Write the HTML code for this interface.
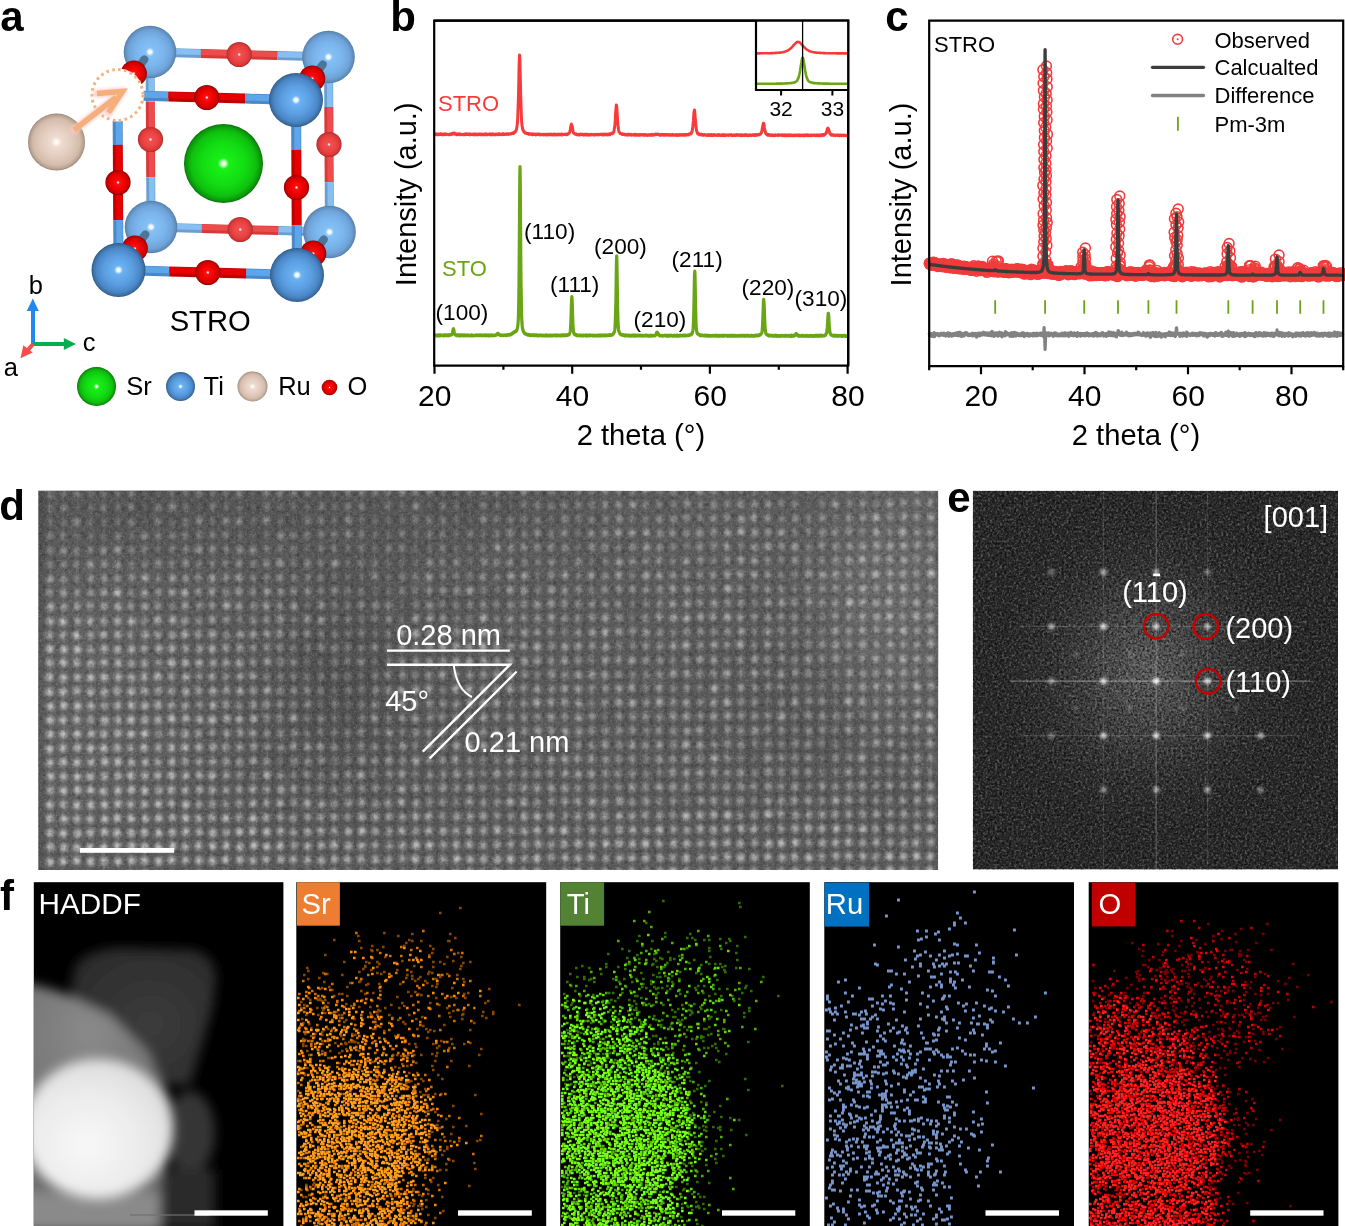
<!DOCTYPE html><html><head><meta charset="utf-8"><title>STRO figure</title><style>html,body{margin:0;padding:0;background:#fff;overflow:hidden}svg{display:block}text{font-family:"Liberation Sans",Arial,sans-serif}</style></head><body><svg width="1345" height="1226" viewBox="0 0 1345 1226" font-family="Liberation Sans, Arial, sans-serif"><defs><radialGradient id="tiF" cx=".5" cy=".5" r=".5"><stop offset="0" stop-color="#ffffff"/><stop offset="0.06" stop-color="#f0faff"/><stop offset="0.16" stop-color="#6ab2f2"/><stop offset="0.55" stop-color="#5a9de0"/><stop offset="0.82" stop-color="#4a86c6"/><stop offset="0.95" stop-color="#3b6c9f"/><stop offset="1" stop-color="#2b5680"/></radialGradient><radialGradient id="tiB" cx=".5" cy=".5" r=".5"><stop offset="0" stop-color="#ffffff"/><stop offset="0.06" stop-color="#f0faff"/><stop offset="0.16" stop-color="#84c0f6"/><stop offset="0.55" stop-color="#7ab4ec"/><stop offset="0.82" stop-color="#6ea3d8"/><stop offset="0.95" stop-color="#5f8cba"/><stop offset="1" stop-color="#4f78a2"/></radialGradient><radialGradient id="oF" cx=".5" cy=".5" r=".5"><stop offset="0" stop-color="#ffffff"/><stop offset="0.05" stop-color="#ffd0d0"/><stop offset="0.14" stop-color="#ff1010"/><stop offset="0.55" stop-color="#ee0000"/><stop offset="0.82" stop-color="#d00000"/><stop offset="0.95" stop-color="#a80000"/><stop offset="1" stop-color="#800000"/></radialGradient><radialGradient id="oB" cx=".5" cy=".5" r=".5"><stop offset="0" stop-color="#ffffff"/><stop offset="0.05" stop-color="#ffd8d8"/><stop offset="0.14" stop-color="#f25050"/><stop offset="0.55" stop-color="#ec4444"/><stop offset="0.82" stop-color="#dc3a3a"/><stop offset="0.95" stop-color="#c03030"/><stop offset="1" stop-color="#a02828"/></radialGradient><radialGradient id="srG" cx=".5" cy=".5" r=".5"><stop offset="0" stop-color="#ffffff"/><stop offset="0.05" stop-color="#d8ffd8"/><stop offset="0.14" stop-color="#18f018"/><stop offset="0.55" stop-color="#12dc12"/><stop offset="0.82" stop-color="#0fc00f"/><stop offset="0.95" stop-color="#0a960a"/><stop offset="1" stop-color="#087008"/></radialGradient><radialGradient id="ruG" cx=".5" cy=".5" r=".5"><stop offset="0" stop-color="#ffffff"/><stop offset="0.07" stop-color="#fff4ee"/><stop offset="0.18" stop-color="#eedcd0"/><stop offset="0.55" stop-color="#e2cbbd"/><stop offset="0.82" stop-color="#d4bcac"/><stop offset="0.95" stop-color="#b8a090"/><stop offset="1" stop-color="#98806e"/></radialGradient></defs><rect width="1345" height="1226" fill="#fff"/><line x1="150.0" y1="52.0" x2="200.9" y2="53.4" stroke="#6a9ed0" stroke-width="9"/><line x1="150.0" y1="50.9" x2="200.9" y2="52.3" stroke="#86bff0" stroke-width="5.6"/><line x1="200.9" y1="53.4" x2="277.6" y2="55.6" stroke="#d83838" stroke-width="9"/><line x1="200.9" y1="52.3" x2="277.7" y2="54.5" stroke="#ee4c4c" stroke-width="5.6"/><line x1="277.6" y1="55.6" x2="328.5" y2="57.0" stroke="#6a9ed0" stroke-width="9"/><line x1="277.7" y1="54.5" x2="328.5" y2="55.9" stroke="#86bff0" stroke-width="5.6"/><line x1="328.5" y1="57.0" x2="328.8" y2="106.9" stroke="#6a9ed0" stroke-width="9"/><line x1="329.6" y1="57.0" x2="329.9" y2="106.9" stroke="#86bff0" stroke-width="5.6"/><line x1="328.8" y1="106.9" x2="329.2" y2="182.1" stroke="#d83838" stroke-width="9"/><line x1="329.9" y1="106.9" x2="330.3" y2="182.1" stroke="#ee4c4c" stroke-width="5.6"/><line x1="329.2" y1="182.1" x2="329.5" y2="232.0" stroke="#6a9ed0" stroke-width="9"/><line x1="330.3" y1="182.1" x2="330.6" y2="232.0" stroke="#86bff0" stroke-width="5.6"/><line x1="151.0" y1="227.0" x2="201.9" y2="228.4" stroke="#6a9ed0" stroke-width="9"/><line x1="151.0" y1="225.9" x2="201.9" y2="227.3" stroke="#86bff0" stroke-width="5.6"/><line x1="201.9" y1="228.4" x2="278.6" y2="230.6" stroke="#d83838" stroke-width="9"/><line x1="201.9" y1="227.3" x2="278.7" y2="229.5" stroke="#ee4c4c" stroke-width="5.6"/><line x1="278.6" y1="230.6" x2="329.5" y2="232.0" stroke="#6a9ed0" stroke-width="9"/><line x1="278.7" y1="229.5" x2="329.5" y2="230.9" stroke="#86bff0" stroke-width="5.6"/><line x1="150.0" y1="52.0" x2="150.3" y2="101.9" stroke="#6a9ed0" stroke-width="9"/><line x1="151.1" y1="52.0" x2="151.4" y2="101.9" stroke="#86bff0" stroke-width="5.6"/><line x1="150.3" y1="101.9" x2="150.7" y2="177.1" stroke="#d83838" stroke-width="9"/><line x1="151.4" y1="101.9" x2="151.8" y2="177.1" stroke="#ee4c4c" stroke-width="5.6"/><line x1="150.7" y1="177.1" x2="151.0" y2="227.0" stroke="#6a9ed0" stroke-width="9"/><line x1="151.8" y1="177.1" x2="152.1" y2="227.0" stroke="#86bff0" stroke-width="5.6"/><circle cx="239.2" cy="54.5" r="12.6" fill="url(#oB)"/><circle cx="329.0" cy="144.5" r="12.6" fill="url(#oB)"/><circle cx="240.2" cy="229.5" r="12.6" fill="url(#oB)"/><circle cx="150.5" cy="139.5" r="12.6" fill="url(#oB)"/><circle cx="150.0" cy="52.0" r="26.3" fill="url(#tiB)"/><circle cx="328.5" cy="57.0" r="26.3" fill="url(#tiB)"/><circle cx="329.5" cy="232.0" r="26.3" fill="url(#tiB)"/><circle cx="151.0" cy="227.0" r="26.3" fill="url(#tiB)"/><line x1="144.3" y1="59.5" x2="133.8" y2="73.5" stroke="#4d7597" stroke-width="8" stroke-linecap="round"/><circle cx="133.8" cy="73.5" r="13.1" fill="url(#oF)"/><line x1="322.8" y1="64.5" x2="312.2" y2="78.5" stroke="#4d7597" stroke-width="8" stroke-linecap="round"/><circle cx="312.2" cy="78.5" r="13.1" fill="url(#oF)"/><line x1="145.3" y1="234.5" x2="134.8" y2="248.5" stroke="#4d7597" stroke-width="8" stroke-linecap="round"/><circle cx="134.8" cy="248.5" r="13.1" fill="url(#oF)"/><line x1="323.8" y1="239.5" x2="313.2" y2="253.5" stroke="#4d7597" stroke-width="8" stroke-linecap="round"/><circle cx="313.2" cy="253.5" r="13.1" fill="url(#oF)"/><circle cx="223.5" cy="163.5" r="39.5" fill="url(#srG)"/><line x1="117.5" y1="95.0" x2="168.4" y2="96.4" stroke="#4a88c8" stroke-width="10"/><line x1="117.5" y1="93.8" x2="168.4" y2="95.2" stroke="#5ea6ea" stroke-width="6.2"/><line x1="168.4" y1="96.4" x2="245.1" y2="98.6" stroke="#c00000" stroke-width="10"/><line x1="168.4" y1="95.2" x2="245.2" y2="97.4" stroke="#e60000" stroke-width="6.2"/><line x1="245.1" y1="98.6" x2="296.0" y2="100.0" stroke="#4a88c8" stroke-width="10"/><line x1="245.2" y1="97.4" x2="296.0" y2="98.8" stroke="#5ea6ea" stroke-width="6.2"/><line x1="296.0" y1="100.0" x2="296.3" y2="149.9" stroke="#4a88c8" stroke-width="10"/><line x1="297.2" y1="100.0" x2="297.5" y2="149.9" stroke="#5ea6ea" stroke-width="6.2"/><line x1="296.3" y1="149.9" x2="296.7" y2="225.1" stroke="#c00000" stroke-width="10"/><line x1="297.5" y1="149.9" x2="297.9" y2="225.1" stroke="#e60000" stroke-width="6.2"/><line x1="296.7" y1="225.1" x2="297.0" y2="275.0" stroke="#4a88c8" stroke-width="10"/><line x1="297.9" y1="225.1" x2="298.2" y2="275.0" stroke="#5ea6ea" stroke-width="6.2"/><line x1="118.5" y1="270.0" x2="169.4" y2="271.4" stroke="#4a88c8" stroke-width="10"/><line x1="118.5" y1="268.8" x2="169.4" y2="270.2" stroke="#5ea6ea" stroke-width="6.2"/><line x1="169.4" y1="271.4" x2="246.1" y2="273.6" stroke="#c00000" stroke-width="10"/><line x1="169.4" y1="270.2" x2="246.2" y2="272.4" stroke="#e60000" stroke-width="6.2"/><line x1="246.1" y1="273.6" x2="297.0" y2="275.0" stroke="#4a88c8" stroke-width="10"/><line x1="246.2" y1="272.4" x2="297.0" y2="273.8" stroke="#5ea6ea" stroke-width="6.2"/><line x1="117.5" y1="95.0" x2="117.8" y2="144.9" stroke="#4a88c8" stroke-width="10"/><line x1="118.7" y1="95.0" x2="119.0" y2="144.9" stroke="#5ea6ea" stroke-width="6.2"/><line x1="117.8" y1="144.9" x2="118.2" y2="220.1" stroke="#c00000" stroke-width="10"/><line x1="119.0" y1="144.9" x2="119.4" y2="220.1" stroke="#e60000" stroke-width="6.2"/><line x1="118.2" y1="220.1" x2="118.5" y2="270.0" stroke="#4a88c8" stroke-width="10"/><line x1="119.4" y1="220.1" x2="119.7" y2="270.0" stroke="#5ea6ea" stroke-width="6.2"/><circle cx="206.8" cy="97.5" r="12.6" fill="url(#oF)"/><circle cx="296.5" cy="187.5" r="12.6" fill="url(#oF)"/><circle cx="207.8" cy="272.5" r="12.6" fill="url(#oF)"/><circle cx="118.0" cy="182.5" r="12.6" fill="url(#oF)"/><circle cx="296.0" cy="100.0" r="27" fill="url(#tiF)"/><circle cx="297.0" cy="275.0" r="27" fill="url(#tiF)"/><circle cx="118.5" cy="270.0" r="27" fill="url(#tiF)"/><circle cx="117.5" cy="95.0" r="26.5" fill="#fff" stroke="none"/><circle cx="117.5" cy="95.0" r="25.5" fill="none" stroke="#f2b27e" stroke-width="3" stroke-dasharray="2.6 3.4"/><circle cx="56.5" cy="142.0" r="28.5" fill="url(#ruG)"/><defs><filter id="glow" x="-30%" y="-30%" width="160%" height="160%"><feGaussianBlur stdDeviation="1.6"/></filter></defs><g stroke="#ffc8c0" stroke-width="8" fill="none" stroke-linecap="round" stroke-linejoin="round" filter="url(#glow)" opacity=".8"><path d="M74,130 L118,96"/><path d="M97,93.5 L122.5,91.5 L108.5,112.5"/></g><g stroke="#f4af7c" stroke-width="5.5" fill="none" stroke-linecap="butt" stroke-linejoin="miter"><path d="M74,130 L116,97.5"/><path d="M97,93.5 L122.5,91.5 L108.5,112.5"/></g><text x="210.2" y="330.7" font-size="29.2" text-anchor="middle">STRO</text><g stroke-width="4" fill="none"><path d="M33,344 V309" stroke="#2287ee"/><path d="M33,344 H66" stroke="#05ae50"/><path d="M33,344 L25.5,353" stroke="#fa4c4c"/></g><path d="M32.8,298.5 L26.8,311 L38.8,311 Z" fill="#2287ee"/><path d="M76,344 L63.8,338 L63.8,350 Z" fill="#05ae50"/><path d="M20.5,358.2 L23.3,345.2 L32.7,352.6 Z" fill="#fa4c4c"/><text x="35.8" y="293.5" font-size="25.5" text-anchor="middle">b</text><text x="89.2" y="351.2" font-size="25.5" text-anchor="middle">c</text><text x="10.8" y="375.8" font-size="25.5" text-anchor="middle">a</text><circle cx="96.5" cy="386.5" r="19.5" fill="url(#srG)"/><text x="126.3" y="395" font-size="25.5">Sr</text><circle cx="180.5" cy="386.5" r="14.5" fill="url(#tiF)"/><text x="203.6" y="395" font-size="25.5">Ti</text><circle cx="252.5" cy="386.5" r="15" fill="url(#ruG)"/><text x="278.2" y="395" font-size="25.5">Ru</text><circle cx="329.5" cy="387.5" r="7.8" fill="url(#oF)"/><text x="347.5" y="395" font-size="25.5">O</text><text x="12" y="31" font-size="42" font-weight="bold" text-anchor="middle">a</text><polyline points="434.5,134.1 434.8,134.3 435.1,134.2 435.3,134.4 435.6,134.4 435.9,133.9 436.2,133.9 436.4,134.6 436.7,134.1 437.0,134.1 437.3,134.7 437.5,134.3 437.8,134.6 438.1,134.3 438.4,134.4 438.6,134.0 438.9,134.4 439.2,134.6 439.5,134.3 439.7,134.5 440.0,134.5 440.3,133.9 440.6,134.5 440.8,134.4 441.1,134.1 441.4,133.9 441.7,134.6 441.9,134.3 442.2,134.5 442.5,134.6 442.8,134.5 443.0,134.7 443.3,134.2 443.6,134.6 443.9,134.3 444.1,134.7 444.4,134.6 444.7,133.9 445.0,134.0 445.2,134.0 445.5,134.7 445.8,134.2 446.1,134.4 446.3,134.1 446.6,134.3 446.9,134.2 447.2,134.2 447.4,134.4 447.7,134.4 448.0,134.7 448.3,134.5 448.5,134.7 448.8,134.6 449.1,134.7 449.4,134.4 449.6,134.0 449.9,134.6 450.2,134.7 450.5,134.6 450.7,134.3 451.0,134.4 451.3,133.9 451.6,134.4 451.9,134.1 452.1,133.7 452.4,133.4 452.7,134.0 453.0,134.0 453.2,133.1 453.5,133.6 453.8,133.3 454.1,133.1 454.3,133.3 454.6,133.8 454.9,134.1 455.2,133.4 455.4,134.1 455.7,133.6 456.0,134.3 456.3,134.0 456.5,134.5 456.8,134.7 457.1,134.3 457.4,134.7 457.6,134.1 457.9,133.9 458.2,134.4 458.5,133.9 458.7,134.0 459.0,134.2 459.3,134.4 459.6,134.0 459.8,133.9 460.1,134.7 460.4,134.2 460.7,134.7 460.9,134.7 461.2,134.2 461.5,134.3 461.8,134.4 462.0,134.5 462.3,134.4 462.6,134.4 462.9,134.5 463.1,134.7 463.4,134.4 463.7,134.3 464.0,134.6 464.2,134.1 464.5,134.2 464.8,134.8 465.1,134.4 465.3,134.4 465.6,133.9 465.9,134.3 466.2,134.4 466.4,133.9 466.7,134.5 467.0,134.5 467.3,134.0 467.5,134.5 467.8,134.3 468.1,134.5 468.4,134.2 468.6,134.6 468.9,134.6 469.2,133.9 469.5,134.0 469.8,134.5 470.0,134.8 470.3,134.1 470.6,134.3 470.9,134.5 471.1,134.2 471.4,134.3 471.7,134.2 472.0,134.3 472.2,134.5 472.5,134.2 472.8,134.3 473.1,134.6 473.3,134.0 473.6,134.4 473.9,134.6 474.2,134.2 474.4,134.1 474.7,134.7 475.0,134.1 475.3,134.1 475.5,134.3 475.8,134.6 476.1,134.0 476.4,134.2 476.6,134.2 476.9,134.7 477.2,134.3 477.5,134.7 477.7,134.1 478.0,134.2 478.3,134.5 478.6,134.7 478.8,134.3 479.1,134.1 479.4,134.0 479.7,134.4 479.9,134.1 480.2,134.7 480.5,134.7 480.8,134.1 481.0,134.2 481.3,134.7 481.6,134.5 481.9,134.7 482.1,134.3 482.4,134.1 482.7,134.2 483.0,134.7 483.2,134.2 483.5,134.3 483.8,134.3 484.1,134.3 484.3,134.3 484.6,134.8 484.9,134.1 485.2,133.9 485.4,134.8 485.7,134.7 486.0,134.8 486.3,134.3 486.6,134.8 486.8,134.8 487.1,134.1 487.4,134.6 487.7,134.7 487.9,134.5 488.2,134.4 488.5,134.2 488.8,134.2 489.0,134.1 489.3,134.0 489.6,134.5 489.9,134.2 490.1,134.7 490.4,134.0 490.7,134.8 491.0,134.6 491.2,134.8 491.5,134.7 491.8,134.7 492.1,134.5 492.3,133.9 492.6,134.6 492.9,134.1 493.2,134.2 493.4,134.5 493.7,134.4 494.0,134.3 494.3,134.8 494.5,134.5 494.8,134.2 495.1,134.2 495.4,134.7 495.6,134.4 495.9,134.6 496.2,134.2 496.5,134.1 496.7,134.4 497.0,134.6 497.3,134.1 497.6,134.6 497.8,134.7 498.1,134.6 498.4,134.6 498.7,133.9 498.9,134.5 499.2,134.7 499.5,133.9 499.8,134.1 500.0,134.1 500.3,134.4 500.6,134.3 500.9,134.3 501.1,134.6 501.4,133.9 501.7,133.9 502.0,134.0 502.2,134.0 502.5,133.9 502.8,134.7 503.1,134.6 503.3,133.9 503.6,134.3 503.9,134.1 504.2,134.1 504.5,134.1 504.7,134.4 505.0,134.3 505.3,134.1 505.6,133.9 505.8,134.0 506.1,133.8 506.4,134.2 506.7,134.4 506.9,134.0 507.2,133.8 507.5,133.8 507.8,134.0 508.0,134.2 508.3,134.3 508.6,133.9 508.9,134.3 509.1,134.1 509.4,133.9 509.7,133.8 510.0,133.9 510.2,134.0 510.5,133.8 510.8,134.0 511.1,133.7 511.3,133.5 511.6,133.7 511.9,133.7 512.2,133.1 512.4,133.4 512.7,133.3 513.0,133.6 513.3,133.5 513.5,132.9 513.8,133.2 514.1,133.0 514.4,132.3 514.6,132.3 514.9,131.7 515.2,132.0 515.5,131.5 515.7,131.3 516.0,130.7 516.3,129.9 516.6,129.0 516.8,127.6 517.1,125.4 517.4,123.1 517.7,118.6 517.9,112.9 518.2,105.5 518.5,94.5 518.8,82.3 519.0,69.5 519.3,59.8 519.6,55.1 519.9,59.1 520.1,70.2 520.4,82.3 520.7,95.3 521.0,105.4 521.3,113.6 521.5,119.5 521.8,123.1 522.1,126.0 522.4,127.2 522.6,129.1 522.9,129.7 523.2,130.6 523.5,130.6 523.7,131.6 524.0,132.1 524.3,131.7 524.6,132.2 524.8,132.6 525.1,133.0 525.4,132.7 525.7,132.7 525.9,132.9 526.2,133.4 526.5,133.6 526.8,133.4 527.0,133.4 527.3,133.5 527.6,133.5 527.9,133.7 528.1,133.4 528.4,133.8 528.7,134.3 529.0,133.8 529.2,134.2 529.5,133.7 529.8,134.2 530.1,134.3 530.3,134.2 530.6,134.1 530.9,134.1 531.2,134.3 531.4,134.5 531.7,133.9 532.0,133.8 532.3,134.4 532.5,134.6 532.8,134.3 533.1,134.2 533.4,134.5 533.6,134.0 533.9,134.1 534.2,134.0 534.5,134.4 534.7,134.2 535.0,134.1 535.3,134.5 535.6,134.8 535.8,134.2 536.1,134.6 536.4,134.3 536.7,134.7 536.9,134.5 537.2,134.2 537.5,134.2 537.8,134.0 538.1,134.4 538.3,134.3 538.6,134.1 538.9,134.3 539.2,134.3 539.4,134.7 539.7,134.1 540.0,134.9 540.3,134.4 540.5,134.6 540.8,134.4 541.1,134.8 541.4,134.8 541.6,134.5 541.9,134.5 542.2,134.7 542.5,134.8 542.7,134.4 543.0,134.7 543.3,134.9 543.6,134.5 543.8,134.3 544.1,134.3 544.4,134.7 544.7,134.7 544.9,134.9 545.2,134.8 545.5,134.3 545.8,134.2 546.0,134.3 546.3,134.2 546.6,134.7 546.9,134.9 547.1,134.9 547.4,134.3 547.7,134.9 548.0,134.4 548.2,134.5 548.5,134.7 548.8,134.2 549.1,134.2 549.3,134.8 549.6,134.4 549.9,134.4 550.2,134.6 550.4,134.7 550.7,134.1 551.0,134.4 551.3,134.5 551.5,134.5 551.8,134.3 552.1,134.6 552.4,135.0 552.6,134.5 552.9,134.6 553.2,134.2 553.5,134.4 553.7,134.7 554.0,134.2 554.3,134.9 554.6,134.9 554.8,134.2 555.1,135.0 555.4,134.5 555.7,134.8 556.0,134.8 556.2,134.4 556.5,134.7 556.8,134.7 557.1,134.8 557.3,134.4 557.6,134.8 557.9,135.0 558.2,134.7 558.4,134.6 558.7,134.2 559.0,134.6 559.3,134.4 559.5,134.8 559.8,134.7 560.1,134.6 560.4,134.3 560.6,134.7 560.9,134.7 561.2,134.3 561.5,134.9 561.7,134.7 562.0,134.2 562.3,134.9 562.6,134.2 562.8,134.4 563.1,134.7 563.4,134.6 563.7,134.5 563.9,134.6 564.2,134.4 564.5,134.3 564.8,134.2 565.0,134.1 565.3,134.6 565.6,134.6 565.9,134.4 566.1,134.6 566.4,134.2 566.7,134.1 567.0,134.2 567.2,134.6 567.5,133.7 567.8,134.1 568.1,133.8 568.3,134.1 568.6,133.6 568.9,133.3 569.2,133.1 569.4,132.7 569.7,132.2 570.0,130.9 570.3,130.2 570.5,128.1 570.8,126.6 571.1,125.0 571.4,124.1 571.6,124.7 571.9,125.6 572.2,126.5 572.5,128.1 572.8,129.8 573.0,131.3 573.3,132.3 573.6,132.9 573.9,133.3 574.1,133.2 574.4,133.6 574.7,133.6 575.0,134.0 575.2,134.2 575.5,133.9 575.8,134.0 576.1,134.5 576.3,133.9 576.6,134.6 576.9,134.8 577.2,134.8 577.4,134.3 577.7,134.5 578.0,134.6 578.3,134.6 578.5,134.9 578.8,134.7 579.1,134.4 579.4,134.9 579.6,134.5 579.9,134.7 580.2,134.8 580.5,134.1 580.7,134.8 581.0,134.7 581.3,134.6 581.6,134.6 581.8,134.6 582.1,134.3 582.4,134.6 582.7,134.2 582.9,134.6 583.2,134.8 583.5,134.6 583.8,134.7 584.0,135.1 584.3,135.0 584.6,134.3 584.9,134.9 585.1,134.8 585.4,134.2 585.7,134.5 586.0,134.4 586.2,134.3 586.5,134.7 586.8,135.1 587.1,134.5 587.3,135.0 587.6,134.8 587.9,134.3 588.2,135.0 588.4,134.8 588.7,135.1 589.0,134.9 589.3,134.9 589.6,134.5 589.8,135.0 590.1,135.1 590.4,135.0 590.7,134.6 590.9,134.9 591.2,134.7 591.5,134.3 591.8,134.3 592.0,134.3 592.3,134.4 592.6,134.4 592.9,134.7 593.1,134.9 593.4,134.7 593.7,134.6 594.0,134.8 594.2,134.5 594.5,134.7 594.8,134.9 595.1,134.6 595.3,134.4 595.6,135.0 595.9,134.9 596.2,134.6 596.4,134.6 596.7,134.7 597.0,134.8 597.3,134.4 597.5,134.2 597.8,134.4 598.1,134.9 598.4,134.4 598.6,134.6 598.9,134.4 599.2,134.4 599.5,134.4 599.7,134.6 600.0,134.4 600.3,134.2 600.6,134.3 600.8,134.4 601.1,134.6 601.4,134.3 601.7,134.2 601.9,134.6 602.2,134.6 602.5,134.8 602.8,134.2 603.0,134.5 603.3,134.5 603.6,134.2 603.9,135.0 604.1,134.4 604.4,134.2 604.7,134.6 605.0,134.3 605.2,134.7 605.5,134.4 605.8,134.2 606.1,134.1 606.3,134.7 606.6,134.3 606.9,134.8 607.2,134.5 607.5,134.9 607.7,134.3 608.0,134.2 608.3,134.2 608.6,134.7 608.8,134.5 609.1,134.2 609.4,133.9 609.7,134.4 609.9,134.6 610.2,134.3 610.5,133.7 610.8,133.6 611.0,133.6 611.3,133.6 611.6,133.4 611.9,133.3 612.1,133.7 612.4,133.7 612.7,132.9 613.0,133.3 613.2,132.6 613.5,132.4 613.8,131.8 614.1,130.9 614.3,128.7 614.6,126.9 614.9,124.5 615.2,121.3 615.4,116.3 615.7,112.0 616.0,108.3 616.3,105.0 616.5,105.3 616.8,107.8 617.1,112.3 617.4,117.1 617.6,120.6 617.9,124.6 618.2,127.3 618.5,129.4 618.7,130.5 619.0,131.8 619.3,132.0 619.6,132.5 619.8,132.7 620.1,133.5 620.4,133.4 620.7,133.4 620.9,133.4 621.2,134.0 621.5,134.0 621.8,134.2 622.0,134.0 622.3,134.1 622.6,133.9 622.9,134.5 623.1,133.9 623.4,134.3 623.7,134.6 624.0,134.6 624.3,134.1 624.5,134.2 624.8,134.8 625.1,134.6 625.4,134.9 625.6,134.9 625.9,134.5 626.2,134.9 626.5,134.8 626.7,134.5 627.0,134.5 627.3,134.3 627.6,134.6 627.8,135.1 628.1,134.3 628.4,134.7 628.7,134.3 628.9,134.3 629.2,134.8 629.5,134.5 629.8,134.3 630.0,134.4 630.3,134.9 630.6,134.8 630.9,134.3 631.1,134.5 631.4,135.2 631.7,134.5 632.0,134.8 632.2,134.7 632.5,135.0 632.8,134.9 633.1,135.0 633.3,134.8 633.6,134.5 633.9,134.5 634.2,134.4 634.4,135.1 634.7,134.4 635.0,134.4 635.3,135.2 635.5,134.5 635.8,135.2 636.1,134.4 636.4,134.8 636.6,134.6 636.9,135.1 637.2,134.9 637.5,134.9 637.7,135.1 638.0,135.2 638.3,134.7 638.6,134.9 638.8,134.8 639.1,134.5 639.4,135.1 639.7,134.9 639.9,135.1 640.2,134.6 640.5,134.9 640.8,134.8 641.0,135.0 641.3,134.5 641.6,134.7 641.9,134.8 642.2,134.5 642.4,134.9 642.7,135.1 643.0,134.8 643.3,135.0 643.5,134.9 643.8,134.6 644.1,134.7 644.4,135.3 644.6,134.7 644.9,134.8 645.2,134.5 645.5,134.6 645.7,134.6 646.0,135.3 646.3,135.1 646.6,135.2 646.8,135.3 647.1,135.0 647.4,135.3 647.7,134.9 647.9,134.8 648.2,135.3 648.5,135.2 648.8,135.3 649.0,134.9 649.3,135.1 649.6,134.8 649.9,135.3 650.1,135.2 650.4,134.7 650.7,135.3 651.0,134.6 651.2,134.5 651.5,135.1 651.8,134.7 652.1,134.9 652.3,135.0 652.6,134.4 652.9,135.1 653.2,134.6 653.4,134.8 653.7,134.7 654.0,135.0 654.3,135.0 654.5,134.5 654.8,134.3 655.1,134.4 655.4,134.5 655.6,134.1 655.9,134.0 656.2,134.5 656.5,134.3 656.7,134.5 657.0,134.6 657.3,134.5 657.6,134.1 657.8,134.1 658.1,134.3 658.4,134.5 658.7,134.7 659.0,134.7 659.2,134.6 659.5,135.1 659.8,134.6 660.1,134.8 660.3,135.2 660.6,135.1 660.9,134.7 661.2,134.6 661.4,135.2 661.7,134.4 662.0,134.6 662.3,134.9 662.5,134.9 662.8,134.6 663.1,134.5 663.4,134.6 663.6,135.2 663.9,134.9 664.2,135.3 664.5,135.2 664.7,135.3 665.0,134.5 665.3,134.6 665.6,134.5 665.8,134.9 666.1,134.8 666.4,134.5 666.7,135.0 666.9,134.6 667.2,134.8 667.5,134.7 667.8,135.2 668.0,134.9 668.3,134.7 668.6,134.5 668.9,134.9 669.1,135.0 669.4,135.1 669.7,135.3 670.0,135.2 670.2,134.7 670.5,134.6 670.8,135.2 671.1,135.2 671.3,134.9 671.6,135.2 671.9,135.0 672.2,134.7 672.4,134.6 672.7,134.5 673.0,135.1 673.3,135.3 673.5,135.3 673.8,134.9 674.1,135.1 674.4,135.3 674.6,135.2 674.9,135.0 675.2,134.9 675.5,134.9 675.8,134.6 676.0,134.6 676.3,135.1 676.6,135.4 676.9,135.0 677.1,134.8 677.4,134.8 677.7,134.9 678.0,135.2 678.2,134.9 678.5,135.3 678.8,134.6 679.1,134.7 679.3,134.9 679.6,134.8 679.9,135.2 680.2,135.2 680.4,135.3 680.7,135.0 681.0,134.5 681.3,135.0 681.5,134.9 681.8,134.9 682.1,134.7 682.4,135.1 682.6,135.2 682.9,134.5 683.2,135.0 683.5,134.7 683.7,134.8 684.0,135.2 684.3,135.2 684.6,134.9 684.8,134.5 685.1,135.2 685.4,134.5 685.7,134.7 685.9,135.0 686.2,134.6 686.5,134.5 686.8,135.1 687.0,135.1 687.3,134.5 687.6,134.5 687.9,134.4 688.1,134.2 688.4,134.3 688.7,134.9 689.0,134.0 689.2,134.1 689.5,134.0 689.8,133.8 690.1,134.0 690.3,134.1 690.6,134.0 690.9,133.6 691.2,133.6 691.4,132.5 691.7,132.2 692.0,132.1 692.3,130.2 692.5,128.9 692.8,127.0 693.1,124.0 693.4,120.9 693.7,116.7 693.9,113.3 694.2,111.3 694.5,110.0 694.8,112.4 695.0,115.0 695.3,119.5 695.6,122.8 695.9,125.8 696.1,127.8 696.4,129.5 696.7,131.4 697.0,131.8 697.2,132.4 697.5,133.4 697.8,133.8 698.1,133.2 698.3,134.3 698.6,134.0 698.9,134.0 699.2,133.9 699.4,134.2 699.7,134.8 700.0,134.2 700.3,134.2 700.5,134.2 700.8,134.2 701.1,134.5 701.4,135.0 701.6,134.3 701.9,134.4 702.2,135.1 702.5,135.2 702.7,135.2 703.0,134.6 703.3,134.7 703.6,135.2 703.8,134.8 704.1,135.0 704.4,134.7 704.7,134.5 704.9,134.8 705.2,135.1 705.5,135.2 705.8,135.0 706.0,134.9 706.3,135.0 706.6,134.9 706.9,135.0 707.1,135.3 707.4,134.7 707.7,135.1 708.0,135.4 708.2,135.3 708.5,134.7 708.8,135.4 709.1,135.3 709.3,134.7 709.6,134.8 709.9,134.7 710.2,134.6 710.5,135.4 710.7,134.9 711.0,135.4 711.3,134.7 711.6,134.6 711.8,135.4 712.1,135.3 712.4,135.5 712.7,135.2 712.9,135.1 713.2,135.3 713.5,134.7 713.8,135.1 714.0,135.0 714.3,134.7 714.6,135.1 714.9,134.9 715.1,135.1 715.4,134.9 715.7,134.9 716.0,134.9 716.2,135.2 716.5,135.5 716.8,135.5 717.1,135.4 717.3,135.4 717.6,134.9 717.9,135.5 718.2,134.9 718.4,134.7 718.7,135.1 719.0,135.3 719.3,134.9 719.5,135.2 719.8,134.9 720.1,135.5 720.4,135.0 720.6,135.1 720.9,135.1 721.2,135.4 721.5,135.5 721.7,135.1 722.0,135.0 722.3,135.2 722.6,134.7 722.8,135.0 723.1,135.4 723.4,135.4 723.7,134.7 723.9,135.4 724.2,135.0 724.5,135.5 724.8,135.0 725.0,134.9 725.3,135.2 725.6,135.5 725.9,135.1 726.1,135.4 726.4,135.3 726.7,135.0 727.0,134.9 727.3,135.1 727.5,135.0 727.8,135.0 728.1,135.3 728.4,135.5 728.6,135.2 728.9,134.8 729.2,134.9 729.5,135.0 729.7,135.2 730.0,134.8 730.3,134.8 730.6,135.0 730.8,134.9 731.1,134.7 731.4,135.2 731.7,135.5 731.9,135.2 732.2,135.3 732.5,135.4 732.8,135.4 733.0,135.5 733.3,135.1 733.6,135.3 733.9,134.8 734.1,135.5 734.4,135.0 734.7,135.1 735.0,135.5 735.2,135.0 735.5,134.9 735.8,135.4 736.1,135.2 736.3,134.8 736.6,134.7 736.9,135.0 737.2,134.7 737.4,135.4 737.7,134.9 738.0,134.9 738.3,135.0 738.5,135.2 738.8,135.1 739.1,135.3 739.4,135.3 739.6,135.1 739.9,134.8 740.2,135.6 740.5,135.3 740.7,134.8 741.0,135.1 741.3,135.4 741.6,135.6 741.8,134.8 742.1,134.7 742.4,135.1 742.7,135.1 742.9,135.5 743.2,135.5 743.5,135.0 743.8,135.1 744.0,135.2 744.3,135.5 744.6,134.9 744.9,135.1 745.2,134.8 745.4,135.3 745.7,134.7 746.0,135.5 746.3,135.2 746.5,135.2 746.8,134.8 747.1,134.9 747.4,135.1 747.6,135.5 747.9,135.2 748.2,135.0 748.5,135.6 748.7,135.3 749.0,135.2 749.3,134.9 749.6,135.0 749.8,135.5 750.1,134.8 750.4,135.2 750.7,135.2 750.9,135.0 751.2,135.4 751.5,135.5 751.8,135.5 752.0,135.3 752.3,134.9 752.6,134.7 752.9,135.1 753.1,134.9 753.4,134.8 753.7,135.4 754.0,134.8 754.2,135.4 754.5,135.5 754.8,134.7 755.1,135.4 755.3,135.0 755.6,134.8 755.9,134.8 756.2,134.6 756.4,135.0 756.7,134.9 757.0,135.3 757.3,135.2 757.5,134.5 757.8,134.8 758.1,134.8 758.4,134.5 758.6,134.6 758.9,134.5 759.2,134.8 759.5,134.4 759.7,134.1 760.0,134.1 760.3,134.2 760.6,134.0 760.8,133.4 761.1,133.4 761.4,132.3 761.7,131.9 762.0,130.7 762.2,128.9 762.5,127.7 762.8,125.6 763.1,124.2 763.3,123.3 763.6,123.3 763.9,124.1 764.2,125.3 764.4,127.7 764.7,129.5 765.0,130.6 765.3,131.8 765.5,132.4 765.8,133.6 766.1,133.9 766.4,133.8 766.6,134.5 766.9,134.8 767.2,134.4 767.5,135.1 767.7,134.7 768.0,134.5 768.3,135.0 768.6,134.7 768.8,135.1 769.1,135.0 769.4,134.6 769.7,135.0 769.9,135.3 770.2,135.0 770.5,135.1 770.8,135.4 771.0,135.0 771.3,135.1 771.6,135.2 771.9,135.4 772.1,134.9 772.4,134.8 772.7,135.4 773.0,135.2 773.2,135.0 773.5,135.5 773.8,135.5 774.1,135.2 774.3,135.6 774.6,135.5 774.9,135.4 775.2,135.0 775.4,134.8 775.7,135.4 776.0,135.4 776.3,135.1 776.5,135.2 776.8,135.3 777.1,135.0 777.4,135.4 777.6,135.3 777.9,135.1 778.2,134.9 778.5,135.3 778.8,135.1 779.0,135.4 779.3,135.0 779.6,135.2 779.9,135.0 780.1,135.2 780.4,135.3 780.7,134.9 781.0,134.9 781.2,135.2 781.5,135.0 781.8,135.3 782.1,135.0 782.3,134.9 782.6,135.3 782.9,135.7 783.2,135.6 783.4,135.3 783.7,135.2 784.0,134.9 784.3,135.1 784.5,135.1 784.8,135.7 785.1,134.9 785.4,135.7 785.6,135.3 785.9,135.2 786.2,135.1 786.5,135.7 786.7,135.0 787.0,135.4 787.3,135.3 787.6,135.0 787.8,135.0 788.1,135.7 788.4,135.6 788.7,135.5 788.9,135.7 789.2,134.9 789.5,135.5 789.8,135.5 790.0,135.1 790.3,135.3 790.6,135.7 790.9,135.2 791.1,135.5 791.4,135.0 791.7,135.5 792.0,135.1 792.2,135.3 792.5,135.2 792.8,135.7 793.1,135.5 793.3,135.3 793.6,135.5 793.9,135.3 794.2,135.6 794.4,135.1 794.7,135.4 795.0,135.4 795.3,135.2 795.5,134.9 795.8,135.0 796.1,135.5 796.4,135.1 796.7,135.6 796.9,135.3 797.2,135.7 797.5,135.6 797.8,135.5 798.0,135.2 798.3,134.9 798.6,135.4 798.9,135.6 799.1,135.7 799.4,135.1 799.7,135.0 800.0,135.8 800.2,135.6 800.5,135.3 800.8,135.6 801.1,135.0 801.3,135.4 801.6,135.5 801.9,135.4 802.2,135.0 802.4,135.0 802.7,135.5 803.0,135.7 803.3,135.0 803.5,134.9 803.8,135.0 804.1,135.6 804.4,135.3 804.6,135.3 804.9,135.8 805.2,135.5 805.5,135.1 805.7,135.5 806.0,134.9 806.3,135.2 806.6,135.5 806.8,135.1 807.1,134.9 807.4,135.4 807.7,135.2 807.9,135.8 808.2,135.0 808.5,135.6 808.8,135.3 809.0,135.6 809.3,135.3 809.6,135.5 809.9,135.2 810.1,135.1 810.4,135.3 810.7,135.6 811.0,135.2 811.2,135.1 811.5,135.3 811.8,135.0 812.1,135.2 812.3,135.4 812.6,135.4 812.9,135.4 813.2,135.2 813.5,134.9 813.7,134.9 814.0,135.2 814.3,135.1 814.6,135.4 814.8,135.1 815.1,135.6 815.4,135.4 815.7,135.5 815.9,135.6 816.2,135.4 816.5,135.3 816.8,135.2 817.0,134.9 817.3,135.6 817.6,135.3 817.9,135.0 818.1,135.7 818.4,135.4 818.7,135.4 819.0,135.3 819.2,135.0 819.5,135.7 819.8,135.0 820.1,135.2 820.3,135.7 820.6,134.9 820.9,135.3 821.2,135.2 821.4,135.0 821.7,135.6 822.0,135.1 822.3,134.7 822.5,135.1 822.8,134.7 823.1,135.3 823.4,135.4 823.6,135.4 823.9,134.6 824.2,135.1 824.5,134.6 824.7,134.7 825.0,134.4 825.3,134.1 825.6,133.7 825.8,133.7 826.1,132.7 826.4,132.8 826.7,131.2 826.9,131.1 827.2,129.4 827.5,128.5 827.8,128.5 828.0,128.2 828.3,128.8 828.6,129.3 828.9,130.3 829.1,130.8 829.4,132.2 829.7,132.8 830.0,133.8 830.2,133.4 830.5,133.8 830.8,134.6 831.1,135.0 831.4,134.7 831.6,135.1 831.9,135.0 832.2,134.9 832.5,135.0 832.7,135.2 833.0,134.7 833.3,135.0 833.6,135.4 833.8,135.0 834.1,135.2 834.4,135.0 834.7,135.2 834.9,135.4 835.2,135.5 835.5,135.7 835.8,135.3 836.0,135.1 836.3,135.2 836.6,135.0 836.9,135.1 837.1,135.4 837.4,135.5 837.7,135.1 838.0,135.1 838.2,135.0 838.5,135.1 838.8,135.4 839.1,135.2 839.3,135.8 839.6,135.5 839.9,135.3 840.2,135.4 840.4,135.0 840.7,135.6 841.0,135.7 841.3,135.3 841.5,135.6 841.8,135.2 842.1,135.2 842.4,135.2 842.6,135.2 842.9,135.5 843.2,135.6 843.5,135.7 843.7,135.1 844.0,135.7 844.3,135.4 844.6,135.3 844.8,135.5 845.1,135.4 845.4,135.2 845.7,135.4 845.9,135.6 846.2,135.7 846.5,135.8 846.8,135.2 847.0,135.8 847.3,135.7 847.6,135.7" fill="none" stroke="#f83a3a" stroke-width="3" stroke-linejoin="round"/><polyline points="434.5,335.8 434.7,335.1 434.9,335.6 435.1,335.7 435.3,335.0 435.5,335.5 435.7,335.8 435.9,335.2 436.2,335.7 436.4,335.8 436.6,335.3 436.8,335.1 437.0,335.1 437.2,335.7 437.4,335.3 437.6,335.2 437.8,335.3 438.0,335.8 438.2,335.2 438.4,335.0 438.6,335.8 438.8,335.2 439.0,335.3 439.3,335.8 439.5,335.2 439.7,335.0 439.9,335.7 440.1,335.2 440.3,335.1 440.5,335.8 440.7,335.1 440.9,335.7 441.1,335.2 441.3,335.2 441.5,335.1 441.7,335.4 441.9,335.4 442.1,335.3 442.3,335.4 442.6,335.2 442.8,335.7 443.0,335.8 443.2,335.6 443.4,335.7 443.6,335.0 443.8,335.2 444.0,335.1 444.2,335.1 444.4,335.8 444.6,335.7 444.8,335.7 445.0,335.4 445.2,335.0 445.4,335.3 445.7,335.0 445.9,335.7 446.1,335.2 446.3,335.2 446.5,335.8 446.7,335.1 446.9,335.7 447.1,335.2 447.3,335.5 447.5,335.0 447.7,335.7 447.9,335.2 448.1,335.2 448.3,335.5 448.5,335.4 448.8,335.1 449.0,335.0 449.2,335.4 449.4,334.8 449.6,335.6 449.8,335.1 450.0,334.9 450.2,335.1 450.4,334.8 450.6,335.0 450.8,335.1 451.0,335.0 451.2,334.8 451.4,334.7 451.6,334.7 451.9,334.7 452.1,334.0 452.3,333.7 452.5,332.7 452.7,331.4 452.9,330.4 453.1,330.0 453.3,328.9 453.5,328.7 453.7,329.4 453.9,330.7 454.1,331.3 454.3,332.3 454.5,333.1 454.7,333.5 454.9,334.4 455.2,334.6 455.4,334.8 455.6,334.9 455.8,335.0 456.0,335.3 456.2,334.9 456.4,335.6 456.6,334.9 456.8,335.6 457.0,335.0 457.2,335.5 457.4,335.1 457.6,334.9 457.8,335.3 458.0,335.6 458.3,335.6 458.5,335.7 458.7,335.8 458.9,334.9 459.1,335.2 459.3,335.0 459.5,335.6 459.7,335.3 459.9,335.6 460.1,335.6 460.3,335.8 460.5,335.5 460.7,335.7 460.9,335.4 461.1,335.0 461.4,335.7 461.6,335.0 461.8,335.0 462.0,335.7 462.2,335.2 462.4,335.5 462.6,335.0 462.8,335.1 463.0,335.6 463.2,335.0 463.4,335.4 463.6,335.8 463.8,335.1 464.0,335.6 464.2,335.6 464.4,335.5 464.7,335.6 464.9,335.6 465.1,335.0 465.3,335.1 465.5,335.4 465.7,335.8 465.9,335.2 466.1,335.5 466.3,335.1 466.5,335.7 466.7,335.4 466.9,335.4 467.1,335.6 467.3,335.1 467.5,335.6 467.8,335.7 468.0,335.7 468.2,335.2 468.4,335.2 468.6,335.1 468.8,335.8 469.0,335.4 469.2,335.3 469.4,335.4 469.6,335.6 469.8,335.3 470.0,335.3 470.2,335.7 470.4,335.7 470.6,335.2 470.9,335.0 471.1,335.8 471.3,335.6 471.5,335.5 471.7,335.3 471.9,335.8 472.1,335.4 472.3,335.2 472.5,335.1 472.7,335.3 472.9,335.5 473.1,335.3 473.3,335.8 473.5,335.6 473.7,335.4 474.0,335.6 474.2,335.5 474.4,335.5 474.6,335.4 474.8,335.4 475.0,335.4 475.2,335.7 475.4,335.1 475.6,335.7 475.8,335.2 476.0,335.7 476.2,335.0 476.4,335.4 476.6,335.4 476.8,335.6 477.0,335.2 477.3,335.2 477.5,335.1 477.7,335.5 477.9,335.5 478.1,335.0 478.3,335.1 478.5,335.2 478.7,335.8 478.9,335.4 479.1,335.5 479.3,335.2 479.5,335.6 479.7,335.7 479.9,335.6 480.1,335.0 480.4,335.4 480.6,335.4 480.8,335.0 481.0,335.7 481.2,335.3 481.4,335.2 481.6,335.5 481.8,335.5 482.0,335.4 482.2,335.7 482.4,335.4 482.6,335.3 482.8,335.0 483.0,335.5 483.2,335.3 483.5,335.5 483.7,335.3 483.9,335.0 484.1,335.0 484.3,335.1 484.5,335.1 484.7,335.7 484.9,335.5 485.1,335.2 485.3,335.6 485.5,335.5 485.7,335.0 485.9,335.6 486.1,335.2 486.3,335.9 486.6,335.1 486.8,335.2 487.0,335.2 487.2,335.7 487.4,335.7 487.6,335.5 487.8,335.1 488.0,335.3 488.2,335.6 488.4,335.0 488.6,335.8 488.8,335.7 489.0,335.8 489.2,335.6 489.4,335.5 489.6,335.8 489.9,335.2 490.1,335.2 490.3,335.1 490.5,335.1 490.7,335.7 490.9,335.0 491.1,335.6 491.3,335.3 491.5,335.7 491.7,335.6 491.9,335.5 492.1,335.7 492.3,335.0 492.5,335.2 492.7,335.2 493.0,335.3 493.2,335.5 493.4,335.7 493.6,335.6 493.8,335.7 494.0,335.5 494.2,335.2 494.4,335.3 494.6,335.5 494.8,335.6 495.0,335.1 495.2,335.1 495.4,335.3 495.6,334.9 495.8,335.4 496.1,334.6 496.3,335.0 496.5,334.7 496.7,334.3 496.9,334.4 497.1,334.0 497.3,334.2 497.5,333.9 497.7,333.5 497.9,333.7 498.1,333.8 498.3,333.4 498.5,334.2 498.7,334.5 498.9,334.9 499.2,334.9 499.4,334.7 499.6,334.7 499.8,335.2 500.0,334.8 500.2,335.4 500.4,335.2 500.6,335.5 500.8,335.1 501.0,335.1 501.2,335.6 501.4,335.4 501.6,335.1 501.8,335.3 502.0,335.2 502.2,335.4 502.5,335.3 502.7,335.1 502.9,335.7 503.1,335.6 503.3,335.5 503.5,335.0 503.7,335.0 503.9,335.4 504.1,335.5 504.3,335.4 504.5,335.0 504.7,335.4 504.9,335.2 505.1,335.1 505.3,335.3 505.6,335.1 505.8,335.3 506.0,335.4 506.2,335.6 506.4,334.8 506.6,335.2 506.8,335.5 507.0,335.2 507.2,335.2 507.4,335.4 507.6,334.6 507.8,335.3 508.0,335.1 508.2,335.1 508.4,334.8 508.7,335.1 508.9,334.6 509.1,334.9 509.3,334.6 509.5,335.2 509.7,335.0 509.9,334.7 510.1,334.9 510.3,334.5 510.5,334.5 510.7,334.1 510.9,334.7 511.1,334.5 511.3,334.4 511.5,333.6 511.7,334.2 512.0,333.3 512.2,333.7 512.4,333.5 512.6,332.9 512.8,333.1 513.0,333.3 513.2,332.9 513.4,332.5 513.6,332.8 513.8,332.2 514.0,332.6 514.2,332.0 514.4,331.6 514.6,332.3 514.8,331.4 515.1,331.5 515.3,331.9 515.5,331.2 515.7,331.5 515.9,331.6 516.1,331.2 516.3,330.8 516.5,330.9 516.7,330.6 516.9,329.9 517.1,329.4 517.3,328.4 517.5,327.5 517.7,326.8 517.9,324.9 518.2,321.3 518.4,317.1 518.6,310.0 518.8,299.3 519.0,282.2 519.2,259.5 519.4,232.0 519.6,201.4 519.8,177.2 520.0,166.7 520.2,177.2 520.4,202.1 520.6,231.6 520.8,260.2 521.0,282.6 521.3,299.1 521.5,310.1 521.7,317.9 521.9,322.2 522.1,324.8 522.3,327.1 522.5,327.9 522.7,329.2 522.9,329.7 523.1,330.6 523.3,331.6 523.5,331.7 523.7,331.8 523.9,332.2 524.1,332.9 524.3,332.8 524.6,333.5 524.8,333.0 525.0,333.9 525.2,333.8 525.4,334.1 525.6,333.8 525.8,333.7 526.0,333.9 526.2,334.4 526.4,333.9 526.6,334.0 526.8,334.7 527.0,334.9 527.2,334.9 527.4,334.9 527.7,334.7 527.9,335.1 528.1,334.9 528.3,334.8 528.5,334.8 528.7,334.4 528.9,334.5 529.1,334.7 529.3,334.9 529.5,334.6 529.7,335.4 529.9,335.1 530.1,335.3 530.3,335.4 530.5,334.8 530.8,335.4 531.0,335.5 531.2,334.9 531.4,334.8 531.6,335.4 531.8,335.5 532.0,335.4 532.2,335.1 532.4,335.3 532.6,334.9 532.8,335.0 533.0,335.2 533.2,335.5 533.4,334.9 533.6,335.6 533.9,334.8 534.1,335.7 534.3,335.0 534.5,335.6 534.7,335.6 534.9,335.7 535.1,335.3 535.3,335.5 535.5,335.1 535.7,335.6 535.9,335.0 536.1,335.7 536.3,335.4 536.5,335.0 536.7,335.7 536.9,335.2 537.2,335.0 537.4,335.1 537.6,334.9 537.8,335.2 538.0,335.6 538.2,335.8 538.4,335.5 538.6,335.7 538.8,335.7 539.0,335.6 539.2,335.3 539.4,335.2 539.6,335.1 539.8,335.4 540.0,335.1 540.3,335.6 540.5,335.3 540.7,335.5 540.9,335.5 541.1,335.5 541.3,335.1 541.5,335.2 541.7,335.6 541.9,335.2 542.1,335.6 542.3,335.9 542.5,335.3 542.7,335.9 542.9,335.5 543.1,335.8 543.4,335.5 543.6,335.7 543.8,335.6 544.0,335.2 544.2,335.5 544.4,335.5 544.6,335.4 544.8,335.6 545.0,335.8 545.2,335.7 545.4,335.7 545.6,335.1 545.8,335.6 546.0,335.6 546.2,335.9 546.5,335.0 546.7,335.2 546.9,335.9 547.1,335.4 547.3,335.7 547.5,335.6 547.7,335.4 547.9,335.4 548.1,335.5 548.3,335.9 548.5,335.5 548.7,335.7 548.9,335.3 549.1,335.7 549.3,335.6 549.5,335.7 549.8,335.8 550.0,335.1 550.2,335.9 550.4,335.6 550.6,335.3 550.8,335.4 551.0,335.1 551.2,335.2 551.4,335.8 551.6,335.7 551.8,335.8 552.0,335.2 552.2,335.1 552.4,335.4 552.6,335.5 552.9,335.7 553.1,335.3 553.3,335.7 553.5,335.6 553.7,335.3 553.9,335.7 554.1,335.1 554.3,335.6 554.5,335.2 554.7,335.1 554.9,335.5 555.1,335.5 555.3,335.6 555.5,335.4 555.7,335.9 556.0,335.7 556.2,335.2 556.4,335.0 556.6,335.9 556.8,335.4 557.0,335.1 557.2,335.2 557.4,335.7 557.6,335.2 557.8,335.4 558.0,335.6 558.2,335.3 558.4,335.6 558.6,335.9 558.8,335.7 559.0,335.6 559.3,335.6 559.5,335.3 559.7,335.6 559.9,335.6 560.1,335.5 560.3,335.5 560.5,335.7 560.7,335.2 560.9,335.6 561.1,335.9 561.3,335.0 561.5,335.2 561.7,335.9 561.9,335.1 562.1,335.7 562.4,335.5 562.6,335.0 562.8,335.5 563.0,335.0 563.2,335.7 563.4,335.2 563.6,335.8 563.8,335.7 564.0,335.0 564.2,335.3 564.4,335.0 564.6,335.6 564.8,335.0 565.0,334.9 565.2,335.0 565.5,335.6 565.7,335.0 565.9,335.1 566.1,335.2 566.3,335.3 566.5,335.1 566.7,335.6 566.9,335.0 567.1,335.1 567.3,335.4 567.5,334.8 567.7,334.6 567.9,335.2 568.1,334.6 568.3,335.1 568.6,334.9 568.8,334.4 569.0,334.2 569.2,333.8 569.4,334.2 569.6,333.5 569.8,333.0 570.0,332.2 570.2,331.3 570.4,330.2 570.6,327.0 570.8,323.5 571.0,318.4 571.2,311.9 571.4,305.0 571.6,299.2 571.9,296.7 572.1,299.6 572.3,305.3 572.5,311.9 572.7,318.1 572.9,323.9 573.1,327.0 573.3,329.6 573.5,331.6 573.7,332.8 573.9,333.2 574.1,333.3 574.3,334.3 574.5,333.8 574.7,334.2 575.0,334.9 575.2,334.9 575.4,334.9 575.6,334.4 575.8,335.2 576.0,334.9 576.2,334.6 576.4,335.3 576.6,335.5 576.8,334.7 577.0,335.1 577.2,335.6 577.4,335.1 577.6,335.1 577.8,335.5 578.1,335.2 578.3,335.8 578.5,335.6 578.7,335.7 578.9,335.5 579.1,335.1 579.3,335.5 579.5,335.5 579.7,335.4 579.9,335.5 580.1,335.2 580.3,335.2 580.5,335.8 580.7,335.3 580.9,335.1 581.2,335.9 581.4,335.5 581.6,335.6 581.8,335.3 582.0,335.2 582.2,335.3 582.4,335.8 582.6,335.3 582.8,335.9 583.0,335.3 583.2,335.9 583.4,335.2 583.6,335.4 583.8,335.2 584.0,335.2 584.2,335.5 584.5,335.4 584.7,335.5 584.9,335.3 585.1,335.3 585.3,335.4 585.5,335.9 585.7,335.1 585.9,335.4 586.1,335.8 586.3,335.6 586.5,335.3 586.7,336.0 586.9,335.2 587.1,335.2 587.3,335.1 587.6,335.5 587.8,335.9 588.0,335.3 588.2,335.3 588.4,335.8 588.6,335.2 588.8,335.1 589.0,335.7 589.2,335.2 589.4,335.6 589.6,335.2 589.8,335.6 590.0,335.9 590.2,335.5 590.4,335.3 590.7,335.7 590.9,335.7 591.1,335.2 591.3,335.3 591.5,335.4 591.7,335.6 591.9,335.3 592.1,335.7 592.3,335.3 592.5,335.9 592.7,335.4 592.9,335.3 593.1,335.2 593.3,335.2 593.5,335.3 593.8,335.9 594.0,335.5 594.2,335.5 594.4,336.0 594.6,336.0 594.8,335.8 595.0,335.3 595.2,335.4 595.4,335.6 595.6,335.3 595.8,335.4 596.0,335.3 596.2,335.3 596.4,335.8 596.6,335.6 596.8,335.5 597.1,335.5 597.3,335.6 597.5,335.7 597.7,335.1 597.9,335.9 598.1,335.5 598.3,335.4 598.5,336.0 598.7,335.8 598.9,335.4 599.1,335.1 599.3,335.5 599.5,335.5 599.7,335.4 599.9,335.2 600.2,335.6 600.4,335.3 600.6,335.8 600.8,335.6 601.0,335.3 601.2,335.8 601.4,335.5 601.6,335.1 601.8,335.3 602.0,335.1 602.2,335.4 602.4,335.9 602.6,335.9 602.8,335.6 603.0,335.2 603.3,335.3 603.5,335.2 603.7,335.4 603.9,335.6 604.1,335.1 604.3,335.5 604.5,335.4 604.7,335.6 604.9,335.8 605.1,335.4 605.3,335.5 605.5,335.2 605.7,335.4 605.9,335.6 606.1,335.0 606.3,335.4 606.6,335.4 606.8,335.1 607.0,335.2 607.2,335.7 607.4,335.2 607.6,335.1 607.8,335.2 608.0,335.4 608.2,335.2 608.4,335.2 608.6,335.1 608.8,335.0 609.0,335.3 609.2,335.3 609.4,334.8 609.7,335.3 609.9,335.0 610.1,335.6 610.3,335.5 610.5,334.7 610.7,335.2 610.9,334.8 611.1,334.6 611.3,335.2 611.5,335.2 611.7,335.0 611.9,334.8 612.1,335.0 612.3,334.5 612.5,334.5 612.8,334.4 613.0,334.4 613.2,334.2 613.4,333.5 613.6,333.1 613.8,333.1 614.0,332.8 614.2,332.1 614.4,331.9 614.6,331.0 614.8,329.5 615.0,327.3 615.2,324.1 615.4,318.3 615.6,311.0 615.9,299.7 616.1,287.1 616.3,272.7 616.5,260.6 616.7,255.8 616.9,260.9 617.1,272.6 617.3,287.0 617.5,299.7 617.7,311.1 617.9,318.5 618.1,323.8 618.3,327.5 618.5,329.5 618.7,330.7 618.9,331.4 619.2,332.2 619.4,332.3 619.6,332.9 619.8,333.7 620.0,333.3 620.2,333.5 620.4,334.4 620.6,334.1 620.8,334.4 621.0,334.6 621.2,334.8 621.4,334.5 621.6,335.0 621.8,334.4 622.0,335.2 622.3,334.8 622.5,335.1 622.7,334.9 622.9,335.3 623.1,335.0 623.3,335.2 623.5,335.0 623.7,335.5 623.9,335.5 624.1,335.0 624.3,335.5 624.5,335.7 624.7,335.1 624.9,335.1 625.1,335.7 625.4,335.8 625.6,335.0 625.8,335.6 626.0,335.8 626.2,335.2 626.4,335.7 626.6,335.3 626.8,335.7 627.0,335.5 627.2,335.4 627.4,335.1 627.6,335.6 627.8,335.7 628.0,335.3 628.2,335.1 628.5,335.1 628.7,335.3 628.9,336.0 629.1,335.7 629.3,335.9 629.5,335.8 629.7,335.2 629.9,335.4 630.1,335.9 630.3,335.9 630.5,336.0 630.7,335.8 630.9,335.7 631.1,335.8 631.3,335.9 631.5,335.5 631.8,335.2 632.0,335.4 632.2,335.1 632.4,335.4 632.6,335.7 632.8,335.4 633.0,335.4 633.2,335.2 633.4,335.5 633.6,335.6 633.8,335.7 634.0,336.0 634.2,335.2 634.4,335.4 634.6,335.2 634.9,336.0 635.1,335.7 635.3,335.8 635.5,335.9 635.7,335.2 635.9,336.0 636.1,335.5 636.3,335.7 636.5,335.5 636.7,335.8 636.9,335.4 637.1,335.4 637.3,335.4 637.5,335.8 637.7,335.6 638.0,335.3 638.2,335.5 638.4,335.7 638.6,335.5 638.8,335.7 639.0,335.9 639.2,335.8 639.4,335.9 639.6,335.5 639.8,336.0 640.0,336.0 640.2,335.7 640.4,335.2 640.6,335.3 640.8,335.9 641.1,336.0 641.3,335.8 641.5,335.7 641.7,335.7 641.9,335.3 642.1,335.7 642.3,336.1 642.5,335.4 642.7,335.7 642.9,336.0 643.1,335.8 643.3,335.5 643.5,335.4 643.7,335.9 643.9,336.0 644.1,336.0 644.4,335.6 644.6,335.9 644.8,335.9 645.0,335.5 645.2,335.9 645.4,335.6 645.6,335.4 645.8,335.2 646.0,335.9 646.2,335.9 646.4,335.2 646.6,335.3 646.8,335.5 647.0,335.4 647.2,335.9 647.5,335.4 647.7,335.7 647.9,335.7 648.1,335.5 648.3,336.0 648.5,335.6 648.7,335.7 648.9,335.8 649.1,335.6 649.3,335.4 649.5,336.1 649.7,335.9 649.9,335.7 650.1,335.6 650.3,335.8 650.6,335.5 650.8,335.3 651.0,335.7 651.2,336.0 651.4,335.3 651.6,336.1 651.8,335.5 652.0,336.1 652.2,335.9 652.4,335.4 652.6,335.4 652.8,336.0 653.0,336.0 653.2,335.9 653.4,335.7 653.6,335.6 653.9,335.8 654.1,335.8 654.3,335.8 654.5,335.3 654.7,335.8 654.9,335.8 655.1,335.4 655.3,334.8 655.5,334.9 655.7,335.1 655.9,334.6 656.1,334.6 656.3,333.9 656.5,333.4 656.7,332.3 657.0,332.2 657.2,332.1 657.4,332.3 657.6,332.7 657.8,332.6 658.0,333.4 658.2,334.4 658.4,334.0 658.6,334.4 658.8,334.7 659.0,335.4 659.2,335.2 659.4,335.6 659.6,335.7 659.8,335.8 660.1,335.1 660.3,335.7 660.5,335.8 660.7,335.8 660.9,335.9 661.1,335.9 661.3,335.7 661.5,335.9 661.7,335.7 661.9,335.3 662.1,335.4 662.3,336.0 662.5,335.5 662.7,335.6 662.9,336.0 663.2,335.8 663.4,335.9 663.6,335.6 663.8,335.7 664.0,335.3 664.2,335.4 664.4,335.4 664.6,335.7 664.8,335.7 665.0,335.3 665.2,335.8 665.4,335.3 665.6,335.6 665.8,335.3 666.0,335.7 666.2,335.4 666.5,336.1 666.7,335.6 666.9,336.0 667.1,335.6 667.3,335.5 667.5,336.0 667.7,335.5 667.9,335.7 668.1,335.8 668.3,336.1 668.5,335.9 668.7,335.3 668.9,335.6 669.1,336.1 669.3,336.0 669.6,335.6 669.8,335.4 670.0,335.5 670.2,335.9 670.4,335.4 670.6,336.0 670.8,335.5 671.0,335.9 671.2,335.9 671.4,335.5 671.6,335.7 671.8,335.8 672.0,335.5 672.2,335.7 672.4,335.8 672.7,336.1 672.9,335.5 673.1,335.4 673.3,335.7 673.5,335.8 673.7,335.7 673.9,336.1 674.1,335.4 674.3,335.7 674.5,335.7 674.7,335.4 674.9,335.6 675.1,335.6 675.3,335.6 675.5,335.9 675.8,336.1 676.0,336.1 676.2,335.4 676.4,335.6 676.6,336.1 676.8,335.3 677.0,335.3 677.2,335.3 677.4,336.1 677.6,335.7 677.8,335.6 678.0,335.3 678.2,336.0 678.4,336.1 678.6,335.8 678.8,336.0 679.1,335.7 679.3,335.5 679.5,335.4 679.7,335.5 679.9,335.3 680.1,335.5 680.3,335.2 680.5,335.2 680.7,336.0 680.9,336.0 681.1,335.9 681.3,335.5 681.5,335.6 681.7,335.7 681.9,335.9 682.2,335.5 682.4,335.6 682.6,335.7 682.8,335.9 683.0,335.5 683.2,335.2 683.4,335.5 683.6,335.9 683.8,335.3 684.0,335.7 684.2,335.3 684.4,335.4 684.6,335.7 684.8,335.2 685.0,335.5 685.3,335.6 685.5,335.4 685.7,335.8 685.9,335.8 686.1,335.3 686.3,335.7 686.5,335.7 686.7,335.6 686.9,335.5 687.1,335.5 687.3,335.6 687.5,335.6 687.7,335.2 687.9,335.5 688.1,335.5 688.3,335.3 688.6,335.6 688.8,335.1 689.0,335.3 689.2,335.2 689.4,335.2 689.6,334.8 689.8,335.2 690.0,334.6 690.2,334.9 690.4,334.8 690.6,334.9 690.8,334.9 691.0,334.9 691.2,334.1 691.4,334.5 691.7,333.9 691.9,333.7 692.1,333.0 692.3,333.3 692.5,332.2 692.7,331.5 692.9,330.5 693.1,328.7 693.3,326.0 693.5,321.7 693.7,315.6 693.9,306.7 694.1,296.3 694.3,285.0 694.5,275.4 694.8,271.1 695.0,275.2 695.2,284.8 695.4,296.3 695.6,306.8 695.8,315.3 696.0,322.2 696.2,326.4 696.4,328.8 696.6,330.8 696.8,331.4 697.0,332.7 697.2,333.4 697.4,333.8 697.6,333.3 697.9,334.1 698.1,334.4 698.3,334.0 698.5,334.6 698.7,334.3 698.9,334.5 699.1,334.4 699.3,334.7 699.5,335.3 699.7,335.1 699.9,335.4 700.1,335.6 700.3,334.9 700.5,335.5 700.7,335.6 700.9,335.4 701.2,335.2 701.4,335.1 701.6,335.3 701.8,335.3 702.0,335.2 702.2,335.6 702.4,335.6 702.6,335.3 702.8,335.2 703.0,335.5 703.2,335.7 703.4,335.7 703.6,335.7 703.8,335.9 704.0,335.8 704.3,335.5 704.5,335.8 704.7,335.7 704.9,335.5 705.1,335.3 705.3,335.5 705.5,335.8 705.7,335.9 705.9,335.5 706.1,335.7 706.3,335.3 706.5,335.7 706.7,335.6 706.9,335.9 707.1,336.0 707.4,335.3 707.6,336.1 707.8,335.4 708.0,336.1 708.2,336.1 708.4,335.4 708.6,335.5 708.8,335.4 709.0,336.1 709.2,335.9 709.4,336.1 709.6,336.0 709.8,335.6 710.0,336.0 710.2,335.6 710.5,335.6 710.7,335.7 710.9,335.9 711.1,335.6 711.3,335.8 711.5,335.8 711.7,336.0 711.9,335.7 712.1,335.7 712.3,335.8 712.5,335.7 712.7,335.9 712.9,335.4 713.1,335.4 713.3,335.3 713.5,335.7 713.8,336.1 714.0,335.8 714.2,335.9 714.4,336.1 714.6,336.0 714.8,335.6 715.0,335.5 715.2,335.8 715.4,335.5 715.6,335.8 715.8,335.4 716.0,335.7 716.2,336.0 716.4,335.5 716.6,335.4 716.9,336.0 717.1,335.5 717.3,336.1 717.5,335.9 717.7,336.1 717.9,335.8 718.1,335.8 718.3,335.5 718.5,335.4 718.7,336.2 718.9,335.5 719.1,335.4 719.3,336.2 719.5,335.8 719.7,335.8 720.0,336.2 720.2,336.0 720.4,335.6 720.6,335.6 720.8,335.9 721.0,335.9 721.2,335.5 721.4,335.6 721.6,335.8 721.8,335.4 722.0,336.1 722.2,335.9 722.4,335.5 722.6,335.9 722.8,335.9 723.1,335.4 723.3,335.7 723.5,336.0 723.7,335.7 723.9,336.0 724.1,335.5 724.3,336.2 724.5,335.9 724.7,335.8 724.9,335.3 725.1,335.7 725.3,335.3 725.5,335.7 725.7,335.5 725.9,335.6 726.1,335.6 726.4,335.5 726.6,335.6 726.8,335.8 727.0,335.5 727.2,335.8 727.4,336.2 727.6,336.0 727.8,336.2 728.0,335.4 728.2,335.9 728.4,335.6 728.6,336.2 728.8,335.8 729.0,336.0 729.2,336.0 729.5,335.5 729.7,335.4 729.9,336.1 730.1,336.1 730.3,335.7 730.5,335.4 730.7,335.4 730.9,336.1 731.1,336.0 731.3,335.7 731.5,336.0 731.7,336.1 731.9,335.4 732.1,336.0 732.3,336.2 732.6,336.1 732.8,336.1 733.0,335.7 733.2,335.9 733.4,335.5 733.6,336.1 733.8,335.9 734.0,335.7 734.2,335.4 734.4,335.5 734.6,335.7 734.8,336.2 735.0,335.8 735.2,336.1 735.4,335.5 735.6,335.6 735.9,335.6 736.1,335.6 736.3,336.1 736.5,335.7 736.7,335.6 736.9,336.0 737.1,335.8 737.3,336.1 737.5,336.0 737.7,336.1 737.9,335.7 738.1,335.7 738.3,335.8 738.5,336.2 738.7,336.2 739.0,335.9 739.2,335.8 739.4,335.4 739.6,336.1 739.8,335.9 740.0,335.7 740.2,335.5 740.4,335.8 740.6,336.0 740.8,335.6 741.0,335.6 741.2,335.8 741.4,335.8 741.6,335.4 741.8,335.4 742.1,335.7 742.3,336.0 742.5,335.7 742.7,335.4 742.9,335.6 743.1,335.5 743.3,336.0 743.5,335.6 743.7,336.2 743.9,335.6 744.1,335.5 744.3,335.4 744.5,335.8 744.7,335.8 744.9,336.1 745.2,336.0 745.4,335.8 745.6,335.4 745.8,336.2 746.0,335.6 746.2,335.6 746.4,335.5 746.6,335.9 746.8,335.9 747.0,335.6 747.2,335.6 747.4,335.4 747.6,335.9 747.8,336.0 748.0,335.5 748.2,335.6 748.5,336.0 748.7,336.0 748.9,335.5 749.1,336.2 749.3,336.0 749.5,336.0 749.7,335.6 749.9,336.2 750.1,335.7 750.3,335.9 750.5,336.2 750.7,336.1 750.9,335.5 751.1,335.4 751.3,335.5 751.6,335.4 751.8,336.1 752.0,335.8 752.2,335.7 752.4,335.6 752.6,335.7 752.8,335.7 753.0,335.9 753.2,335.7 753.4,336.1 753.6,336.0 753.8,336.1 754.0,335.9 754.2,335.4 754.4,335.6 754.7,336.0 754.9,335.6 755.1,335.8 755.3,335.4 755.5,336.0 755.7,335.5 755.9,335.5 756.1,335.9 756.3,335.3 756.5,335.2 756.7,335.5 756.9,335.5 757.1,335.2 757.3,335.5 757.5,335.8 757.8,335.9 758.0,335.9 758.2,335.7 758.4,335.1 758.6,335.3 758.8,335.3 759.0,334.9 759.2,335.5 759.4,335.0 759.6,335.4 759.8,335.2 760.0,334.8 760.2,334.8 760.4,334.7 760.6,334.4 760.8,334.0 761.1,334.2 761.3,333.8 761.5,333.4 761.7,333.4 761.9,332.5 762.1,331.0 762.3,328.7 762.5,326.6 762.7,322.3 762.9,317.2 763.1,312.0 763.3,306.2 763.5,300.9 763.7,299.3 763.9,301.5 764.2,305.9 764.4,311.6 764.6,317.3 764.8,322.1 765.0,326.7 765.2,329.5 765.4,330.8 765.6,332.4 765.8,332.8 766.0,333.9 766.2,333.9 766.4,334.5 766.6,334.5 766.8,334.3 767.0,334.9 767.3,335.1 767.5,334.6 767.7,334.7 767.9,335.0 768.1,335.4 768.3,335.7 768.5,335.3 768.7,335.7 768.9,335.6 769.1,335.2 769.3,335.4 769.5,335.8 769.7,335.5 769.9,335.6 770.1,335.8 770.4,335.3 770.6,335.6 770.8,335.6 771.0,335.7 771.2,335.8 771.4,335.5 771.6,335.7 771.8,335.7 772.0,335.3 772.2,336.0 772.4,336.1 772.6,335.8 772.8,335.7 773.0,335.6 773.2,335.7 773.4,335.6 773.7,335.6 773.9,336.2 774.1,335.6 774.3,335.5 774.5,335.9 774.7,335.3 774.9,335.7 775.1,335.8 775.3,336.1 775.5,335.6 775.7,335.4 775.9,336.2 776.1,335.4 776.3,335.7 776.5,335.8 776.8,336.3 777.0,335.7 777.2,335.6 777.4,335.6 777.6,335.7 777.8,335.5 778.0,336.2 778.2,335.8 778.4,336.0 778.6,335.6 778.8,336.0 779.0,336.2 779.2,335.6 779.4,336.2 779.6,335.6 779.9,336.0 780.1,336.2 780.3,335.8 780.5,336.2 780.7,335.8 780.9,335.8 781.1,336.2 781.3,335.9 781.5,335.4 781.7,335.5 781.9,335.9 782.1,335.7 782.3,335.5 782.5,336.1 782.7,335.7 782.9,336.2 783.2,335.7 783.4,335.6 783.6,335.8 783.8,336.2 784.0,336.2 784.2,335.9 784.4,335.6 784.6,335.9 784.8,335.7 785.0,335.7 785.2,335.4 785.4,335.4 785.6,336.3 785.8,336.1 786.0,335.6 786.3,336.0 786.5,335.5 786.7,336.2 786.9,336.0 787.1,336.1 787.3,335.8 787.5,335.8 787.7,336.2 787.9,335.7 788.1,335.5 788.3,335.5 788.5,336.2 788.7,335.7 788.9,335.5 789.1,335.9 789.4,335.5 789.6,335.8 789.8,336.1 790.0,335.6 790.2,335.8 790.4,336.3 790.6,336.2 790.8,336.2 791.0,335.4 791.2,336.3 791.4,335.9 791.6,335.5 791.8,336.3 792.0,335.5 792.2,336.3 792.5,335.4 792.7,335.4 792.9,335.8 793.1,335.9 793.3,335.9 793.5,336.1 793.7,335.4 793.9,336.0 794.1,335.6 794.3,336.1 794.5,335.7 794.7,335.7 794.9,335.0 795.1,335.5 795.3,334.7 795.5,334.3 795.8,334.1 796.0,334.1 796.2,333.5 796.4,333.6 796.6,333.9 796.8,333.8 797.0,334.1 797.2,334.7 797.4,335.2 797.6,335.4 797.8,335.2 798.0,335.7 798.2,336.0 798.4,335.9 798.6,335.5 798.9,335.4 799.1,336.2 799.3,336.0 799.5,335.6 799.7,336.0 799.9,335.9 800.1,336.0 800.3,335.7 800.5,336.0 800.7,335.8 800.9,335.8 801.1,335.7 801.3,336.1 801.5,336.2 801.7,335.7 802.0,335.5 802.2,335.7 802.4,336.1 802.6,335.8 802.8,335.4 803.0,336.2 803.2,335.8 803.4,335.5 803.6,336.1 803.8,335.9 804.0,336.2 804.2,336.2 804.4,336.2 804.6,336.2 804.8,335.8 805.1,336.2 805.3,335.9 805.5,336.0 805.7,335.6 805.9,336.0 806.1,335.5 806.3,336.2 806.5,335.6 806.7,336.0 806.9,336.2 807.1,336.2 807.3,336.2 807.5,335.8 807.7,335.5 807.9,336.3 808.1,335.7 808.4,336.2 808.6,335.8 808.8,335.9 809.0,335.9 809.2,335.9 809.4,336.2 809.6,336.0 809.8,335.6 810.0,335.9 810.2,335.5 810.4,336.2 810.6,335.6 810.8,335.8 811.0,336.0 811.2,335.8 811.5,336.3 811.7,336.2 811.9,335.8 812.1,335.8 812.3,336.1 812.5,335.9 812.7,336.0 812.9,335.8 813.1,336.0 813.3,336.0 813.5,336.3 813.7,335.8 813.9,336.2 814.1,335.6 814.3,335.7 814.6,335.7 814.8,336.3 815.0,335.5 815.2,335.7 815.4,335.9 815.6,336.1 815.8,336.0 816.0,335.5 816.2,335.8 816.4,336.1 816.6,335.6 816.8,335.5 817.0,336.2 817.2,335.4 817.4,335.5 817.7,335.6 817.9,336.2 818.1,335.7 818.3,335.8 818.5,335.9 818.7,336.2 818.9,335.4 819.1,335.6 819.3,335.8 819.5,336.0 819.7,335.5 819.9,335.8 820.1,335.9 820.3,335.4 820.5,335.7 820.7,335.4 821.0,336.2 821.2,335.3 821.4,335.5 821.6,335.9 821.8,335.5 822.0,335.8 822.2,335.6 822.4,336.1 822.6,335.7 822.8,335.5 823.0,335.4 823.2,335.6 823.4,335.8 823.6,335.8 823.8,335.7 824.1,335.5 824.3,335.8 824.5,335.3 824.7,335.4 824.9,335.7 825.1,335.4 825.3,335.0 825.5,335.2 825.7,335.0 825.9,334.3 826.1,334.1 826.3,333.9 826.5,332.9 826.7,331.8 826.9,330.4 827.2,328.0 827.4,325.5 827.6,322.9 827.8,318.9 828.0,316.2 828.2,313.4 828.4,313.3 828.6,315.1 828.8,317.8 829.0,321.8 829.2,325.1 829.4,327.3 829.6,329.5 829.8,331.9 830.0,333.0 830.2,333.5 830.5,333.7 830.7,334.0 830.9,334.9 831.1,335.0 831.3,335.0 831.5,335.0 831.7,335.0 831.9,335.2 832.1,335.3 832.3,335.5 832.5,335.4 832.7,335.4 832.9,335.3 833.1,335.7 833.3,336.0 833.6,335.4 833.8,335.9 834.0,335.8 834.2,335.5 834.4,335.4 834.6,336.1 834.8,335.4 835.0,335.4 835.2,335.4 835.4,336.1 835.6,335.7 835.8,335.4 836.0,335.6 836.2,335.9 836.4,335.8 836.7,335.5 836.9,336.2 837.1,336.0 837.3,335.7 837.5,335.7 837.7,335.7 837.9,335.5 838.1,336.0 838.3,335.7 838.5,336.0 838.7,336.2 838.9,335.7 839.1,335.7 839.3,335.8 839.5,335.9 839.8,335.5 840.0,335.8 840.2,335.8 840.4,335.6 840.6,336.2 840.8,336.1 841.0,335.9 841.2,335.5 841.4,336.1 841.6,335.8 841.8,336.3 842.0,336.1 842.2,335.7 842.4,336.2 842.6,336.0 842.8,335.8 843.1,336.2 843.3,335.8 843.5,335.6 843.7,335.5 843.9,336.1 844.1,335.8 844.3,335.6 844.5,335.5 844.7,336.2 844.9,335.8 845.1,336.3 845.3,336.3 845.5,336.2 845.7,335.7 845.9,336.4 846.2,336.1 846.4,336.3 846.6,336.3 846.8,335.8 847.0,335.9 847.2,336.3 847.4,335.8 847.6,335.6" fill="none" stroke="#6aa515" stroke-width="3.2" stroke-linejoin="round"/><path d="M434.2,20.6 H848.2 V365.7 H434.2 Z" fill="none" stroke="#000" stroke-width="2.2"/><path d="M434.5,365.7 v8 M503.4,365.7 v4 M572.2,365.7 v8 M641.0,365.7 v4 M709.9,365.7 v8 M778.8,365.7 v4 M847.6,365.7 v8" stroke="#000" stroke-width="2.2"/><text x="434.8" y="405.9" font-size="30" text-anchor="middle">20</text><text x="572.5" y="405.9" font-size="30" text-anchor="middle">40</text><text x="710.2" y="405.9" font-size="30" text-anchor="middle">60</text><text x="847.9" y="405.9" font-size="30" text-anchor="middle">80</text><text x="640.9" y="444.5" font-size="29.2" text-anchor="middle">2 theta (°)</text><text transform="translate(415.7,194.3) rotate(-90)" font-size="29" text-anchor="middle">Intensity (a.u.)</text><text x="438" y="111" font-size="22" fill="#f83a3a">STRO</text><text x="442" y="276" font-size="22" fill="#6aa515">STO</text><text x="435.6" y="319.5" font-size="22.6">(100)</text><text x="524.1" y="239.1" font-size="22.6">(110)</text><text x="550.0" y="291.8" font-size="22.6">(111)</text><text x="594.1" y="254.3" font-size="22.6">(200)</text><text x="633.6" y="326.5" font-size="22.6">(210)</text><text x="671.6" y="266.5" font-size="22.6">(211)</text><text x="741.6" y="295" font-size="22.6">(220)</text><text x="794.6" y="305.5" font-size="22.6">(310)</text><rect x="756" y="20.6" width="92.2" height="69.6" fill="#fff"/><polyline points="755.5,53.4 756.0,53.4 756.5,53.4 757.0,53.4 757.5,53.4 758.0,53.4 758.5,53.4 759.0,53.4 759.6,53.4 760.1,53.4 760.6,53.3 761.1,53.3 761.6,53.3 762.1,53.3 762.6,53.3 763.1,53.3 763.7,53.3 764.2,53.3 764.7,53.3 765.2,53.3 765.7,53.3 766.2,53.3 766.7,53.2 767.2,53.2 767.8,53.2 768.3,53.2 768.8,53.2 769.3,53.2 769.8,53.2 770.3,53.2 770.8,53.1 771.4,53.1 771.9,53.1 772.4,53.1 772.9,53.1 773.4,53.0 773.9,53.0 774.4,53.0 774.9,53.0 775.5,52.9 776.0,52.9 776.5,52.9 777.0,52.8 777.5,52.8 778.0,52.8 778.5,52.7 779.0,52.7 779.6,52.6 780.1,52.6 780.6,52.5 781.1,52.5 781.6,52.4 782.1,52.3 782.6,52.2 783.2,52.1 783.7,52.0 784.2,51.9 784.7,51.7 785.2,51.6 785.7,51.4 786.2,51.2 786.7,51.0 787.3,50.8 787.8,50.5 788.3,50.2 788.8,49.9 789.3,49.5 789.8,49.1 790.3,48.7 790.8,48.2 791.4,47.7 791.9,47.2 792.4,46.7 792.9,46.1 793.4,45.5 793.9,45.0 794.4,44.4 795.0,43.8 795.5,43.3 796.0,42.8 796.5,42.4 797.0,42.1 797.5,42.0 798.0,41.9 798.5,42.0 799.1,42.1 799.6,42.4 800.1,42.8 800.6,43.3 801.1,43.8 801.6,44.4 802.1,45.0 802.6,45.5 803.2,46.1 803.7,46.7 804.2,47.2 804.7,47.7 805.2,48.2 805.7,48.7 806.2,49.1 806.7,49.5 807.3,49.9 807.8,50.2 808.3,50.5 808.8,50.8 809.3,51.0 809.8,51.2 810.3,51.4 810.9,51.6 811.4,51.7 811.9,51.9 812.4,52.0 812.9,52.1 813.4,52.2 813.9,52.3 814.4,52.4 815.0,52.5 815.5,52.5 816.0,52.6 816.5,52.6 817.0,52.7 817.5,52.7 818.0,52.8 818.5,52.8 819.1,52.8 819.6,52.9 820.1,52.9 820.6,52.9 821.1,53.0 821.6,53.0 822.1,53.0 822.7,53.0 823.2,53.1 823.7,53.1 824.2,53.1 824.7,53.1 825.2,53.1 825.7,53.2 826.2,53.2 826.8,53.2 827.3,53.2 827.8,53.2 828.3,53.2 828.8,53.2 829.3,53.2 829.8,53.3 830.3,53.3 830.9,53.3 831.4,53.3 831.9,53.3 832.4,53.3 832.9,53.3 833.4,53.3 833.9,53.3 834.5,53.3 835.0,53.3 835.5,53.3 836.0,53.4 836.5,53.4 837.0,53.4 837.5,53.4 838.0,53.4 838.6,53.4 839.1,53.4 839.6,53.4 840.1,53.4 840.6,53.4 841.1,53.4 841.6,53.4 842.1,53.4 842.7,53.4 843.2,53.4 843.7,53.4 844.2,53.4 844.7,53.4 845.2,53.4 845.7,53.4 846.3,53.4 846.8,53.4 847.3,53.5 847.8,53.5 848.3,53.5 848.8,53.5" fill="none" stroke="#f83a3a" stroke-width="2.6"/><polyline points="755.5,83.8 755.7,83.8 756.0,83.8 756.2,83.8 756.5,83.8 756.7,83.8 757.0,83.8 757.2,83.7 757.5,83.7 757.8,83.7 758.0,83.7 758.3,83.7 758.5,83.7 758.8,83.7 759.0,83.7 759.3,83.7 759.6,83.7 759.8,83.7 760.1,83.7 760.3,83.7 760.6,83.7 760.8,83.7 761.1,83.7 761.3,83.7 761.6,83.7 761.9,83.7 762.1,83.7 762.4,83.7 762.6,83.7 762.9,83.7 763.1,83.7 763.4,83.7 763.7,83.7 763.9,83.7 764.2,83.7 764.4,83.7 764.7,83.7 764.9,83.7 765.2,83.7 765.5,83.7 765.7,83.7 766.0,83.7 766.2,83.7 766.5,83.7 766.7,83.7 767.0,83.7 767.2,83.7 767.5,83.7 767.8,83.7 768.0,83.7 768.3,83.7 768.5,83.7 768.8,83.7 769.0,83.7 769.3,83.7 769.6,83.7 769.8,83.7 770.1,83.7 770.3,83.7 770.6,83.7 770.8,83.7 771.1,83.7 771.4,83.7 771.6,83.7 771.9,83.7 772.1,83.7 772.4,83.7 772.6,83.7 772.9,83.7 773.1,83.7 773.4,83.7 773.7,83.7 773.9,83.7 774.2,83.7 774.4,83.7 774.7,83.7 774.9,83.7 775.2,83.7 775.5,83.7 775.7,83.7 776.0,83.7 776.2,83.7 776.5,83.7 776.7,83.6 777.0,83.6 777.3,83.6 777.5,83.6 777.8,83.6 778.0,83.6 778.3,83.6 778.5,83.6 778.8,83.6 779.0,83.6 779.3,83.6 779.6,83.6 779.8,83.6 780.1,83.6 780.3,83.6 780.6,83.6 780.8,83.6 781.1,83.6 781.4,83.6 781.6,83.6 781.9,83.6 782.1,83.6 782.4,83.6 782.6,83.5 782.9,83.5 783.2,83.5 783.4,83.5 783.7,83.5 783.9,83.5 784.2,83.5 784.4,83.5 784.7,83.5 784.9,83.5 785.2,83.5 785.5,83.5 785.7,83.4 786.0,83.4 786.2,83.4 786.5,83.4 786.7,83.4 787.0,83.4 787.3,83.4 787.5,83.4 787.8,83.3 788.0,83.3 788.3,83.3 788.5,83.3 788.8,83.3 789.1,83.3 789.3,83.2 789.6,83.2 789.8,83.2 790.1,83.2 790.3,83.1 790.6,83.1 790.8,83.1 791.1,83.1 791.4,83.0 791.6,83.0 791.9,83.0 792.1,82.9 792.4,82.9 792.6,82.8 792.9,82.8 793.2,82.7 793.4,82.7 793.7,82.6 793.9,82.5 794.2,82.5 794.4,82.4 794.7,82.3 795.0,82.2 795.2,82.1 795.5,82.0 795.7,81.8 796.0,81.7 796.2,81.5 796.5,81.3 796.7,81.0 797.0,80.7 797.3,80.4 797.5,80.0 797.8,79.5 798.0,79.0 798.3,78.3 798.5,77.6 798.8,76.8 799.1,75.8 799.3,74.7 799.6,73.5 799.8,72.2 800.1,70.7 800.3,69.1 800.6,67.5 800.9,65.8 801.1,64.1 801.4,62.4 801.6,60.9 801.9,59.5 802.1,58.5 802.4,57.8 802.6,57.6 802.9,57.8 803.2,58.5 803.4,59.5 803.7,60.9 803.9,62.4 804.2,64.1 804.4,65.8 804.7,67.5 805.0,69.1 805.2,70.7 805.5,72.2 805.7,73.5 806.0,74.7 806.2,75.8 806.5,76.8 806.8,77.6 807.0,78.3 807.3,79.0 807.5,79.5 807.8,80.0 808.0,80.4 808.3,80.7 808.5,81.0 808.8,81.3 809.1,81.5 809.3,81.7 809.6,81.8 809.8,82.0 810.1,82.1 810.3,82.2 810.6,82.3 810.9,82.4 811.1,82.5 811.4,82.5 811.6,82.6 811.9,82.7 812.1,82.7 812.4,82.8 812.6,82.8 812.9,82.9 813.2,82.9 813.4,83.0 813.7,83.0 813.9,83.0 814.2,83.1 814.4,83.1 814.7,83.1 815.0,83.1 815.2,83.2 815.5,83.2 815.7,83.2 816.0,83.2 816.2,83.3 816.5,83.3 816.8,83.3 817.0,83.3 817.3,83.3 817.5,83.3 817.8,83.4 818.0,83.4 818.3,83.4 818.5,83.4 818.8,83.4 819.1,83.4 819.3,83.4 819.6,83.4 819.8,83.5 820.1,83.5 820.3,83.5 820.6,83.5 820.9,83.5 821.1,83.5 821.4,83.5 821.6,83.5 821.9,83.5 822.1,83.5 822.4,83.5 822.7,83.5 822.9,83.6 823.2,83.6 823.4,83.6 823.7,83.6 823.9,83.6 824.2,83.6 824.4,83.6 824.7,83.6 825.0,83.6 825.2,83.6 825.5,83.6 825.7,83.6 826.0,83.6 826.2,83.6 826.5,83.6 826.8,83.6 827.0,83.6 827.3,83.6 827.5,83.6 827.8,83.6 828.0,83.6 828.3,83.6 828.6,83.6 828.8,83.7 829.1,83.7 829.3,83.7 829.6,83.7 829.8,83.7 830.1,83.7 830.3,83.7 830.6,83.7 830.9,83.7 831.1,83.7 831.4,83.7 831.6,83.7 831.9,83.7 832.1,83.7 832.4,83.7 832.7,83.7 832.9,83.7 833.2,83.7 833.4,83.7 833.7,83.7 833.9,83.7 834.2,83.7 834.5,83.7 834.7,83.7 835.0,83.7 835.2,83.7 835.5,83.7 835.7,83.7 836.0,83.7 836.2,83.7 836.5,83.7 836.8,83.7 837.0,83.7 837.3,83.7 837.5,83.7 837.8,83.7 838.0,83.7 838.3,83.7 838.6,83.7 838.8,83.7 839.1,83.7 839.3,83.7 839.6,83.7 839.8,83.7 840.1,83.7 840.4,83.7 840.6,83.7 840.9,83.7 841.1,83.7 841.4,83.7 841.6,83.7 841.9,83.7 842.1,83.7 842.4,83.7 842.7,83.7 842.9,83.7 843.2,83.7 843.4,83.7 843.7,83.7 843.9,83.7 844.2,83.7 844.5,83.7 844.7,83.7 845.0,83.7 845.2,83.7 845.5,83.7 845.7,83.7 846.0,83.7 846.3,83.7 846.5,83.7 846.8,83.7 847.0,83.7 847.3,83.7 847.5,83.7 847.8,83.7 848.0,83.7 848.3,83.8 848.6,83.8" fill="none" stroke="#6aa515" stroke-width="2.6"/><path d="M802.6,20.6 V90" stroke="#000" stroke-width="1.3"/><path d="M756,20.6 V90 H848.2" fill="none" stroke="#000" stroke-width="2.2"/><path d="M781.1,90 v5.5 M832.4,90 v5.5" stroke="#000" stroke-width="2"/><text x="781.1" y="116" font-size="21" text-anchor="middle">32</text><text x="832.4" y="116" font-size="21" text-anchor="middle">33</text><path d="M434.2,20.6 H848.2 V365.7" fill="none" stroke="#000" stroke-width="2.2"/><text x="403" y="31" font-size="42" font-weight="bold" text-anchor="middle">b</text><defs><marker id="mo" markerWidth="14" markerHeight="14" refX="7" refY="7" markerUnits="userSpaceOnUse"><circle cx="7" cy="7" r="4.9" fill="none" stroke="#f23c3c" stroke-width="1.6"/></marker></defs><path d="M929.2,263.2 L929.5,264.1 L929.8,263.4 L930.1,263.3 L930.4,262.7 L930.8,263.5 L931.1,264.9 L931.4,264.3 L931.7,265.0 L932.0,264.2 L932.3,264.4 L932.6,264.2 L932.9,262.3 L933.2,265.0 L933.5,264.7 L933.9,264.7 L934.2,262.5 L934.5,262.4 L934.8,263.4 L935.1,263.9 L935.4,264.7 L935.7,264.4 L936.0,265.0 L936.3,263.9 L936.7,264.9 L937.0,265.0 L937.3,264.0 L937.6,266.5 L937.9,265.3 L938.2,266.0 L938.5,264.2 L938.8,264.1 L939.1,264.5 L939.4,264.8 L939.8,265.7 L940.1,265.3 L940.4,264.6 L940.7,264.1 L941.0,264.6 L941.3,266.5 L941.6,264.4 L941.9,265.5 L942.2,265.8 L942.6,263.8 L942.9,265.4 L943.2,266.8 L943.5,263.4 L943.8,265.2 L944.1,265.4 L944.4,264.7 L944.7,266.1 L945.0,265.6 L945.3,264.2 L945.7,266.6 L946.0,266.5 L946.3,266.8 L946.6,267.4 L946.9,266.3 L947.2,266.0 L947.5,264.6 L947.8,266.6 L948.1,265.4 L948.5,265.6 L948.8,264.8 L949.1,265.1 L949.4,265.6 L949.7,267.6 L950.0,264.1 L950.3,264.8 L950.6,266.6 L950.9,267.9 L951.2,267.0 L951.6,264.4 L951.9,263.8 L952.2,266.9 L952.5,265.8 L952.8,265.4 L953.1,267.6 L953.4,267.8 L953.7,266.8 L954.0,267.0 L954.4,267.2 L954.7,268.4 L955.0,267.4 L955.3,267.4 L955.6,267.4 L955.9,265.2 L956.2,268.3 L956.5,268.0 L956.8,267.5 L957.1,264.9 L957.5,266.4 L957.8,268.0 L958.1,265.2 L958.4,267.0 L958.7,268.2 L959.0,265.8 L959.3,268.9 L959.6,267.9 L959.9,267.1 L960.3,267.7 L960.6,268.0 L960.9,267.5 L961.2,268.6 L961.5,266.8 L961.8,267.1 L962.1,268.6 L962.4,267.6 L962.7,266.7 L963.0,268.6 L963.4,269.2 L963.7,267.2 L964.0,266.2 L964.3,267.6 L964.6,267.6 L964.9,267.5 L965.2,269.3 L965.5,266.8 L965.8,269.2 L966.1,266.6 L966.5,267.1 L966.8,268.6 L967.1,269.2 L967.4,268.9 L967.7,268.4 L968.0,268.2 L968.3,268.2 L968.6,268.7 L968.9,268.0 L969.3,268.5 L969.6,268.8 L969.9,268.2 L970.2,269.1 L970.5,268.9 L970.8,270.4 L971.1,268.7 L971.4,267.9 L971.7,268.0 L972.0,268.4 L972.4,269.4 L972.7,268.1 L973.0,268.9 L973.3,270.4 L973.6,265.8 L973.9,267.4 L974.2,268.8 L974.5,269.0 L974.8,268.9 L975.2,268.2 L975.5,269.4 L975.8,269.0 L976.1,268.2 L976.4,271.3 L976.7,269.2 L977.0,268.2 L977.3,268.7 L977.6,268.6 L977.9,268.8 L978.3,266.0 L978.6,268.4 L978.9,270.0 L979.2,267.8 L979.5,268.9 L979.8,270.0 L980.1,270.0 L980.4,270.6 L980.7,267.3 L981.1,268.8 L981.4,268.8 L981.7,269.8 L982.0,270.3 L982.3,266.4 L982.6,270.4 L982.9,267.7 L983.2,270.0 L983.5,267.7 L983.8,269.5 L984.2,270.6 L984.5,269.2 L984.8,269.6 L985.1,270.3 L985.4,269.6 L985.7,269.4 L986.0,271.1 L986.3,270.6 L986.6,269.2 L987.0,272.4 L987.3,268.4 L987.6,270.5 L987.9,269.3 L988.2,269.8 L988.5,270.4 L988.8,269.9 L989.1,270.4 L989.4,268.1 L989.7,268.1 L990.1,270.4 L990.4,268.8 L990.7,268.7 L991.0,268.3 L991.3,271.2 L991.6,270.6 L991.9,271.4 L992.2,268.9 L992.5,269.9 L992.9,268.7 L993.2,270.8 L993.5,271.6 L993.8,269.1 L994.1,271.6 L994.4,271.1 L994.7,269.9 L995.0,268.0 L995.3,271.6 L995.6,270.0 L996.0,269.5 L996.3,270.6 L996.6,270.6 L996.9,271.8 L997.2,269.1 L997.5,271.4 L997.8,271.8 L998.1,271.8 L998.4,270.1 L998.8,269.5 L999.1,271.4 L999.4,270.4 L999.7,270.5 L1000.0,271.9 L1000.3,270.1 L1000.6,268.0 L1000.9,270.0 L1001.2,268.5 L1001.5,271.3 L1001.9,270.8 L1002.2,269.8 L1002.5,270.5 L1002.8,271.4 L1003.1,270.6 L1003.4,271.9 L1003.7,270.5 L1004.0,271.7 L1004.3,272.2 L1004.7,272.3 L1005.0,269.9 L1005.3,271.6 L1005.6,268.7 L1005.9,269.5 L1006.2,268.6 L1006.5,271.8 L1006.8,269.4 L1007.1,270.7 L1007.4,270.6 L1007.8,270.8 L1008.1,270.2 L1008.4,271.1 L1008.7,272.7 L1009.0,270.9 L1009.3,271.4 L1009.6,271.9 L1009.9,270.7 L1010.2,269.6 L1010.6,270.3 L1010.9,272.1 L1011.2,269.2 L1011.5,270.3 L1011.8,272.0 L1012.1,271.8 L1012.4,271.0 L1012.7,271.9 L1013.0,271.2 L1013.3,269.8 L1013.7,269.4 L1014.0,270.4 L1014.3,272.1 L1014.6,270.5 L1014.9,270.2 L1015.2,270.3 L1015.5,269.5 L1015.8,271.0 L1016.1,269.9 L1016.5,271.6 L1016.8,268.7 L1017.1,271.6 L1017.4,270.6 L1017.7,269.2 L1018.0,272.0 L1018.3,271.0 L1018.6,269.0 L1018.9,270.4 L1019.2,271.6 L1019.6,270.9 L1019.9,272.2 L1020.2,272.2 L1020.5,272.1 L1020.8,271.7 L1021.1,272.8 L1021.4,272.1 L1021.7,271.9 L1022.0,269.3 L1022.3,272.4 L1022.7,272.8 L1023.0,271.2 L1023.3,271.0 L1023.6,273.5 L1023.9,269.7 L1024.2,272.0 L1024.5,274.1 L1024.8,270.6 L1025.1,272.3 L1025.5,273.6 L1025.8,271.5 L1026.1,272.2 L1026.4,272.6 L1026.7,270.7 L1027.0,271.6 L1027.3,272.0 L1027.6,272.5 L1027.9,271.6 L1028.2,271.5 L1028.6,270.6 L1028.9,271.3 L1029.2,272.7 L1029.5,271.9 L1029.8,270.9 L1030.1,270.9 L1030.4,274.6 L1030.7,273.0 L1031.0,272.5 L1031.4,269.1 L1031.7,272.5 L1032.0,272.3 L1032.3,273.6 L1032.6,272.3 L1032.9,271.8 L1033.2,272.4 L1033.5,269.9 L1033.8,273.0 L1034.1,272.3 L1034.5,271.2 L1034.8,273.3 L1035.1,273.8 L1035.4,270.5 L1035.7,271.3 L1036.0,272.3 L1036.3,272.2 L1036.6,271.6 L1036.9,271.0 L1037.3,274.3 L1037.6,273.1 L1037.9,270.8 L1038.2,270.6 L1038.5,273.9 L1038.8,273.1 L1039.1,274.0 L1039.4,272.9 L1039.7,271.2 L1040.0,272.4 L1040.4,269.9 L1040.7,271.4 L1041.0,272.1 L1041.3,272.7 L1041.6,271.4 L1041.9,272.0 L1042.2,272.7 L1042.5,272.6 L1042.8,272.9 L1043.2,272.4 L1043.5,271.9 L1043.8,273.1 L1044.1,272.3 L1044.4,271.4 L1044.7,271.6 L1045.0,272.3 L1045.3,272.2 L1045.6,272.5 L1045.9,272.3 L1046.3,272.5 L1046.6,272.2 L1046.9,271.0 L1047.2,272.8 L1047.5,273.5 L1047.8,272.8 L1048.1,272.2 L1048.4,272.8 L1048.7,271.4 L1049.1,270.4 L1049.4,272.5 L1049.7,271.4 L1050.0,273.2 L1050.3,271.3 L1050.6,269.7 L1050.9,271.4 L1051.2,274.1 L1051.5,272.1 L1051.8,271.0 L1052.2,271.7 L1052.5,273.0 L1052.8,273.0 L1053.1,272.7 L1053.4,274.1 L1053.7,273.3 L1054.0,272.5 L1054.3,273.2 L1054.6,274.3 L1055.0,273.6 L1055.3,273.6 L1055.6,271.4 L1055.9,272.4 L1056.2,273.4 L1056.5,272.3 L1056.8,273.7 L1057.1,273.2 L1057.4,273.6 L1057.7,272.4 L1058.1,275.3 L1058.4,274.0 L1058.7,272.4 L1059.0,272.8 L1059.3,275.4 L1059.6,272.3 L1059.9,273.6 L1060.2,273.7 L1060.5,272.7 L1060.9,271.5 L1061.2,272.9 L1061.5,273.1 L1061.8,273.9 L1062.1,273.6 L1062.4,272.8 L1062.7,273.7 L1063.0,273.3 L1063.3,273.0 L1063.6,272.8 L1064.0,272.5 L1064.3,273.5 L1064.6,271.7 L1064.9,272.1 L1065.2,272.8 L1065.5,271.3 L1065.8,272.4 L1066.1,270.7 L1066.4,272.1 L1066.8,273.4 L1067.1,273.5 L1067.4,272.8 L1067.7,272.6 L1068.0,271.4 L1068.3,274.8 L1068.6,273.4 L1068.9,274.0 L1069.2,272.0 L1069.5,272.7 L1069.9,271.0 L1070.2,273.7 L1070.5,273.9 L1070.8,270.9 L1071.1,272.9 L1071.4,273.6 L1071.7,271.1 L1072.0,271.1 L1072.3,271.9 L1072.7,272.3 L1073.0,271.5 L1073.3,273.0 L1073.6,273.3 L1073.9,273.7 L1074.2,273.8 L1074.5,274.6 L1074.8,274.2 L1075.1,271.7 L1075.4,272.5 L1075.8,271.9 L1076.1,271.9 L1076.4,273.0 L1076.7,273.1 L1077.0,273.6 L1077.3,271.4 L1077.6,271.8 L1077.9,273.1 L1078.2,272.9 L1078.6,272.8 L1078.9,273.0 L1079.2,272.3 L1079.5,273.9 L1079.8,273.5 L1080.1,273.0 L1080.4,272.4 L1080.7,273.0 L1081.0,270.3 L1081.3,272.1 L1081.7,273.2 L1082.0,271.6 L1082.3,273.4 L1082.6,273.3 L1082.9,271.7 L1083.2,272.9 L1083.5,272.9 L1083.8,273.7 L1084.1,273.8 L1084.5,273.2 L1084.8,272.3 L1085.1,273.1 L1085.4,273.2 L1085.7,274.0 L1086.0,273.5 L1086.3,272.5 L1086.6,271.8 L1086.9,272.9 L1087.2,272.5 L1087.6,272.1 L1087.9,273.1 L1088.2,272.8 L1088.5,273.4 L1088.8,273.8 L1089.1,272.9 L1089.4,275.7 L1089.7,273.0 L1090.0,274.5 L1090.3,273.4 L1090.7,274.5 L1091.0,270.8 L1091.3,272.5 L1091.6,273.6 L1091.9,274.0 L1092.2,275.8 L1092.5,273.7 L1092.8,274.7 L1093.1,274.2 L1093.5,274.4 L1093.8,273.9 L1094.1,273.2 L1094.4,273.9 L1094.7,272.2 L1095.0,274.6 L1095.3,272.3 L1095.6,273.7 L1095.9,275.6 L1096.2,273.2 L1096.6,273.4 L1096.9,274.6 L1097.2,273.4 L1097.5,272.6 L1097.8,273.7 L1098.1,274.0 L1098.4,274.2 L1098.7,272.6 L1099.0,275.3 L1099.4,275.2 L1099.7,273.5 L1100.0,273.7 L1100.3,273.0 L1100.6,275.0 L1100.9,272.7 L1101.2,274.2 L1101.5,273.0 L1101.8,272.8 L1102.1,274.2 L1102.5,274.9 L1102.8,273.5 L1103.1,272.8 L1103.4,274.4 L1103.7,273.5 L1104.0,273.8 L1104.3,275.1 L1104.6,274.7 L1104.9,273.0 L1105.3,275.9 L1105.6,273.5 L1105.9,274.4 L1106.2,272.9 L1106.5,273.5 L1106.8,271.7 L1107.1,275.4 L1107.4,275.0 L1107.7,272.3 L1108.0,272.0 L1108.4,271.9 L1108.7,274.8 L1109.0,273.1 L1109.3,273.5 L1109.6,273.3 L1109.9,273.5 L1110.2,272.5 L1110.5,273.6 L1110.8,272.1 L1111.2,273.5 L1111.5,273.9 L1111.8,274.1 L1112.1,273.4 L1112.4,272.7 L1112.7,273.8 L1113.0,273.1 L1113.3,275.3 L1113.6,274.4 L1113.9,273.5 L1114.3,273.2 L1114.6,272.9 L1114.9,272.7 L1115.2,273.3 L1115.5,274.0 L1115.8,274.2 L1116.1,274.3 L1116.4,275.9 L1116.7,272.9 L1117.1,273.7 L1117.4,276.6 L1117.7,271.7 L1118.0,273.1 L1118.3,273.9 L1118.6,273.9 L1118.9,274.1 L1119.2,273.5 L1119.5,274.1 L1119.8,273.8 L1120.2,274.5 L1120.5,271.7 L1120.8,272.8 L1121.1,273.7 L1121.4,272.6 L1121.7,272.6 L1122.0,274.4 L1122.3,273.1 L1122.6,274.4 L1123.0,274.5 L1123.3,274.1 L1123.6,274.3 L1123.9,273.6 L1124.2,272.3 L1124.5,273.7 L1124.8,274.2 L1125.1,273.2 L1125.4,273.7 L1125.7,274.6 L1126.1,272.9 L1126.4,274.4 L1126.7,275.7 L1127.0,273.2 L1127.3,273.9 L1127.6,273.6 L1127.9,275.4 L1128.2,274.1 L1128.5,274.7 L1128.9,273.1 L1129.2,273.8 L1129.5,273.8 L1129.8,271.9 L1130.1,275.3 L1130.4,274.8 L1130.7,272.0 L1131.0,274.6 L1131.3,273.7 L1131.6,274.3 L1132.0,274.2 L1132.3,272.3 L1132.6,273.6 L1132.9,275.4 L1133.2,273.2 L1133.5,272.8 L1133.8,272.4 L1134.1,272.6 L1134.4,274.2 L1134.8,275.6 L1135.1,274.3 L1135.4,274.1 L1135.7,276.2 L1136.0,273.3 L1136.3,273.2 L1136.6,274.4 L1136.9,274.5 L1137.2,272.8 L1137.5,272.7 L1137.9,274.2 L1138.2,274.1 L1138.5,272.5 L1138.8,273.7 L1139.1,273.3 L1139.4,274.4 L1139.7,273.8 L1140.0,273.8 L1140.3,273.5 L1140.7,275.0 L1141.0,275.4 L1141.3,273.5 L1141.6,274.8 L1141.9,273.1 L1142.2,274.0 L1142.5,274.7 L1142.8,275.5 L1143.1,273.5 L1143.4,273.9 L1143.8,274.1 L1144.1,272.4 L1144.4,274.0 L1144.7,273.2 L1145.0,274.3 L1145.3,272.8 L1145.6,271.9 L1145.9,274.0 L1146.2,274.2 L1146.6,273.4 L1146.9,274.9 L1147.2,273.7 L1147.5,273.3 L1147.8,274.5 L1148.1,272.3 L1148.4,273.3 L1148.7,273.9 L1149.0,274.9 L1149.3,273.8 L1149.7,274.3 L1150.0,273.3 L1150.3,274.3 L1150.6,275.7 L1150.9,273.3 L1151.2,276.5 L1151.5,273.3 L1151.8,274.0 L1152.1,274.2 L1152.4,275.1 L1152.8,272.7 L1153.1,271.8 L1153.4,274.6 L1153.7,274.8 L1154.0,274.7 L1154.3,276.8 L1154.6,274.2 L1154.9,274.3 L1155.2,275.0 L1155.6,274.4 L1155.9,275.8 L1156.2,272.7 L1156.5,273.6 L1156.8,270.4 L1157.1,274.9 L1157.4,273.6 L1157.7,275.0 L1158.0,276.3 L1158.3,274.0 L1158.7,273.8 L1159.0,273.5 L1159.3,273.2 L1159.6,273.4 L1159.9,274.7 L1160.2,274.1 L1160.5,274.1 L1160.8,273.9 L1161.1,275.0 L1161.5,274.6 L1161.8,273.9 L1162.1,274.8 L1162.4,273.9 L1162.7,272.9 L1163.0,275.6 L1163.3,274.6 L1163.6,273.1 L1163.9,275.2 L1164.2,274.4 L1164.6,272.4 L1164.9,275.8 L1165.2,274.4 L1165.5,275.0 L1165.8,274.3 L1166.1,273.9 L1166.4,272.5 L1166.7,275.1 L1167.0,274.1 L1167.4,273.8 L1167.7,274.5 L1168.0,274.2 L1168.3,274.8 L1168.6,273.7 L1168.9,274.1 L1169.2,271.9 L1169.5,273.7 L1169.8,274.8 L1170.1,275.5 L1170.5,273.7 L1170.8,274.0 L1171.1,275.8 L1171.4,273.8 L1171.7,274.9 L1172.0,275.9 L1172.3,274.2 L1172.6,275.4 L1172.9,273.4 L1173.3,274.3 L1173.6,274.0 L1173.9,274.2 L1174.2,275.3 L1174.5,276.6 L1174.8,273.4 L1175.1,273.5 L1175.4,274.7 L1175.7,273.0 L1176.0,274.7 L1176.4,274.7 L1176.7,273.8 L1177.0,274.7 L1177.3,272.5 L1177.6,274.9 L1177.9,272.5 L1178.2,273.4 L1178.5,273.6 L1178.8,273.7 L1179.2,275.1 L1179.5,274.2 L1179.8,273.7 L1180.1,274.7 L1180.4,275.8 L1180.7,274.2 L1181.0,274.5 L1181.3,275.5 L1181.6,274.4 L1181.9,272.8 L1182.3,276.8 L1182.6,276.5 L1182.9,272.1 L1183.2,274.1 L1183.5,274.6 L1183.8,275.2 L1184.1,274.9 L1184.4,273.9 L1184.7,273.1 L1185.1,274.3 L1185.4,275.3 L1185.7,273.0 L1186.0,273.1 L1186.3,274.2 L1186.6,272.2 L1186.9,273.9 L1187.2,273.7 L1187.5,274.7 L1187.8,273.5 L1188.2,273.3 L1188.5,273.8 L1188.8,274.1 L1189.1,273.5 L1189.4,274.2 L1189.7,275.0 L1190.0,275.4 L1190.3,276.0 L1190.6,273.4 L1191.0,273.8 L1191.3,271.6 L1191.6,276.2 L1191.9,273.4 L1192.2,274.2 L1192.5,274.8 L1192.8,272.8 L1193.1,274.7 L1193.4,274.2 L1193.7,272.3 L1194.1,274.5 L1194.4,275.5 L1194.7,272.3 L1195.0,275.1 L1195.3,274.4 L1195.6,274.7 L1195.9,274.7 L1196.2,275.6 L1196.5,274.0 L1196.9,275.1 L1197.2,273.8 L1197.5,275.0 L1197.8,273.4 L1198.1,274.1 L1198.4,276.0 L1198.7,274.7 L1199.0,274.1 L1199.3,273.0 L1199.6,273.4 L1200.0,274.4 L1200.3,275.2 L1200.6,274.7 L1200.9,274.8 L1201.2,274.2 L1201.5,275.7 L1201.8,273.8 L1202.1,273.7 L1202.4,275.2 L1202.8,274.3 L1203.1,274.0 L1203.4,273.6 L1203.7,274.0 L1204.0,274.9 L1204.3,274.6 L1204.6,273.0 L1204.9,274.7 L1205.2,274.4 L1205.5,273.2 L1205.9,275.1 L1206.2,274.0 L1206.5,273.9 L1206.8,275.1 L1207.1,275.6 L1207.4,273.5 L1207.7,274.7 L1208.0,273.3 L1208.3,276.7 L1208.7,273.7 L1209.0,275.5 L1209.3,273.6 L1209.6,275.1 L1209.9,276.6 L1210.2,271.6 L1210.5,273.8 L1210.8,274.8 L1211.1,274.2 L1211.4,273.6 L1211.8,276.5 L1212.1,274.4 L1212.4,272.6 L1212.7,275.2 L1213.0,272.5 L1213.3,275.5 L1213.6,273.7 L1213.9,274.4 L1214.2,275.6 L1214.5,274.4 L1214.9,272.8 L1215.2,272.5 L1215.5,275.5 L1215.8,275.1 L1216.1,273.4 L1216.4,275.2 L1216.7,274.8 L1217.0,275.0 L1217.3,271.9 L1217.7,274.0 L1218.0,275.2 L1218.3,275.1 L1218.6,275.2 L1218.9,271.7 L1219.2,274.5 L1219.5,274.8 L1219.8,277.0 L1220.1,273.3 L1220.4,274.0 L1220.8,274.3 L1221.1,275.2 L1221.4,273.8 L1221.7,275.5 L1222.0,273.5 L1222.3,274.6 L1222.6,273.8 L1222.9,274.5 L1223.2,273.6 L1223.6,272.6 L1223.9,275.5 L1224.2,274.6 L1224.5,273.7 L1224.8,274.5 L1225.1,275.4 L1225.4,273.3 L1225.7,274.2 L1226.0,274.9 L1226.3,274.9 L1226.7,274.0 L1227.0,272.1 L1227.3,275.6 L1227.6,274.7 L1227.9,274.3 L1228.2,274.0 L1228.5,274.6 L1228.8,273.9 L1229.1,273.2 L1229.5,273.5 L1229.8,273.7 L1230.1,273.7 L1230.4,273.1 L1230.7,275.0 L1231.0,273.0 L1231.3,275.0 L1231.6,273.3 L1231.9,274.7 L1232.2,275.8 L1232.6,274.5 L1232.9,273.6 L1233.2,274.4 L1233.5,274.5 L1233.8,272.5 L1234.1,273.7 L1234.4,274.5 L1234.7,273.8 L1235.0,274.4 L1235.4,275.1 L1235.7,275.1 L1236.0,275.3 L1236.3,275.0 L1236.6,274.0 L1236.9,274.3 L1237.2,274.1 L1237.5,274.0 L1237.8,274.2 L1238.1,272.5 L1238.5,274.0 L1238.8,274.3 L1239.1,273.3 L1239.4,274.3 L1239.7,274.9 L1240.0,274.2 L1240.3,276.5 L1240.6,271.6 L1240.9,274.1 L1241.3,272.4 L1241.6,275.4 L1241.9,277.1 L1242.2,271.7 L1242.5,274.5 L1242.8,274.9 L1243.1,274.0 L1243.4,274.9 L1243.7,272.0 L1244.0,275.3 L1244.4,274.7 L1244.7,274.4 L1245.0,273.7 L1245.3,275.0 L1245.6,273.9 L1245.9,274.6 L1246.2,273.8 L1246.5,272.0 L1246.8,274.3 L1247.2,274.6 L1247.5,275.2 L1247.8,273.4 L1248.1,274.3 L1248.4,275.0 L1248.7,274.5 L1249.0,275.7 L1249.3,276.5 L1249.6,273.4 L1249.9,272.4 L1250.3,275.3 L1250.6,276.0 L1250.9,275.3 L1251.2,275.2 L1251.5,273.7 L1251.8,273.6 L1252.1,275.3 L1252.4,273.4 L1252.7,272.5 L1253.1,273.3 L1253.4,277.0 L1253.7,276.4 L1254.0,273.7 L1254.3,273.6 L1254.6,274.6 L1254.9,273.6 L1255.2,275.8 L1255.5,274.3 L1255.8,273.2 L1256.2,275.8 L1256.5,273.8 L1256.8,274.6 L1257.1,274.4 L1257.4,274.1 L1257.7,274.7 L1258.0,273.7 L1258.3,272.4 L1258.6,272.1 L1259.0,273.1 L1259.3,273.6 L1259.6,274.4 L1259.9,274.4 L1260.2,275.0 L1260.5,274.5 L1260.8,273.6 L1261.1,273.6 L1261.4,272.2 L1261.7,274.2 L1262.1,274.9 L1262.4,274.9 L1262.7,274.3 L1263.0,274.2 L1263.3,275.4 L1263.6,274.4 L1263.9,275.2 L1264.2,275.0 L1264.5,274.6 L1264.9,275.8 L1265.2,273.8 L1265.5,274.0 L1265.8,273.5 L1266.1,273.6 L1266.4,276.0 L1266.7,276.2 L1267.0,274.4 L1267.3,275.0 L1267.6,275.6 L1268.0,275.2 L1268.3,275.7 L1268.6,273.1 L1268.9,273.7 L1269.2,274.9 L1269.5,275.9 L1269.8,274.5 L1270.1,273.5 L1270.4,274.0 L1270.8,273.7 L1271.1,273.5 L1271.4,276.0 L1271.7,273.7 L1272.0,274.4 L1272.3,276.7 L1272.6,275.6 L1272.9,274.8 L1273.2,273.8 L1273.5,274.8 L1273.9,276.1 L1274.2,275.1 L1274.5,275.7 L1274.8,274.5 L1275.1,274.9 L1275.4,274.2 L1275.7,274.9 L1276.0,275.8 L1276.3,272.9 L1276.6,274.3 L1277.0,274.7 L1277.3,273.8 L1277.6,274.1 L1277.9,275.2 L1278.2,276.5 L1278.5,275.1 L1278.8,274.8 L1279.1,272.8 L1279.4,276.4 L1279.8,274.5 L1280.1,274.4 L1280.4,273.2 L1280.7,274.4 L1281.0,273.3 L1281.3,274.5 L1281.6,274.9 L1281.9,274.4 L1282.2,274.7 L1282.5,273.5 L1282.9,275.9 L1283.2,273.7 L1283.5,272.5 L1283.8,274.2 L1284.1,273.6 L1284.4,273.4 L1284.7,274.0 L1285.0,274.7 L1285.3,273.2 L1285.7,274.3 L1286.0,275.9 L1286.3,275.1 L1286.6,274.3 L1286.9,274.6 L1287.2,274.3 L1287.5,274.4 L1287.8,275.2 L1288.1,274.3 L1288.4,271.9 L1288.8,274.4 L1289.1,273.5 L1289.4,275.1 L1289.7,273.8 L1290.0,274.6 L1290.3,276.7 L1290.6,273.3 L1290.9,273.2 L1291.2,272.9 L1291.6,271.9 L1291.9,272.5 L1292.2,274.8 L1292.5,273.8 L1292.8,272.5 L1293.1,272.9 L1293.4,275.1 L1293.7,273.6 L1294.0,274.0 L1294.3,274.8 L1294.7,275.9 L1295.0,276.5 L1295.3,275.5 L1295.6,274.6 L1295.9,274.6 L1296.2,276.3 L1296.5,275.9 L1296.8,274.1 L1297.1,274.9 L1297.5,274.7 L1297.8,274.5 L1298.1,273.9 L1298.4,273.0 L1298.7,273.9 L1299.0,272.8 L1299.3,275.7 L1299.6,275.0 L1299.9,273.2 L1300.2,275.9 L1300.6,275.4 L1300.9,272.4 L1301.2,276.4 L1301.5,275.3 L1301.8,276.6 L1302.1,273.1 L1302.4,275.0 L1302.7,274.9 L1303.0,274.6 L1303.4,274.6 L1303.7,275.5 L1304.0,272.9 L1304.3,273.1 L1304.6,273.0 L1304.9,273.9 L1305.2,273.8 L1305.5,274.8 L1305.8,274.7 L1306.1,274.5 L1306.5,273.7 L1306.8,274.0 L1307.1,275.4 L1307.4,275.2 L1307.7,274.5 L1308.0,274.1 L1308.3,276.1 L1308.6,273.8 L1308.9,275.1 L1309.3,275.7 L1309.6,274.2 L1309.9,275.3 L1310.2,273.3 L1310.5,275.5 L1310.8,274.7 L1311.1,272.8 L1311.4,275.1 L1311.7,273.5 L1312.0,275.8 L1312.4,273.7 L1312.7,274.3 L1313.0,274.7 L1313.3,274.1 L1313.6,274.7 L1313.9,273.9 L1314.2,275.2 L1314.5,274.5 L1314.8,274.7 L1315.2,271.6 L1315.5,275.7 L1315.8,274.5 L1316.1,272.6 L1316.4,274.5 L1316.7,274.9 L1317.0,275.6 L1317.3,273.3 L1317.6,276.1 L1317.9,274.3 L1318.3,277.0 L1318.6,274.3 L1318.9,275.2 L1319.2,274.1 L1319.5,273.3 L1319.8,275.6 L1320.1,275.4 L1320.4,276.1 L1320.7,275.4 L1321.1,273.8 L1321.4,272.7 L1321.7,273.8 L1322.0,273.7 L1322.3,273.6 L1322.6,275.1 L1322.9,274.8 L1323.2,274.2 L1323.5,274.6 L1323.8,274.3 L1324.2,274.7 L1324.5,275.2 L1324.8,275.5 L1325.1,273.7 L1325.4,272.9 L1325.7,276.0 L1326.0,274.6 L1326.3,275.6 L1326.6,272.7 L1327.0,274.1 L1327.3,274.5 L1327.6,272.9 L1327.9,273.9 L1328.2,275.2 L1328.5,275.6 L1328.8,276.1 L1329.1,273.5 L1329.4,273.0 L1329.7,275.0 L1330.1,275.4 L1330.4,274.7 L1330.7,273.1 L1331.0,275.3 L1331.3,275.3 L1331.6,275.0 L1331.9,273.9 L1332.2,274.8 L1332.5,275.3 L1332.9,273.9 L1333.2,272.5 L1333.5,274.8 L1333.8,275.0 L1334.1,274.5 L1334.4,275.4 L1334.7,273.8 L1335.0,274.4 L1335.3,274.1 L1335.6,275.1 L1336.0,276.1 L1336.3,274.2 L1336.6,276.6 L1336.9,276.1 L1337.2,275.3 L1337.5,275.1 L1337.8,276.3 L1338.1,274.3 L1338.4,274.3 L1338.7,273.3 L1339.1,275.0 L1339.4,275.9 L1339.7,275.0 L1340.0,274.9 L1340.3,274.3 L1340.6,274.6 L1340.9,273.0 L1341.2,275.6 L1341.5,274.0 L1341.9,273.3 L1342.2,273.7 L1342.5,273.6 L1342.8,275.4 L1343.1,275.6" fill="none" stroke="none" marker-start="url(#mo)" marker-mid="url(#mo)" marker-end="url(#mo)"/><g fill="none" stroke="#f23c3c" stroke-width="1.6"><circle cx="1046.4" cy="66.0" r="4.9"/><circle cx="1042.9" cy="69.8" r="4.9"/><circle cx="1046.7" cy="72.8" r="4.9"/><circle cx="1043.8" cy="76.6" r="4.9"/><circle cx="1047.0" cy="79.0" r="4.9"/><circle cx="1043.1" cy="83.2" r="4.9"/><circle cx="1047.2" cy="86.9" r="4.9"/><circle cx="1043.4" cy="90.5" r="4.9"/><circle cx="1046.2" cy="93.5" r="4.9"/><circle cx="1044.4" cy="97.0" r="4.9"/><circle cx="1047.1" cy="100.0" r="4.9"/><circle cx="1043.4" cy="103.7" r="4.9"/><circle cx="1046.4" cy="106.2" r="4.9"/><circle cx="1043.4" cy="109.2" r="4.9"/><circle cx="1046.9" cy="112.1" r="4.9"/><circle cx="1044.3" cy="116.4" r="4.9"/><circle cx="1047.1" cy="120.0" r="4.9"/><circle cx="1043.7" cy="122.8" r="4.9"/><circle cx="1045.7" cy="127.3" r="4.9"/><circle cx="1044.3" cy="130.5" r="4.9"/><circle cx="1047.4" cy="134.4" r="4.9"/><circle cx="1044.4" cy="137.6" r="4.9"/><circle cx="1046.6" cy="141.0" r="4.9"/><circle cx="1043.6" cy="144.7" r="4.9"/><circle cx="1047.2" cy="148.2" r="4.9"/><circle cx="1043.8" cy="151.5" r="4.9"/><circle cx="1046.0" cy="155.8" r="4.9"/><circle cx="1043.9" cy="159.5" r="4.9"/><circle cx="1045.9" cy="163.3" r="4.9"/><circle cx="1043.9" cy="167.8" r="4.9"/><circle cx="1046.1" cy="169.7" r="4.9"/><circle cx="1044.6" cy="172.6" r="4.9"/><circle cx="1046.4" cy="175.5" r="4.9"/><circle cx="1044.0" cy="179.2" r="4.9"/><circle cx="1046.0" cy="181.7" r="4.9"/><circle cx="1042.8" cy="185.5" r="4.9"/><circle cx="1046.0" cy="188.8" r="4.9"/><circle cx="1043.9" cy="192.7" r="4.9"/><circle cx="1045.9" cy="195.1" r="4.9"/><circle cx="1043.1" cy="199.0" r="4.9"/><circle cx="1046.5" cy="202.5" r="4.9"/><circle cx="1044.2" cy="205.8" r="4.9"/><circle cx="1046.3" cy="210.2" r="4.9"/><circle cx="1043.1" cy="213.8" r="4.9"/><circle cx="1046.5" cy="217.8" r="4.9"/><circle cx="1043.6" cy="220.4" r="4.9"/><circle cx="1047.2" cy="222.5" r="4.9"/><circle cx="1043.0" cy="225.3" r="4.9"/><circle cx="1046.3" cy="227.8" r="4.9"/><circle cx="1043.8" cy="230.3" r="4.9"/><circle cx="1045.6" cy="232.6" r="4.9"/><circle cx="1044.1" cy="236.3" r="4.9"/><circle cx="1046.2" cy="238.8" r="4.9"/><circle cx="1043.8" cy="241.9" r="4.9"/><circle cx="1046.9" cy="245.4" r="4.9"/><circle cx="1042.9" cy="248.2" r="4.9"/><circle cx="1045.7" cy="252.3" r="4.9"/><circle cx="1042.9" cy="256.3" r="4.9"/><circle cx="1045.9" cy="260.2" r="4.9"/><circle cx="1043.4" cy="264.3" r="4.9"/><circle cx="1045.6" cy="266.1" r="4.9"/><circle cx="1043.4" cy="270.5" r="4.9"/><circle cx="1042.3" cy="269.9" r="4.9"/><circle cx="1043.3" cy="264.9" r="4.9"/><circle cx="1044.0" cy="269.9" r="4.9"/><circle cx="1047.9" cy="264.7" r="4.9"/><circle cx="1042.8" cy="264.0" r="4.9"/><circle cx="1045.9" cy="264.8" r="4.9"/><circle cx="1046.3" cy="263.9" r="4.9"/><circle cx="1047.1" cy="264.4" r="4.9"/><circle cx="1043.0" cy="265.5" r="4.9"/><circle cx="1045.3" cy="265.1" r="4.9"/><circle cx="1085.4" cy="248.0" r="4.9"/><circle cx="1082.7" cy="252.2" r="4.9"/><circle cx="1085.1" cy="254.7" r="4.9"/><circle cx="1082.9" cy="256.9" r="4.9"/><circle cx="1085.5" cy="258.8" r="4.9"/><circle cx="1082.9" cy="261.0" r="4.9"/><circle cx="1085.6" cy="264.2" r="4.9"/><circle cx="1083.7" cy="268.3" r="4.9"/><circle cx="1084.0" cy="267.5" r="4.9"/><circle cx="1085.3" cy="265.3" r="4.9"/><circle cx="1083.3" cy="268.7" r="4.9"/><circle cx="1087.4" cy="271.4" r="4.9"/><circle cx="1085.2" cy="266.9" r="4.9"/><circle cx="1080.9" cy="267.1" r="4.9"/><circle cx="1085.5" cy="264.6" r="4.9"/><circle cx="1083.0" cy="264.2" r="4.9"/><circle cx="1084.3" cy="268.1" r="4.9"/><circle cx="1087.0" cy="271.7" r="4.9"/><circle cx="1119.8" cy="196.0" r="4.9"/><circle cx="1116.8" cy="199.5" r="4.9"/><circle cx="1119.2" cy="203.6" r="4.9"/><circle cx="1116.5" cy="206.7" r="4.9"/><circle cx="1118.9" cy="210.6" r="4.9"/><circle cx="1116.7" cy="213.6" r="4.9"/><circle cx="1120.1" cy="216.8" r="4.9"/><circle cx="1115.9" cy="219.4" r="4.9"/><circle cx="1119.4" cy="222.3" r="4.9"/><circle cx="1116.5" cy="224.9" r="4.9"/><circle cx="1119.7" cy="229.3" r="4.9"/><circle cx="1116.9" cy="233.2" r="4.9"/><circle cx="1119.1" cy="235.9" r="4.9"/><circle cx="1116.3" cy="239.3" r="4.9"/><circle cx="1118.6" cy="243.2" r="4.9"/><circle cx="1115.8" cy="246.9" r="4.9"/><circle cx="1118.6" cy="250.2" r="4.9"/><circle cx="1117.5" cy="252.8" r="4.9"/><circle cx="1120.2" cy="255.1" r="4.9"/><circle cx="1116.2" cy="258.6" r="4.9"/><circle cx="1120.2" cy="262.5" r="4.9"/><circle cx="1116.3" cy="266.0" r="4.9"/><circle cx="1119.8" cy="269.5" r="4.9"/><circle cx="1119.3" cy="270.8" r="4.9"/><circle cx="1119.2" cy="268.8" r="4.9"/><circle cx="1119.8" cy="271.7" r="4.9"/><circle cx="1115.8" cy="272.2" r="4.9"/><circle cx="1119.9" cy="265.2" r="4.9"/><circle cx="1119.1" cy="269.5" r="4.9"/><circle cx="1120.2" cy="266.2" r="4.9"/><circle cx="1118.4" cy="270.4" r="4.9"/><circle cx="1116.6" cy="269.1" r="4.9"/><circle cx="1116.7" cy="269.0" r="4.9"/><circle cx="1178.2" cy="209.0" r="4.9"/><circle cx="1175.9" cy="213.3" r="4.9"/><circle cx="1177.0" cy="216.7" r="4.9"/><circle cx="1174.4" cy="218.8" r="4.9"/><circle cx="1178.7" cy="222.1" r="4.9"/><circle cx="1175.9" cy="225.1" r="4.9"/><circle cx="1178.1" cy="228.0" r="4.9"/><circle cx="1174.1" cy="232.3" r="4.9"/><circle cx="1177.7" cy="235.4" r="4.9"/><circle cx="1174.7" cy="237.5" r="4.9"/><circle cx="1177.2" cy="239.8" r="4.9"/><circle cx="1176.0" cy="241.7" r="4.9"/><circle cx="1177.2" cy="245.3" r="4.9"/><circle cx="1175.8" cy="249.7" r="4.9"/><circle cx="1177.2" cy="253.9" r="4.9"/><circle cx="1174.6" cy="255.7" r="4.9"/><circle cx="1178.4" cy="258.2" r="4.9"/><circle cx="1175.9" cy="260.5" r="4.9"/><circle cx="1178.3" cy="264.4" r="4.9"/><circle cx="1174.6" cy="268.5" r="4.9"/><circle cx="1178.2" cy="270.5" r="4.9"/><circle cx="1176.2" cy="265.5" r="4.9"/><circle cx="1174.7" cy="265.2" r="4.9"/><circle cx="1178.0" cy="272.8" r="4.9"/><circle cx="1173.1" cy="267.7" r="4.9"/><circle cx="1178.7" cy="272.3" r="4.9"/><circle cx="1175.1" cy="267.1" r="4.9"/><circle cx="1174.1" cy="266.0" r="4.9"/><circle cx="1176.4" cy="272.5" r="4.9"/><circle cx="1175.5" cy="268.3" r="4.9"/><circle cx="1176.0" cy="267.5" r="4.9"/><circle cx="1229.1" cy="243.5" r="4.9"/><circle cx="1227.2" cy="247.5" r="4.9"/><circle cx="1229.9" cy="251.0" r="4.9"/><circle cx="1227.1" cy="253.9" r="4.9"/><circle cx="1230.5" cy="257.8" r="4.9"/><circle cx="1226.8" cy="261.8" r="4.9"/><circle cx="1228.9" cy="264.4" r="4.9"/><circle cx="1226.5" cy="268.8" r="4.9"/><circle cx="1229.4" cy="272.8" r="4.9"/><circle cx="1231.7" cy="266.5" r="4.9"/><circle cx="1229.0" cy="270.7" r="4.9"/><circle cx="1227.8" cy="266.0" r="4.9"/><circle cx="1227.5" cy="267.6" r="4.9"/><circle cx="1229.0" cy="266.0" r="4.9"/><circle cx="1230.5" cy="270.9" r="4.9"/><circle cx="1224.8" cy="271.0" r="4.9"/><circle cx="1227.8" cy="268.4" r="4.9"/><circle cx="1230.5" cy="266.0" r="4.9"/><circle cx="1225.1" cy="266.5" r="4.9"/><circle cx="1279.0" cy="255.0" r="4.9"/><circle cx="1275.4" cy="259.1" r="4.9"/><circle cx="1279.1" cy="261.7" r="4.9"/><circle cx="1275.2" cy="265.7" r="4.9"/><circle cx="1278.1" cy="269.9" r="4.9"/><circle cx="1275.4" cy="272.0" r="4.9"/><circle cx="1274.9" cy="267.2" r="4.9"/><circle cx="1280.0" cy="271.3" r="4.9"/><circle cx="1277.7" cy="267.8" r="4.9"/><circle cx="1276.7" cy="271.6" r="4.9"/><circle cx="1275.2" cy="267.2" r="4.9"/><circle cx="1279.0" cy="269.5" r="4.9"/><circle cx="1274.1" cy="266.8" r="4.9"/><circle cx="1278.9" cy="271.3" r="4.9"/><circle cx="1277.5" cy="266.0" r="4.9"/><circle cx="1279.7" cy="269.0" r="4.9"/><circle cx="1301.6" cy="271.0" r="4.9"/><circle cx="1298.1" cy="271.7" r="4.9"/><circle cx="1298.0" cy="267.6" r="4.9"/><circle cx="1299.3" cy="268.7" r="4.9"/><circle cx="1299.6" cy="269.1" r="4.9"/><circle cx="1297.8" cy="272.9" r="4.9"/><circle cx="1303.7" cy="270.2" r="4.9"/><circle cx="1297.5" cy="268.2" r="4.9"/><circle cx="1302.3" cy="272.0" r="4.9"/><circle cx="1300.9" cy="270.5" r="4.9"/><circle cx="1300.4" cy="273.1" r="4.9"/><circle cx="1324.1" cy="267.0" r="4.9"/><circle cx="1321.5" cy="271.5" r="4.9"/><circle cx="1324.0" cy="271.2" r="4.9"/><circle cx="1325.5" cy="269.8" r="4.9"/><circle cx="1326.7" cy="267.1" r="4.9"/><circle cx="1325.8" cy="265.5" r="4.9"/><circle cx="1321.8" cy="272.9" r="4.9"/><circle cx="1321.4" cy="271.8" r="4.9"/><circle cx="1320.6" cy="272.8" r="4.9"/><circle cx="1323.9" cy="266.3" r="4.9"/><circle cx="1323.2" cy="265.7" r="4.9"/><circle cx="1326.4" cy="272.7" r="4.9"/><circle cx="996.5" cy="268.0" r="4.9"/><circle cx="992.5" cy="261.2" r="4.9"/><circle cx="993.5" cy="264.4" r="4.9"/><circle cx="996.2" cy="261.2" r="4.9"/><circle cx="996.4" cy="265.7" r="4.9"/><circle cx="994.8" cy="267.6" r="4.9"/><circle cx="998.4" cy="260.9" r="4.9"/><circle cx="993.2" cy="268.6" r="4.9"/><circle cx="993.5" cy="266.1" r="4.9"/><circle cx="998.0" cy="261.6" r="4.9"/><circle cx="997.5" cy="268.5" r="4.9"/><circle cx="1149.9" cy="270.0" r="4.9"/><circle cx="1149.4" cy="264.9" r="4.9"/><circle cx="1145.3" cy="271.6" r="4.9"/><circle cx="1150.1" cy="265.3" r="4.9"/><circle cx="1149.6" cy="270.4" r="4.9"/><circle cx="1149.0" cy="266.7" r="4.9"/><circle cx="1145.6" cy="270.2" r="4.9"/><circle cx="1146.7" cy="271.8" r="4.9"/><circle cx="1148.2" cy="271.4" r="4.9"/><circle cx="1146.5" cy="271.6" r="4.9"/><circle cx="1149.6" cy="272.7" r="4.9"/><circle cx="1254.1" cy="271.0" r="4.9"/><circle cx="1249.4" cy="265.8" r="4.9"/><circle cx="1250.7" cy="265.7" r="4.9"/><circle cx="1255.2" cy="266.1" r="4.9"/><circle cx="1250.1" cy="269.6" r="4.9"/><circle cx="1249.8" cy="265.7" r="4.9"/><circle cx="1255.0" cy="268.1" r="4.9"/><circle cx="1252.3" cy="270.5" r="4.9"/><circle cx="1254.9" cy="269.4" r="4.9"/><circle cx="1253.5" cy="272.0" r="4.9"/><circle cx="1250.7" cy="272.7" r="4.9"/></g><polyline points="929.2,264.3 929.3,264.3 929.4,264.3 929.5,264.3 929.6,264.4 929.7,264.4 929.8,264.4 929.9,264.4 930.0,264.4 930.1,264.4 930.2,264.5 930.3,264.5 930.4,264.5 930.5,264.5 930.6,264.5 930.8,264.5 930.9,264.5 931.0,264.6 931.1,264.6 931.2,264.6 931.3,264.6 931.4,264.6 931.5,264.6 931.6,264.7 931.7,264.7 931.8,264.7 931.9,264.7 932.0,264.7 932.1,264.7 932.2,264.7 932.3,264.8 932.4,264.8 932.5,264.8 932.6,264.8 932.7,264.8 932.8,264.8 932.9,264.8 933.0,264.9 933.1,264.9 933.2,264.9 933.3,264.9 933.4,264.9 933.5,264.9 933.7,265.0 933.8,265.0 933.9,265.0 934.0,265.0 934.1,265.0 934.2,265.0 934.3,265.0 934.4,265.1 934.5,265.1 934.6,265.1 934.7,265.1 934.8,265.1 934.9,265.1 935.0,265.1 935.1,265.2 935.2,265.2 935.3,265.2 935.4,265.2 935.5,265.2 935.6,265.2 935.7,265.2 935.8,265.3 935.9,265.3 936.0,265.3 936.1,265.3 936.2,265.3 936.3,265.3 936.4,265.3 936.5,265.4 936.7,265.4 936.8,265.4 936.9,265.4 937.0,265.4 937.1,265.4 937.2,265.4 937.3,265.5 937.4,265.5 937.5,265.5 937.6,265.5 937.7,265.5 937.8,265.5 937.9,265.5 938.0,265.6 938.1,265.6 938.2,265.6 938.3,265.6 938.4,265.6 938.5,265.6 938.6,265.6 938.7,265.7 938.8,265.7 938.9,265.7 939.0,265.7 939.1,265.7 939.2,265.7 939.3,265.7 939.4,265.7 939.5,265.8 939.7,265.8 939.8,265.8 939.9,265.8 940.0,265.8 940.1,265.8 940.2,265.8 940.3,265.9 940.4,265.9 940.5,265.9 940.6,265.9 940.7,265.9 940.8,265.9 940.9,265.9 941.0,265.9 941.1,266.0 941.2,266.0 941.3,266.0 941.4,266.0 941.5,266.0 941.6,266.0 941.7,266.0 941.8,266.1 941.9,266.1 942.0,266.1 942.1,266.1 942.2,266.1 942.3,266.1 942.4,266.1 942.6,266.1 942.7,266.2 942.8,266.2 942.9,266.2 943.0,266.2 943.1,266.2 943.2,266.2 943.3,266.2 943.4,266.3 943.5,266.3 943.6,266.3 943.7,266.3 943.8,266.3 943.9,266.3 944.0,266.3 944.1,266.3 944.2,266.4 944.3,266.4 944.4,266.4 944.5,266.4 944.6,266.4 944.7,266.4 944.8,266.4 944.9,266.4 945.0,266.5 945.1,266.5 945.2,266.5 945.3,266.5 945.4,266.5 945.6,266.5 945.7,266.5 945.8,266.5 945.9,266.6 946.0,266.6 946.1,266.6 946.2,266.6 946.3,266.6 946.4,266.6 946.5,266.6 946.6,266.6 946.7,266.7 946.8,266.7 946.9,266.7 947.0,266.7 947.1,266.7 947.2,266.7 947.3,266.7 947.4,266.7 947.5,266.8 947.6,266.8 947.7,266.8 947.8,266.8 947.9,266.8 948.0,266.8 948.1,266.8 948.2,266.8 948.3,266.9 948.5,266.9 948.6,266.9 948.7,266.9 948.8,266.9 948.9,266.9 949.0,266.9 949.1,266.9 949.2,266.9 949.3,267.0 949.4,267.0 949.5,267.0 949.6,267.0 949.7,267.0 949.8,267.0 949.9,267.0 950.0,267.0 950.1,267.1 950.2,267.1 950.3,267.1 950.4,267.1 950.5,267.1 950.6,267.1 950.7,267.1 950.8,267.1 950.9,267.1 951.0,267.2 951.1,267.2 951.2,267.2 951.3,267.2 951.5,267.2 951.6,267.2 951.7,267.2 951.8,267.2 951.9,267.3 952.0,267.3 952.1,267.3 952.2,267.3 952.3,267.3 952.4,267.3 952.5,267.3 952.6,267.3 952.7,267.3 952.8,267.4 952.9,267.4 953.0,267.4 953.1,267.4 953.2,267.4 953.3,267.4 953.4,267.4 953.5,267.4 953.6,267.4 953.7,267.5 953.8,267.5 953.9,267.5 954.0,267.5 954.1,267.5 954.2,267.5 954.4,267.5 954.5,267.5 954.6,267.5 954.7,267.6 954.8,267.6 954.9,267.6 955.0,267.6 955.1,267.6 955.2,267.6 955.3,267.6 955.4,267.6 955.5,267.6 955.6,267.7 955.7,267.7 955.8,267.7 955.9,267.7 956.0,267.7 956.1,267.7 956.2,267.7 956.3,267.7 956.4,267.7 956.5,267.8 956.6,267.8 956.7,267.8 956.8,267.8 956.9,267.8 957.0,267.8 957.1,267.8 957.2,267.8 957.4,267.8 957.5,267.8 957.6,267.9 957.7,267.9 957.8,267.9 957.9,267.9 958.0,267.9 958.1,267.9 958.2,267.9 958.3,267.9 958.4,267.9 958.5,268.0 958.6,268.0 958.7,268.0 958.8,268.0 958.9,268.0 959.0,268.0 959.1,268.0 959.2,268.0 959.3,268.0 959.4,268.0 959.5,268.1 959.6,268.1 959.7,268.1 959.8,268.1 959.9,268.1 960.0,268.1 960.1,268.1 960.2,268.1 960.4,268.1 960.5,268.1 960.6,268.2 960.7,268.2 960.8,268.2 960.9,268.2 961.0,268.2 961.1,268.2 961.2,268.2 961.3,268.2 961.4,268.2 961.5,268.3 961.6,268.3 961.7,268.3 961.8,268.3 961.9,268.3 962.0,268.3 962.1,268.3 962.2,268.3 962.3,268.3 962.4,268.3 962.5,268.4 962.6,268.4 962.7,268.4 962.8,268.4 962.9,268.4 963.0,268.4 963.1,268.4 963.3,268.4 963.4,268.4 963.5,268.4 963.6,268.4 963.7,268.5 963.8,268.5 963.9,268.5 964.0,268.5 964.1,268.5 964.2,268.5 964.3,268.5 964.4,268.5 964.5,268.5 964.6,268.5 964.7,268.6 964.8,268.6 964.9,268.6 965.0,268.6 965.1,268.6 965.2,268.6 965.3,268.6 965.4,268.6 965.5,268.6 965.6,268.6 965.7,268.7 965.8,268.7 965.9,268.7 966.0,268.7 966.1,268.7 966.3,268.7 966.4,268.7 966.5,268.7 966.6,268.7 966.7,268.7 966.8,268.7 966.9,268.8 967.0,268.8 967.1,268.8 967.2,268.8 967.3,268.8 967.4,268.8 967.5,268.8 967.6,268.8 967.7,268.8 967.8,268.8 967.9,268.8 968.0,268.9 968.1,268.9 968.2,268.9 968.3,268.9 968.4,268.9 968.5,268.9 968.6,268.9 968.7,268.9 968.8,268.9 968.9,268.9 969.0,268.9 969.2,269.0 969.3,269.0 969.4,269.0 969.5,269.0 969.6,269.0 969.7,269.0 969.8,269.0 969.9,269.0 970.0,269.0 970.1,269.0 970.2,269.0 970.3,269.1 970.4,269.1 970.5,269.1 970.6,269.1 970.7,269.1 970.8,269.1 970.9,269.1 971.0,269.1 971.1,269.1 971.2,269.1 971.3,269.1 971.4,269.2 971.5,269.2 971.6,269.2 971.7,269.2 971.8,269.2 971.9,269.2 972.0,269.2 972.2,269.2 972.3,269.2 972.4,269.2 972.5,269.2 972.6,269.2 972.7,269.3 972.8,269.3 972.9,269.3 973.0,269.3 973.1,269.3 973.2,269.3 973.3,269.3 973.4,269.3 973.5,269.3 973.6,269.3 973.7,269.3 973.8,269.3 973.9,269.4 974.0,269.4 974.1,269.4 974.2,269.4 974.3,269.4 974.4,269.4 974.5,269.4 974.6,269.4 974.7,269.4 974.8,269.4 974.9,269.4 975.1,269.5 975.2,269.5 975.3,269.5 975.4,269.5 975.5,269.5 975.6,269.5 975.7,269.5 975.8,269.5 975.9,269.5 976.0,269.5 976.1,269.5 976.2,269.5 976.3,269.5 976.4,269.6 976.5,269.6 976.6,269.6 976.7,269.6 976.8,269.6 976.9,269.6 977.0,269.6 977.1,269.6 977.2,269.6 977.3,269.6 977.4,269.6 977.5,269.6 977.6,269.7 977.7,269.7 977.8,269.7 977.9,269.7 978.1,269.7 978.2,269.7 978.3,269.7 978.4,269.7 978.5,269.7 978.6,269.7 978.7,269.7 978.8,269.7 978.9,269.7 979.0,269.8 979.1,269.8 979.2,269.8 979.3,269.8 979.4,269.8 979.5,269.8 979.6,269.8 979.7,269.8 979.8,269.8 979.9,269.8 980.0,269.8 980.1,269.8 980.2,269.9 980.3,269.9 980.4,269.9 980.5,269.9 980.6,269.9 980.7,269.9 980.8,269.9 980.9,269.9 981.1,269.9 981.2,269.9 981.3,269.9 981.4,269.9 981.5,269.9 981.6,270.0 981.7,270.0 981.8,270.0 981.9,270.0 982.0,270.0 982.1,270.0 982.2,270.0 982.3,270.0 982.4,270.0 982.5,270.0 982.6,270.0 982.7,270.0 982.8,270.0 982.9,270.0 983.0,270.1 983.1,270.1 983.2,270.1 983.3,270.1 983.4,270.1 983.5,270.1 983.6,270.1 983.7,270.1 983.8,270.1 984.0,270.1 984.1,270.1 984.2,270.1 984.3,270.1 984.4,270.2 984.5,270.2 984.6,270.2 984.7,270.2 984.8,270.2 984.9,270.2 985.0,270.2 985.1,270.2 985.2,270.2 985.3,270.2 985.4,270.2 985.5,270.2 985.6,270.2 985.7,270.2 985.8,270.3 985.9,270.3 986.0,270.3 986.1,270.3 986.2,270.3 986.3,270.3 986.4,270.3 986.5,270.3 986.6,270.3 986.7,270.3 986.8,270.3 987.0,270.3 987.1,270.3 987.2,270.3 987.3,270.3 987.4,270.4 987.5,270.4 987.6,270.4 987.7,270.4 987.8,270.4 987.9,270.4 988.0,270.4 988.1,270.4 988.2,270.4 988.3,270.4 988.4,270.4 988.5,270.4 988.6,270.4 988.7,270.4 988.8,270.4 988.9,270.5 989.0,270.5 989.1,270.5 989.2,270.5 989.3,270.5 989.4,270.5 989.5,270.5 989.6,270.5 989.7,270.5 989.9,270.5 990.0,270.5 990.1,270.5 990.2,270.5 990.3,270.5 990.4,270.5 990.5,270.5 990.6,270.6 990.7,270.6 990.8,270.6 990.9,270.6 991.0,270.6 991.1,270.6 991.2,270.6 991.3,270.6 991.4,270.6 991.5,270.6 991.6,270.6 991.7,270.6 991.8,270.6 991.9,270.6 992.0,270.6 992.1,270.6 992.2,270.6 992.3,270.6 992.4,270.6 992.5,270.6 992.6,270.6 992.7,270.6 992.9,270.6 993.0,270.6 993.1,270.6 993.2,270.6 993.3,270.6 993.4,270.6 993.5,270.6 993.6,270.6 993.7,270.6 993.8,270.6 993.9,270.5 994.0,270.5 994.1,270.4 994.2,270.4 994.3,270.3 994.4,270.2 994.5,270.1 994.6,270.0 994.7,269.9 994.8,269.8 994.9,269.8 995.0,269.7 995.1,269.7 995.2,269.7 995.3,269.7 995.4,269.8 995.5,269.9 995.6,270.0 995.8,270.1 995.9,270.2 996.0,270.3 996.1,270.4 996.2,270.5 996.3,270.6 996.4,270.6 996.5,270.7 996.6,270.7 996.7,270.8 996.8,270.8 996.9,270.8 997.0,270.8 997.1,270.9 997.2,270.9 997.3,270.9 997.4,270.9 997.5,270.9 997.6,270.9 997.7,271.0 997.8,271.0 997.9,271.0 998.0,271.0 998.1,271.0 998.2,271.0 998.3,271.0 998.4,271.0 998.5,271.0 998.6,271.0 998.8,271.0 998.9,271.0 999.0,271.1 999.1,271.1 999.2,271.1 999.3,271.1 999.4,271.1 999.5,271.1 999.6,271.1 999.7,271.1 999.8,271.1 999.9,271.1 1000.0,271.1 1000.1,271.1 1000.2,271.1 1000.3,271.1 1000.4,271.2 1000.5,271.2 1000.6,271.2 1000.7,271.2 1000.8,271.2 1000.9,271.2 1001.0,271.2 1001.1,271.2 1001.2,271.2 1001.3,271.2 1001.4,271.2 1001.5,271.2 1001.6,271.2 1001.8,271.2 1001.9,271.2 1002.0,271.2 1002.1,271.3 1002.2,271.3 1002.3,271.3 1002.4,271.3 1002.5,271.3 1002.6,271.3 1002.7,271.3 1002.8,271.3 1002.9,271.3 1003.0,271.3 1003.1,271.3 1003.2,271.3 1003.3,271.3 1003.4,271.3 1003.5,271.3 1003.6,271.3 1003.7,271.3 1003.8,271.3 1003.9,271.4 1004.0,271.4 1004.1,271.4 1004.2,271.4 1004.3,271.4 1004.4,271.4 1004.5,271.4 1004.7,271.4 1004.8,271.4 1004.9,271.4 1005.0,271.4 1005.1,271.4 1005.2,271.4 1005.3,271.4 1005.4,271.4 1005.5,271.4 1005.6,271.4 1005.7,271.4 1005.8,271.5 1005.9,271.5 1006.0,271.5 1006.1,271.5 1006.2,271.5 1006.3,271.5 1006.4,271.5 1006.5,271.5 1006.6,271.5 1006.7,271.5 1006.8,271.5 1006.9,271.5 1007.0,271.5 1007.1,271.5 1007.2,271.5 1007.3,271.5 1007.4,271.5 1007.5,271.5 1007.7,271.6 1007.8,271.6 1007.9,271.6 1008.0,271.6 1008.1,271.6 1008.2,271.6 1008.3,271.6 1008.4,271.6 1008.5,271.6 1008.6,271.6 1008.7,271.6 1008.8,271.6 1008.9,271.6 1009.0,271.6 1009.1,271.6 1009.2,271.6 1009.3,271.6 1009.4,271.6 1009.5,271.6 1009.6,271.6 1009.7,271.7 1009.8,271.7 1009.9,271.7 1010.0,271.7 1010.1,271.7 1010.2,271.7 1010.3,271.7 1010.4,271.7 1010.6,271.7 1010.7,271.7 1010.8,271.7 1010.9,271.7 1011.0,271.7 1011.1,271.7 1011.2,271.7 1011.3,271.7 1011.4,271.7 1011.5,271.7 1011.6,271.7 1011.7,271.7 1011.8,271.8 1011.9,271.8 1012.0,271.8 1012.1,271.8 1012.2,271.8 1012.3,271.8 1012.4,271.8 1012.5,271.8 1012.6,271.8 1012.7,271.8 1012.8,271.8 1012.9,271.8 1013.0,271.8 1013.1,271.8 1013.2,271.8 1013.3,271.8 1013.4,271.8 1013.6,271.8 1013.7,271.8 1013.8,271.8 1013.9,271.9 1014.0,271.9 1014.1,271.9 1014.2,271.9 1014.3,271.9 1014.4,271.9 1014.5,271.9 1014.6,271.9 1014.7,271.9 1014.8,271.9 1014.9,271.9 1015.0,271.9 1015.1,271.9 1015.2,271.9 1015.3,271.9 1015.4,271.9 1015.5,271.9 1015.6,271.9 1015.7,271.9 1015.8,271.9 1015.9,271.9 1016.0,271.9 1016.1,272.0 1016.2,272.0 1016.3,272.0 1016.5,272.0 1016.6,272.0 1016.7,272.0 1016.8,272.0 1016.9,272.0 1017.0,272.0 1017.1,272.0 1017.2,272.0 1017.3,272.0 1017.4,272.0 1017.5,272.0 1017.6,272.0 1017.7,272.0 1017.8,272.0 1017.9,272.0 1018.0,272.0 1018.1,272.0 1018.2,272.0 1018.3,272.0 1018.4,272.0 1018.5,272.1 1018.6,272.1 1018.7,272.1 1018.8,272.1 1018.9,272.1 1019.0,272.1 1019.1,272.1 1019.2,272.1 1019.3,272.1 1019.5,272.1 1019.6,272.1 1019.7,272.1 1019.8,272.1 1019.9,272.1 1020.0,272.1 1020.1,272.1 1020.2,272.1 1020.3,272.1 1020.4,272.1 1020.5,272.1 1020.6,272.1 1020.7,272.1 1020.8,272.1 1020.9,272.1 1021.0,272.2 1021.1,272.2 1021.2,272.2 1021.3,272.2 1021.4,272.2 1021.5,272.2 1021.6,272.2 1021.7,272.2 1021.8,272.2 1021.9,272.2 1022.0,272.2 1022.1,272.2 1022.2,272.2 1022.3,272.2 1022.5,272.2 1022.6,272.2 1022.7,272.2 1022.8,272.2 1022.9,272.2 1023.0,272.2 1023.1,272.2 1023.2,272.2 1023.3,272.2 1023.4,272.2 1023.5,272.2 1023.6,272.3 1023.7,272.3 1023.8,272.3 1023.9,272.3 1024.0,272.3 1024.1,272.3 1024.2,272.3 1024.3,272.3 1024.4,272.3 1024.5,272.3 1024.6,272.3 1024.7,272.3 1024.8,272.3 1024.9,272.3 1025.0,272.3 1025.1,272.3 1025.2,272.3 1025.4,272.3 1025.5,272.3 1025.6,272.3 1025.7,272.3 1025.8,272.3 1025.9,272.3 1026.0,272.3 1026.1,272.3 1026.2,272.3 1026.3,272.3 1026.4,272.3 1026.5,272.3 1026.6,272.4 1026.7,272.4 1026.8,272.4 1026.9,272.4 1027.0,272.4 1027.1,272.4 1027.2,272.4 1027.3,272.4 1027.4,272.4 1027.5,272.4 1027.6,272.4 1027.7,272.4 1027.8,272.4 1027.9,272.4 1028.0,272.4 1028.1,272.4 1028.2,272.4 1028.4,272.4 1028.5,272.4 1028.6,272.4 1028.7,272.4 1028.8,272.4 1028.9,272.4 1029.0,272.4 1029.1,272.4 1029.2,272.4 1029.3,272.4 1029.4,272.4 1029.5,272.4 1029.6,272.4 1029.7,272.4 1029.8,272.4 1029.9,272.4 1030.0,272.4 1030.1,272.4 1030.2,272.5 1030.3,272.5 1030.4,272.5 1030.5,272.5 1030.6,272.5 1030.7,272.5 1030.8,272.5 1030.9,272.5 1031.0,272.5 1031.1,272.5 1031.3,272.5 1031.4,272.5 1031.5,272.5 1031.6,272.5 1031.7,272.5 1031.8,272.5 1031.9,272.5 1032.0,272.5 1032.1,272.5 1032.2,272.5 1032.3,272.5 1032.4,272.5 1032.5,272.5 1032.6,272.5 1032.7,272.5 1032.8,272.5 1032.9,272.5 1033.0,272.5 1033.1,272.5 1033.2,272.5 1033.3,272.5 1033.4,272.5 1033.5,272.5 1033.6,272.5 1033.7,272.5 1033.8,272.5 1033.9,272.5 1034.0,272.5 1034.1,272.5 1034.3,272.5 1034.4,272.5 1034.5,272.5 1034.6,272.5 1034.7,272.5 1034.8,272.5 1034.9,272.5 1035.0,272.5 1035.1,272.5 1035.2,272.5 1035.3,272.5 1035.4,272.5 1035.5,272.5 1035.6,272.5 1035.7,272.5 1035.8,272.5 1035.9,272.5 1036.0,272.5 1036.1,272.5 1036.2,272.5 1036.3,272.5 1036.4,272.4 1036.5,272.4 1036.6,272.4 1036.7,272.4 1036.8,272.4 1036.9,272.4 1037.0,272.4 1037.2,272.4 1037.3,272.4 1037.4,272.4 1037.5,272.4 1037.6,272.4 1037.7,272.4 1037.8,272.4 1037.9,272.3 1038.0,272.3 1038.1,272.3 1038.2,272.3 1038.3,272.3 1038.4,272.3 1038.5,272.3 1038.6,272.3 1038.7,272.2 1038.8,272.2 1038.9,272.2 1039.0,272.2 1039.1,272.2 1039.2,272.1 1039.3,272.1 1039.4,272.1 1039.5,272.1 1039.6,272.0 1039.7,272.0 1039.8,272.0 1039.9,271.9 1040.0,271.9 1040.2,271.9 1040.3,271.8 1040.4,271.8 1040.5,271.7 1040.6,271.7 1040.7,271.6 1040.8,271.6 1040.9,271.5 1041.0,271.4 1041.1,271.4 1041.2,271.3 1041.3,271.2 1041.4,271.1 1041.5,271.0 1041.6,270.9 1041.7,270.8 1041.8,270.6 1041.9,270.5 1042.0,270.3 1042.1,270.2 1042.2,270.0 1042.3,269.7 1042.4,269.5 1042.5,269.2 1042.6,268.9 1042.7,268.6 1042.8,268.2 1042.9,267.7 1043.0,267.2 1043.2,266.6 1043.3,265.9 1043.4,265.1 1043.5,264.2 1043.6,263.0 1043.7,261.7 1043.8,259.9 1043.9,257.7 1044.0,254.8 1044.1,250.6 1044.2,244.6 1044.3,235.9 1044.4,223.3 1044.5,205.8 1044.6,182.6 1044.7,153.6 1044.8,120.3 1044.9,86.6 1045.0,60.0 1045.1,49.6 1045.2,60.0 1045.3,86.6 1045.4,120.3 1045.5,153.6 1045.6,182.6 1045.7,205.8 1045.8,223.3 1045.9,235.9 1046.1,244.7 1046.2,250.7 1046.3,254.8 1046.4,257.8 1046.5,260.0 1046.6,261.8 1046.7,263.1 1046.8,264.3 1046.9,265.2 1047.0,266.0 1047.1,266.7 1047.2,267.3 1047.3,267.9 1047.4,268.3 1047.5,268.7 1047.6,269.1 1047.7,269.4 1047.8,269.7 1047.9,269.9 1048.0,270.1 1048.1,270.3 1048.2,270.5 1048.3,270.7 1048.4,270.8 1048.5,271.0 1048.6,271.1 1048.7,271.2 1048.8,271.3 1048.9,271.4 1049.1,271.5 1049.2,271.6 1049.3,271.7 1049.4,271.8 1049.5,271.8 1049.6,271.9 1049.7,272.0 1049.8,272.0 1049.9,272.1 1050.0,272.1 1050.1,272.2 1050.2,272.2 1050.3,272.3 1050.4,272.3 1050.5,272.3 1050.6,272.4 1050.7,272.4 1050.8,272.4 1050.9,272.5 1051.0,272.5 1051.1,272.5 1051.2,272.6 1051.3,272.6 1051.4,272.6 1051.5,272.6 1051.6,272.7 1051.7,272.7 1051.8,272.7 1052.0,272.7 1052.1,272.7 1052.2,272.8 1052.3,272.8 1052.4,272.8 1052.5,272.8 1052.6,272.8 1052.7,272.8 1052.8,272.9 1052.9,272.9 1053.0,272.9 1053.1,272.9 1053.2,272.9 1053.3,272.9 1053.4,272.9 1053.5,272.9 1053.6,273.0 1053.7,273.0 1053.8,273.0 1053.9,273.0 1054.0,273.0 1054.1,273.0 1054.2,273.0 1054.3,273.0 1054.4,273.0 1054.5,273.0 1054.6,273.1 1054.7,273.1 1054.8,273.1 1055.0,273.1 1055.1,273.1 1055.2,273.1 1055.3,273.1 1055.4,273.1 1055.5,273.1 1055.6,273.1 1055.7,273.1 1055.8,273.1 1055.9,273.2 1056.0,273.2 1056.1,273.2 1056.2,273.2 1056.3,273.2 1056.4,273.2 1056.5,273.2 1056.6,273.2 1056.7,273.2 1056.8,273.2 1056.9,273.2 1057.0,273.2 1057.1,273.2 1057.2,273.2 1057.3,273.2 1057.4,273.2 1057.5,273.3 1057.6,273.3 1057.7,273.3 1057.9,273.3 1058.0,273.3 1058.1,273.3 1058.2,273.3 1058.3,273.3 1058.4,273.3 1058.5,273.3 1058.6,273.3 1058.7,273.3 1058.8,273.3 1058.9,273.3 1059.0,273.3 1059.1,273.3 1059.2,273.3 1059.3,273.3 1059.4,273.3 1059.5,273.3 1059.6,273.3 1059.7,273.4 1059.8,273.4 1059.9,273.4 1060.0,273.4 1060.1,273.4 1060.2,273.4 1060.3,273.4 1060.4,273.4 1060.5,273.4 1060.6,273.4 1060.7,273.4 1060.9,273.4 1061.0,273.4 1061.1,273.4 1061.2,273.4 1061.3,273.4 1061.4,273.4 1061.5,273.4 1061.6,273.4 1061.7,273.4 1061.8,273.4 1061.9,273.4 1062.0,273.4 1062.1,273.4 1062.2,273.4 1062.3,273.4 1062.4,273.5 1062.5,273.5 1062.6,273.5 1062.7,273.5 1062.8,273.5 1062.9,273.5 1063.0,273.5 1063.1,273.5 1063.2,273.5 1063.3,273.5 1063.4,273.5 1063.5,273.5 1063.6,273.5 1063.8,273.5 1063.9,273.5 1064.0,273.5 1064.1,273.5 1064.2,273.5 1064.3,273.5 1064.4,273.5 1064.5,273.5 1064.6,273.5 1064.7,273.5 1064.8,273.5 1064.9,273.5 1065.0,273.5 1065.1,273.5 1065.2,273.5 1065.3,273.5 1065.4,273.5 1065.5,273.5 1065.6,273.5 1065.7,273.6 1065.8,273.6 1065.9,273.6 1066.0,273.6 1066.1,273.6 1066.2,273.6 1066.3,273.6 1066.4,273.6 1066.5,273.6 1066.6,273.6 1066.8,273.6 1066.9,273.6 1067.0,273.6 1067.1,273.6 1067.2,273.6 1067.3,273.6 1067.4,273.6 1067.5,273.6 1067.6,273.6 1067.7,273.6 1067.8,273.6 1067.9,273.6 1068.0,273.6 1068.1,273.6 1068.2,273.6 1068.3,273.6 1068.4,273.6 1068.5,273.6 1068.6,273.6 1068.7,273.6 1068.8,273.6 1068.9,273.6 1069.0,273.6 1069.1,273.6 1069.2,273.6 1069.3,273.6 1069.4,273.6 1069.5,273.6 1069.6,273.6 1069.8,273.7 1069.9,273.7 1070.0,273.7 1070.1,273.7 1070.2,273.7 1070.3,273.7 1070.4,273.7 1070.5,273.7 1070.6,273.7 1070.7,273.7 1070.8,273.7 1070.9,273.7 1071.0,273.7 1071.1,273.7 1071.2,273.7 1071.3,273.7 1071.4,273.7 1071.5,273.7 1071.6,273.7 1071.7,273.7 1071.8,273.7 1071.9,273.7 1072.0,273.7 1072.1,273.7 1072.2,273.7 1072.3,273.7 1072.4,273.7 1072.5,273.7 1072.7,273.7 1072.8,273.7 1072.9,273.7 1073.0,273.7 1073.1,273.7 1073.2,273.7 1073.3,273.7 1073.4,273.7 1073.5,273.7 1073.6,273.7 1073.7,273.7 1073.8,273.7 1073.9,273.7 1074.0,273.7 1074.1,273.7 1074.2,273.7 1074.3,273.7 1074.4,273.7 1074.5,273.7 1074.6,273.7 1074.7,273.7 1074.8,273.7 1074.9,273.7 1075.0,273.7 1075.1,273.7 1075.2,273.7 1075.3,273.7 1075.4,273.8 1075.5,273.8 1075.7,273.8 1075.8,273.8 1075.9,273.8 1076.0,273.8 1076.1,273.8 1076.2,273.8 1076.3,273.8 1076.4,273.8 1076.5,273.8 1076.6,273.8 1076.7,273.8 1076.8,273.8 1076.9,273.8 1077.0,273.8 1077.1,273.8 1077.2,273.8 1077.3,273.8 1077.4,273.8 1077.5,273.8 1077.6,273.8 1077.7,273.8 1077.8,273.8 1077.9,273.8 1078.0,273.8 1078.1,273.8 1078.2,273.8 1078.3,273.7 1078.4,273.7 1078.6,273.7 1078.7,273.7 1078.8,273.7 1078.9,273.7 1079.0,273.7 1079.1,273.7 1079.2,273.7 1079.3,273.7 1079.4,273.7 1079.5,273.7 1079.6,273.7 1079.7,273.7 1079.8,273.7 1079.9,273.7 1080.0,273.7 1080.1,273.7 1080.2,273.7 1080.3,273.6 1080.4,273.6 1080.5,273.6 1080.6,273.6 1080.7,273.6 1080.8,273.6 1080.9,273.6 1081.0,273.5 1081.1,273.5 1081.2,273.5 1081.3,273.5 1081.4,273.4 1081.6,273.4 1081.7,273.3 1081.8,273.3 1081.9,273.2 1082.0,273.2 1082.1,273.1 1082.2,273.0 1082.3,272.9 1082.4,272.8 1082.5,272.7 1082.6,272.5 1082.7,272.4 1082.8,272.1 1082.9,271.8 1083.0,271.4 1083.1,270.8 1083.2,270.0 1083.3,268.9 1083.4,267.4 1083.5,265.5 1083.6,263.1 1083.7,260.3 1083.8,257.1 1083.9,254.0 1084.0,251.3 1084.1,249.7 1084.2,249.7 1084.3,251.3 1084.5,254.0 1084.6,257.1 1084.7,260.3 1084.8,263.1 1084.9,265.5 1085.0,267.4 1085.1,268.9 1085.2,270.0 1085.3,270.8 1085.4,271.4 1085.5,271.8 1085.6,272.2 1085.7,272.4 1085.8,272.6 1085.9,272.8 1086.0,272.9 1086.1,273.0 1086.2,273.1 1086.3,273.2 1086.4,273.3 1086.5,273.3 1086.6,273.4 1086.7,273.4 1086.8,273.5 1086.9,273.5 1087.0,273.6 1087.1,273.6 1087.2,273.6 1087.3,273.6 1087.5,273.7 1087.6,273.7 1087.7,273.7 1087.8,273.7 1087.9,273.8 1088.0,273.8 1088.1,273.8 1088.2,273.8 1088.3,273.8 1088.4,273.8 1088.5,273.8 1088.6,273.9 1088.7,273.9 1088.8,273.9 1088.9,273.9 1089.0,273.9 1089.1,273.9 1089.2,273.9 1089.3,273.9 1089.4,273.9 1089.5,273.9 1089.6,273.9 1089.7,273.9 1089.8,273.9 1089.9,274.0 1090.0,274.0 1090.1,274.0 1090.2,274.0 1090.3,274.0 1090.5,274.0 1090.6,274.0 1090.7,274.0 1090.8,274.0 1090.9,274.0 1091.0,274.0 1091.1,274.0 1091.2,274.0 1091.3,274.0 1091.4,274.0 1091.5,274.0 1091.6,274.0 1091.7,274.0 1091.8,274.0 1091.9,274.0 1092.0,274.0 1092.1,274.0 1092.2,274.0 1092.3,274.1 1092.4,274.1 1092.5,274.1 1092.6,274.1 1092.7,274.1 1092.8,274.1 1092.9,274.1 1093.0,274.1 1093.1,274.1 1093.2,274.1 1093.4,274.1 1093.5,274.1 1093.6,274.1 1093.7,274.1 1093.8,274.1 1093.9,274.1 1094.0,274.1 1094.1,274.1 1094.2,274.1 1094.3,274.1 1094.4,274.1 1094.5,274.1 1094.6,274.1 1094.7,274.1 1094.8,274.1 1094.9,274.1 1095.0,274.1 1095.1,274.1 1095.2,274.1 1095.3,274.1 1095.4,274.1 1095.5,274.1 1095.6,274.1 1095.7,274.1 1095.8,274.1 1095.9,274.1 1096.0,274.1 1096.1,274.1 1096.2,274.1 1096.4,274.1 1096.5,274.1 1096.6,274.1 1096.7,274.1 1096.8,274.1 1096.9,274.1 1097.0,274.2 1097.1,274.2 1097.2,274.2 1097.3,274.2 1097.4,274.2 1097.5,274.2 1097.6,274.2 1097.7,274.2 1097.8,274.2 1097.9,274.2 1098.0,274.2 1098.1,274.2 1098.2,274.2 1098.3,274.2 1098.4,274.2 1098.5,274.2 1098.6,274.2 1098.7,274.2 1098.8,274.2 1098.9,274.2 1099.0,274.2 1099.1,274.2 1099.3,274.2 1099.4,274.2 1099.5,274.2 1099.6,274.2 1099.7,274.2 1099.8,274.2 1099.9,274.2 1100.0,274.2 1100.1,274.2 1100.2,274.2 1100.3,274.2 1100.4,274.2 1100.5,274.2 1100.6,274.2 1100.7,274.2 1100.8,274.2 1100.9,274.2 1101.0,274.2 1101.1,274.2 1101.2,274.2 1101.3,274.2 1101.4,274.2 1101.5,274.2 1101.6,274.2 1101.7,274.2 1101.8,274.2 1101.9,274.2 1102.0,274.2 1102.1,274.2 1102.3,274.2 1102.4,274.2 1102.5,274.2 1102.6,274.2 1102.7,274.2 1102.8,274.2 1102.9,274.2 1103.0,274.2 1103.1,274.2 1103.2,274.2 1103.3,274.2 1103.4,274.2 1103.5,274.2 1103.6,274.2 1103.7,274.2 1103.8,274.2 1103.9,274.2 1104.0,274.2 1104.1,274.2 1104.2,274.2 1104.3,274.2 1104.4,274.2 1104.5,274.2 1104.6,274.2 1104.7,274.2 1104.8,274.2 1104.9,274.2 1105.0,274.2 1105.2,274.2 1105.3,274.2 1105.4,274.2 1105.5,274.2 1105.6,274.2 1105.7,274.2 1105.8,274.2 1105.9,274.2 1106.0,274.2 1106.1,274.2 1106.2,274.2 1106.3,274.2 1106.4,274.2 1106.5,274.2 1106.6,274.2 1106.7,274.2 1106.8,274.2 1106.9,274.2 1107.0,274.2 1107.1,274.2 1107.2,274.2 1107.3,274.2 1107.4,274.2 1107.5,274.2 1107.6,274.2 1107.7,274.2 1107.8,274.2 1107.9,274.2 1108.0,274.2 1108.2,274.2 1108.3,274.2 1108.4,274.2 1108.5,274.2 1108.6,274.2 1108.7,274.2 1108.8,274.2 1108.9,274.2 1109.0,274.2 1109.1,274.2 1109.2,274.2 1109.3,274.2 1109.4,274.2 1109.5,274.2 1109.6,274.2 1109.7,274.2 1109.8,274.2 1109.9,274.2 1110.0,274.2 1110.1,274.2 1110.2,274.2 1110.3,274.2 1110.4,274.2 1110.5,274.2 1110.6,274.2 1110.7,274.2 1110.8,274.2 1110.9,274.1 1111.0,274.1 1111.2,274.1 1111.3,274.1 1111.4,274.1 1111.5,274.1 1111.6,274.1 1111.7,274.1 1111.8,274.1 1111.9,274.1 1112.0,274.1 1112.1,274.1 1112.2,274.1 1112.3,274.0 1112.4,274.0 1112.5,274.0 1112.6,274.0 1112.7,274.0 1112.8,274.0 1112.9,274.0 1113.0,273.9 1113.1,273.9 1113.2,273.9 1113.3,273.9 1113.4,273.9 1113.5,273.8 1113.6,273.8 1113.7,273.8 1113.8,273.7 1113.9,273.7 1114.1,273.7 1114.2,273.6 1114.3,273.6 1114.4,273.5 1114.5,273.5 1114.6,273.4 1114.7,273.4 1114.8,273.3 1114.9,273.2 1115.0,273.1 1115.1,273.1 1115.2,273.0 1115.3,272.8 1115.4,272.7 1115.5,272.6 1115.6,272.4 1115.7,272.3 1115.8,272.1 1115.9,271.8 1116.0,271.6 1116.1,271.2 1116.2,270.9 1116.3,270.5 1116.4,269.9 1116.5,269.3 1116.6,268.4 1116.7,267.3 1116.8,265.8 1116.9,263.7 1117.1,260.8 1117.2,256.9 1117.3,251.7 1117.4,245.2 1117.5,237.2 1117.6,228.1 1117.7,218.4 1117.8,209.3 1117.9,202.5 1118.0,200.0 1118.1,202.5 1118.2,209.3 1118.3,218.4 1118.4,228.1 1118.5,237.2 1118.6,245.2 1118.7,251.7 1118.8,256.9 1118.9,260.8 1119.0,263.7 1119.1,265.8 1119.2,267.3 1119.3,268.5 1119.4,269.3 1119.5,270.0 1119.6,270.5 1119.7,270.9 1119.8,271.3 1120.0,271.6 1120.1,271.9 1120.2,272.1 1120.3,272.3 1120.4,272.5 1120.5,272.6 1120.6,272.8 1120.7,272.9 1120.8,273.0 1120.9,273.1 1121.0,273.2 1121.1,273.3 1121.2,273.4 1121.3,273.4 1121.4,273.5 1121.5,273.6 1121.6,273.6 1121.7,273.7 1121.8,273.7 1121.9,273.8 1122.0,273.8 1122.1,273.8 1122.2,273.9 1122.3,273.9 1122.4,273.9 1122.5,274.0 1122.6,274.0 1122.7,274.0 1122.8,274.0 1123.0,274.0 1123.1,274.1 1123.2,274.1 1123.3,274.1 1123.4,274.1 1123.5,274.1 1123.6,274.2 1123.7,274.2 1123.8,274.2 1123.9,274.2 1124.0,274.2 1124.1,274.2 1124.2,274.2 1124.3,274.2 1124.4,274.3 1124.5,274.3 1124.6,274.3 1124.7,274.3 1124.8,274.3 1124.9,274.3 1125.0,274.3 1125.1,274.3 1125.2,274.3 1125.3,274.3 1125.4,274.3 1125.5,274.3 1125.6,274.4 1125.7,274.4 1125.9,274.4 1126.0,274.4 1126.1,274.4 1126.2,274.4 1126.3,274.4 1126.4,274.4 1126.5,274.4 1126.6,274.4 1126.7,274.4 1126.8,274.4 1126.9,274.4 1127.0,274.4 1127.1,274.4 1127.2,274.4 1127.3,274.4 1127.4,274.4 1127.5,274.4 1127.6,274.4 1127.7,274.5 1127.8,274.5 1127.9,274.5 1128.0,274.5 1128.1,274.5 1128.2,274.5 1128.3,274.5 1128.4,274.5 1128.5,274.5 1128.6,274.5 1128.7,274.5 1128.9,274.5 1129.0,274.5 1129.1,274.5 1129.2,274.5 1129.3,274.5 1129.4,274.5 1129.5,274.5 1129.6,274.5 1129.7,274.5 1129.8,274.5 1129.9,274.5 1130.0,274.5 1130.1,274.5 1130.2,274.5 1130.3,274.5 1130.4,274.5 1130.5,274.5 1130.6,274.5 1130.7,274.5 1130.8,274.5 1130.9,274.5 1131.0,274.5 1131.1,274.5 1131.2,274.5 1131.3,274.5 1131.4,274.5 1131.5,274.5 1131.6,274.5 1131.7,274.6 1131.9,274.6 1132.0,274.6 1132.1,274.6 1132.2,274.6 1132.3,274.6 1132.4,274.6 1132.5,274.6 1132.6,274.6 1132.7,274.6 1132.8,274.6 1132.9,274.6 1133.0,274.6 1133.1,274.6 1133.2,274.6 1133.3,274.6 1133.4,274.6 1133.5,274.6 1133.6,274.6 1133.7,274.6 1133.8,274.6 1133.9,274.6 1134.0,274.6 1134.1,274.6 1134.2,274.6 1134.3,274.6 1134.4,274.6 1134.5,274.6 1134.6,274.6 1134.8,274.6 1134.9,274.6 1135.0,274.6 1135.1,274.6 1135.2,274.6 1135.3,274.6 1135.4,274.6 1135.5,274.6 1135.6,274.6 1135.7,274.6 1135.8,274.6 1135.9,274.6 1136.0,274.6 1136.1,274.6 1136.2,274.6 1136.3,274.6 1136.4,274.6 1136.5,274.6 1136.6,274.6 1136.7,274.6 1136.8,274.6 1136.9,274.6 1137.0,274.6 1137.1,274.6 1137.2,274.6 1137.3,274.6 1137.4,274.6 1137.5,274.6 1137.6,274.6 1137.8,274.6 1137.9,274.6 1138.0,274.6 1138.1,274.6 1138.2,274.6 1138.3,274.6 1138.4,274.6 1138.5,274.6 1138.6,274.6 1138.7,274.6 1138.8,274.6 1138.9,274.6 1139.0,274.6 1139.1,274.6 1139.2,274.6 1139.3,274.7 1139.4,274.7 1139.5,274.7 1139.6,274.7 1139.7,274.7 1139.8,274.7 1139.9,274.7 1140.0,274.7 1140.1,274.7 1140.2,274.7 1140.3,274.7 1140.4,274.7 1140.5,274.7 1140.7,274.7 1140.8,274.7 1140.9,274.7 1141.0,274.7 1141.1,274.7 1141.2,274.7 1141.3,274.7 1141.4,274.7 1141.5,274.7 1141.6,274.7 1141.7,274.7 1141.8,274.7 1141.9,274.7 1142.0,274.7 1142.1,274.7 1142.2,274.7 1142.3,274.7 1142.4,274.7 1142.5,274.7 1142.6,274.7 1142.7,274.7 1142.8,274.7 1142.9,274.7 1143.0,274.7 1143.1,274.7 1143.2,274.7 1143.3,274.7 1143.4,274.7 1143.5,274.7 1143.7,274.7 1143.8,274.7 1143.9,274.7 1144.0,274.7 1144.1,274.7 1144.2,274.7 1144.3,274.7 1144.4,274.7 1144.5,274.7 1144.6,274.7 1144.7,274.7 1144.8,274.7 1144.9,274.7 1145.0,274.7 1145.1,274.7 1145.2,274.7 1145.3,274.7 1145.4,274.7 1145.5,274.7 1145.6,274.7 1145.7,274.7 1145.8,274.7 1145.9,274.7 1146.0,274.7 1146.1,274.7 1146.2,274.7 1146.3,274.7 1146.4,274.6 1146.6,274.6 1146.7,274.6 1146.8,274.6 1146.9,274.6 1147.0,274.6 1147.1,274.6 1147.2,274.5 1147.3,274.5 1147.4,274.4 1147.5,274.3 1147.6,274.2 1147.7,274.1 1147.8,274.0 1147.9,273.9 1148.0,273.7 1148.1,273.6 1148.2,273.5 1148.3,273.4 1148.4,273.4 1148.5,273.5 1148.6,273.6 1148.7,273.7 1148.8,273.9 1148.9,274.0 1149.0,274.1 1149.1,274.3 1149.2,274.4 1149.3,274.4 1149.4,274.5 1149.6,274.5 1149.7,274.6 1149.8,274.6 1149.9,274.6 1150.0,274.6 1150.1,274.7 1150.2,274.7 1150.3,274.7 1150.4,274.7 1150.5,274.7 1150.6,274.7 1150.7,274.7 1150.8,274.7 1150.9,274.7 1151.0,274.7 1151.1,274.7 1151.2,274.7 1151.3,274.7 1151.4,274.7 1151.5,274.7 1151.6,274.7 1151.7,274.7 1151.8,274.7 1151.9,274.7 1152.0,274.7 1152.1,274.7 1152.2,274.7 1152.3,274.7 1152.4,274.7 1152.6,274.7 1152.7,274.7 1152.8,274.7 1152.9,274.7 1153.0,274.7 1153.1,274.8 1153.2,274.8 1153.3,274.8 1153.4,274.8 1153.5,274.8 1153.6,274.8 1153.7,274.8 1153.8,274.8 1153.9,274.8 1154.0,274.8 1154.1,274.8 1154.2,274.8 1154.3,274.8 1154.4,274.8 1154.5,274.8 1154.6,274.8 1154.7,274.8 1154.8,274.8 1154.9,274.8 1155.0,274.8 1155.1,274.8 1155.2,274.8 1155.3,274.8 1155.5,274.8 1155.6,274.8 1155.7,274.8 1155.8,274.8 1155.9,274.8 1156.0,274.8 1156.1,274.8 1156.2,274.8 1156.3,274.8 1156.4,274.8 1156.5,274.8 1156.6,274.8 1156.7,274.8 1156.8,274.8 1156.9,274.8 1157.0,274.8 1157.1,274.8 1157.2,274.8 1157.3,274.8 1157.4,274.8 1157.5,274.8 1157.6,274.8 1157.7,274.8 1157.8,274.8 1157.9,274.8 1158.0,274.8 1158.1,274.8 1158.2,274.8 1158.3,274.8 1158.5,274.8 1158.6,274.8 1158.7,274.8 1158.8,274.8 1158.9,274.8 1159.0,274.8 1159.1,274.8 1159.2,274.8 1159.3,274.8 1159.4,274.8 1159.5,274.8 1159.6,274.8 1159.7,274.8 1159.8,274.8 1159.9,274.8 1160.0,274.8 1160.1,274.8 1160.2,274.8 1160.3,274.8 1160.4,274.8 1160.5,274.8 1160.6,274.8 1160.7,274.8 1160.8,274.8 1160.9,274.8 1161.0,274.8 1161.1,274.8 1161.2,274.8 1161.4,274.8 1161.5,274.8 1161.6,274.8 1161.7,274.8 1161.8,274.8 1161.9,274.8 1162.0,274.8 1162.1,274.8 1162.2,274.8 1162.3,274.8 1162.4,274.8 1162.5,274.8 1162.6,274.8 1162.7,274.8 1162.8,274.8 1162.9,274.8 1163.0,274.8 1163.1,274.8 1163.2,274.8 1163.3,274.8 1163.4,274.8 1163.5,274.8 1163.6,274.8 1163.7,274.8 1163.8,274.8 1163.9,274.8 1164.0,274.8 1164.1,274.8 1164.2,274.8 1164.4,274.8 1164.5,274.8 1164.6,274.8 1164.7,274.8 1164.8,274.8 1164.9,274.8 1165.0,274.8 1165.1,274.8 1165.2,274.8 1165.3,274.8 1165.4,274.8 1165.5,274.8 1165.6,274.8 1165.7,274.8 1165.8,274.8 1165.9,274.8 1166.0,274.8 1166.1,274.8 1166.2,274.8 1166.3,274.8 1166.4,274.8 1166.5,274.8 1166.6,274.8 1166.7,274.7 1166.8,274.7 1166.9,274.7 1167.0,274.7 1167.1,274.7 1167.3,274.7 1167.4,274.7 1167.5,274.7 1167.6,274.7 1167.7,274.7 1167.8,274.7 1167.9,274.7 1168.0,274.7 1168.1,274.7 1168.2,274.7 1168.3,274.7 1168.4,274.7 1168.5,274.7 1168.6,274.7 1168.7,274.7 1168.8,274.7 1168.9,274.7 1169.0,274.7 1169.1,274.7 1169.2,274.7 1169.3,274.7 1169.4,274.7 1169.5,274.6 1169.6,274.6 1169.7,274.6 1169.8,274.6 1169.9,274.6 1170.0,274.6 1170.1,274.6 1170.3,274.6 1170.4,274.6 1170.5,274.6 1170.6,274.6 1170.7,274.5 1170.8,274.5 1170.9,274.5 1171.0,274.5 1171.1,274.5 1171.2,274.5 1171.3,274.5 1171.4,274.4 1171.5,274.4 1171.6,274.4 1171.7,274.4 1171.8,274.4 1171.9,274.3 1172.0,274.3 1172.1,274.3 1172.2,274.3 1172.3,274.2 1172.4,274.2 1172.5,274.2 1172.6,274.1 1172.7,274.1 1172.8,274.0 1172.9,274.0 1173.0,273.9 1173.1,273.9 1173.3,273.8 1173.4,273.7 1173.5,273.6 1173.6,273.6 1173.7,273.5 1173.8,273.3 1173.9,273.2 1174.0,273.1 1174.1,272.9 1174.2,272.8 1174.3,272.6 1174.4,272.3 1174.5,272.1 1174.6,271.8 1174.7,271.4 1174.8,271.0 1174.9,270.4 1175.0,269.8 1175.1,268.9 1175.2,267.7 1175.3,266.1 1175.4,264.0 1175.5,261.2 1175.6,257.5 1175.7,253.0 1175.8,247.5 1175.9,241.1 1176.0,234.1 1176.2,226.9 1176.3,220.3 1176.4,215.7 1176.5,213.9 1176.6,215.7 1176.7,220.3 1176.8,226.9 1176.9,234.1 1177.0,241.1 1177.1,247.5 1177.2,253.0 1177.3,257.6 1177.4,261.2 1177.5,264.0 1177.6,266.1 1177.7,267.7 1177.8,268.9 1177.9,269.8 1178.0,270.5 1178.1,271.0 1178.2,271.4 1178.3,271.8 1178.4,272.1 1178.5,272.4 1178.6,272.6 1178.7,272.8 1178.8,273.0 1178.9,273.1 1179.0,273.3 1179.2,273.4 1179.3,273.5 1179.4,273.6 1179.5,273.7 1179.6,273.8 1179.7,273.8 1179.8,273.9 1179.9,274.0 1180.0,274.0 1180.1,274.1 1180.2,274.1 1180.3,274.2 1180.4,274.2 1180.5,274.2 1180.6,274.3 1180.7,274.3 1180.8,274.3 1180.9,274.4 1181.0,274.4 1181.1,274.4 1181.2,274.4 1181.3,274.5 1181.4,274.5 1181.5,274.5 1181.6,274.5 1181.7,274.5 1181.8,274.5 1181.9,274.6 1182.1,274.6 1182.2,274.6 1182.3,274.6 1182.4,274.6 1182.5,274.6 1182.6,274.6 1182.7,274.7 1182.8,274.7 1182.9,274.7 1183.0,274.7 1183.1,274.7 1183.2,274.7 1183.3,274.7 1183.4,274.7 1183.5,274.7 1183.6,274.7 1183.7,274.7 1183.8,274.7 1183.9,274.8 1184.0,274.8 1184.1,274.8 1184.2,274.8 1184.3,274.8 1184.4,274.8 1184.5,274.8 1184.6,274.8 1184.7,274.8 1184.8,274.8 1184.9,274.8 1185.1,274.8 1185.2,274.8 1185.3,274.8 1185.4,274.8 1185.5,274.8 1185.6,274.8 1185.7,274.8 1185.8,274.8 1185.9,274.8 1186.0,274.8 1186.1,274.8 1186.2,274.8 1186.3,274.9 1186.4,274.9 1186.5,274.9 1186.6,274.9 1186.7,274.9 1186.8,274.9 1186.9,274.9 1187.0,274.9 1187.1,274.9 1187.2,274.9 1187.3,274.9 1187.4,274.9 1187.5,274.9 1187.6,274.9 1187.7,274.9 1187.8,274.9 1188.0,274.9 1188.1,274.9 1188.2,274.9 1188.3,274.9 1188.4,274.9 1188.5,274.9 1188.6,274.9 1188.7,274.9 1188.8,274.9 1188.9,274.9 1189.0,274.9 1189.1,274.9 1189.2,274.9 1189.3,274.9 1189.4,274.9 1189.5,274.9 1189.6,274.9 1189.7,274.9 1189.8,274.9 1189.9,274.9 1190.0,274.9 1190.1,274.9 1190.2,274.9 1190.3,274.9 1190.4,274.9 1190.5,274.9 1190.6,274.9 1190.7,274.9 1190.8,274.9 1191.0,274.9 1191.1,274.9 1191.2,274.9 1191.3,274.9 1191.4,274.9 1191.5,274.9 1191.6,274.9 1191.7,274.9 1191.8,274.9 1191.9,274.9 1192.0,274.9 1192.1,274.9 1192.2,275.0 1192.3,275.0 1192.4,275.0 1192.5,275.0 1192.6,275.0 1192.7,275.0 1192.8,275.0 1192.9,275.0 1193.0,275.0 1193.1,275.0 1193.2,275.0 1193.3,275.0 1193.4,275.0 1193.5,275.0 1193.6,275.0 1193.7,275.0 1193.8,275.0 1194.0,275.0 1194.1,275.0 1194.2,275.0 1194.3,275.0 1194.4,275.0 1194.5,275.0 1194.6,275.0 1194.7,275.0 1194.8,275.0 1194.9,275.0 1195.0,275.0 1195.1,275.0 1195.2,275.0 1195.3,275.0 1195.4,275.0 1195.5,275.0 1195.6,275.0 1195.7,275.0 1195.8,275.0 1195.9,275.0 1196.0,275.0 1196.1,275.0 1196.2,275.0 1196.3,275.0 1196.4,275.0 1196.5,275.0 1196.6,275.0 1196.7,275.0 1196.9,275.0 1197.0,275.0 1197.1,275.0 1197.2,275.0 1197.3,275.0 1197.4,275.0 1197.5,275.0 1197.6,275.0 1197.7,275.0 1197.8,275.0 1197.9,275.0 1198.0,275.0 1198.1,275.0 1198.2,275.0 1198.3,275.0 1198.4,275.0 1198.5,275.0 1198.6,275.0 1198.7,275.0 1198.8,275.0 1198.9,275.0 1199.0,275.0 1199.1,275.0 1199.2,275.0 1199.3,275.0 1199.4,275.0 1199.5,275.0 1199.6,275.0 1199.7,275.0 1199.9,275.0 1200.0,275.0 1200.1,275.0 1200.2,275.0 1200.3,275.0 1200.4,275.0 1200.5,275.0 1200.6,275.0 1200.7,275.0 1200.8,275.0 1200.9,275.0 1201.0,275.0 1201.1,275.0 1201.2,275.0 1201.3,275.0 1201.4,275.0 1201.5,275.0 1201.6,275.0 1201.7,275.0 1201.8,275.0 1201.9,275.0 1202.0,275.0 1202.1,275.0 1202.2,275.0 1202.3,275.0 1202.4,275.0 1202.5,275.0 1202.6,275.0 1202.8,275.0 1202.9,275.0 1203.0,275.0 1203.1,275.0 1203.2,275.0 1203.3,275.0 1203.4,275.0 1203.5,275.0 1203.6,275.0 1203.7,275.0 1203.8,275.0 1203.9,275.0 1204.0,275.0 1204.1,275.0 1204.2,275.0 1204.3,275.0 1204.4,275.0 1204.5,275.0 1204.6,275.0 1204.7,275.0 1204.8,275.0 1204.9,275.0 1205.0,275.0 1205.1,275.0 1205.2,275.0 1205.3,275.0 1205.4,275.0 1205.5,275.0 1205.6,275.0 1205.8,275.0 1205.9,275.0 1206.0,275.0 1206.1,275.0 1206.2,275.0 1206.3,275.0 1206.4,275.0 1206.5,275.0 1206.6,275.0 1206.7,275.0 1206.8,275.0 1206.9,275.0 1207.0,275.0 1207.1,275.0 1207.2,275.0 1207.3,275.0 1207.4,275.0 1207.5,275.0 1207.6,275.0 1207.7,275.0 1207.8,275.0 1207.9,275.0 1208.0,275.0 1208.1,275.0 1208.2,275.0 1208.3,275.0 1208.4,275.0 1208.5,275.0 1208.7,275.0 1208.8,275.0 1208.9,275.0 1209.0,275.0 1209.1,275.0 1209.2,275.0 1209.3,275.0 1209.4,275.0 1209.5,275.0 1209.6,275.0 1209.7,275.0 1209.8,275.0 1209.9,275.0 1210.0,275.0 1210.1,275.0 1210.2,275.0 1210.3,275.0 1210.4,275.0 1210.5,275.0 1210.6,275.0 1210.7,275.0 1210.8,275.0 1210.9,275.0 1211.0,275.0 1211.1,275.0 1211.2,275.0 1211.3,275.0 1211.4,275.0 1211.5,275.0 1211.7,275.0 1211.8,275.0 1211.9,275.0 1212.0,275.0 1212.1,275.0 1212.2,275.0 1212.3,275.0 1212.4,275.0 1212.5,275.0 1212.6,275.0 1212.7,275.0 1212.8,275.0 1212.9,275.0 1213.0,275.0 1213.1,275.0 1213.2,275.0 1213.3,275.0 1213.4,275.0 1213.5,275.0 1213.6,275.0 1213.7,275.0 1213.8,275.0 1213.9,275.0 1214.0,275.0 1214.1,275.0 1214.2,275.0 1214.3,275.0 1214.4,275.0 1214.5,275.0 1214.7,275.0 1214.8,275.0 1214.9,275.0 1215.0,275.0 1215.1,275.0 1215.2,275.0 1215.3,275.0 1215.4,275.0 1215.5,275.0 1215.6,275.0 1215.7,275.0 1215.8,275.0 1215.9,275.0 1216.0,275.0 1216.1,275.0 1216.2,275.0 1216.3,275.0 1216.4,275.0 1216.5,275.0 1216.6,275.0 1216.7,275.0 1216.8,275.0 1216.9,275.0 1217.0,275.0 1217.1,275.0 1217.2,275.0 1217.3,275.0 1217.4,275.0 1217.6,275.0 1217.7,275.0 1217.8,275.0 1217.9,275.0 1218.0,275.0 1218.1,275.0 1218.2,275.0 1218.3,275.0 1218.4,275.0 1218.5,275.0 1218.6,275.0 1218.7,275.0 1218.8,275.0 1218.9,275.0 1219.0,275.0 1219.1,275.0 1219.2,275.0 1219.3,275.0 1219.4,275.0 1219.5,275.0 1219.6,275.0 1219.7,275.0 1219.8,275.0 1219.9,275.0 1220.0,275.0 1220.1,275.0 1220.2,275.0 1220.3,275.0 1220.4,275.0 1220.6,275.0 1220.7,275.0 1220.8,275.0 1220.9,275.0 1221.0,275.0 1221.1,275.0 1221.2,275.0 1221.3,275.0 1221.4,275.0 1221.5,275.0 1221.6,274.9 1221.7,274.9 1221.8,274.9 1221.9,274.9 1222.0,274.9 1222.1,274.9 1222.2,274.9 1222.3,274.9 1222.4,274.9 1222.5,274.9 1222.6,274.9 1222.7,274.9 1222.8,274.9 1222.9,274.9 1223.0,274.9 1223.1,274.8 1223.2,274.8 1223.3,274.8 1223.5,274.8 1223.6,274.8 1223.7,274.8 1223.8,274.8 1223.9,274.8 1224.0,274.7 1224.1,274.7 1224.2,274.7 1224.3,274.7 1224.4,274.7 1224.5,274.7 1224.6,274.6 1224.7,274.6 1224.8,274.6 1224.9,274.5 1225.0,274.5 1225.1,274.5 1225.2,274.4 1225.3,274.4 1225.4,274.3 1225.5,274.3 1225.6,274.2 1225.7,274.1 1225.8,274.1 1225.9,274.0 1226.0,273.9 1226.1,273.8 1226.2,273.6 1226.3,273.5 1226.5,273.3 1226.6,273.1 1226.7,272.8 1226.8,272.5 1226.9,272.1 1227.0,271.6 1227.1,270.8 1227.2,269.9 1227.3,268.7 1227.4,267.2 1227.5,265.3 1227.6,263.1 1227.7,260.4 1227.8,257.4 1227.9,254.3 1228.0,251.1 1228.1,248.3 1228.2,246.4 1228.3,245.7 1228.4,246.4 1228.5,248.3 1228.6,251.1 1228.7,254.3 1228.8,257.4 1228.9,260.4 1229.0,263.1 1229.1,265.3 1229.2,267.2 1229.4,268.7 1229.5,269.9 1229.6,270.9 1229.7,271.6 1229.8,272.1 1229.9,272.5 1230.0,272.9 1230.1,273.1 1230.2,273.3 1230.3,273.5 1230.4,273.7 1230.5,273.8 1230.6,273.9 1230.7,274.0 1230.8,274.1 1230.9,274.2 1231.0,274.2 1231.1,274.3 1231.2,274.3 1231.3,274.4 1231.4,274.4 1231.5,274.5 1231.6,274.5 1231.7,274.6 1231.8,274.6 1231.9,274.6 1232.0,274.6 1232.1,274.7 1232.2,274.7 1232.4,274.7 1232.5,274.7 1232.6,274.8 1232.7,274.8 1232.8,274.8 1232.9,274.8 1233.0,274.8 1233.1,274.8 1233.2,274.8 1233.3,274.9 1233.4,274.9 1233.5,274.9 1233.6,274.9 1233.7,274.9 1233.8,274.9 1233.9,274.9 1234.0,274.9 1234.1,274.9 1234.2,274.9 1234.3,274.9 1234.4,274.9 1234.5,275.0 1234.6,275.0 1234.7,275.0 1234.8,275.0 1234.9,275.0 1235.0,275.0 1235.1,275.0 1235.2,275.0 1235.4,275.0 1235.5,275.0 1235.6,275.0 1235.7,275.0 1235.8,275.0 1235.9,275.0 1236.0,275.0 1236.1,275.0 1236.2,275.0 1236.3,275.0 1236.4,275.0 1236.5,275.0 1236.6,275.0 1236.7,275.0 1236.8,275.0 1236.9,275.0 1237.0,275.0 1237.1,275.0 1237.2,275.0 1237.3,275.1 1237.4,275.1 1237.5,275.1 1237.6,275.1 1237.7,275.1 1237.8,275.1 1237.9,275.1 1238.0,275.1 1238.1,275.1 1238.3,275.1 1238.4,275.1 1238.5,275.1 1238.6,275.1 1238.7,275.1 1238.8,275.1 1238.9,275.1 1239.0,275.1 1239.1,275.1 1239.2,275.1 1239.3,275.1 1239.4,275.1 1239.5,275.1 1239.6,275.1 1239.7,275.1 1239.8,275.1 1239.9,275.1 1240.0,275.1 1240.1,275.1 1240.2,275.1 1240.3,275.1 1240.4,275.1 1240.5,275.1 1240.6,275.1 1240.7,275.1 1240.8,275.1 1240.9,275.1 1241.0,275.1 1241.1,275.1 1241.3,275.1 1241.4,275.1 1241.5,275.1 1241.6,275.1 1241.7,275.1 1241.8,275.1 1241.9,275.1 1242.0,275.1 1242.1,275.1 1242.2,275.1 1242.3,275.1 1242.4,275.1 1242.5,275.1 1242.6,275.1 1242.7,275.1 1242.8,275.1 1242.9,275.1 1243.0,275.1 1243.1,275.1 1243.2,275.1 1243.3,275.1 1243.4,275.1 1243.5,275.1 1243.6,275.1 1243.7,275.1 1243.8,275.1 1243.9,275.1 1244.0,275.1 1244.2,275.1 1244.3,275.1 1244.4,275.1 1244.5,275.1 1244.6,275.1 1244.7,275.1 1244.8,275.1 1244.9,275.1 1245.0,275.1 1245.1,275.1 1245.2,275.1 1245.3,275.1 1245.4,275.1 1245.5,275.1 1245.6,275.1 1245.7,275.1 1245.8,275.1 1245.9,275.1 1246.0,275.1 1246.1,275.1 1246.2,275.1 1246.3,275.1 1246.4,275.1 1246.5,275.1 1246.6,275.1 1246.7,275.1 1246.8,275.1 1246.9,275.1 1247.0,275.1 1247.2,275.1 1247.3,275.1 1247.4,275.1 1247.5,275.1 1247.6,275.1 1247.7,275.1 1247.8,275.1 1247.9,275.1 1248.0,275.1 1248.1,275.1 1248.2,275.1 1248.3,275.1 1248.4,275.1 1248.5,275.1 1248.6,275.1 1248.7,275.1 1248.8,275.1 1248.9,275.1 1249.0,275.1 1249.1,275.1 1249.2,275.1 1249.3,275.1 1249.4,275.1 1249.5,275.1 1249.6,275.1 1249.7,275.1 1249.8,275.1 1249.9,275.1 1250.1,275.1 1250.2,275.1 1250.3,275.1 1250.4,275.1 1250.5,275.1 1250.6,275.1 1250.7,275.1 1250.8,275.1 1250.9,275.1 1251.0,275.1 1251.1,275.0 1251.2,275.0 1251.3,275.0 1251.4,275.0 1251.5,274.9 1251.6,274.9 1251.7,274.8 1251.8,274.8 1251.9,274.7 1252.0,274.6 1252.1,274.5 1252.2,274.4 1252.3,274.3 1252.4,274.2 1252.5,274.2 1252.6,274.1 1252.7,274.2 1252.8,274.2 1252.9,274.3 1253.1,274.4 1253.2,274.5 1253.3,274.6 1253.4,274.7 1253.5,274.8 1253.6,274.8 1253.7,274.9 1253.8,274.9 1253.9,275.0 1254.0,275.0 1254.1,275.0 1254.2,275.0 1254.3,275.1 1254.4,275.1 1254.5,275.1 1254.6,275.1 1254.7,275.1 1254.8,275.1 1254.9,275.1 1255.0,275.1 1255.1,275.1 1255.2,275.1 1255.3,275.1 1255.4,275.1 1255.5,275.1 1255.6,275.1 1255.7,275.1 1255.8,275.1 1255.9,275.1 1256.1,275.1 1256.2,275.1 1256.3,275.1 1256.4,275.1 1256.5,275.1 1256.6,275.1 1256.7,275.1 1256.8,275.1 1256.9,275.1 1257.0,275.1 1257.1,275.1 1257.2,275.1 1257.3,275.1 1257.4,275.1 1257.5,275.1 1257.6,275.1 1257.7,275.1 1257.8,275.1 1257.9,275.1 1258.0,275.1 1258.1,275.1 1258.2,275.1 1258.3,275.1 1258.4,275.1 1258.5,275.1 1258.6,275.1 1258.7,275.1 1258.8,275.2 1259.0,275.2 1259.1,275.2 1259.2,275.2 1259.3,275.2 1259.4,275.2 1259.5,275.2 1259.6,275.2 1259.7,275.2 1259.8,275.2 1259.9,275.2 1260.0,275.2 1260.1,275.2 1260.2,275.2 1260.3,275.2 1260.4,275.2 1260.5,275.2 1260.6,275.2 1260.7,275.2 1260.8,275.2 1260.9,275.2 1261.0,275.2 1261.1,275.2 1261.2,275.2 1261.3,275.2 1261.4,275.2 1261.5,275.2 1261.6,275.2 1261.7,275.2 1261.8,275.2 1262.0,275.2 1262.1,275.2 1262.2,275.2 1262.3,275.2 1262.4,275.2 1262.5,275.2 1262.6,275.2 1262.7,275.2 1262.8,275.2 1262.9,275.2 1263.0,275.2 1263.1,275.2 1263.2,275.2 1263.3,275.2 1263.4,275.2 1263.5,275.2 1263.6,275.2 1263.7,275.2 1263.8,275.2 1263.9,275.2 1264.0,275.2 1264.1,275.2 1264.2,275.1 1264.3,275.1 1264.4,275.1 1264.5,275.1 1264.6,275.1 1264.7,275.1 1264.9,275.1 1265.0,275.1 1265.1,275.1 1265.2,275.1 1265.3,275.1 1265.4,275.1 1265.5,275.1 1265.6,275.1 1265.7,275.1 1265.8,275.1 1265.9,275.1 1266.0,275.1 1266.1,275.1 1266.2,275.1 1266.3,275.1 1266.4,275.1 1266.5,275.1 1266.6,275.1 1266.7,275.1 1266.8,275.1 1266.9,275.1 1267.0,275.1 1267.1,275.1 1267.2,275.1 1267.3,275.1 1267.4,275.1 1267.5,275.1 1267.6,275.1 1267.7,275.1 1267.9,275.1 1268.0,275.1 1268.1,275.1 1268.2,275.1 1268.3,275.1 1268.4,275.1 1268.5,275.1 1268.6,275.1 1268.7,275.1 1268.8,275.1 1268.9,275.1 1269.0,275.1 1269.1,275.1 1269.2,275.1 1269.3,275.1 1269.4,275.1 1269.5,275.1 1269.6,275.1 1269.7,275.1 1269.8,275.1 1269.9,275.1 1270.0,275.1 1270.1,275.1 1270.2,275.1 1270.3,275.1 1270.4,275.1 1270.5,275.1 1270.6,275.1 1270.8,275.1 1270.9,275.1 1271.0,275.1 1271.1,275.1 1271.2,275.0 1271.3,275.0 1271.4,275.0 1271.5,275.0 1271.6,275.0 1271.7,275.0 1271.8,275.0 1271.9,275.0 1272.0,275.0 1272.1,275.0 1272.2,275.0 1272.3,275.0 1272.4,275.0 1272.5,274.9 1272.6,274.9 1272.7,274.9 1272.8,274.9 1272.9,274.9 1273.0,274.9 1273.1,274.9 1273.2,274.8 1273.3,274.8 1273.4,274.8 1273.5,274.8 1273.6,274.8 1273.8,274.7 1273.9,274.7 1274.0,274.7 1274.1,274.6 1274.2,274.6 1274.3,274.5 1274.4,274.5 1274.5,274.4 1274.6,274.4 1274.7,274.3 1274.8,274.2 1274.9,274.1 1275.0,274.0 1275.1,273.9 1275.2,273.7 1275.3,273.5 1275.4,273.3 1275.5,272.9 1275.6,272.5 1275.7,272.0 1275.8,271.3 1275.9,270.5 1276.0,269.5 1276.1,268.2 1276.2,266.8 1276.3,265.2 1276.4,263.4 1276.5,261.5 1276.6,259.7 1276.8,258.2 1276.9,257.2 1277.0,256.8 1277.1,257.2 1277.2,258.2 1277.3,259.8 1277.4,261.5 1277.5,263.4 1277.6,265.2 1277.7,266.8 1277.8,268.2 1277.9,269.5 1278.0,270.5 1278.1,271.3 1278.2,272.0 1278.3,272.5 1278.4,272.9 1278.5,273.3 1278.6,273.5 1278.7,273.7 1278.8,273.9 1278.9,274.0 1279.0,274.1 1279.1,274.2 1279.2,274.3 1279.3,274.4 1279.4,274.4 1279.5,274.5 1279.7,274.6 1279.8,274.6 1279.9,274.6 1280.0,274.7 1280.1,274.7 1280.2,274.7 1280.3,274.8 1280.4,274.8 1280.5,274.8 1280.6,274.8 1280.7,274.9 1280.8,274.9 1280.9,274.9 1281.0,274.9 1281.1,274.9 1281.2,274.9 1281.3,274.9 1281.4,275.0 1281.5,275.0 1281.6,275.0 1281.7,275.0 1281.8,275.0 1281.9,275.0 1282.0,275.0 1282.1,275.0 1282.2,275.0 1282.3,275.0 1282.4,275.0 1282.5,275.0 1282.7,275.1 1282.8,275.1 1282.9,275.1 1283.0,275.1 1283.1,275.1 1283.2,275.1 1283.3,275.1 1283.4,275.1 1283.5,275.1 1283.6,275.1 1283.7,275.1 1283.8,275.1 1283.9,275.1 1284.0,275.1 1284.1,275.1 1284.2,275.1 1284.3,275.1 1284.4,275.1 1284.5,275.1 1284.6,275.1 1284.7,275.1 1284.8,275.1 1284.9,275.1 1285.0,275.1 1285.1,275.1 1285.2,275.1 1285.3,275.1 1285.4,275.1 1285.6,275.1 1285.7,275.1 1285.8,275.1 1285.9,275.1 1286.0,275.1 1286.1,275.1 1286.2,275.2 1286.3,275.2 1286.4,275.2 1286.5,275.2 1286.6,275.2 1286.7,275.2 1286.8,275.2 1286.9,275.2 1287.0,275.2 1287.1,275.2 1287.2,275.2 1287.3,275.2 1287.4,275.2 1287.5,275.2 1287.6,275.2 1287.7,275.2 1287.8,275.2 1287.9,275.2 1288.0,275.2 1288.1,275.2 1288.2,275.2 1288.3,275.2 1288.4,275.2 1288.6,275.2 1288.7,275.2 1288.8,275.2 1288.9,275.2 1289.0,275.2 1289.1,275.2 1289.2,275.2 1289.3,275.2 1289.4,275.2 1289.5,275.2 1289.6,275.2 1289.7,275.2 1289.8,275.2 1289.9,275.2 1290.0,275.2 1290.1,275.2 1290.2,275.2 1290.3,275.2 1290.4,275.2 1290.5,275.2 1290.6,275.2 1290.7,275.2 1290.8,275.2 1290.9,275.2 1291.0,275.2 1291.1,275.2 1291.2,275.2 1291.3,275.2 1291.5,275.2 1291.6,275.2 1291.7,275.2 1291.8,275.2 1291.9,275.2 1292.0,275.2 1292.1,275.2 1292.2,275.2 1292.3,275.2 1292.4,275.2 1292.5,275.2 1292.6,275.2 1292.7,275.2 1292.8,275.2 1292.9,275.2 1293.0,275.2 1293.1,275.2 1293.2,275.2 1293.3,275.2 1293.4,275.2 1293.5,275.2 1293.6,275.2 1293.7,275.2 1293.8,275.2 1293.9,275.2 1294.0,275.2 1294.1,275.2 1294.2,275.2 1294.3,275.2 1294.5,275.2 1294.6,275.2 1294.7,275.2 1294.8,275.2 1294.9,275.2 1295.0,275.2 1295.1,275.2 1295.2,275.2 1295.3,275.2 1295.4,275.2 1295.5,275.2 1295.6,275.2 1295.7,275.2 1295.8,275.2 1295.9,275.2 1296.0,275.2 1296.1,275.2 1296.2,275.2 1296.3,275.2 1296.4,275.2 1296.5,275.2 1296.6,275.1 1296.7,275.1 1296.8,275.1 1296.9,275.1 1297.0,275.1 1297.1,275.1 1297.2,275.1 1297.3,275.1 1297.5,275.1 1297.6,275.1 1297.7,275.1 1297.8,275.1 1297.9,275.1 1298.0,275.1 1298.1,275.0 1298.2,275.0 1298.3,275.0 1298.4,275.0 1298.5,275.0 1298.6,274.9 1298.7,274.9 1298.8,274.8 1298.9,274.7 1299.0,274.6 1299.1,274.5 1299.2,274.4 1299.3,274.2 1299.4,274.0 1299.5,273.8 1299.6,273.6 1299.7,273.3 1299.8,273.1 1299.9,272.8 1300.0,272.6 1300.1,272.5 1300.2,272.4 1300.4,272.5 1300.5,272.6 1300.6,272.8 1300.7,273.1 1300.8,273.3 1300.9,273.6 1301.0,273.8 1301.1,274.0 1301.2,274.2 1301.3,274.4 1301.4,274.5 1301.5,274.6 1301.6,274.7 1301.7,274.8 1301.8,274.9 1301.9,274.9 1302.0,275.0 1302.1,275.0 1302.2,275.0 1302.3,275.0 1302.4,275.1 1302.5,275.1 1302.6,275.1 1302.7,275.1 1302.8,275.1 1302.9,275.1 1303.0,275.1 1303.1,275.1 1303.2,275.1 1303.4,275.1 1303.5,275.1 1303.6,275.1 1303.7,275.1 1303.8,275.2 1303.9,275.2 1304.0,275.2 1304.1,275.2 1304.2,275.2 1304.3,275.2 1304.4,275.2 1304.5,275.2 1304.6,275.2 1304.7,275.2 1304.8,275.2 1304.9,275.2 1305.0,275.2 1305.1,275.2 1305.2,275.2 1305.3,275.2 1305.4,275.2 1305.5,275.2 1305.6,275.2 1305.7,275.2 1305.8,275.2 1305.9,275.2 1306.0,275.2 1306.1,275.2 1306.3,275.2 1306.4,275.2 1306.5,275.2 1306.6,275.2 1306.7,275.2 1306.8,275.2 1306.9,275.2 1307.0,275.2 1307.1,275.2 1307.2,275.2 1307.3,275.2 1307.4,275.2 1307.5,275.2 1307.6,275.2 1307.7,275.2 1307.8,275.2 1307.9,275.2 1308.0,275.2 1308.1,275.2 1308.2,275.2 1308.3,275.2 1308.4,275.2 1308.5,275.2 1308.6,275.2 1308.7,275.2 1308.8,275.2 1308.9,275.2 1309.0,275.2 1309.1,275.2 1309.3,275.2 1309.4,275.2 1309.5,275.2 1309.6,275.2 1309.7,275.2 1309.8,275.2 1309.9,275.2 1310.0,275.2 1310.1,275.2 1310.2,275.2 1310.3,275.2 1310.4,275.2 1310.5,275.2 1310.6,275.2 1310.7,275.2 1310.8,275.2 1310.9,275.2 1311.0,275.2 1311.1,275.2 1311.2,275.2 1311.3,275.2 1311.4,275.2 1311.5,275.2 1311.6,275.2 1311.7,275.2 1311.8,275.2 1311.9,275.2 1312.0,275.2 1312.2,275.2 1312.3,275.2 1312.4,275.2 1312.5,275.2 1312.6,275.2 1312.7,275.2 1312.8,275.2 1312.9,275.2 1313.0,275.2 1313.1,275.2 1313.2,275.2 1313.3,275.2 1313.4,275.2 1313.5,275.2 1313.6,275.2 1313.7,275.2 1313.8,275.2 1313.9,275.2 1314.0,275.2 1314.1,275.2 1314.2,275.2 1314.3,275.2 1314.4,275.2 1314.5,275.2 1314.6,275.2 1314.7,275.2 1314.8,275.2 1314.9,275.2 1315.0,275.2 1315.2,275.2 1315.3,275.2 1315.4,275.2 1315.5,275.2 1315.6,275.2 1315.7,275.2 1315.8,275.2 1315.9,275.2 1316.0,275.2 1316.1,275.2 1316.2,275.2 1316.3,275.2 1316.4,275.2 1316.5,275.2 1316.6,275.2 1316.7,275.2 1316.8,275.2 1316.9,275.2 1317.0,275.2 1317.1,275.2 1317.2,275.2 1317.3,275.2 1317.4,275.2 1317.5,275.2 1317.6,275.2 1317.7,275.2 1317.8,275.2 1317.9,275.2 1318.0,275.2 1318.2,275.2 1318.3,275.2 1318.4,275.2 1318.5,275.1 1318.6,275.1 1318.7,275.1 1318.8,275.1 1318.9,275.1 1319.0,275.1 1319.1,275.1 1319.2,275.1 1319.3,275.1 1319.4,275.1 1319.5,275.1 1319.6,275.1 1319.7,275.1 1319.8,275.1 1319.9,275.1 1320.0,275.1 1320.1,275.0 1320.2,275.0 1320.3,275.0 1320.4,275.0 1320.5,275.0 1320.6,275.0 1320.7,275.0 1320.8,274.9 1320.9,274.9 1321.1,274.9 1321.2,274.9 1321.3,274.8 1321.4,274.8 1321.5,274.7 1321.6,274.7 1321.7,274.6 1321.8,274.5 1321.9,274.4 1322.0,274.3 1322.1,274.1 1322.2,273.9 1322.3,273.7 1322.4,273.4 1322.5,273.0 1322.6,272.6 1322.7,272.1 1322.8,271.6 1322.9,271.1 1323.0,270.5 1323.1,269.9 1323.2,269.4 1323.3,268.9 1323.4,268.6 1323.5,268.5 1323.6,268.6 1323.7,268.9 1323.8,269.4 1323.9,269.9 1324.1,270.5 1324.2,271.1 1324.3,271.6 1324.4,272.1 1324.5,272.6 1324.6,273.0 1324.7,273.4 1324.8,273.7 1324.9,273.9 1325.0,274.1 1325.1,274.3 1325.2,274.4 1325.3,274.5 1325.4,274.6 1325.5,274.7 1325.6,274.7 1325.7,274.8 1325.8,274.8 1325.9,274.9 1326.0,274.9 1326.1,274.9 1326.2,274.9 1326.3,275.0 1326.4,275.0 1326.5,275.0 1326.6,275.0 1326.7,275.0 1326.8,275.0 1327.0,275.1 1327.1,275.1 1327.2,275.1 1327.3,275.1 1327.4,275.1 1327.5,275.1 1327.6,275.1 1327.7,275.1 1327.8,275.1 1327.9,275.1 1328.0,275.1 1328.1,275.1 1328.2,275.1 1328.3,275.1 1328.4,275.2 1328.5,275.2 1328.6,275.2 1328.7,275.2 1328.8,275.2 1328.9,275.2 1329.0,275.2 1329.1,275.2 1329.2,275.2 1329.3,275.2 1329.4,275.2 1329.5,275.2 1329.6,275.2 1329.7,275.2 1329.8,275.2 1330.0,275.2 1330.1,275.2 1330.2,275.2 1330.3,275.2 1330.4,275.2 1330.5,275.2 1330.6,275.2 1330.7,275.2 1330.8,275.2 1330.9,275.2 1331.0,275.2 1331.1,275.2 1331.2,275.2 1331.3,275.2 1331.4,275.2 1331.5,275.2 1331.6,275.2 1331.7,275.2 1331.8,275.2 1331.9,275.2 1332.0,275.2 1332.1,275.2 1332.2,275.2 1332.3,275.2 1332.4,275.2 1332.5,275.2 1332.6,275.2 1332.7,275.2 1332.8,275.2 1333.0,275.2 1333.1,275.2 1333.2,275.2 1333.3,275.2 1333.4,275.2 1333.5,275.2 1333.6,275.2 1333.7,275.2 1333.8,275.2 1333.9,275.2 1334.0,275.2 1334.1,275.2 1334.2,275.2 1334.3,275.2 1334.4,275.2 1334.5,275.2 1334.6,275.2 1334.7,275.2 1334.8,275.2 1334.9,275.2 1335.0,275.2 1335.1,275.2 1335.2,275.2 1335.3,275.2 1335.4,275.2 1335.5,275.2 1335.6,275.2 1335.7,275.2 1335.9,275.2 1336.0,275.2 1336.1,275.2 1336.2,275.2 1336.3,275.2 1336.4,275.2 1336.5,275.2 1336.6,275.2 1336.7,275.2 1336.8,275.2 1336.9,275.2 1337.0,275.2 1337.1,275.2 1337.2,275.2 1337.3,275.2 1337.4,275.2 1337.5,275.2 1337.6,275.2 1337.7,275.2 1337.8,275.2 1337.9,275.2 1338.0,275.2 1338.1,275.2 1338.2,275.2 1338.3,275.2 1338.4,275.2 1338.5,275.2 1338.6,275.2 1338.7,275.2 1338.9,275.2 1339.0,275.2 1339.1,275.2 1339.2,275.2 1339.3,275.2 1339.4,275.2 1339.5,275.2 1339.6,275.2 1339.7,275.2 1339.8,275.2 1339.9,275.2 1340.0,275.2 1340.1,275.2 1340.2,275.3 1340.3,275.3 1340.4,275.3 1340.5,275.3 1340.6,275.3 1340.7,275.3 1340.8,275.3 1340.9,275.3 1341.0,275.3 1341.1,275.3 1341.2,275.3 1341.3,275.3 1341.4,275.3 1341.5,275.3 1341.6,275.3 1341.8,275.3 1341.9,275.3 1342.0,275.3 1342.1,275.3 1342.2,275.3 1342.3,275.3 1342.4,275.3 1342.5,275.3 1342.6,275.3 1342.7,275.3 1342.8,275.3 1342.9,275.3 1343.0,275.3 1343.1,275.3 1343.2,275.3" fill="none" stroke="#3c3c3c" stroke-width="3.3" stroke-linejoin="round"/><polyline points="929.2,334.2 929.4,333.4 929.6,335.6 929.8,335.9 930.0,334.4 930.2,335.4 930.4,334.9 930.6,335.1 930.9,334.9 931.1,333.8 931.3,335.0 931.5,335.4 931.7,333.7 931.9,336.3 932.1,336.4 932.3,336.1 932.5,336.3 932.7,335.2 932.9,334.2 933.1,334.0 933.3,333.8 933.5,334.6 933.8,334.5 934.0,335.1 934.2,332.7 934.4,336.6 934.6,336.5 934.8,334.5 935.0,335.1 935.2,334.9 935.4,334.7 935.6,334.3 935.8,334.4 936.0,333.8 936.2,334.7 936.4,334.5 936.7,334.8 936.9,333.7 937.1,334.5 937.3,334.5 937.5,335.0 937.7,333.5 937.9,334.9 938.1,335.4 938.3,335.0 938.5,334.2 938.7,334.1 938.9,334.3 939.1,335.2 939.3,335.9 939.5,334.4 939.8,333.9 940.0,334.8 940.2,334.7 940.4,333.7 940.6,333.8 940.8,334.4 941.0,335.1 941.2,333.4 941.4,333.6 941.6,334.9 941.8,333.4 942.0,334.6 942.2,334.8 942.4,334.4 942.7,333.6 942.9,334.4 943.1,334.2 943.3,334.8 943.5,333.7 943.7,335.5 943.9,333.0 944.1,334.3 944.3,334.5 944.5,335.4 944.7,334.0 944.9,335.0 945.1,334.0 945.3,335.2 945.6,336.1 945.8,334.1 946.0,334.9 946.2,333.7 946.4,335.4 946.6,335.6 946.8,334.5 947.0,333.5 947.2,334.9 947.4,335.5 947.6,335.5 947.8,335.2 948.0,332.9 948.2,333.9 948.5,335.8 948.7,333.4 948.9,335.5 949.1,336.2 949.3,335.2 949.5,335.5 949.7,334.2 949.9,333.4 950.1,334.4 950.3,334.3 950.5,334.5 950.7,335.1 950.9,334.4 951.1,334.7 951.3,334.9 951.6,334.5 951.8,336.2 952.0,334.9 952.2,334.6 952.4,334.3 952.6,333.9 952.8,335.7 953.0,334.6 953.2,333.5 953.4,334.0 953.6,334.4 953.8,334.1 954.0,335.5 954.2,333.5 954.5,334.9 954.7,334.6 954.9,333.4 955.1,334.5 955.3,334.4 955.5,335.0 955.7,334.1 955.9,334.8 956.1,333.0 956.3,333.5 956.5,335.2 956.7,335.4 956.9,334.5 957.1,334.0 957.4,335.5 957.6,332.6 957.8,333.8 958.0,335.1 958.2,335.1 958.4,333.6 958.6,332.8 958.8,335.8 959.0,334.6 959.2,333.7 959.4,334.5 959.6,335.3 959.8,332.2 960.0,335.5 960.2,335.2 960.5,332.6 960.7,335.2 960.9,332.9 961.1,335.5 961.3,334.9 961.5,336.5 961.7,334.0 961.9,334.5 962.1,335.4 962.3,333.9 962.5,333.9 962.7,334.2 962.9,334.4 963.1,333.5 963.4,334.9 963.6,335.0 963.8,334.6 964.0,336.0 964.2,334.2 964.4,335.7 964.6,334.0 964.8,335.2 965.0,332.8 965.2,334.7 965.4,334.3 965.6,334.1 965.8,334.0 966.0,334.2 966.3,333.9 966.5,332.5 966.7,334.0 966.9,334.0 967.1,334.0 967.3,333.5 967.5,334.4 967.7,335.2 967.9,334.3 968.1,334.1 968.3,335.7 968.5,335.4 968.7,335.3 968.9,335.5 969.2,334.2 969.4,334.4 969.6,335.5 969.8,334.0 970.0,334.4 970.2,334.8 970.4,334.8 970.6,334.3 970.8,335.4 971.0,334.3 971.2,335.2 971.4,335.5 971.6,335.1 971.8,335.2 972.0,333.5 972.3,333.3 972.5,333.9 972.7,334.9 972.9,335.9 973.1,333.4 973.3,334.8 973.5,333.7 973.7,333.8 973.9,334.3 974.1,335.1 974.3,334.7 974.5,335.6 974.7,333.6 974.9,335.3 975.2,335.3 975.4,334.6 975.6,334.9 975.8,334.0 976.0,333.5 976.2,334.1 976.4,333.9 976.6,337.1 976.8,334.1 977.0,336.0 977.2,334.7 977.4,334.8 977.6,335.2 977.8,333.8 978.1,335.3 978.3,334.8 978.5,333.1 978.7,335.0 978.9,335.0 979.1,334.9 979.3,335.9 979.5,334.1 979.7,335.0 979.9,335.2 980.1,333.7 980.3,335.6 980.5,333.2 980.7,333.3 980.9,335.0 981.2,333.5 981.4,334.4 981.6,333.0 981.8,334.6 982.0,333.5 982.2,334.8 982.4,333.1 982.6,334.9 982.8,334.3 983.0,334.6 983.2,334.4 983.4,334.6 983.6,333.3 983.8,332.2 984.1,334.5 984.3,333.7 984.5,334.1 984.7,334.9 984.9,332.7 985.1,333.8 985.3,334.0 985.5,333.5 985.7,334.8 985.9,334.4 986.1,333.8 986.3,333.6 986.5,335.2 986.7,333.9 987.0,335.0 987.2,334.9 987.4,332.8 987.6,333.5 987.8,334.5 988.0,334.8 988.2,335.2 988.4,335.2 988.6,335.4 988.8,334.2 989.0,334.3 989.2,335.2 989.4,334.1 989.6,335.5 989.9,333.1 990.1,335.1 990.3,334.3 990.5,332.7 990.7,335.4 990.9,334.8 991.1,334.5 991.3,333.5 991.5,334.1 991.7,335.9 991.9,333.8 992.1,331.4 992.3,333.7 992.5,333.4 992.7,334.4 993.0,334.1 993.2,333.7 993.4,333.7 993.6,335.4 993.8,333.2 994.0,336.3 994.2,334.0 994.4,333.5 994.6,335.2 994.8,335.0 995.0,333.6 995.2,335.2 995.4,332.8 995.6,333.7 995.9,335.5 996.1,334.3 996.3,333.3 996.5,335.0 996.7,335.3 996.9,334.5 997.1,332.9 997.3,334.2 997.5,334.9 997.7,335.2 997.9,336.2 998.1,334.3 998.3,334.1 998.5,334.5 998.8,335.6 999.0,333.7 999.2,335.7 999.4,332.0 999.6,335.2 999.8,333.9 1000.0,334.9 1000.2,335.1 1000.4,333.4 1000.6,334.4 1000.8,334.7 1001.0,335.0 1001.2,333.7 1001.4,333.6 1001.6,332.8 1001.9,336.8 1002.1,334.3 1002.3,334.3 1002.5,333.2 1002.7,335.3 1002.9,334.0 1003.1,335.8 1003.3,335.3 1003.5,334.5 1003.7,335.2 1003.9,333.5 1004.1,334.2 1004.3,334.0 1004.5,333.4 1004.8,334.5 1005.0,334.4 1005.2,335.8 1005.4,331.5 1005.6,333.9 1005.8,333.7 1006.0,334.1 1006.2,334.9 1006.4,334.9 1006.6,334.5 1006.8,334.1 1007.0,334.9 1007.2,334.8 1007.4,332.8 1007.7,334.3 1007.9,333.3 1008.1,333.4 1008.3,334.6 1008.5,334.6 1008.7,334.6 1008.9,333.7 1009.1,334.3 1009.3,333.7 1009.5,334.8 1009.7,335.1 1009.9,336.1 1010.1,335.6 1010.3,333.8 1010.6,334.1 1010.8,333.7 1011.0,334.8 1011.2,336.3 1011.4,335.1 1011.6,332.5 1011.8,333.4 1012.0,333.3 1012.2,335.0 1012.4,334.5 1012.6,334.8 1012.8,336.1 1013.0,333.8 1013.2,333.7 1013.4,336.3 1013.7,334.8 1013.9,333.8 1014.1,332.7 1014.3,333.1 1014.5,332.3 1014.7,334.6 1014.9,334.5 1015.1,335.4 1015.3,334.4 1015.5,333.9 1015.7,333.8 1015.9,336.2 1016.1,332.9 1016.3,334.7 1016.6,334.5 1016.8,335.1 1017.0,334.1 1017.2,334.9 1017.4,335.2 1017.6,334.4 1017.8,334.1 1018.0,334.3 1018.2,333.6 1018.4,334.3 1018.6,334.2 1018.8,334.7 1019.0,335.7 1019.2,335.7 1019.5,334.1 1019.7,335.0 1019.9,334.8 1020.1,335.2 1020.3,334.5 1020.5,334.7 1020.7,334.1 1020.9,333.8 1021.1,335.3 1021.3,335.7 1021.5,335.1 1021.7,334.9 1021.9,334.7 1022.1,334.1 1022.3,332.9 1022.6,335.1 1022.8,334.7 1023.0,334.0 1023.2,333.6 1023.4,335.7 1023.6,332.9 1023.8,336.1 1024.0,335.1 1024.2,336.6 1024.4,333.9 1024.6,334.5 1024.8,334.0 1025.0,334.6 1025.2,334.3 1025.5,333.8 1025.7,335.5 1025.9,333.8 1026.1,334.0 1026.3,335.0 1026.5,334.0 1026.7,334.1 1026.9,334.8 1027.1,334.2 1027.3,333.4 1027.5,334.4 1027.7,334.3 1027.9,336.0 1028.1,333.5 1028.4,335.4 1028.6,333.8 1028.8,334.2 1029.0,334.2 1029.2,334.7 1029.4,335.3 1029.6,336.1 1029.8,333.9 1030.0,335.7 1030.2,335.4 1030.4,335.2 1030.6,333.8 1030.8,335.3 1031.0,334.4 1031.3,334.8 1031.5,334.3 1031.7,335.1 1031.9,335.5 1032.1,335.5 1032.3,334.3 1032.5,335.4 1032.7,335.8 1032.9,333.7 1033.1,335.8 1033.3,333.3 1033.5,335.0 1033.7,335.0 1033.9,335.8 1034.1,334.8 1034.4,334.1 1034.6,333.8 1034.8,333.4 1035.0,335.2 1035.2,334.3 1035.4,333.9 1035.6,335.0 1035.8,333.8 1036.0,334.1 1036.2,334.1 1036.4,336.0 1036.6,335.8 1036.8,334.4 1037.0,333.1 1037.3,334.7 1037.5,334.6 1037.7,334.8 1037.9,335.0 1038.1,334.2 1038.3,335.3 1038.5,335.3 1038.7,334.7 1038.9,334.1 1039.1,334.1 1039.3,335.1 1039.5,333.5 1039.7,334.4 1039.9,333.8 1040.2,333.2 1040.4,335.0 1040.6,334.5 1040.8,334.5 1041.0,335.3 1041.2,333.2 1041.4,334.4 1041.6,334.8 1041.8,335.2 1042.0,333.5 1042.2,335.1 1042.4,334.7 1042.6,335.7 1042.8,335.5 1043.0,335.0 1043.3,336.4 1043.5,334.4 1043.7,333.1 1043.9,330.3 1044.1,327.7 1044.3,330.7 1044.5,332.5 1044.7,338.1 1044.9,345.0 1045.1,349.4 1045.3,344.3 1045.5,339.5 1045.7,334.7 1045.9,334.5 1046.2,332.8 1046.4,333.8 1046.6,333.8 1046.8,335.8 1047.0,335.0 1047.2,333.5 1047.4,335.0 1047.6,334.9 1047.8,334.3 1048.0,334.5 1048.2,334.2 1048.4,334.0 1048.6,332.9 1048.8,334.4 1049.1,335.6 1049.3,335.8 1049.5,334.3 1049.7,333.8 1049.9,334.3 1050.1,335.3 1050.3,334.8 1050.5,334.0 1050.7,334.8 1050.9,334.3 1051.1,335.0 1051.3,334.1 1051.5,333.2 1051.7,334.6 1052.0,335.2 1052.2,333.5 1052.4,334.4 1052.6,335.3 1052.8,334.2 1053.0,333.9 1053.2,336.3 1053.4,335.2 1053.6,335.4 1053.8,333.7 1054.0,335.9 1054.2,333.0 1054.4,334.0 1054.6,335.1 1054.8,335.7 1055.1,333.7 1055.3,333.9 1055.5,334.7 1055.7,332.8 1055.9,335.1 1056.1,335.0 1056.3,334.1 1056.5,335.0 1056.7,335.2 1056.9,334.8 1057.1,335.0 1057.3,335.8 1057.5,334.1 1057.7,334.6 1058.0,334.0 1058.2,335.4 1058.4,334.1 1058.6,334.9 1058.8,334.6 1059.0,334.6 1059.2,336.0 1059.4,334.4 1059.6,335.7 1059.8,335.2 1060.0,335.7 1060.2,334.4 1060.4,335.3 1060.6,335.2 1060.9,334.0 1061.1,334.7 1061.3,334.4 1061.5,334.5 1061.7,335.6 1061.9,333.9 1062.1,333.0 1062.3,333.0 1062.5,334.1 1062.7,333.9 1062.9,334.5 1063.1,335.0 1063.3,336.0 1063.5,334.8 1063.7,334.9 1064.0,333.9 1064.2,335.0 1064.4,335.7 1064.6,335.7 1064.8,332.8 1065.0,335.3 1065.2,335.9 1065.4,335.2 1065.6,333.2 1065.8,334.2 1066.0,335.0 1066.2,334.9 1066.4,333.8 1066.6,333.7 1066.9,335.3 1067.1,333.3 1067.3,335.7 1067.5,334.5 1067.7,334.8 1067.9,333.3 1068.1,334.0 1068.3,335.1 1068.5,333.2 1068.7,336.3 1068.9,333.3 1069.1,333.4 1069.3,334.5 1069.5,334.9 1069.8,335.1 1070.0,334.2 1070.2,334.3 1070.4,334.3 1070.6,334.0 1070.8,332.3 1071.0,335.3 1071.2,334.7 1071.4,334.6 1071.6,334.0 1071.8,334.7 1072.0,334.5 1072.2,334.4 1072.4,335.5 1072.7,333.0 1072.9,334.7 1073.1,333.6 1073.3,334.2 1073.5,335.8 1073.7,333.6 1073.9,334.4 1074.1,334.0 1074.3,335.3 1074.5,333.7 1074.7,333.0 1074.9,334.9 1075.1,334.2 1075.3,334.2 1075.5,335.4 1075.8,333.7 1076.0,334.2 1076.2,334.6 1076.4,334.9 1076.6,334.1 1076.8,335.4 1077.0,336.4 1077.2,334.1 1077.4,336.1 1077.6,332.7 1077.8,335.7 1078.0,334.2 1078.2,334.6 1078.4,334.2 1078.7,333.9 1078.9,333.4 1079.1,334.2 1079.3,335.6 1079.5,335.5 1079.7,334.2 1079.9,334.0 1080.1,333.9 1080.3,333.5 1080.5,336.1 1080.7,335.1 1080.9,334.6 1081.1,334.1 1081.3,333.6 1081.6,335.6 1081.8,335.2 1082.0,333.7 1082.2,335.4 1082.4,333.5 1082.6,335.1 1082.8,333.7 1083.0,334.1 1083.2,334.9 1083.4,334.9 1083.6,335.4 1083.8,333.8 1084.0,335.9 1084.2,335.7 1084.4,334.5 1084.7,334.9 1084.9,333.8 1085.1,334.4 1085.3,333.4 1085.5,334.6 1085.7,334.7 1085.9,335.7 1086.1,335.3 1086.3,335.2 1086.5,334.2 1086.7,334.3 1086.9,334.2 1087.1,334.7 1087.3,332.8 1087.6,335.2 1087.8,333.1 1088.0,334.1 1088.2,334.5 1088.4,334.1 1088.6,335.9 1088.8,334.4 1089.0,335.9 1089.2,335.5 1089.4,334.1 1089.6,334.8 1089.8,335.6 1090.0,334.2 1090.2,334.6 1090.5,334.0 1090.7,334.6 1090.9,334.2 1091.1,334.6 1091.3,335.4 1091.5,335.7 1091.7,334.6 1091.9,334.7 1092.1,335.2 1092.3,334.2 1092.5,333.6 1092.7,335.5 1092.9,333.7 1093.1,335.3 1093.4,333.7 1093.6,336.1 1093.8,333.6 1094.0,335.2 1094.2,335.8 1094.4,333.7 1094.6,335.8 1094.8,333.8 1095.0,333.0 1095.2,335.1 1095.4,335.1 1095.6,334.3 1095.8,332.3 1096.0,334.5 1096.2,334.2 1096.5,334.2 1096.7,334.2 1096.9,333.0 1097.1,334.0 1097.3,336.1 1097.5,335.8 1097.7,334.2 1097.9,333.9 1098.1,334.8 1098.3,335.4 1098.5,335.1 1098.7,333.5 1098.9,334.6 1099.1,334.6 1099.4,335.7 1099.6,335.5 1099.8,335.0 1100.0,335.6 1100.2,334.2 1100.4,335.8 1100.6,334.1 1100.8,334.8 1101.0,335.3 1101.2,333.7 1101.4,333.9 1101.6,333.0 1101.8,334.6 1102.0,334.5 1102.3,334.2 1102.5,334.9 1102.7,332.7 1102.9,334.5 1103.1,334.6 1103.3,334.3 1103.5,335.2 1103.7,336.0 1103.9,334.1 1104.1,333.7 1104.3,334.0 1104.5,334.6 1104.7,335.0 1104.9,333.8 1105.1,335.4 1105.4,333.6 1105.6,335.2 1105.8,334.9 1106.0,334.9 1106.2,336.4 1106.4,334.3 1106.6,334.4 1106.8,334.9 1107.0,335.2 1107.2,333.3 1107.4,334.7 1107.6,333.9 1107.8,335.0 1108.0,335.7 1108.3,334.5 1108.5,334.4 1108.7,334.7 1108.9,331.9 1109.1,335.2 1109.3,335.0 1109.5,334.6 1109.7,334.2 1109.9,333.9 1110.1,334.3 1110.3,335.5 1110.5,334.4 1110.7,335.7 1110.9,332.3 1111.2,334.1 1111.4,334.7 1111.6,334.5 1111.8,333.1 1112.0,333.9 1112.2,335.6 1112.4,333.4 1112.6,333.6 1112.8,333.6 1113.0,334.0 1113.2,335.1 1113.4,335.0 1113.6,332.7 1113.8,335.8 1114.1,334.0 1114.3,334.0 1114.5,335.9 1114.7,334.4 1114.9,333.4 1115.1,333.9 1115.3,333.9 1115.5,333.6 1115.7,334.2 1115.9,335.3 1116.1,334.8 1116.3,333.3 1116.5,336.9 1116.7,333.6 1116.9,334.6 1117.2,334.4 1117.4,334.6 1117.6,332.7 1117.8,332.1 1118.0,332.5 1118.2,330.7 1118.4,330.8 1118.6,333.3 1118.8,333.2 1119.0,334.0 1119.2,334.6 1119.4,334.8 1119.6,334.3 1119.8,335.2 1120.1,334.3 1120.3,333.4 1120.5,335.3 1120.7,334.2 1120.9,335.5 1121.1,333.9 1121.3,335.0 1121.5,334.8 1121.7,332.2 1121.9,333.2 1122.1,333.5 1122.3,335.7 1122.5,332.9 1122.7,335.3 1123.0,335.4 1123.2,334.9 1123.4,335.1 1123.6,334.1 1123.8,334.5 1124.0,334.7 1124.2,334.9 1124.4,335.1 1124.6,334.3 1124.8,333.9 1125.0,334.0 1125.2,334.9 1125.4,333.1 1125.6,333.4 1125.8,334.1 1126.1,334.0 1126.3,334.3 1126.5,332.2 1126.7,334.2 1126.9,334.3 1127.1,335.2 1127.3,332.8 1127.5,334.2 1127.7,334.9 1127.9,334.9 1128.1,335.5 1128.3,335.4 1128.5,333.6 1128.7,335.1 1129.0,334.2 1129.2,333.8 1129.4,335.8 1129.6,334.0 1129.8,333.8 1130.0,334.1 1130.2,333.8 1130.4,335.4 1130.6,334.8 1130.8,335.7 1131.0,334.9 1131.2,334.0 1131.4,335.4 1131.6,333.9 1131.9,334.1 1132.1,334.4 1132.3,334.5 1132.5,335.5 1132.7,334.0 1132.9,334.8 1133.1,334.5 1133.3,333.4 1133.5,333.6 1133.7,334.3 1133.9,334.9 1134.1,334.8 1134.3,334.9 1134.5,334.5 1134.8,334.1 1135.0,334.9 1135.2,333.6 1135.4,333.3 1135.6,334.2 1135.8,333.3 1136.0,334.1 1136.2,333.9 1136.4,334.0 1136.6,334.5 1136.8,333.8 1137.0,334.1 1137.2,333.0 1137.4,334.6 1137.6,333.7 1137.9,334.9 1138.1,332.0 1138.3,333.8 1138.5,334.7 1138.7,332.4 1138.9,334.2 1139.1,334.6 1139.3,334.6 1139.5,333.2 1139.7,334.7 1139.9,334.6 1140.1,333.7 1140.3,335.1 1140.5,334.5 1140.8,334.5 1141.0,334.1 1141.2,335.0 1141.4,334.6 1141.6,335.5 1141.8,334.9 1142.0,334.0 1142.2,334.3 1142.4,335.3 1142.6,334.2 1142.8,334.8 1143.0,335.0 1143.2,334.3 1143.4,332.5 1143.7,334.6 1143.9,334.7 1144.1,334.6 1144.3,333.8 1144.5,335.6 1144.7,334.4 1144.9,334.0 1145.1,333.9 1145.3,334.8 1145.5,333.6 1145.7,333.6 1145.9,336.2 1146.1,335.6 1146.3,335.4 1146.5,335.7 1146.8,335.0 1147.0,333.0 1147.2,335.5 1147.4,335.6 1147.6,334.9 1147.8,332.8 1148.0,335.6 1148.2,335.7 1148.4,334.1 1148.6,334.6 1148.8,335.2 1149.0,334.4 1149.2,335.5 1149.4,334.6 1149.7,335.1 1149.9,334.6 1150.1,333.2 1150.3,333.6 1150.5,337.3 1150.7,334.7 1150.9,335.6 1151.1,335.5 1151.3,336.0 1151.5,335.0 1151.7,334.0 1151.9,334.5 1152.1,332.8 1152.3,334.3 1152.6,335.3 1152.8,332.6 1153.0,334.7 1153.2,335.2 1153.4,335.7 1153.6,333.7 1153.8,333.9 1154.0,332.9 1154.2,333.6 1154.4,335.0 1154.6,336.3 1154.8,333.5 1155.0,335.7 1155.2,334.9 1155.5,334.1 1155.7,336.4 1155.9,332.3 1156.1,334.4 1156.3,334.7 1156.5,336.4 1156.7,336.1 1156.9,336.5 1157.1,334.6 1157.3,335.4 1157.5,335.7 1157.7,334.9 1157.9,334.8 1158.1,334.3 1158.3,334.1 1158.6,333.4 1158.8,336.2 1159.0,334.1 1159.2,332.7 1159.4,334.7 1159.6,334.5 1159.8,334.7 1160.0,336.1 1160.2,334.4 1160.4,334.3 1160.6,333.8 1160.8,334.5 1161.0,334.1 1161.2,334.7 1161.5,337.2 1161.7,334.8 1161.9,333.8 1162.1,336.2 1162.3,335.3 1162.5,335.2 1162.7,335.1 1162.9,335.2 1163.1,335.1 1163.3,335.7 1163.5,335.4 1163.7,335.7 1163.9,334.1 1164.1,334.5 1164.4,333.9 1164.6,335.3 1164.8,335.2 1165.0,334.1 1165.2,335.0 1165.4,336.8 1165.6,335.6 1165.8,333.5 1166.0,334.4 1166.2,335.1 1166.4,334.5 1166.6,334.8 1166.8,335.5 1167.0,334.8 1167.2,333.5 1167.5,335.1 1167.7,334.4 1167.9,334.6 1168.1,334.0 1168.3,333.3 1168.5,333.4 1168.7,334.2 1168.9,333.6 1169.1,332.1 1169.3,335.5 1169.5,333.5 1169.7,333.9 1169.9,335.0 1170.1,332.4 1170.4,335.7 1170.6,333.8 1170.8,335.1 1171.0,334.1 1171.2,334.8 1171.4,334.6 1171.6,334.5 1171.8,332.9 1172.0,333.2 1172.2,334.5 1172.4,335.7 1172.6,334.0 1172.8,335.0 1173.0,334.6 1173.3,334.9 1173.5,335.4 1173.7,333.2 1173.9,334.7 1174.1,334.3 1174.3,334.2 1174.5,333.8 1174.7,333.8 1174.9,333.6 1175.1,333.5 1175.3,336.7 1175.5,335.9 1175.7,334.1 1175.9,334.0 1176.2,331.0 1176.4,327.8 1176.6,327.9 1176.8,330.4 1177.0,333.1 1177.2,333.3 1177.4,333.2 1177.6,334.2 1177.8,333.6 1178.0,333.3 1178.2,334.3 1178.4,334.1 1178.6,333.8 1178.8,333.7 1179.0,333.7 1179.3,334.7 1179.5,335.7 1179.7,334.3 1179.9,336.5 1180.1,333.1 1180.3,334.7 1180.5,333.5 1180.7,334.4 1180.9,334.6 1181.1,335.0 1181.3,335.5 1181.5,334.0 1181.7,333.4 1181.9,334.3 1182.2,334.8 1182.4,333.9 1182.6,335.3 1182.8,336.0 1183.0,333.3 1183.2,334.8 1183.4,335.4 1183.6,332.8 1183.8,334.7 1184.0,334.3 1184.2,333.3 1184.4,335.7 1184.6,334.7 1184.8,334.1 1185.1,334.9 1185.3,335.1 1185.5,335.2 1185.7,335.0 1185.9,334.9 1186.1,333.5 1186.3,334.1 1186.5,334.6 1186.7,332.1 1186.9,336.4 1187.1,334.2 1187.3,333.6 1187.5,332.9 1187.7,334.7 1187.9,334.5 1188.2,334.0 1188.4,334.1 1188.6,333.7 1188.8,333.8 1189.0,334.4 1189.2,333.9 1189.4,335.1 1189.6,334.4 1189.8,334.6 1190.0,334.9 1190.2,335.6 1190.4,335.0 1190.6,334.7 1190.8,334.4 1191.1,333.8 1191.3,334.2 1191.5,335.1 1191.7,334.7 1191.9,334.2 1192.1,333.3 1192.3,333.2 1192.5,334.8 1192.7,335.4 1192.9,334.8 1193.1,333.3 1193.3,334.3 1193.5,334.7 1193.7,333.7 1194.0,334.8 1194.2,334.3 1194.4,333.8 1194.6,333.4 1194.8,335.2 1195.0,334.8 1195.2,333.7 1195.4,333.6 1195.6,335.3 1195.8,335.0 1196.0,334.2 1196.2,335.9 1196.4,334.2 1196.6,333.6 1196.9,335.5 1197.1,334.3 1197.3,334.8 1197.5,334.5 1197.7,333.6 1197.9,333.5 1198.1,334.3 1198.3,335.7 1198.5,333.6 1198.7,335.7 1198.9,334.7 1199.1,333.5 1199.3,334.7 1199.5,335.0 1199.7,333.7 1200.0,332.6 1200.2,334.8 1200.4,333.5 1200.6,334.9 1200.8,332.8 1201.0,334.4 1201.2,333.8 1201.4,333.2 1201.6,334.3 1201.8,334.7 1202.0,334.0 1202.2,333.5 1202.4,334.7 1202.6,333.0 1202.9,335.0 1203.1,334.9 1203.3,336.0 1203.5,335.3 1203.7,334.8 1203.9,334.7 1204.1,334.5 1204.3,333.3 1204.5,335.8 1204.7,335.0 1204.9,334.2 1205.1,333.5 1205.3,335.8 1205.5,335.0 1205.8,333.5 1206.0,335.1 1206.2,336.2 1206.4,334.5 1206.6,334.8 1206.8,334.1 1207.0,334.0 1207.2,335.4 1207.4,337.2 1207.6,334.6 1207.8,334.4 1208.0,335.2 1208.2,334.2 1208.4,335.1 1208.6,335.2 1208.9,333.6 1209.1,333.6 1209.3,334.4 1209.5,335.2 1209.7,334.7 1209.9,335.6 1210.1,333.3 1210.3,334.9 1210.5,334.0 1210.7,334.6 1210.9,334.8 1211.1,333.7 1211.3,334.3 1211.5,333.5 1211.8,334.7 1212.0,333.8 1212.2,334.1 1212.4,334.7 1212.6,333.9 1212.8,335.5 1213.0,333.9 1213.2,335.2 1213.4,334.7 1213.6,333.6 1213.8,334.3 1214.0,333.8 1214.2,334.2 1214.4,334.3 1214.7,336.1 1214.9,334.1 1215.1,335.9 1215.3,334.9 1215.5,333.4 1215.7,332.5 1215.9,335.1 1216.1,332.8 1216.3,335.1 1216.5,335.4 1216.7,334.8 1216.9,334.3 1217.1,334.3 1217.3,334.7 1217.6,334.2 1217.8,334.0 1218.0,334.2 1218.2,335.5 1218.4,334.0 1218.6,334.8 1218.8,333.5 1219.0,333.9 1219.2,333.3 1219.4,334.3 1219.6,335.1 1219.8,334.8 1220.0,334.1 1220.2,335.0 1220.4,334.2 1220.7,334.8 1220.9,334.7 1221.1,335.0 1221.3,332.3 1221.5,333.4 1221.7,335.2 1221.9,334.4 1222.1,336.5 1222.3,334.3 1222.5,334.0 1222.7,335.8 1222.9,335.0 1223.1,336.2 1223.3,334.9 1223.6,334.3 1223.8,335.1 1224.0,333.8 1224.2,334.1 1224.4,334.0 1224.6,334.3 1224.8,335.2 1225.0,334.1 1225.2,334.8 1225.4,334.1 1225.6,335.3 1225.8,332.1 1226.0,334.3 1226.2,334.6 1226.5,333.6 1226.7,335.4 1226.9,334.7 1227.1,335.6 1227.3,335.3 1227.5,334.8 1227.7,333.7 1227.9,332.0 1228.1,331.8 1228.3,331.1 1228.5,332.2 1228.7,332.5 1228.9,336.4 1229.1,332.9 1229.3,335.5 1229.6,334.1 1229.8,334.3 1230.0,335.3 1230.2,334.5 1230.4,333.4 1230.6,334.9 1230.8,334.3 1231.0,332.7 1231.2,334.7 1231.4,333.6 1231.6,333.9 1231.8,334.9 1232.0,334.8 1232.2,334.2 1232.5,336.4 1232.7,334.9 1232.9,334.0 1233.1,334.7 1233.3,334.4 1233.5,332.6 1233.7,333.1 1233.9,333.3 1234.1,336.3 1234.3,334.3 1234.5,334.3 1234.7,334.0 1234.9,335.4 1235.1,334.5 1235.4,336.0 1235.6,335.2 1235.8,335.9 1236.0,334.4 1236.2,334.8 1236.4,334.1 1236.6,334.4 1236.8,333.0 1237.0,334.0 1237.2,333.7 1237.4,333.9 1237.6,335.6 1237.8,334.7 1238.0,335.6 1238.3,335.2 1238.5,335.3 1238.7,335.4 1238.9,334.0 1239.1,335.2 1239.3,334.2 1239.5,334.0 1239.7,335.5 1239.9,336.4 1240.1,333.7 1240.3,336.0 1240.5,335.2 1240.7,333.8 1240.9,334.7 1241.1,334.8 1241.4,334.8 1241.6,334.2 1241.8,333.4 1242.0,334.5 1242.2,335.2 1242.4,335.2 1242.6,335.1 1242.8,335.5 1243.0,333.6 1243.2,334.5 1243.4,334.8 1243.6,335.4 1243.8,334.6 1244.0,334.9 1244.3,334.6 1244.5,336.3 1244.7,332.6 1244.9,334.5 1245.1,336.6 1245.3,334.7 1245.5,332.9 1245.7,334.6 1245.9,333.3 1246.1,333.9 1246.3,334.7 1246.5,336.0 1246.7,334.9 1246.9,335.1 1247.2,335.4 1247.4,334.7 1247.6,333.8 1247.8,334.4 1248.0,334.8 1248.2,334.3 1248.4,333.9 1248.6,334.2 1248.8,333.2 1249.0,333.6 1249.2,334.4 1249.4,334.2 1249.6,334.5 1249.8,335.7 1250.1,334.8 1250.3,334.5 1250.5,333.5 1250.7,333.6 1250.9,334.8 1251.1,333.7 1251.3,334.9 1251.5,333.6 1251.7,334.6 1251.9,334.4 1252.1,335.4 1252.3,334.2 1252.5,334.2 1252.7,334.7 1252.9,334.5 1253.2,336.0 1253.4,334.3 1253.6,334.0 1253.8,334.2 1254.0,334.9 1254.2,334.7 1254.4,335.1 1254.6,333.3 1254.8,336.6 1255.0,336.1 1255.2,334.5 1255.4,333.5 1255.6,334.6 1255.8,334.9 1256.1,332.6 1256.3,334.5 1256.5,333.2 1256.7,334.9 1256.9,335.7 1257.1,335.4 1257.3,333.2 1257.5,335.7 1257.7,335.3 1257.9,334.2 1258.1,334.9 1258.3,335.8 1258.5,334.2 1258.7,334.5 1259.0,334.0 1259.2,335.5 1259.4,332.6 1259.6,335.7 1259.8,333.7 1260.0,335.3 1260.2,333.1 1260.4,333.7 1260.6,334.0 1260.8,335.2 1261.0,333.1 1261.2,335.0 1261.4,333.9 1261.6,335.6 1261.8,334.2 1262.1,334.9 1262.3,334.4 1262.5,336.1 1262.7,334.2 1262.9,334.5 1263.1,336.2 1263.3,334.6 1263.5,335.1 1263.7,333.9 1263.9,334.7 1264.1,332.5 1264.3,334.6 1264.5,333.9 1264.7,333.2 1265.0,333.3 1265.2,335.5 1265.4,334.9 1265.6,333.2 1265.8,336.1 1266.0,333.9 1266.2,334.2 1266.4,334.7 1266.6,333.5 1266.8,333.1 1267.0,333.9 1267.2,335.5 1267.4,335.3 1267.6,333.1 1267.9,335.5 1268.1,334.5 1268.3,334.9 1268.5,334.5 1268.7,334.9 1268.9,333.6 1269.1,333.7 1269.3,333.9 1269.5,334.2 1269.7,335.0 1269.9,333.4 1270.1,335.9 1270.3,334.0 1270.5,334.0 1270.8,335.1 1271.0,334.9 1271.2,334.2 1271.4,333.6 1271.6,333.6 1271.8,333.1 1272.0,335.5 1272.2,335.4 1272.4,336.1 1272.6,334.9 1272.8,334.8 1273.0,335.2 1273.2,335.3 1273.4,334.3 1273.6,334.8 1273.9,336.4 1274.1,333.0 1274.3,333.3 1274.5,333.7 1274.7,335.2 1274.9,335.5 1275.1,334.2 1275.3,335.1 1275.5,334.5 1275.7,334.8 1275.9,334.0 1276.1,334.2 1276.3,333.8 1276.5,333.9 1276.8,333.9 1277.0,329.9 1277.2,332.4 1277.4,332.9 1277.6,334.6 1277.8,335.2 1278.0,335.1 1278.2,335.2 1278.4,333.7 1278.6,333.0 1278.8,335.9 1279.0,335.5 1279.2,333.7 1279.4,335.6 1279.7,335.1 1279.9,332.4 1280.1,335.3 1280.3,333.6 1280.5,335.5 1280.7,333.9 1280.9,333.9 1281.1,333.2 1281.3,334.3 1281.5,335.4 1281.7,333.9 1281.9,332.9 1282.1,336.4 1282.3,336.1 1282.5,335.1 1282.8,334.0 1283.0,333.4 1283.2,333.1 1283.4,335.0 1283.6,335.6 1283.8,333.6 1284.0,334.5 1284.2,334.3 1284.4,334.3 1284.6,334.9 1284.8,336.3 1285.0,333.9 1285.2,335.2 1285.4,335.4 1285.7,334.3 1285.9,334.4 1286.1,333.3 1286.3,335.4 1286.5,334.0 1286.7,333.9 1286.9,334.6 1287.1,333.8 1287.3,333.6 1287.5,334.2 1287.7,335.8 1287.9,334.3 1288.1,335.0 1288.3,333.2 1288.6,332.8 1288.8,336.1 1289.0,334.2 1289.2,333.2 1289.4,334.4 1289.6,335.0 1289.8,333.0 1290.0,333.7 1290.2,334.7 1290.4,333.7 1290.6,335.2 1290.8,335.3 1291.0,334.9 1291.2,334.1 1291.5,334.5 1291.7,334.0 1291.9,334.4 1292.1,334.8 1292.3,334.2 1292.5,335.3 1292.7,336.8 1292.9,334.0 1293.1,334.8 1293.3,335.2 1293.5,335.1 1293.7,334.3 1293.9,334.1 1294.1,335.4 1294.3,335.0 1294.6,334.9 1294.8,333.8 1295.0,335.0 1295.2,335.2 1295.4,334.3 1295.6,335.1 1295.8,336.4 1296.0,332.9 1296.2,335.0 1296.4,333.5 1296.6,333.3 1296.8,334.3 1297.0,335.0 1297.2,334.5 1297.5,333.5 1297.7,333.2 1297.9,334.0 1298.1,334.5 1298.3,333.8 1298.5,333.2 1298.7,336.0 1298.9,333.8 1299.1,334.4 1299.3,334.0 1299.5,334.0 1299.7,334.5 1299.9,334.2 1300.1,335.0 1300.4,333.5 1300.6,333.2 1300.8,336.2 1301.0,334.4 1301.2,335.2 1301.4,335.5 1301.6,335.0 1301.8,334.5 1302.0,333.1 1302.2,333.1 1302.4,335.4 1302.6,335.1 1302.8,335.0 1303.0,333.1 1303.2,332.6 1303.5,333.6 1303.7,333.5 1303.9,334.6 1304.1,333.6 1304.3,335.9 1304.5,334.0 1304.7,334.0 1304.9,335.3 1305.1,334.8 1305.3,333.7 1305.5,335.2 1305.7,336.2 1305.9,333.4 1306.1,334.3 1306.4,333.6 1306.6,332.8 1306.8,335.0 1307.0,335.1 1307.2,335.4 1307.4,334.9 1307.6,332.7 1307.8,334.5 1308.0,333.9 1308.2,333.5 1308.4,333.5 1308.6,335.2 1308.8,334.2 1309.0,336.2 1309.3,334.9 1309.5,332.8 1309.7,335.3 1309.9,335.6 1310.1,334.5 1310.3,333.4 1310.5,336.0 1310.7,333.4 1310.9,334.4 1311.1,332.8 1311.3,333.4 1311.5,333.0 1311.7,335.5 1311.9,335.5 1312.2,334.1 1312.4,333.3 1312.6,334.4 1312.8,334.8 1313.0,333.2 1313.2,333.5 1313.4,334.4 1313.6,335.1 1313.8,334.6 1314.0,334.9 1314.2,333.4 1314.4,332.3 1314.6,334.8 1314.8,333.7 1315.0,334.4 1315.3,334.2 1315.5,334.9 1315.7,333.8 1315.9,335.8 1316.1,334.5 1316.3,335.0 1316.5,335.1 1316.7,335.4 1316.9,334.9 1317.1,333.0 1317.3,333.9 1317.5,336.1 1317.7,334.9 1317.9,335.0 1318.2,334.9 1318.4,333.9 1318.6,333.9 1318.8,333.9 1319.0,335.5 1319.2,334.8 1319.4,336.1 1319.6,334.9 1319.8,336.2 1320.0,334.9 1320.2,333.5 1320.4,336.0 1320.6,334.8 1320.8,335.5 1321.1,334.7 1321.3,334.2 1321.5,334.6 1321.7,333.5 1321.9,333.4 1322.1,333.7 1322.3,334.0 1322.5,333.3 1322.7,334.4 1322.9,334.8 1323.1,336.3 1323.3,336.1 1323.5,334.5 1323.7,335.3 1323.9,334.3 1324.2,334.8 1324.4,334.5 1324.6,334.0 1324.8,334.6 1325.0,333.2 1325.2,334.9 1325.4,334.2 1325.6,333.5 1325.8,334.2 1326.0,335.0 1326.2,333.9 1326.4,334.9 1326.6,335.0 1326.8,335.9 1327.1,333.5 1327.3,334.4 1327.5,335.0 1327.7,335.8 1327.9,334.7 1328.1,335.2 1328.3,333.2 1328.5,334.0 1328.7,336.0 1328.9,334.2 1329.1,336.4 1329.3,333.9 1329.5,334.3 1329.7,333.1 1330.0,335.1 1330.2,334.7 1330.4,336.3 1330.6,334.6 1330.8,334.3 1331.0,333.3 1331.2,334.4 1331.4,335.3 1331.6,335.2 1331.8,335.6 1332.0,335.3 1332.2,334.5 1332.4,335.0 1332.6,334.7 1332.9,333.3 1333.1,336.0 1333.3,334.8 1333.5,333.6 1333.7,334.8 1333.9,334.8 1334.1,335.4 1334.3,335.8 1334.5,331.8 1334.7,335.0 1334.9,335.9 1335.1,333.7 1335.3,332.8 1335.5,334.7 1335.7,334.8 1336.0,334.8 1336.2,333.5 1336.4,334.1 1336.6,334.7 1336.8,335.2 1337.0,336.5 1337.2,334.8 1337.4,334.0 1337.6,332.4 1337.8,335.5 1338.0,334.4 1338.2,334.4 1338.4,333.6 1338.6,335.2 1338.9,332.9 1339.1,334.6 1339.3,334.6 1339.5,334.8 1339.7,335.7 1339.9,334.4 1340.1,334.6 1340.3,335.3 1340.5,333.1 1340.7,334.2 1340.9,334.6 1341.1,335.4 1341.3,333.8 1341.5,335.2 1341.8,334.8 1342.0,333.2 1342.2,333.2 1342.4,333.2 1342.6,334.6 1342.8,334.7 1343.0,335.1" fill="none" stroke="#828282" stroke-width="3.2" stroke-linejoin="round"/><path d="M995.2,300.3 V313.7 M1045.1,300.3 V313.7 M1084.2,300.3 V313.7 M1118.0,300.3 V313.7 M1148.4,300.3 V313.7 M1176.5,300.3 V313.7 M1228.3,300.3 V313.7 M1252.6,300.3 V313.7 M1277.0,300.3 V313.7 M1300.2,300.3 V313.7 M1323.5,300.3 V313.7" stroke="#6aa515" stroke-width="1.8"/><path d="M929.2,20.7 H1343.2 V366.2 H929.2 Z" fill="none" stroke="#000" stroke-width="2.2"/><path d="M929.2,366.2 v4 M981.0,366.2 v8 M1032.7,366.2 v4 M1084.5,366.2 v8 M1136.2,366.2 v4 M1188.0,366.2 v8 M1239.7,366.2 v4 M1291.5,366.2 v8 M1343.2,366.2 v4" stroke="#000" stroke-width="2.2"/><text x="981.2" y="406.2" font-size="30" text-anchor="middle">20</text><text x="1084.8" y="406.2" font-size="30" text-anchor="middle">40</text><text x="1188.2" y="406.2" font-size="30" text-anchor="middle">60</text><text x="1291.8" y="406.2" font-size="30" text-anchor="middle">80</text><text x="1136" y="444.5" font-size="29.2" text-anchor="middle">2 theta (°)</text><text transform="translate(910.8,194.5) rotate(-90)" font-size="29" text-anchor="middle">Intensity (a.u.)</text><text x="934" y="51.5" font-size="22">STRO</text><circle cx="1177.6" cy="39.3" r="4.9" fill="none" stroke="#f23c3c" stroke-width="1.6"/><circle cx="1177.6" cy="39.3" r="1" fill="#f23c3c"/><path d="M1152.5,67.3 H1203.5" stroke="#3c3c3c" stroke-width="3.3" stroke-linecap="round"/><path d="M1152.5,95.5 H1203.5" stroke="#828282" stroke-width="3.3" stroke-linecap="round"/><path d="M1177.9,116.7 V130.8" stroke="#6aa515" stroke-width="1.8"/><text x="1214.5" y="47.5" font-size="22">Observed</text><text x="1214.5" y="75.3" font-size="22">Calcualted</text><text x="1214.5" y="102.5" font-size="22">Difference</text><text x="1214.5" y="131.5" font-size="22">Pm-3m</text><text x="897" y="31.4" font-size="42" font-weight="bold" text-anchor="middle">c</text><defs><clipPath id="cpd"><rect x="38.2" y="490.7" width="900.0" height="379.3"/></clipPath><filter id="fdot" x="-5%" y="-5%" width="110%" height="110%"><feGaussianBlur stdDeviation="2.1"/></filter><filter id="fgrid" x="-5%" y="-5%" width="110%" height="110%"><feGaussianBlur stdDeviation="1.2"/></filter><filter id="fbig" x="-20%" y="-20%" width="140%" height="140%"><feGaussianBlur stdDeviation="40"/></filter><filter id="fnoiseW" x="0" y="0" width="100%" height="100%"><feTurbulence type="fractalNoise" baseFrequency="0.55" numOctaves="2" seed="4"/><feColorMatrix type="matrix" values="0 0 0 0 1  0 0 0 0 1  0 0 0 0 1  3 0 0 0 -1.5"/><feGaussianBlur stdDeviation=".5"/></filter><filter id="fnoiseB" x="0" y="0" width="100%" height="100%"><feTurbulence type="fractalNoise" baseFrequency="0.28" numOctaves="2" seed="8"/><feColorMatrix type="matrix" values="0 0 0 0 0  0 0 0 0 0  0 0 0 0 0  3 0 0 0 -1.5"/><feGaussianBlur stdDeviation=".5"/></filter></defs><g clip-path="url(#cpd)"><rect x="38.2" y="490.7" width="900.0" height="379.3" fill="#525252"/><g filter="url(#fbig)"><ellipse cx="300" cy="500" rx="300" ry="45" fill="#444" opacity=".55"/><ellipse cx="890" cy="600" rx="55" ry="110" fill="#707070" opacity=".5"/><ellipse cx="340" cy="680" rx="45" ry="100" fill="#3a3a3a" opacity=".6"/><ellipse cx="805" cy="680" rx="40" ry="110" fill="#444" opacity=".4"/><ellipse cx="90" cy="720" rx="90" ry="150" fill="#606060" opacity=".5"/></g><path d="M50.0 490.7V870.0M63.5 490.7V870.0M77.1 490.7V870.0M90.6 490.7V870.0M104.2 490.7V870.0M117.7 490.7V870.0M131.3 490.7V870.0M144.8 490.7V870.0M158.4 490.7V870.0M171.9 490.7V870.0M185.4 490.7V870.0M199.0 490.7V870.0M212.5 490.7V870.0M226.1 490.7V870.0M239.6 490.7V870.0M253.2 490.7V870.0M266.7 490.7V870.0M280.3 490.7V870.0M293.8 490.7V870.0M307.4 490.7V870.0M320.9 490.7V870.0M334.4 490.7V870.0M348.0 490.7V870.0M361.5 490.7V870.0M375.1 490.7V870.0M388.6 490.7V870.0M402.2 490.7V870.0M415.7 490.7V870.0M429.3 490.7V870.0M442.8 490.7V870.0M456.4 490.7V870.0M469.9 490.7V870.0M483.4 490.7V870.0M497.0 490.7V870.0M510.5 490.7V870.0M524.1 490.7V870.0M537.6 490.7V870.0M551.2 490.7V870.0M564.7 490.7V870.0M578.3 490.7V870.0M591.8 490.7V870.0M605.3 490.7V870.0M618.9 490.7V870.0M632.4 490.7V870.0M646.0 490.7V870.0M659.5 490.7V870.0M673.1 490.7V870.0M686.6 490.7V870.0M700.2 490.7V870.0M713.7 490.7V870.0M727.2 490.7V870.0M740.8 490.7V870.0M754.3 490.7V870.0M767.9 490.7V870.0M781.4 490.7V870.0M795.0 490.7V870.0M808.5 490.7V870.0M822.1 490.7V870.0M835.6 490.7V870.0M849.2 490.7V870.0M862.7 490.7V870.0M876.2 490.7V870.0M889.8 490.7V870.0M903.3 490.7V870.0M916.9 490.7V870.0M930.4 490.7V870.0M944.0 490.7V870.0" stroke="#fff" stroke-opacity=".07" stroke-width="3" filter="url(#fgrid)"/><g filter="url(#fdot)" stroke="#fff" stroke-linecap="round" fill="none"><path d="M829 878h0M842 878h0M856 878h0M869 878h0M883 878h0M897 878h0M910 878h0M924 877h0M937 877h0M951 877h0M57 868h0M70 868h0M84 868h0M97 868h0M124 868h0M152 868h0M165 868h0M179 868h0M192 868h0M206 867h0M219 867h0M233 867h0M246 867h0M260 867h0M287 867h0M301 867h0M314 867h0M328 867h0M341 867h0M355 867h0M368 867h0M382 866h0M395 866h0M409 866h0M422 866h0M436 866h0M450 866h0M463 866h0M477 866h0M504 866h0M517 866h0M531 866h0M558 865h0M571 865h0M585 865h0M599 865h0M612 865h0M626 865h0M639 865h0M653 865h0M666 865h0M680 865h0M693 865h0M707 865h0M720 864h0M734 864h0M748 864h0M761 864h0M815 864h0M829 864h0M842 864h0M869 864h0M883 864h0M897 863h0M910 863h0M924 863h0M937 863h0M951 863h0M57 854h0M84 854h0M97 854h0M111 854h0M138 854h0M152 854h0M179 853h0M192 853h0M206 853h0M219 853h0M233 853h0M246 853h0M260 853h0M287 853h0M301 853h0M314 853h0M328 853h0M341 853h0M355 852h0M368 852h0M382 852h0M395 852h0M409 852h0M422 852h0M436 852h0M450 852h0M463 852h0M477 852h0M490 852h0M517 852h0M531 851h0M544 851h0M558 851h0M571 851h0M585 851h0M599 851h0M612 851h0M639 851h0M653 851h0M666 851h0M680 851h0M693 851h0M707 850h0M720 850h0M734 850h0M748 850h0M761 850h0M775 850h0M788 850h0M802 850h0M815 850h0M829 850h0M842 850h0M856 850h0M897 849h0M924 849h0M937 849h0M951 849h0M57 840h0M70 840h0M84 840h0M97 840h0M111 840h0M124 840h0M138 840h0M152 840h0M165 839h0M179 839h0M192 839h0M206 839h0M219 839h0M233 839h0M246 839h0M260 839h0M273 839h0M287 839h0M301 839h0M314 839h0M328 838h0M355 838h0M368 838h0M382 838h0M395 838h0M409 838h0M422 838h0M436 838h0M450 838h0M463 838h0M477 838h0M490 838h0M504 837h0M517 837h0M531 837h0M544 837h0M558 837h0M571 837h0M585 837h0M599 837h0M612 837h0M626 837h0M639 837h0M653 837h0M666 837h0M693 836h0M707 836h0M720 836h0M734 836h0M748 836h0M761 836h0M775 836h0M788 836h0M802 836h0M829 836h0M842 836h0M856 835h0M869 835h0M883 835h0M897 835h0M937 835h0M951 835h0M70 826h0M84 826h0M97 826h0M111 826h0M124 826h0M138 825h0M152 825h0M165 825h0M179 825h0M206 825h0M219 825h0M233 825h0M260 825h0M273 825h0M287 825h0M301 825h0M328 824h0M355 824h0M368 824h0M382 824h0M395 824h0M409 824h0M422 824h0M436 824h0M463 824h0M477 824h0M504 823h0M531 823h0M544 823h0M558 823h0M571 823h0M585 823h0M599 823h0M612 823h0M626 823h0M639 823h0M653 822h0M666 822h0M680 822h0M693 822h0M707 822h0M720 822h0M734 822h0M748 822h0M761 822h0M775 822h0M788 822h0M802 822h0M815 822h0M829 821h0M842 821h0M856 821h0M883 821h0M897 821h0M910 821h0M924 821h0M937 821h0M57 812h0M70 812h0M84 812h0M97 812h0M111 811h0M124 811h0M138 811h0M152 811h0M165 811h0M179 811h0M192 811h0M206 811h0M219 811h0M233 811h0M246 811h0M273 811h0M287 810h0M341 810h0M355 810h0M368 810h0M382 810h0M395 810h0M409 810h0M422 810h0M436 810h0M450 810h0M463 809h0M477 809h0M490 809h0M504 809h0M517 809h0M531 809h0M544 809h0M558 809h0M571 809h0M612 809h0M639 808h0M653 808h0M666 808h0M680 808h0M693 808h0M707 808h0M720 808h0M734 808h0M748 808h0M775 808h0M788 808h0M802 807h0M815 807h0M829 807h0M842 807h0M869 807h0M883 807h0M897 807h0M910 807h0M924 807h0M937 807h0M951 807h0M57 798h0M70 798h0M84 798h0M97 797h0M111 797h0M124 797h0M138 797h0M152 797h0M165 797h0M179 797h0M192 797h0M206 797h0M219 797h0M233 797h0M260 796h0M273 796h0M287 796h0M301 796h0M328 796h0M355 796h0M368 796h0M382 796h0M395 796h0M409 796h0M422 796h0M436 795h0M463 795h0M477 795h0M490 795h0M504 795h0M517 795h0M531 795h0M544 795h0M558 795h0M571 795h0M585 795h0M599 795h0M612 794h0M626 794h0M639 794h0M653 794h0M666 794h0M693 794h0M707 794h0M720 794h0M734 794h0M748 794h0M761 794h0M775 794h0M788 793h0M802 793h0M815 793h0M829 793h0M842 793h0M856 793h0M869 793h0M883 793h0M897 793h0M910 793h0M924 793h0M937 793h0M951 792h0M57 784h0M84 783h0M97 783h0M111 783h0M124 783h0M138 783h0M165 783h0M179 783h0M206 783h0M219 783h0M233 783h0M246 782h0M260 782h0M273 782h0M301 782h0M314 782h0M328 782h0M341 782h0M368 782h0M382 782h0M422 781h0M436 781h0M450 781h0M463 781h0M477 781h0M490 781h0M504 781h0M517 781h0M544 781h0M558 781h0M571 781h0M585 780h0M599 780h0M612 780h0M626 780h0M639 780h0M666 780h0M680 780h0M707 780h0M734 780h0M748 780h0M761 779h0M775 779h0M788 779h0M802 779h0M815 779h0M829 779h0M842 779h0M856 779h0M869 779h0M883 779h0M897 779h0M924 779h0M937 778h0M57 769h0M70 769h0M84 769h0M97 769h0M124 769h0M138 769h0M152 769h0M165 769h0M179 769h0M192 769h0M206 769h0M219 768h0M233 768h0M246 768h0M260 768h0M273 768h0M287 768h0M301 768h0M314 768h0M328 768h0M341 768h0M355 768h0M368 768h0M382 768h0M395 767h0M409 767h0M422 767h0M436 767h0M463 767h0M477 767h0M490 767h0M504 767h0M517 767h0M531 767h0M544 767h0M558 767h0M571 766h0M585 766h0M599 766h0M626 766h0M639 766h0M653 766h0M680 766h0M693 766h0M707 766h0M720 766h0M734 765h0M748 765h0M775 765h0M788 765h0M802 765h0M829 765h0M842 765h0M856 765h0M869 765h0M883 765h0M897 765h0M910 764h0M951 764h0M57 755h0M70 755h0M84 755h0M97 755h0M111 755h0M138 755h0M152 755h0M179 755h0M192 755h0M206 754h0M233 754h0M246 754h0M260 754h0M273 754h0M287 754h0M301 754h0M314 754h0M328 754h0M341 754h0M382 753h0M395 753h0M409 753h0M422 753h0M436 753h0M450 753h0M463 753h0M477 753h0M490 753h0M504 753h0M517 753h0M531 753h0M544 752h0M558 752h0M571 752h0M585 752h0M599 752h0M626 752h0M639 752h0M666 752h0M680 752h0M707 752h0M720 751h0M734 751h0M748 751h0M761 751h0M775 751h0M788 751h0M802 751h0M815 751h0M829 751h0M856 751h0M883 750h0M897 750h0M910 750h0M951 750h0M57 741h0M84 741h0M97 741h0M111 741h0M124 741h0M138 741h0M152 741h0M165 741h0M179 740h0M206 740h0M233 740h0M246 740h0M260 740h0M273 740h0M287 740h0M301 740h0M314 740h0M341 740h0M355 739h0M368 739h0M382 739h0M409 739h0M422 739h0M450 739h0M477 739h0M490 739h0M504 739h0M517 738h0M531 738h0M558 738h0M571 738h0M585 738h0M599 738h0M626 738h0M639 738h0M666 738h0M680 738h0M693 737h0M707 737h0M720 737h0M734 737h0M748 737h0M761 737h0M775 737h0M788 737h0M802 737h0M815 737h0M829 737h0M842 737h0M856 737h0M883 736h0M897 736h0M910 736h0M57 727h0M97 727h0M138 727h0M152 726h0M165 726h0M179 726h0M192 726h0M219 726h0M233 726h0M260 726h0M273 726h0M287 726h0M301 726h0M314 726h0M355 725h0M368 725h0M382 725h0M395 725h0M409 725h0M422 725h0M436 725h0M450 725h0M463 725h0M477 725h0M504 724h0M517 724h0M531 724h0M585 724h0M599 724h0M612 724h0M626 724h0M639 724h0M653 724h0M666 723h0M680 723h0M693 723h0M707 723h0M720 723h0M734 723h0M748 723h0M761 723h0M775 723h0M788 723h0M802 723h0M815 723h0M829 723h0M842 722h0M856 722h0M869 722h0M883 722h0M57 713h0M84 713h0M97 713h0M111 713h0M124 713h0M138 712h0M152 712h0M165 712h0M179 712h0M192 712h0M206 712h0M219 712h0M233 712h0M246 712h0M273 712h0M287 712h0M301 711h0M314 711h0M341 711h0M355 711h0M382 711h0M395 711h0M409 711h0M422 711h0M450 711h0M463 711h0M477 710h0M490 710h0M504 710h0M517 710h0M531 710h0M544 710h0M558 710h0M571 710h0M599 710h0M612 710h0M626 710h0M639 710h0M666 709h0M680 709h0M693 709h0M707 709h0M734 709h0M748 709h0M761 709h0M775 709h0M788 709h0M815 708h0M829 708h0M842 708h0M951 708h0M57 699h0M70 699h0M97 699h0M111 698h0M124 698h0M138 698h0M152 698h0M179 698h0M192 698h0M233 698h0M246 698h0M260 698h0M273 698h0M287 697h0M301 697h0M341 697h0M355 697h0M368 697h0M382 697h0M395 697h0M409 697h0M436 697h0M450 696h0M463 696h0M490 696h0M504 696h0M517 696h0M544 696h0M558 696h0M571 696h0M585 696h0M599 696h0M626 695h0M639 695h0M653 695h0M666 695h0M693 695h0M734 695h0M748 695h0M761 695h0M775 695h0M788 695h0M829 694h0M842 694h0M57 685h0M70 685h0M97 684h0M111 684h0M124 684h0M152 684h0M165 684h0M192 684h0M219 684h0M233 684h0M246 684h0M260 683h0M287 683h0M328 683h0M341 683h0M355 683h0M368 683h0M395 683h0M409 683h0M422 683h0M436 682h0M450 682h0M504 682h0M517 682h0M531 682h0M544 682h0M558 682h0M585 682h0M612 681h0M626 681h0M680 681h0M707 681h0M734 681h0M761 681h0M775 680h0M788 680h0M802 680h0M815 680h0M951 679h0M70 670h0M84 670h0M97 670h0M111 670h0M124 670h0M138 670h0M152 670h0M179 670h0M192 670h0M219 670h0M233 669h0M260 669h0M273 669h0M287 669h0M328 669h0M341 669h0M355 669h0M382 669h0M409 668h0M436 668h0M463 668h0M477 668h0M517 668h0M531 668h0M544 668h0M585 667h0M612 667h0M626 667h0M639 667h0M666 667h0M693 667h0M707 667h0M720 667h0M734 667h0M748 666h0M761 666h0M775 666h0M57 656h0M84 656h0M165 656h0M179 656h0M192 656h0M206 656h0M219 655h0M233 655h0M301 655h0M504 654h0M571 653h0M585 653h0M612 653h0M639 653h0M693 653h0M720 653h0M734 652h0M748 652h0M761 652h0M775 652h0M788 652h0M802 652h0M70 642h0M97 642h0M111 642h0M152 642h0M179 642h0M192 641h0M314 641h0M355 641h0M368 640h0M382 640h0M395 640h0M450 640h0M531 639h0M612 639h0M639 639h0M707 638h0M748 638h0M761 638h0M70 628h0M111 628h0M260 627h0M585 625h0M693 624h0M761 624h0" stroke-width="4.5" stroke-opacity="0.06"/><path d="M111 868h0M138 868h0M273 867h0M490 866h0M544 865h0M775 864h0M788 864h0M802 864h0M856 864h0M70 854h0M124 854h0M165 854h0M273 853h0M504 852h0M626 851h0M869 849h0M883 849h0M910 849h0M341 838h0M680 836h0M815 836h0M910 835h0M924 835h0M57 826h0M192 825h0M246 825h0M314 824h0M341 824h0M450 824h0M490 823h0M517 823h0M869 821h0M951 821h0M260 811h0M301 810h0M314 810h0M328 810h0M585 809h0M599 809h0M626 809h0M761 808h0M856 807h0M246 797h0M314 796h0M341 796h0M450 795h0M680 794h0M70 783h0M152 783h0M192 783h0M287 782h0M355 782h0M395 782h0M409 782h0M531 781h0M653 780h0M693 780h0M720 780h0M910 779h0M951 778h0M111 769h0M450 767h0M612 766h0M666 766h0M761 765h0M815 765h0M924 764h0M937 764h0M124 755h0M165 755h0M219 754h0M355 754h0M368 753h0M612 752h0M653 752h0M693 752h0M842 751h0M869 751h0M924 750h0M937 750h0M70 741h0M192 740h0M219 740h0M328 740h0M395 739h0M436 739h0M463 739h0M544 738h0M612 738h0M653 738h0M869 736h0M924 736h0M937 736h0M951 736h0M70 727h0M84 727h0M111 727h0M124 727h0M206 726h0M246 726h0M328 725h0M341 725h0M490 725h0M544 724h0M558 724h0M571 724h0M897 722h0M910 722h0M924 722h0M937 722h0M951 722h0M70 713h0M260 712h0M328 711h0M368 711h0M436 711h0M585 710h0M653 709h0M720 709h0M802 709h0M856 708h0M869 708h0M883 708h0M897 708h0M910 708h0M924 708h0M937 708h0M84 699h0M165 698h0M206 698h0M219 698h0M314 697h0M328 697h0M422 697h0M477 696h0M531 696h0M612 696h0M680 695h0M707 695h0M720 695h0M802 694h0M815 694h0M856 694h0M869 694h0M883 694h0M910 694h0M924 694h0M937 694h0M951 694h0M84 684h0M138 684h0M179 684h0M206 684h0M273 683h0M301 683h0M314 683h0M382 683h0M463 682h0M477 682h0M490 682h0M571 682h0M599 681h0M639 681h0M653 681h0M666 681h0M693 681h0M720 681h0M748 681h0M829 680h0M842 680h0M856 680h0M869 680h0M924 680h0M937 680h0M57 671h0M165 670h0M206 670h0M246 669h0M301 669h0M314 669h0M368 669h0M395 669h0M422 668h0M450 668h0M490 668h0M504 668h0M558 668h0M571 668h0M599 667h0M653 667h0M680 667h0M788 666h0M802 666h0M815 666h0M829 666h0M842 666h0M856 666h0M869 666h0M937 665h0M951 665h0M70 656h0M97 656h0M111 656h0M124 656h0M138 656h0M152 656h0M246 655h0M260 655h0M273 655h0M287 655h0M314 655h0M328 655h0M341 655h0M355 655h0M368 655h0M382 654h0M395 654h0M409 654h0M422 654h0M436 654h0M450 654h0M463 654h0M477 654h0M490 654h0M517 654h0M531 654h0M544 654h0M558 653h0M599 653h0M626 653h0M653 653h0M666 653h0M680 653h0M707 653h0M815 652h0M829 652h0M842 652h0M910 651h0M937 651h0M951 651h0M57 642h0M84 642h0M124 642h0M138 642h0M165 642h0M206 641h0M219 641h0M233 641h0M246 641h0M260 641h0M273 641h0M287 641h0M301 641h0M328 641h0M341 641h0M409 640h0M422 640h0M436 640h0M463 640h0M477 640h0M504 640h0M517 640h0M544 639h0M558 639h0M571 639h0M585 639h0M599 639h0M626 639h0M653 639h0M666 639h0M680 639h0M693 639h0M720 638h0M734 638h0M775 638h0M788 638h0M802 638h0M815 638h0M829 638h0M951 637h0M57 628h0M84 628h0M124 628h0M138 628h0M152 628h0M165 627h0M192 627h0M206 627h0M219 627h0M233 627h0M246 627h0M273 627h0M287 627h0M301 627h0M314 627h0M328 627h0M341 626h0M355 626h0M368 626h0M382 626h0M409 626h0M422 626h0M436 626h0M450 626h0M463 626h0M477 626h0M490 626h0M504 626h0M517 625h0M531 625h0M544 625h0M558 625h0M571 625h0M599 625h0M612 625h0M626 625h0M639 625h0M653 625h0M666 625h0M680 625h0M707 624h0M720 624h0M734 624h0M748 624h0M788 624h0M802 624h0M815 624h0M829 624h0M57 614h0M70 614h0M84 614h0M97 614h0M111 614h0M124 614h0M138 614h0M152 613h0M165 613h0M179 613h0M206 613h0M233 613h0M246 613h0M260 613h0M273 613h0M287 613h0M301 613h0M314 612h0M328 612h0M341 612h0M355 612h0M368 612h0M382 612h0M409 612h0M422 612h0M436 612h0M450 612h0M463 612h0M477 612h0M490 611h0M504 611h0M531 611h0M544 611h0M558 611h0M571 611h0M585 611h0M599 611h0M612 611h0M626 611h0M639 611h0M653 611h0M666 610h0M693 610h0M707 610h0M734 610h0M748 610h0M761 610h0M775 610h0M788 610h0M57 600h0M70 600h0M97 600h0M111 600h0M124 599h0M138 599h0M165 599h0M179 599h0M192 599h0M206 599h0M219 599h0M246 599h0M273 599h0M287 599h0M301 598h0M341 598h0M355 598h0M368 598h0M382 598h0M395 598h0M409 598h0M422 598h0M436 598h0M450 598h0M463 597h0M477 597h0M490 597h0M504 597h0M517 597h0M531 597h0M544 597h0M558 597h0M585 597h0M612 597h0M626 597h0M639 596h0M653 596h0M680 596h0M693 596h0M707 596h0M720 596h0M734 596h0M748 596h0M761 596h0M775 596h0M802 596h0M57 586h0M70 586h0M84 586h0M97 585h0M152 585h0M179 585h0M233 585h0M246 585h0M273 584h0M287 584h0M314 584h0M328 584h0M355 584h0M409 584h0M436 584h0M450 583h0M463 583h0M477 583h0M504 583h0M531 583h0M558 583h0M639 582h0M653 582h0M680 582h0M693 582h0M748 582h0M775 582h0M124 571h0M165 571h0M341 570h0M626 568h0M680 568h0M693 568h0M748 568h0M761 568h0M84 557h0M192 557h0M775 553h0M788 497h0" stroke-width="4.5" stroke-opacity="0.13"/><path d="M897 694h0M883 680h0M897 680h0M910 680h0M883 666h0M897 666h0M910 666h0M924 665h0M856 652h0M869 652h0M883 652h0M897 652h0M924 651h0M490 640h0M842 638h0M856 638h0M869 638h0M883 637h0M897 637h0M910 637h0M924 637h0M937 637h0M97 628h0M179 627h0M395 626h0M775 624h0M842 624h0M856 623h0M869 623h0M883 623h0M897 623h0M910 623h0M924 623h0M937 623h0M951 623h0M192 613h0M219 613h0M395 612h0M517 611h0M680 610h0M720 610h0M802 610h0M815 610h0M829 610h0M842 609h0M856 609h0M869 609h0M883 609h0M897 609h0M910 609h0M924 609h0M937 609h0M951 609h0M84 600h0M152 599h0M233 599h0M260 599h0M314 598h0M328 598h0M571 597h0M599 597h0M666 596h0M788 596h0M815 595h0M829 595h0M842 595h0M856 595h0M869 595h0M883 595h0M897 595h0M910 595h0M924 595h0M937 595h0M951 595h0M111 585h0M124 585h0M138 585h0M165 585h0M192 585h0M206 585h0M219 585h0M260 585h0M301 584h0M341 584h0M368 584h0M382 584h0M395 584h0M422 584h0M490 583h0M517 583h0M544 583h0M571 583h0M585 583h0M599 583h0M612 583h0M626 582h0M666 582h0M707 582h0M720 582h0M734 582h0M761 582h0M788 581h0M802 581h0M815 581h0M829 581h0M842 581h0M856 581h0M869 581h0M883 581h0M897 581h0M910 581h0M924 581h0M937 581h0M951 581h0M57 572h0M70 572h0M84 571h0M97 571h0M111 571h0M138 571h0M152 571h0M179 571h0M192 571h0M206 571h0M219 571h0M233 571h0M246 570h0M260 570h0M273 570h0M287 570h0M301 570h0M314 570h0M328 570h0M355 570h0M368 570h0M382 570h0M395 570h0M409 570h0M422 569h0M436 569h0M450 569h0M463 569h0M477 569h0M490 569h0M504 569h0M517 569h0M531 569h0M544 569h0M558 569h0M571 569h0M585 569h0M599 568h0M612 568h0M639 568h0M653 568h0M666 568h0M707 568h0M720 568h0M734 568h0M775 567h0M788 567h0M802 567h0M815 567h0M829 567h0M842 567h0M856 567h0M869 567h0M883 567h0M897 567h0M910 567h0M924 567h0M937 566h0M951 566h0M57 557h0M70 557h0M97 557h0M111 557h0M124 557h0M138 557h0M152 557h0M165 557h0M179 557h0M206 557h0M219 557h0M233 556h0M246 556h0M260 556h0M273 556h0M287 556h0M301 556h0M314 556h0M328 556h0M341 556h0M355 556h0M368 556h0M382 556h0M395 556h0M409 555h0M422 555h0M436 555h0M450 555h0M463 555h0M477 555h0M490 555h0M504 555h0M517 555h0M531 555h0M544 555h0M558 555h0M571 554h0M585 554h0M599 554h0M612 554h0M626 554h0M639 554h0M653 554h0M666 554h0M680 554h0M693 554h0M707 554h0M720 554h0M734 554h0M748 553h0M761 553h0M788 553h0M802 553h0M815 553h0M829 553h0M842 553h0M856 553h0M869 553h0M883 553h0M897 553h0M910 553h0M924 552h0M937 552h0M951 552h0M57 543h0M70 543h0M84 543h0M97 543h0M111 543h0M124 543h0M138 543h0M152 543h0M165 543h0M179 543h0M192 543h0M206 542h0M219 542h0M233 542h0M246 542h0M260 542h0M273 542h0M287 542h0M301 542h0M314 542h0M328 542h0M341 542h0M355 542h0M368 542h0M382 541h0M395 541h0M409 541h0M422 541h0M436 541h0M450 541h0M463 541h0M477 541h0M490 541h0M504 541h0M517 541h0M531 541h0M544 541h0M558 540h0M571 540h0M585 540h0M599 540h0M612 540h0M626 540h0M639 540h0M653 540h0M666 540h0M680 540h0M693 540h0M707 540h0M720 539h0M734 539h0M748 539h0M761 539h0M775 539h0M788 539h0M802 539h0M815 539h0M829 539h0M842 539h0M856 539h0M869 539h0M883 539h0M897 538h0M910 538h0M924 538h0M937 538h0M951 538h0M57 529h0M70 529h0M84 529h0M97 529h0M111 529h0M124 529h0M138 529h0M152 529h0M165 529h0M179 528h0M192 528h0M206 528h0M219 528h0M233 528h0M246 528h0M260 528h0M273 528h0M287 528h0M301 528h0M314 528h0M328 528h0M341 528h0M355 527h0M368 527h0M382 527h0M395 527h0M409 527h0M422 527h0M436 527h0M450 527h0M463 527h0M477 527h0M490 527h0M504 527h0M517 527h0M531 526h0M544 526h0M558 526h0M571 526h0M585 526h0M599 526h0M612 526h0M626 526h0M639 526h0M653 526h0M666 526h0M680 526h0M693 526h0M707 525h0M720 525h0M734 525h0M748 525h0M761 525h0M775 525h0M788 525h0M802 525h0M815 525h0M829 525h0M842 525h0M856 525h0M869 524h0M883 524h0M897 524h0M910 524h0M924 524h0M937 524h0M951 524h0M57 515h0M70 515h0M84 515h0M97 515h0M111 515h0M124 515h0M138 515h0M152 515h0M165 514h0M179 514h0M192 514h0M206 514h0M219 514h0M233 514h0M246 514h0M260 514h0M273 514h0M287 514h0M301 514h0M314 514h0M328 514h0M341 513h0M355 513h0M368 513h0M382 513h0M395 513h0M409 513h0M422 513h0M436 513h0M450 513h0M463 513h0M477 513h0M490 513h0M504 512h0M517 512h0M531 512h0M544 512h0M558 512h0M571 512h0M585 512h0M599 512h0M612 512h0M626 512h0M639 512h0M653 512h0M666 512h0M680 511h0M693 511h0M707 511h0M720 511h0M734 511h0M748 511h0M761 511h0M775 511h0M788 511h0M802 511h0M815 511h0M829 511h0M842 511h0M856 510h0M869 510h0M883 510h0M897 510h0M910 510h0M924 510h0M937 510h0M951 510h0M57 501h0M70 501h0M84 501h0M97 501h0M111 501h0M124 501h0M138 500h0M152 500h0M165 500h0M179 500h0M192 500h0M206 500h0M219 500h0M233 500h0M246 500h0M260 500h0M273 500h0M287 500h0M301 500h0M314 499h0M328 499h0M341 499h0M355 499h0M368 499h0M382 499h0M395 499h0M409 499h0M422 499h0M436 499h0M450 499h0M463 499h0M477 499h0M490 498h0M504 498h0M517 498h0M531 498h0M544 498h0M558 498h0M571 498h0M585 498h0M599 498h0M612 498h0M626 498h0M639 498h0M653 497h0M666 497h0M680 497h0M693 497h0M707 497h0M720 497h0M734 497h0M748 497h0M761 497h0M775 497h0M802 497h0M815 497h0M829 496h0M842 496h0M856 496h0M869 496h0M883 496h0M897 496h0M910 496h0M924 496h0M937 496h0M951 496h0M57 487h0M70 487h0M84 487h0M97 487h0M111 487h0M124 486h0M138 486h0M152 486h0M165 486h0M179 486h0M192 486h0M206 486h0M219 486h0M233 486h0M246 486h0M260 486h0M273 486h0M287 485h0M301 485h0M314 485h0M328 485h0M341 485h0M355 485h0M368 485h0M382 485h0M395 485h0M409 485h0M422 485h0M436 485h0M450 485h0M463 484h0M477 484h0M490 484h0M504 484h0M517 484h0M531 484h0M544 484h0M558 484h0M571 484h0M585 484h0M599 484h0M612 484h0M626 484h0M639 483h0M653 483h0M666 483h0M680 483h0M693 483h0M707 483h0M720 483h0M734 483h0M748 483h0M761 483h0" stroke-width="4.5" stroke-opacity="0.20"/><path d="M402.3 605.0h0M252.7 535.3h0M145.0 522.2h0M293.7 521.3h0M470.5 519.9h0M77.5 507.9h0M145.0 507.7h0M198.9 506.8h0M253.1 506.3h0M375.5 506.4h0M429.3 506.5h0M469.8 505.9h0M510.9 505.9h0M808.9 503.7h0M145.1 493.7h0M158.8 493.2h0M252.8 493.4h0" stroke-width="7.2" stroke-opacity="0.10"/><path d="M279.7 761.7h0M754.1 758.6h0M821.5 758.5h0M848.8 743.5h0M347.6 717.7h0M605.0 716.3h0M320.5 704.3h0M348.4 704.2h0M767.8 701.9h0M835.2 701.9h0M334.3 690.5h0M361.0 675.3h0M307.3 661.7h0M320.7 662.5h0M374.7 661.5h0M375.1 633.6h0M401.9 619.5h0M632.0 617.7h0M307.5 605.1h0M632.6 603.7h0M375.8 590.7h0M389.3 590.8h0M497.4 589.7h0M334.5 576.7h0M347.9 576.9h0M361.0 576.5h0M388.5 577.3h0M537.8 575.3h0M348.3 562.6h0M388.2 563.0h0M401.6 562.3h0M416.0 561.9h0M470.2 561.4h0M564.7 561.5h0M591.5 562.0h0M157.9 549.2h0M307.5 548.7h0M348.2 548.1h0M375.0 549.2h0M415.1 548.6h0M429.8 548.7h0M456.5 548.3h0M469.5 547.4h0M578.0 547.7h0M76.6 536.2h0M91.3 535.9h0M103.5 536.5h0M131.9 535.2h0M239.8 535.8h0M266.9 535.2h0M374.8 534.4h0M388.7 534.6h0M416.0 534.0h0M456.0 533.8h0M483.1 533.6h0M578.0 533.1h0M50.1 522.0h0M63.9 522.7h0M90.0 522.5h0M104.6 522.2h0M118.2 521.2h0M172.3 522.2h0M212.4 521.2h0M253.4 520.9h0M280.3 520.9h0M333.9 520.6h0M361.7 519.8h0M374.8 520.4h0M388.0 520.3h0M402.7 519.8h0M456.8 519.5h0M550.7 519.1h0M835.7 518.2h0M50.4 508.4h0M90.9 508.3h0M118.2 507.2h0M186.0 507.2h0M226.6 506.4h0M239.4 507.1h0M279.8 506.3h0M293.1 506.5h0M307.2 507.0h0M334.8 506.6h0M402.0 506.5h0M455.9 505.8h0M497.6 505.4h0M63.8 493.4h0M91.2 493.3h0M103.7 493.8h0M117.9 493.6h0M171.3 493.1h0M185.7 492.8h0M213.2 492.5h0M225.9 492.7h0M320.3 492.0h0M334.3 492.0h0M442.9 492.0h0M456.8 492.2h0M511.0 491.2h0M537.6 490.5h0M565.1 490.3h0M686.4 489.6h0M835.8 489.9h0" stroke-width="7.2" stroke-opacity="0.21"/><path d="M944.4 814.2h0M456.0 802.2h0M686.9 801.1h0M753.9 800.8h0M388.4 788.5h0M496.7 788.4h0M605.5 786.9h0M809.1 786.6h0M293.3 774.9h0M321.0 775.6h0M374.5 774.0h0M415.5 774.1h0M483.0 773.5h0M646.5 773.8h0M659.8 772.5h0M754.8 772.8h0M821.9 772.2h0M835.4 771.7h0M889.2 771.1h0M930.0 771.9h0M335.0 761.0h0M347.9 760.7h0M469.7 760.4h0M482.8 760.6h0M496.6 760.0h0M524.0 759.0h0M645.9 758.9h0M740.7 758.1h0M876.2 757.4h0M348.2 747.0h0M388.8 746.8h0M415.6 745.9h0M538.3 744.7h0M551.0 745.5h0M564.5 745.0h0M754.9 743.6h0M781.4 743.9h0M821.5 743.2h0M835.3 744.3h0M916.7 743.6h0M307.1 733.1h0M320.5 731.9h0M334.5 732.1h0M347.5 732.4h0M375.6 731.8h0M402.5 732.1h0M646.6 730.8h0M713.8 730.5h0M795.3 730.2h0M834.9 730.0h0M306.8 718.5h0M335.1 717.8h0M362.1 718.2h0M389.0 718.7h0M794.7 716.2h0M863.1 714.8h0M335.1 703.7h0M361.7 704.7h0M388.7 703.5h0M510.4 703.4h0M591.5 703.4h0M876.5 701.4h0M320.4 690.8h0M348.6 690.3h0M361.8 689.5h0M442.9 690.0h0M645.7 687.6h0M673.6 688.6h0M700.0 688.0h0M726.7 687.5h0M808.4 687.7h0M821.6 687.2h0M836.2 687.4h0M943.3 687.0h0M266.3 676.4h0M280.3 676.6h0M293.4 676.5h0M306.8 676.6h0M320.9 676.5h0M334.6 676.3h0M347.4 676.3h0M375.6 675.6h0M415.2 675.2h0M537.4 675.1h0M633.1 674.8h0M646.7 674.6h0M741.1 673.2h0M822.6 673.7h0M835.5 672.8h0M929.8 672.4h0M335.0 661.8h0M347.5 661.2h0M389.2 661.3h0M591.2 659.9h0M672.9 660.1h0M727.1 659.8h0M848.9 658.4h0M293.1 648.6h0M307.8 647.7h0M347.5 647.2h0M361.2 648.1h0M388.3 647.6h0M415.7 647.0h0M429.6 646.9h0M619.5 645.6h0M633.1 645.6h0M754.2 645.4h0M794.7 644.4h0M321.3 634.2h0M335.1 634.2h0M348.3 633.5h0M361.5 633.1h0M388.1 633.9h0M510.7 631.9h0M564.6 631.9h0M673.5 632.3h0M754.9 631.0h0M808.0 631.0h0M821.8 631.4h0M239.9 619.5h0M293.6 620.1h0M334.6 618.8h0M348.1 619.5h0M362.2 619.0h0M374.6 618.5h0M456.7 618.4h0M469.4 619.3h0M496.8 619.1h0M808.5 617.3h0M822.5 617.1h0M172.5 606.4h0M334.6 604.9h0M347.4 605.6h0M415.8 604.5h0M442.1 604.5h0M456.3 605.1h0M470.0 604.6h0M496.5 604.3h0M646.4 603.2h0M754.6 603.0h0M130.9 592.9h0M321.3 590.9h0M348.0 591.4h0M361.2 591.3h0M401.6 591.0h0M415.2 590.1h0M483.8 590.0h0M538.2 589.9h0M591.6 590.1h0M795.1 588.5h0M77.0 578.5h0M157.7 578.6h0M253.1 578.1h0M267.0 577.5h0M293.9 577.9h0M308.0 577.2h0M320.5 577.5h0M402.3 576.9h0M415.5 577.1h0M443.1 575.9h0M456.2 576.2h0M469.4 576.1h0M496.9 576.8h0M578.7 575.8h0M632.2 575.0h0M780.8 574.9h0M794.4 574.3h0M49.9 564.7h0M63.4 564.7h0M76.7 564.4h0M131.6 564.8h0M144.7 563.9h0M172.0 564.2h0M199.2 564.3h0M212.6 563.5h0M225.6 563.1h0M253.6 563.6h0M293.3 562.5h0M320.8 562.9h0M360.9 563.1h0M374.5 563.0h0M442.4 561.7h0M524.7 562.4h0M538.0 562.0h0M605.9 561.1h0M673.1 560.7h0M713.4 560.7h0M781.0 559.8h0M808.2 560.3h0M821.7 560.4h0M50.4 550.4h0M76.4 550.9h0M90.0 549.6h0M131.7 550.0h0M144.9 549.4h0M172.5 549.1h0M185.8 549.1h0M226.4 549.2h0M266.9 548.8h0M280.3 548.5h0M293.3 549.0h0M321.2 548.2h0M334.0 548.5h0M361.4 548.0h0M388.7 548.7h0M401.7 548.0h0M442.5 548.3h0M482.8 548.0h0M618.3 547.4h0M673.2 547.1h0M687.2 546.5h0M740.8 545.9h0M808.8 546.5h0M50.1 536.1h0M63.1 535.7h0M118.1 536.2h0M157.9 535.6h0M172.3 535.7h0M185.0 535.6h0M199.3 534.9h0M212.4 535.1h0M225.6 534.7h0M293.2 535.0h0M307.0 535.1h0M321.4 534.2h0M334.1 534.7h0M361.7 534.0h0M402.0 533.9h0M429.1 534.6h0M442.7 534.5h0M470.2 533.3h0M496.6 533.8h0M524.5 533.8h0M551.2 533.9h0M794.5 531.8h0M808.4 531.2h0M862.2 531.4h0M889.4 531.8h0M131.6 522.0h0M157.9 521.4h0M186.0 521.9h0M307.8 520.4h0M320.7 520.5h0M415.3 519.5h0M428.7 520.2h0M442.9 520.4h0M496.6 519.8h0M510.7 519.7h0M523.7 518.9h0M537.4 519.9h0M578.5 518.5h0M591.6 519.7h0M606.0 519.1h0M632.1 518.5h0M645.6 519.0h0M700.2 517.8h0M782.1 518.5h0M809.1 518.4h0M64.2 508.5h0M103.5 508.0h0M130.8 507.1h0M158.0 507.9h0M213.1 506.5h0M267.1 506.1h0M321.2 506.3h0M347.9 506.3h0M361.6 506.5h0M388.2 505.6h0M442.8 506.0h0M483.3 505.2h0M524.1 504.8h0M537.5 505.2h0M551.1 505.8h0M564.3 505.3h0M578.3 504.9h0M592.0 505.0h0M645.4 504.9h0M659.1 504.3h0M673.6 504.5h0M700.3 504.5h0M727.6 504.2h0M781.1 503.3h0M794.9 504.2h0M822.2 503.5h0M849.4 503.2h0M876.4 503.8h0M50.2 494.3h0M77.4 494.4h0M131.3 493.5h0M199.0 493.0h0M239.1 493.4h0M266.2 492.9h0M280.0 493.2h0M293.7 493.0h0M308.0 492.2h0M348.0 492.1h0M361.6 492.2h0M375.4 492.0h0M388.1 491.7h0M415.4 491.9h0M470.1 491.3h0M484.1 491.4h0M496.8 491.6h0M578.3 490.7h0M591.9 490.7h0M618.5 490.4h0M632.8 491.2h0M726.8 489.6h0M741.2 489.6h0M754.9 490.0h0M767.5 489.8h0M782.1 489.0h0M794.6 490.0h0M821.5 488.8h0M849.0 489.4h0M889.8 488.8h0" stroke-width="7.2" stroke-opacity="0.32"/><path d="M767.9 871.6h0M808.8 842.7h0M578.1 829.7h0M767.2 828.3h0M347.6 816.8h0M442.3 816.1h0M496.9 815.6h0M511.2 816.6h0M565.2 816.1h0M672.9 815.2h0M740.3 815.4h0M917.1 814.1h0M225.5 804.2h0M293.9 802.7h0M334.2 803.7h0M375.6 803.6h0M429.6 802.1h0M442.7 801.9h0M483.7 802.7h0M497.5 802.3h0M537.0 802.6h0M551.2 801.2h0M632.3 802.0h0M659.3 801.5h0M673.5 801.2h0M727.2 801.2h0M821.5 800.9h0M862.1 799.8h0M875.9 800.1h0M889.2 800.4h0M307.6 789.0h0M320.5 788.7h0M334.3 789.6h0M347.8 788.4h0M362.1 788.6h0M375.6 788.1h0M428.6 788.0h0M456.4 787.8h0M482.9 787.7h0M511.0 787.6h0M577.9 787.9h0M592.3 787.1h0M618.3 787.2h0M645.8 787.2h0M700.4 786.2h0M713.6 786.6h0M753.7 786.4h0M781.0 786.4h0M835.3 786.6h0M876.0 785.7h0M903.6 785.3h0M944.1 785.9h0M239.9 775.2h0M253.7 775.8h0M280.7 775.6h0M306.9 774.3h0M334.7 774.8h0M348.2 774.6h0M389.3 774.0h0M429.7 774.8h0M443.0 774.6h0M470.3 773.6h0M510.3 773.2h0M524.3 773.5h0M537.2 773.7h0M550.5 773.0h0M605.8 773.2h0M618.3 773.3h0M632.1 773.8h0M727.3 773.0h0M781.7 771.9h0M795.1 771.8h0M808.4 771.9h0M863.0 771.4h0M876.5 771.3h0M902.6 771.6h0M943.7 771.7h0M266.6 761.6h0M294.3 761.2h0M308.0 761.4h0M321.6 760.2h0M374.5 760.6h0M402.7 760.7h0M429.1 759.6h0M442.2 759.9h0M537.8 759.3h0M606.0 759.4h0M618.6 759.0h0M631.9 759.2h0M672.7 758.9h0M700.4 758.6h0M727.2 757.9h0M782.0 757.8h0M794.9 757.8h0M808.6 758.1h0M835.4 758.1h0M849.4 757.5h0M890.0 757.7h0M930.7 758.0h0M267.4 747.0h0M280.8 747.6h0M334.2 747.3h0M360.9 746.1h0M374.5 747.0h0M429.6 745.7h0M442.8 745.8h0M496.8 745.4h0M523.4 745.4h0M578.0 745.2h0M591.8 745.5h0M619.3 744.9h0M645.4 745.5h0M673.5 744.8h0M714.3 744.8h0M727.4 743.6h0M741.0 744.9h0M768.2 743.9h0M795.3 743.3h0M808.0 744.3h0M862.8 744.0h0M903.3 743.6h0M158.9 733.4h0M212.3 732.7h0M267.1 733.0h0M280.8 733.4h0M294.4 733.0h0M361.2 732.0h0M415.9 732.6h0M428.6 732.5h0M442.6 732.3h0M456.2 732.1h0M483.1 732.2h0M496.4 732.2h0M511.1 730.9h0M524.2 730.8h0M551.4 730.6h0M591.8 730.5h0M605.4 730.7h0M619.2 730.7h0M632.4 730.2h0M659.0 730.3h0M673.7 731.2h0M727.9 729.6h0M740.8 730.8h0M767.2 729.3h0M781.5 730.0h0M808.9 730.4h0M822.5 729.5h0M862.9 729.4h0M875.9 729.9h0M266.5 718.2h0M279.7 718.2h0M321.0 718.5h0M402.1 718.1h0M429.9 717.1h0M442.2 717.2h0M455.9 718.0h0M469.5 718.0h0M496.3 717.1h0M509.9 717.0h0M524.0 717.4h0M537.4 717.0h0M564.7 716.8h0M592.3 716.4h0M619.2 716.3h0M633.1 716.3h0M645.4 716.8h0M659.5 717.1h0M700.3 716.2h0M741.2 715.6h0M754.8 716.3h0M767.9 715.7h0M808.5 715.4h0M822.5 715.9h0M836.3 716.0h0M849.5 715.8h0M889.1 715.1h0M903.5 715.6h0M199.6 704.7h0M239.0 705.3h0M279.9 704.3h0M293.6 704.5h0M308.0 704.6h0M375.1 704.7h0M401.7 703.9h0M415.4 704.1h0M429.6 703.9h0M443.1 703.5h0M456.3 704.1h0M524.3 703.3h0M604.8 702.4h0M646.3 702.3h0M673.2 702.1h0M700.7 702.0h0M741.1 701.6h0M754.6 702.0h0M781.5 702.3h0M808.9 701.1h0M822.2 701.0h0M903.4 701.0h0M930.7 701.4h0M944.0 700.7h0M280.2 690.8h0M293.9 690.5h0M307.0 690.4h0M375.6 690.4h0M388.2 690.1h0M496.7 689.2h0M523.7 688.3h0M551.6 688.8h0M592.1 688.6h0M605.4 688.5h0M687.0 688.0h0M754.8 687.7h0M768.6 686.9h0M780.9 687.3h0M795.1 688.0h0M849.2 686.9h0M903.4 686.2h0M199.2 676.6h0M225.9 676.6h0M388.0 675.0h0M402.8 674.9h0M428.8 675.6h0M455.9 675.3h0M469.9 675.0h0M483.6 674.7h0M496.8 674.3h0M524.7 674.3h0M565.1 675.0h0M618.7 674.5h0M659.7 674.7h0M699.9 674.0h0M713.3 673.7h0M767.2 672.7h0M795.2 672.7h0M808.5 673.5h0M863.1 673.5h0M875.8 673.0h0M916.3 672.0h0M158.5 662.8h0M253.1 662.1h0M280.5 661.7h0M293.3 662.0h0M360.9 661.9h0M401.7 661.8h0M415.9 661.3h0M429.8 661.7h0M442.9 661.2h0M497.5 661.3h0M551.5 660.9h0M578.2 659.9h0M618.7 659.7h0M646.1 660.2h0M660.1 660.6h0M686.4 660.0h0M740.2 659.9h0M767.4 659.5h0M782.0 658.7h0M794.6 659.7h0M822.0 658.7h0M862.2 658.2h0M889.9 658.4h0M943.4 658.4h0M253.2 647.8h0M267.0 647.5h0M279.8 647.6h0M321.6 647.3h0M334.8 648.1h0M374.6 647.3h0M402.1 647.2h0M469.3 646.8h0M496.8 646.5h0M551.6 645.9h0M592.2 645.9h0M645.7 645.8h0M660.0 646.1h0M700.8 645.7h0M727.0 645.0h0M781.4 644.9h0M808.0 644.3h0M822.0 644.2h0M848.5 644.2h0M876.6 644.6h0M903.6 644.3h0M916.9 644.8h0M130.7 635.0h0M226.7 634.8h0M293.4 634.1h0M307.0 633.4h0M429.7 633.5h0M443.1 633.4h0M456.8 632.2h0M497.3 632.4h0M537.2 632.3h0M550.6 631.6h0M578.1 632.4h0M632.7 631.2h0M660.0 632.3h0M686.8 631.7h0M700.7 631.6h0M714.2 631.5h0M727.9 631.4h0M781.3 630.7h0M794.7 630.8h0M848.9 631.1h0M876.3 629.8h0M917.4 630.5h0M144.5 621.0h0M198.4 620.8h0M226.4 619.4h0M253.5 620.2h0M266.8 619.7h0M388.6 619.0h0M443.1 618.4h0M523.9 617.8h0M537.5 618.4h0M564.6 618.5h0M577.9 618.5h0M592.2 617.3h0M619.2 617.4h0M645.4 617.9h0M754.5 617.2h0M768.3 617.4h0M780.9 616.8h0M794.3 617.3h0M835.4 615.9h0M849.5 616.4h0M902.7 616.4h0M130.8 606.2h0M157.7 605.9h0M199.6 605.7h0M212.1 605.3h0M253.8 606.1h0M279.9 606.1h0M361.2 605.0h0M375.7 605.5h0M388.8 605.6h0M429.5 605.3h0M483.7 604.5h0M511.1 604.9h0M524.1 604.1h0M564.3 603.4h0M578.5 604.0h0M592.0 603.8h0M605.3 604.0h0M618.5 604.0h0M659.9 603.7h0M700.0 602.6h0M727.6 602.9h0M741.0 603.0h0M794.8 602.2h0M822.1 603.2h0M835.0 602.9h0M903.7 602.1h0M930.5 602.4h0M943.3 602.0h0M49.5 592.5h0M77.3 592.6h0M91.0 593.0h0M158.5 592.2h0M198.3 591.3h0M226.1 592.3h0M252.9 591.6h0M280.8 591.7h0M293.8 590.9h0M307.9 591.3h0M334.6 590.6h0M428.8 590.3h0M443.2 590.5h0M457.0 590.6h0M564.9 590.4h0M578.5 589.5h0M604.7 589.6h0M619.2 589.2h0M632.3 589.1h0M646.2 589.3h0M659.9 589.4h0M700.3 588.5h0M713.3 588.5h0M740.1 589.2h0M754.7 588.1h0M767.5 589.1h0M781.4 589.0h0M808.1 588.5h0M822.2 588.3h0M835.8 588.1h0M849.6 588.2h0M876.5 588.1h0M916.5 587.5h0M930.7 588.3h0M943.9 587.5h0M63.9 579.3h0M91.1 578.3h0M104.3 578.4h0M117.4 578.3h0M131.9 577.7h0M185.9 578.4h0M198.4 577.7h0M225.6 577.3h0M280.0 577.4h0M374.5 576.2h0M482.9 576.6h0M551.3 575.1h0M605.2 576.1h0M673.1 575.4h0M686.0 574.6h0M699.9 574.5h0M713.0 574.9h0M767.9 574.4h0M848.7 574.3h0M862.6 574.2h0M916.2 573.1h0M104.5 563.8h0M117.7 564.9h0M158.3 563.6h0M185.7 563.2h0M239.0 563.6h0M266.3 563.3h0M307.6 563.3h0M429.8 562.6h0M456.6 561.8h0M484.1 561.4h0M496.5 562.3h0M509.9 562.4h0M551.6 562.0h0M578.4 561.9h0M632.5 561.5h0M646.2 561.0h0M659.1 560.7h0M700.6 560.2h0M726.8 560.0h0M767.3 560.5h0M795.0 560.1h0M835.9 560.4h0M916.6 558.9h0M63.5 550.6h0M103.6 550.5h0M212.7 549.4h0M239.8 549.8h0M253.0 549.9h0M511.2 547.9h0M523.9 547.4h0M537.0 547.3h0M551.1 547.2h0M565.3 548.0h0M592.2 547.1h0M604.9 547.1h0M632.9 547.2h0M659.8 547.5h0M699.7 546.7h0M713.9 545.9h0M781.4 546.2h0M821.7 545.6h0M836.1 546.5h0M849.7 546.1h0M931.1 545.6h0M943.7 544.7h0M144.2 536.0h0M280.8 535.6h0M348.3 534.0h0M510.2 533.2h0M537.2 533.2h0M564.0 532.7h0M591.3 533.7h0M604.9 532.8h0M660.2 533.4h0M672.4 532.8h0M686.6 533.1h0M713.9 531.8h0M767.9 532.2h0M822.7 532.3h0M835.3 532.1h0M848.9 531.1h0M917.3 531.8h0M929.9 531.7h0M76.5 522.1h0M199.3 520.7h0M225.9 520.8h0M239.0 521.1h0M266.2 520.3h0M348.3 520.2h0M483.6 519.4h0M565.1 518.9h0M619.2 518.9h0M659.5 519.3h0M673.5 518.8h0M686.6 517.8h0M713.5 518.3h0M726.9 517.7h0M767.4 518.2h0M795.3 518.5h0M822.3 517.6h0M849.1 518.1h0M863.0 517.4h0M890.3 516.6h0M916.6 516.9h0M172.5 506.8h0M416.4 506.2h0M604.7 504.8h0M618.8 505.1h0M687.3 503.7h0M713.8 504.8h0M740.5 504.6h0M754.4 504.5h0M768.4 504.3h0M863.0 503.3h0M903.6 502.5h0M917.1 502.6h0M930.1 502.6h0M944.5 503.1h0M402.1 491.8h0M429.4 491.2h0M524.0 491.5h0M551.7 490.6h0M605.0 490.3h0M645.6 490.2h0M659.7 489.7h0M673.2 490.4h0M713.5 490.6h0M808.7 489.0h0M863.3 489.3h0M876.8 489.5h0M903.5 488.4h0M931.0 488.8h0M944.4 488.4h0" stroke-width="7.2" stroke-opacity="0.43"/><path d="M551.5 873.1h0M646.1 871.7h0M740.1 872.0h0M780.8 871.3h0M821.9 871.2h0M849.7 870.9h0M916.3 870.8h0M388.5 859.7h0M402.7 858.7h0M443.3 859.4h0M524.6 858.3h0M551.1 857.7h0M605.8 858.3h0M672.8 857.5h0M700.8 857.6h0M821.6 857.0h0M875.7 856.8h0M294.0 845.1h0M375.2 845.3h0M389.3 845.6h0M443.2 844.8h0M483.1 845.3h0M497.2 844.4h0M510.6 844.3h0M524.8 844.6h0M551.3 844.6h0M700.4 843.5h0M754.7 842.5h0M862.6 842.7h0M890.2 842.3h0M904.0 842.9h0M930.8 842.2h0M944.2 842.1h0M293.4 831.9h0M334.3 830.9h0M375.5 830.9h0M389.2 831.6h0M415.6 830.8h0M455.9 831.0h0M483.5 830.6h0M510.6 830.8h0M592.5 830.1h0M605.7 830.1h0M646.4 830.1h0M673.5 829.3h0M687.0 830.0h0M781.0 828.4h0M849.7 828.2h0M875.6 828.9h0M903.0 828.8h0M917.1 827.6h0M239.1 817.7h0M280.6 817.2h0M293.1 818.2h0M307.8 817.0h0M320.7 817.4h0M334.2 817.0h0M389.1 816.4h0M402.4 817.2h0M456.9 816.5h0M469.9 816.7h0M483.3 816.2h0M550.6 815.8h0M577.8 816.2h0M604.8 816.0h0M632.0 816.2h0M645.4 815.1h0M659.6 815.7h0M754.0 814.9h0M780.8 814.2h0M795.7 815.2h0M808.8 814.8h0M821.9 814.6h0M835.2 814.3h0M848.7 814.1h0M862.7 813.9h0M876.3 813.9h0M890.0 813.5h0M904.0 814.1h0M930.8 814.2h0M198.9 804.3h0M212.2 804.2h0M239.1 803.7h0M266.5 802.9h0M321.5 803.9h0M348.5 802.6h0M361.5 802.5h0M388.2 803.3h0M416.3 803.2h0M469.4 802.0h0M564.8 801.5h0M577.7 801.4h0M604.9 802.1h0M646.0 800.9h0M700.8 800.6h0M713.9 800.6h0M740.4 800.8h0M768.0 800.9h0M781.5 801.1h0M794.3 800.5h0M808.4 800.3h0M848.7 799.9h0M902.9 800.1h0M917.3 800.2h0M944.6 799.0h0M225.9 790.0h0M239.2 789.6h0M266.5 789.3h0M293.6 788.6h0M415.7 787.9h0M442.9 787.7h0M470.2 787.9h0M523.8 787.7h0M537.0 788.0h0M551.3 788.2h0M564.9 788.3h0M632.2 787.3h0M659.1 787.3h0M672.8 786.9h0M686.1 787.1h0M726.6 786.7h0M740.9 786.6h0M768.4 786.6h0M795.1 787.0h0M822.2 786.3h0M849.7 785.8h0M862.2 785.9h0M889.4 785.4h0M930.4 785.8h0M226.4 775.2h0M401.9 773.8h0M457.0 774.0h0M497.0 773.4h0M565.3 773.3h0M578.2 774.2h0M591.4 773.9h0M672.4 772.4h0M686.4 773.2h0M699.9 772.8h0M714.3 772.0h0M740.7 772.9h0M768.5 772.2h0M848.6 771.7h0M916.7 771.2h0M157.8 762.2h0M185.3 761.2h0M199.1 761.6h0M212.7 761.4h0M226.2 761.5h0M239.6 762.0h0M253.5 760.9h0M362.0 760.2h0M389.0 760.4h0M455.8 759.6h0M510.1 760.0h0M551.3 759.8h0M565.0 759.4h0M577.7 758.8h0M591.6 758.8h0M659.5 759.5h0M686.3 759.2h0M768.1 757.9h0M904.0 758.1h0M917.3 757.6h0M943.8 757.4h0M130.6 748.3h0M158.4 747.7h0M225.7 747.2h0M239.7 747.1h0M253.7 746.6h0M293.7 746.2h0M307.7 747.1h0M320.4 746.7h0M402.8 746.3h0M456.3 745.8h0M483.5 745.6h0M510.5 745.2h0M605.0 744.7h0M632.1 745.1h0M659.3 745.2h0M700.2 745.1h0M876.2 742.8h0M889.7 743.2h0M930.0 743.3h0M943.6 742.9h0M171.9 733.0h0M198.3 733.5h0M226.7 733.5h0M240.0 732.6h0M252.8 733.0h0M389.1 732.7h0M470.5 731.7h0M538.1 730.7h0M565.4 731.4h0M578.8 731.5h0M687.2 731.0h0M699.5 730.3h0M754.9 730.7h0M848.8 729.6h0M889.4 729.2h0M903.7 728.9h0M916.5 729.1h0M943.7 728.7h0M90.5 719.6h0M374.6 717.9h0M415.3 718.5h0M483.4 717.7h0M551.0 717.1h0M578.9 717.4h0M673.1 716.2h0M686.3 716.4h0M713.7 716.3h0M727.9 715.8h0M875.9 715.8h0M944.5 714.5h0M104.4 705.5h0M171.5 705.4h0M185.2 705.7h0M225.9 704.5h0M253.2 704.7h0M266.3 704.7h0M470.4 702.8h0M483.7 703.3h0M496.5 703.2h0M551.1 702.3h0M564.7 702.3h0M578.9 703.3h0M618.9 702.4h0M686.3 702.6h0M713.5 702.6h0M794.8 701.8h0M862.5 701.3h0M889.4 701.3h0M917.3 700.6h0M158.4 690.4h0M171.4 690.8h0M198.5 690.3h0M226.4 690.1h0M253.5 690.3h0M401.5 690.0h0M415.8 689.7h0M428.7 688.9h0M483.7 689.5h0M510.3 688.9h0M537.4 689.0h0M564.7 688.5h0M578.4 688.9h0M618.9 688.5h0M632.0 687.7h0M659.2 687.8h0M740.8 687.5h0M862.8 687.2h0M876.5 686.5h0M889.2 687.2h0M930.8 686.0h0M171.5 676.6h0M211.9 676.7h0M240.3 676.3h0M252.9 675.9h0M442.3 674.9h0M510.4 675.0h0M551.7 674.1h0M578.5 675.1h0M592.3 674.8h0M604.8 675.1h0M673.2 673.5h0M687.0 673.3h0M754.4 673.3h0M781.1 674.1h0M849.5 672.9h0M889.7 672.3h0M903.7 672.8h0M944.0 672.9h0M131.4 663.5h0M144.5 663.3h0M213.2 662.9h0M226.1 662.9h0M267.4 661.6h0M456.1 661.7h0M469.3 661.6h0M484.1 661.1h0M509.9 660.8h0M524.7 661.2h0M537.3 660.7h0M564.5 660.4h0M605.5 660.1h0M631.9 660.4h0M700.0 659.5h0M714.0 660.1h0M754.9 659.1h0M808.3 659.0h0M835.9 658.3h0M875.6 658.6h0M916.7 659.0h0M929.9 658.8h0M90.6 649.5h0M144.2 648.3h0M185.8 648.3h0M199.5 648.9h0M225.5 648.0h0M239.9 648.1h0M442.9 646.6h0M456.2 646.3h0M511.0 646.5h0M523.6 646.0h0M565.1 646.7h0M578.0 646.2h0M605.8 646.7h0M673.6 645.8h0M714.2 644.9h0M767.6 644.5h0M835.5 644.8h0M862.7 644.4h0M890.3 644.8h0M930.9 643.6h0M944.1 644.7h0M49.4 635.2h0M63.1 635.2h0M90.4 635.5h0M157.7 634.6h0M172.4 635.1h0M198.4 634.1h0M240.2 634.6h0M253.1 634.2h0M266.9 633.8h0M279.6 633.3h0M401.8 632.8h0M469.9 633.3h0M484.1 632.6h0M524.5 632.4h0M592.4 632.3h0M619.0 631.7h0M646.2 632.3h0M741.5 631.2h0M767.7 631.7h0M835.2 630.7h0M862.4 630.5h0M889.6 630.0h0M930.8 630.6h0M944.7 630.4h0M77.8 620.8h0M103.9 620.9h0M184.8 620.7h0M212.5 619.5h0M280.3 619.4h0M307.2 619.2h0M321.3 620.2h0M415.8 618.4h0M429.8 618.3h0M509.9 619.0h0M551.4 617.6h0M605.4 617.9h0M659.4 616.9h0M700.8 616.9h0M713.0 616.7h0M740.3 617.3h0M862.6 616.9h0M876.9 616.7h0M929.8 615.9h0M944.4 616.2h0M63.9 607.0h0M77.0 606.3h0M90.1 606.1h0M104.1 606.1h0M145.0 606.6h0M185.1 605.5h0M239.0 606.0h0M266.4 605.9h0M294.1 606.1h0M321.1 605.1h0M537.2 604.5h0M550.9 603.6h0M672.6 604.0h0M687.3 603.4h0M714.0 603.3h0M768.2 602.7h0M782.1 602.7h0M809.1 602.1h0M862.9 602.2h0M876.2 602.7h0M916.6 602.6h0M63.5 592.6h0M104.2 592.3h0M144.5 592.8h0M172.0 592.2h0M211.9 591.4h0M238.9 591.1h0M267.2 591.7h0M469.8 590.4h0M510.1 590.2h0M523.8 590.7h0M551.5 589.9h0M672.7 588.9h0M687.2 589.1h0M890.0 587.6h0M50.2 579.1h0M172.5 578.2h0M212.5 578.2h0M239.0 577.7h0M428.9 577.1h0M511.1 576.3h0M524.7 575.8h0M565.1 575.1h0M591.3 575.8h0M618.8 575.1h0M659.3 575.5h0M727.6 574.3h0M740.2 574.2h0M754.3 574.3h0M808.6 573.8h0M822.7 574.9h0M835.7 574.5h0M889.8 573.5h0M903.0 573.6h0M944.6 573.6h0M90.5 564.4h0M280.2 562.8h0M335.0 563.1h0M619.1 561.9h0M686.0 561.3h0M740.7 559.9h0M754.5 560.5h0M849.2 560.5h0M876.4 559.3h0M890.0 559.5h0M903.9 560.0h0M929.9 560.0h0M944.6 559.2h0M117.8 549.5h0M198.6 549.7h0M497.6 547.4h0M646.6 547.3h0M726.8 546.7h0M754.6 547.0h0M768.0 546.4h0M794.9 546.6h0M862.8 546.3h0M876.9 545.4h0M890.0 545.9h0M903.9 545.9h0M917.5 544.8h0M618.3 532.9h0M632.0 532.6h0M646.3 532.7h0M699.8 533.2h0M727.7 532.7h0M754.7 532.3h0M781.3 532.6h0M876.3 531.9h0M944.4 531.4h0M741.5 518.8h0M753.8 517.7h0M903.8 516.5h0M930.8 517.3h0M944.5 516.5h0M633.1 505.0h0M835.2 504.1h0M889.6 503.5h0" stroke-width="7.2" stroke-opacity="0.54"/><path d="M185.4 874.9h0M280.8 874.1h0M307.7 873.6h0M348.4 873.3h0M361.6 873.5h0M402.8 873.8h0M429.8 873.4h0M456.7 872.8h0M523.6 872.2h0M618.4 872.4h0M631.8 871.7h0M660.1 871.5h0M686.2 871.6h0M700.0 872.2h0M714.4 871.8h0M726.7 870.9h0M753.7 871.5h0M808.9 871.6h0M862.8 870.9h0M875.7 870.8h0M903.7 870.6h0M944.2 870.2h0M185.4 860.2h0M252.9 860.5h0M266.0 859.5h0M280.7 859.6h0M293.3 859.3h0M307.5 860.0h0M321.3 860.4h0M334.4 859.2h0M347.3 859.5h0M361.2 859.3h0M375.4 859.4h0M429.4 859.7h0M470.2 859.3h0M483.6 859.1h0M497.7 859.4h0M565.1 857.7h0M578.0 858.6h0M591.3 857.7h0M619.5 858.0h0M632.0 858.0h0M645.7 858.2h0M660.0 857.8h0M713.8 857.5h0M727.4 856.7h0M754.4 857.2h0M767.9 857.0h0M782.1 857.7h0M794.5 856.9h0M836.2 856.2h0M848.7 856.3h0M863.0 856.3h0M903.4 856.3h0M930.0 856.4h0M944.2 856.2h0M185.5 846.6h0M307.6 846.2h0M321.2 845.5h0M348.5 845.9h0M361.8 845.9h0M402.5 845.5h0M456.1 844.8h0M469.2 844.5h0M538.3 843.7h0M564.1 843.8h0M591.9 844.0h0M632.6 844.2h0M659.1 843.6h0M673.7 843.4h0M686.7 843.6h0M713.4 843.6h0M726.9 842.6h0M740.3 843.5h0M822.7 843.1h0M835.8 842.6h0M848.7 841.9h0M876.2 842.0h0M916.3 842.7h0M199.4 832.0h0M226.4 832.6h0M280.7 831.1h0M307.7 831.8h0M320.6 831.0h0M348.3 831.4h0M401.8 830.8h0M428.8 830.9h0M443.3 830.8h0M469.2 830.6h0M524.4 830.8h0M537.0 830.4h0M551.4 829.8h0M619.5 829.6h0M632.9 830.1h0M700.0 828.8h0M713.4 829.8h0M726.6 828.8h0M741.2 828.6h0M753.7 828.9h0M795.1 828.3h0M821.8 828.6h0M890.2 828.0h0M930.2 828.3h0M944.3 828.0h0M76.8 818.8h0M90.1 819.1h0M172.5 817.6h0M198.5 818.5h0M211.9 817.7h0M266.0 817.5h0M361.9 816.9h0M375.4 816.8h0M415.3 816.7h0M428.7 816.3h0M524.3 816.3h0M537.4 816.3h0M591.6 815.8h0M619.2 816.1h0M700.2 815.2h0M713.8 814.7h0M63.6 804.7h0M130.7 804.2h0M144.2 804.5h0M171.5 803.5h0M252.8 803.3h0M280.1 803.2h0M307.1 803.3h0M401.5 802.2h0M510.2 801.8h0M523.8 802.2h0M592.2 801.3h0M619.6 800.8h0M835.7 800.3h0M930.2 799.3h0M50.7 790.2h0M159.0 790.2h0M185.2 790.1h0M199.5 789.9h0M212.4 790.2h0M252.7 789.1h0M281.0 789.6h0M401.9 789.0h0M916.7 785.3h0M63.3 776.7h0M104.2 776.3h0M118.1 776.2h0M144.8 775.4h0M157.7 775.3h0M185.8 775.7h0M199.5 775.0h0M266.8 775.2h0M360.9 775.0h0M91.3 761.9h0M131.4 762.5h0M145.3 762.0h0M172.2 761.6h0M415.8 760.8h0M714.3 758.4h0M862.0 757.9h0M117.2 747.8h0M199.0 747.1h0M212.9 747.0h0M469.3 745.9h0M686.0 744.7h0M91.3 733.7h0M103.8 734.1h0M117.8 733.4h0M185.2 733.8h0M930.1 729.6h0M76.7 719.4h0M118.1 720.0h0M144.9 719.8h0M158.3 719.8h0M186.0 718.7h0M199.6 719.7h0M226.7 718.5h0M239.1 719.1h0M253.8 718.8h0M293.6 718.0h0M781.5 716.4h0M917.5 715.2h0M929.9 715.6h0M91.0 706.2h0M117.6 705.3h0M145.0 705.7h0M158.1 704.9h0M213.2 705.3h0M537.1 702.4h0M632.3 703.0h0M659.3 702.2h0M727.1 702.2h0M848.5 701.4h0M77.0 691.1h0M90.7 692.2h0M104.3 692.1h0M117.1 691.1h0M144.5 691.0h0M186.0 691.6h0M213.0 691.1h0M240.1 691.1h0M267.2 690.1h0M455.7 688.8h0M469.4 689.0h0M714.3 688.4h0M917.1 686.4h0M77.5 677.0h0M118.2 676.9h0M131.3 677.8h0M144.5 676.8h0M186.1 677.1h0M726.9 673.5h0M49.8 662.9h0M76.6 662.7h0M90.8 663.7h0M104.0 662.6h0M118.3 663.2h0M185.5 662.7h0M199.1 662.9h0M239.5 663.0h0M903.1 659.2h0M104.2 648.9h0M117.7 649.3h0M131.7 649.3h0M159.0 648.5h0M171.8 648.6h0M212.0 648.9h0M482.8 646.6h0M537.2 646.8h0M686.0 645.4h0M740.2 644.7h0M103.5 634.5h0M118.1 634.5h0M145.4 634.7h0M184.9 634.4h0M212.4 634.2h0M416.3 633.6h0M605.5 632.3h0M903.6 630.4h0M50.2 621.2h0M90.0 621.1h0M117.5 620.9h0M157.8 619.9h0M172.5 619.9h0M483.5 617.9h0M673.6 618.0h0M686.5 618.1h0M727.4 617.1h0M889.5 616.4h0M916.4 616.2h0M50.5 606.9h0M118.2 606.6h0M226.6 605.5h0M889.2 602.1h0M184.9 592.7h0M727.9 588.7h0M863.2 588.5h0M903.5 587.9h0M145.2 577.8h0M646.0 575.5h0M875.7 574.3h0M862.5 559.5h0M741.0 531.6h0M902.7 531.9h0M875.9 517.7h0M699.6 489.8h0M916.9 488.8h0" stroke-width="7.2" stroke-opacity="0.65"/><path d="M50.6 875.4h0M63.6 875.5h0M77.3 875.7h0M90.1 874.9h0M104.5 874.5h0M118.4 875.7h0M130.8 874.3h0M144.9 874.3h0M157.7 874.8h0M171.8 875.2h0M198.9 874.3h0M213.0 874.8h0M225.8 874.0h0M240.0 874.2h0M253.7 874.1h0M266.0 873.8h0M293.2 874.2h0M321.5 874.2h0M333.9 873.4h0M374.6 873.7h0M388.1 873.4h0M415.4 873.8h0M442.2 873.8h0M469.6 872.4h0M483.1 873.1h0M496.8 872.8h0M510.6 873.3h0M537.3 872.2h0M565.2 872.6h0M578.1 871.8h0M591.4 872.6h0M605.0 872.7h0M673.0 871.2h0M795.3 871.7h0M835.5 871.3h0M890.1 870.4h0M929.8 870.5h0M50.2 861.9h0M63.3 861.5h0M76.7 860.7h0M90.6 861.6h0M103.9 861.2h0M118.2 861.5h0M131.8 860.7h0M144.3 860.7h0M158.8 861.2h0M171.6 860.1h0M199.2 860.4h0M212.3 860.8h0M225.5 859.6h0M240.2 859.6h0M415.2 859.1h0M457.0 858.9h0M510.6 859.0h0M537.0 858.4h0M686.2 858.1h0M740.7 857.7h0M809.0 857.5h0M889.3 856.4h0M916.7 856.2h0M50.5 846.8h0M63.9 847.5h0M76.8 847.6h0M90.2 847.6h0M103.8 847.2h0M117.4 846.2h0M131.7 846.2h0M144.7 846.9h0M158.6 847.1h0M172.6 845.9h0M198.6 845.7h0M212.6 846.2h0M226.2 845.7h0M240.1 846.8h0M253.8 845.4h0M266.7 846.3h0M280.0 845.8h0M334.0 845.1h0M416.2 844.9h0M429.5 845.3h0M578.1 843.5h0M606.0 844.0h0M619.3 843.3h0M645.5 843.7h0M768.6 843.6h0M781.3 842.9h0M795.6 842.5h0M50.1 833.2h0M63.2 833.6h0M77.7 833.4h0M90.3 832.7h0M104.4 832.2h0M117.1 832.9h0M131.3 832.8h0M144.4 832.3h0M158.7 832.9h0M172.3 832.5h0M185.8 831.9h0M212.8 832.8h0M239.5 831.8h0M252.6 831.3h0M266.8 831.8h0M362.1 831.1h0M497.4 829.8h0M564.3 830.4h0M659.6 829.8h0M808.1 828.3h0M836.1 828.5h0M862.8 829.0h0M49.8 818.6h0M64.1 818.9h0M104.7 819.0h0M117.1 818.2h0M131.2 818.4h0M145.5 818.5h0M158.8 818.2h0M185.5 818.2h0M226.0 818.2h0M253.1 818.4h0M686.1 815.9h0M727.7 815.1h0M768.3 814.3h0M49.9 804.7h0M77.0 805.2h0M91.0 805.1h0M104.5 804.6h0M117.9 803.8h0M158.4 803.8h0M186.0 804.6h0M63.5 790.9h0M77.6 790.0h0M90.5 790.1h0M103.5 791.0h0M118.1 790.6h0M131.3 789.8h0M144.8 790.7h0M171.3 789.8h0M50.7 776.3h0M77.4 776.6h0M90.2 776.5h0M130.9 775.7h0M171.4 775.7h0M212.2 775.6h0M49.9 763.0h0M63.2 762.2h0M76.8 762.5h0M104.9 761.6h0M117.9 761.8h0M49.6 748.9h0M63.0 748.0h0M77.4 747.5h0M90.8 748.4h0M103.8 748.4h0M144.1 747.5h0M171.6 747.6h0M184.9 747.6h0M50.1 734.2h0M63.4 734.2h0M77.2 733.9h0M131.1 734.0h0M144.7 733.7h0M50.3 720.2h0M63.0 720.3h0M104.8 720.4h0M131.0 719.9h0M171.7 718.7h0M212.3 719.7h0M50.4 706.5h0M63.7 705.3h0M77.6 706.1h0M131.7 705.0h0M49.5 691.9h0M63.2 692.1h0M131.5 691.5h0M49.3 677.1h0M63.5 678.2h0M90.8 677.5h0M104.3 677.1h0M157.8 676.5h0M63.2 662.7h0M171.6 662.9h0M49.9 648.9h0M64.2 649.4h0M77.5 649.4h0M76.6 635.4h0M63.0 621.7h0M131.8 621.2h0M849.7 602.3h0M117.4 592.7h0M931.0 573.7h0" stroke-width="7.2" stroke-opacity="0.76"/></g><rect x="38.2" y="490.7" width="900.0" height="379.3" filter="url(#fnoiseW)" opacity=".16"/><rect x="38.2" y="490.7" width="900.0" height="379.3" filter="url(#fnoiseB)" opacity=".22"/></g><g stroke="#fff" stroke-width="2.4" fill="none"><path d="M387,650.6 H509.8 M387,664.8 H509.8 L422.8,751.7 M516.6,671.5 L429.6,758.5"/><path d="M453.8,665.7 Q457,690 472,697" stroke-width="2"/></g><g fill="#fff" font-size="29"><text x="396.2" y="644.5">0.28 nm</text><text x="385.2" y="711.2">45°</text><text x="464.6" y="752.4">0.21 nm</text></g><rect x="79.8" y="848" width="94.4" height="4.8" fill="#fff"/><text x="12" y="519.5" font-size="42" font-weight="bold" text-anchor="middle">d</text><defs><clipPath id="cpe"><rect x="972.8" y="490.7" width="365.2" height="378.9"/></clipPath><radialGradient id="ehalo" cx=".5" cy=".5" r=".5"><stop offset="0" stop-color="#888" stop-opacity=".6"/><stop offset=".35" stop-color="#777" stop-opacity=".38"/><stop offset=".7" stop-color="#666" stop-opacity=".12"/><stop offset="1" stop-color="#555" stop-opacity="0"/></radialGradient><filter id="enoiseW" x="0" y="0" width="100%" height="100%"><feTurbulence type="fractalNoise" baseFrequency="0.42" numOctaves="2" seed="9"/><feColorMatrix type="matrix" values="0 0 0 0 1  0 0 0 0 1  0 0 0 0 1  3.2 0 0 0 -1.45"/></filter><filter id="enoiseB" x="0" y="0" width="100%" height="100%"><feTurbulence type="fractalNoise" baseFrequency="0.42" numOctaves="2" seed="3"/><feColorMatrix type="matrix" values="0 0 0 0 0  0 0 0 0 0  0 0 0 0 0  3.4 0 0 0 -1.5"/></filter><filter id="espot" x="-100%" y="-100%" width="300%" height="300%"><feGaussianBlur stdDeviation="1.8"/></filter><filter id="eline" x="-10%" y="-10%" width="120%" height="120%"><feGaussianBlur stdDeviation=".6"/></filter></defs><g clip-path="url(#cpe)"><rect x="972.8" y="490.7" width="365.20000000000005" height="378.90000000000003" fill="#282828"/><ellipse cx="1148.4" cy="669.2" rx="150" ry="165" fill="url(#ehalo)"/><rect x="972.8" y="490.7" width="365.20000000000005" height="378.90000000000003" filter="url(#enoiseW)" opacity=".22"/><rect x="972.8" y="490.7" width="365.20000000000005" height="378.90000000000003" filter="url(#enoiseB)" opacity=".55"/><g filter="url(#eline)"><path d="M1156.2,490.7 V869.6" stroke="#fff" stroke-opacity=".22" stroke-width="1.3"/><path d="M1103.5,490.7 V869.6" stroke="#fff" stroke-opacity=".1" stroke-width="1.2"/><path d="M1207.5,490.7 V869.6" stroke="#fff" stroke-opacity=".1" stroke-width="1.2"/><path d="M1010,681.1 H1310" stroke="#fff" stroke-opacity=".35" stroke-width="1.3"/><path d="M1020,626.4 H1300" stroke="#fff" stroke-opacity=".14" stroke-width="1.2"/><path d="M1020,735.6 H1300" stroke="#fff" stroke-opacity=".14" stroke-width="1.2"/></g><g filter="url(#espot)"><circle cx="1051.5" cy="572.3" r="3.2" fill="#fff" fill-opacity="0.35"/><circle cx="1103.5" cy="572.3" r="3.2" fill="#fff" fill-opacity="0.60"/><circle cx="1156.2" cy="572.3" r="3.2" fill="#fff" fill-opacity="0.50"/><circle cx="1207.5" cy="572.3" r="3.2" fill="#fff" fill-opacity="0.35"/><circle cx="1051.5" cy="626.4" r="3.2" fill="#fff" fill-opacity="0.60"/><circle cx="1103.5" cy="626.4" r="3.2" fill="#fff" fill-opacity="0.80"/><circle cx="1156.2" cy="626.4" r="3.2" fill="#fff" fill-opacity="0.70"/><circle cx="1207.5" cy="626.4" r="3.2" fill="#fff" fill-opacity="0.60"/><circle cx="1051.5" cy="681.1" r="3.2" fill="#fff" fill-opacity="0.50"/><circle cx="1103.5" cy="681.1" r="3.2" fill="#fff" fill-opacity="0.80"/><circle cx="1156.2" cy="681.1" r="3.2" fill="#fff" fill-opacity="0.95"/><circle cx="1207.5" cy="681.1" r="3.2" fill="#fff" fill-opacity="0.80"/><circle cx="1051.5" cy="735.6" r="3.2" fill="#fff" fill-opacity="0.35"/><circle cx="1103.5" cy="735.6" r="3.2" fill="#fff" fill-opacity="0.75"/><circle cx="1156.2" cy="735.6" r="3.2" fill="#fff" fill-opacity="0.80"/><circle cx="1207.5" cy="735.6" r="3.2" fill="#fff" fill-opacity="0.80"/><circle cx="1260.5" cy="735.6" r="3.2" fill="#fff" fill-opacity="0.60"/><circle cx="1103.5" cy="789.7" r="3.2" fill="#fff" fill-opacity="0.45"/><circle cx="1156.2" cy="789.7" r="3.2" fill="#fff" fill-opacity="0.55"/><circle cx="1207.5" cy="789.7" r="3.2" fill="#fff" fill-opacity="0.55"/><circle cx="1260.5" cy="789.7" r="3.2" fill="#fff" fill-opacity="0.40"/><circle cx="1075.6" cy="654" r="2.6" fill="#fff" fill-opacity=".22"/><circle cx="1129.7" cy="654" r="2.6" fill="#fff" fill-opacity=".22"/><circle cx="1182.7" cy="654" r="2.6" fill="#fff" fill-opacity=".22"/><circle cx="1129.7" cy="708" r="2.6" fill="#fff" fill-opacity=".22"/><circle cx="1182.7" cy="708" r="2.6" fill="#fff" fill-opacity=".22"/><circle cx="1075.6" cy="708" r="2.6" fill="#fff" fill-opacity=".22"/><circle cx="1236" cy="708" r="2.6" fill="#fff" fill-opacity=".22"/></g></g><g fill="none" stroke="#c80000" stroke-width="2.5"><circle cx="1156.3" cy="626.2" r="12.2"/><circle cx="1205.8" cy="626.5" r="12.2"/><circle cx="1208.2" cy="681.2" r="12.2"/></g><g fill="#fff" font-size="29"><text x="1122.2" y="601.9">(110)</text><text x="1225.4" y="637.9">(200)</text><text x="1225.4" y="692.2">(110)</text><text x="1263.6" y="526.6">[001]</text></g><rect x="1153.2" y="573.6" width="6.9" height="2.6" fill="#fff"/><text x="959" y="512" font-size="42" font-weight="bold" text-anchor="middle">e</text><defs><filter id="fblur45" x="-2%" y="-2%" width="104%" height="104%"><feGaussianBlur stdDeviation=".45"/></filter><filter id="fblur30" x="-2%" y="-2%" width="104%" height="104%"><feGaussianBlur stdDeviation=".3"/></filter></defs><rect x="33.8" y="882.2" width="249.6" height="343.8" fill="#000"/><rect x="296.3" y="882.2" width="249.9" height="343.8" fill="#000"/><rect x="560.2" y="882.2" width="249.6" height="343.8" fill="#000"/><rect x="824.3" y="882.2" width="249.7" height="343.8" fill="#000"/><rect x="1088.7" y="882.2" width="249.7" height="343.8" fill="#000"/><defs><clipPath id="cph"><rect x="33.8" y="882.2" width="249.6" height="343.8"/></clipPath><filter id="fh1" x="-30%" y="-30%" width="160%" height="160%"><feGaussianBlur stdDeviation="6"/></filter><filter id="fh2" x="-30%" y="-30%" width="160%" height="160%"><feGaussianBlur stdDeviation="6"/></filter><radialGradient id="hbr" cx=".42" cy=".62" r=".6"><stop offset="0" stop-color="#f8f8f8"/><stop offset=".6" stop-color="#ececec"/><stop offset="1" stop-color="#dedede"/></radialGradient><radialGradient id="hmd" cx=".5" cy=".25" r=".7"><stop offset="0" stop-color="#8a8a8a"/><stop offset="1" stop-color="#6a6a6a"/></radialGradient><radialGradient id="hup" cx=".55" cy=".55" r=".6"><stop offset="0" stop-color="#3c3c3c"/><stop offset="1" stop-color="#2c2c2c"/></radialGradient></defs><g clip-path="url(#cph)"><g filter="url(#fh1)"><path d="M74,968 Q84,949 120,948 L192,950 Q216,954 216,980 L212,1010 L190,1086 L150,1082 L70,1000 Z" fill="url(#hup)"/><ellipse cx="190" cy="1133" rx="25" ry="42" fill="#343434"/><path d="M160,1170 L215,1170 L215,1230 L160,1230 Z" fill="#2a2a2a"/><path d="M10,978 L60,992 L110,1015 L148,1052 L168,1100 L160,1200 L10,1200 Z" fill="url(#hmd)"/><rect x="10" y="1192" width="150" height="40" fill="#8a8a8a"/></g><g filter="url(#fh2)"><ellipse cx="98" cy="1129" rx="75" ry="70" fill="url(#hbr)"/></g><rect x="130" y="1214" width="80" height="2" fill="#707070" opacity=".6"/></g><text x="38.6" y="914.3" font-size="29.7" fill="#fff">HADDF</text><g filter="url(#fblur45)"><path d="M459 908h2.6M439 913h2.6M383 933h2.6M411 934h2.6M449 934h2.6M357 936h2.6M397 936h2.6M454 938h2.6M333 940h2.6M358 941h2.6M408 940h2.6M411 941h2.6M420 941h2.6M447 941h2.6M448 941h2.6M405 943h2.6M371 946h2.6M403 946h2.6M429 946h2.6M360 948h2.6M382 947h2.6M432 949h2.6M370 950h2.6M371 951h2.6M376 950h2.6M431 953h2.6M457 953h2.6M324 955h2.6M428 955h2.6M384 957h2.6M446 957h2.6M460 957h2.6M401 961h2.6M452 961h2.6M343 962h2.6M365 962h2.6M368 963h2.6M376 962h2.6M395 963h2.6M432 962h2.6M439 962h2.6M462 963h2.6M469 962h2.6M364 966h2.6M378 964h2.6M443 964h2.6M306 968h2.6M364 967h2.6M376 967h2.6M413 966h2.6M432 967h2.6M460 966h2.6M362 969h2.6M370 970h2.6M396 970h2.6M459 969h2.6M307 971h2.6M322 973h2.6M358 972h2.6M376 973h2.6M383 972h2.6M410 972h2.6M428 972h2.6M431 973h2.6M303 975h2.6M326 974h2.6M341 975h2.6M380 974h2.6M406 975h2.6M427 974h2.6M439 975h2.6M446 974h2.6M456 975h2.6M411 976h2.6M419 977h2.6M439 977h2.6M307 979h2.6M318 978h2.6M405 978h2.6M411 979h2.6M417 979h2.6M435 979h2.6M462 979h2.6M323 982h2.6M358 982h2.6M359 981h2.6M414 981h2.6M424 981h2.6M463 982h2.6M349 983h2.6M365 985h2.6M367 984h2.6M378 984h2.6M399 984h2.6M426 983h2.6M436 984h2.6M328 987h2.6M346 987h2.6M431 986h2.6M435 987h2.6M319 989h2.6M321 988h2.6M378 988h2.6M451 988h2.6M488 989h2.6M331 990h2.6M360 991h2.6M379 991h2.6M407 992h2.6M414 992h2.6M338 994h2.6M341 994h2.6M364 994h2.6M372 993h2.6M417 994h2.6M463 994h2.6M467 993h2.6M333 996h2.6M346 996h2.6M396 997h2.6M410 996h2.6M420 995h2.6M307 998h2.6M316 999h2.6M319 999h2.6M379 999h2.6M435 998h2.6M450 997h2.6M455 998h2.6M464 998h2.6M309 1000h2.6M317 1000h2.6M319 1000h2.6M321 1001h2.6M324 1000h2.6M361 1000h2.6M371 1001h2.6M487 1001h2.6M300 1002h2.6M327 1003h2.6M401 1003h2.6M429 1003h2.6M484 1003h2.6M303 1005h2.6M324 1006h2.6M345 1004h2.6M350 1006h2.6M390 1005h2.6M403 1006h2.6M438 1005h2.6M518 1005h2.6M300 1008h2.6M316 1008h2.6M321 1008h2.6M358 1007h2.6M369 1007h2.6M384 1008h2.6M398 1008h2.6M427 1008h2.6M446 1008h2.6M322 1010h2.6M377 1010h2.6M379 1011h2.6M452 1011h2.6M456 1010h2.6M462 1010h2.6M324 1013h2.6M335 1012h2.6M369 1013h2.6M376 1012h2.6M448 1013h2.6M482 1012h2.6M492 1012h2.6M305 1015h2.6M317 1015h2.6M338 1015h2.6M341 1015h2.6M370 1015h2.6M376 1015h2.6M388 1015h2.6M408 1015h2.6M461 1015h2.6M462 1014h2.6M492 1014h2.6M339 1018h2.6M371 1017h2.6M421 1017h2.6M449 1017h2.6M481 1016h2.6M485 1018h2.6M301 1019h2.6M345 1020h2.6M353 1019h2.6M374 1019h2.6M397 1020h2.6M415 1019h2.6M461 1019h2.6M302 1023h2.6M343 1022h2.6M402 1022h2.6M473 1023h2.6M308 1024h2.6M360 1024h2.6M375 1025h2.6M404 1024h2.6M443 1025h2.6M299 1026h2.6M310 1028h2.6M379 1027h2.6M422 1026h2.6M323 1030h2.6M327 1029h2.6M331 1029h2.6M356 1030h2.6M372 1029h2.6M374 1029h2.6M416 1029h2.6M425 1029h2.6M429 1030h2.6M469 1030h2.6M321 1032h2.6M334 1031h2.6M383 1031h2.6M427 1032h2.6M433 1031h2.6M304 1034h2.6M314 1034h2.6M321 1035h2.6M351 1034h2.6M354 1035h2.6M310 1036h2.6M313 1037h2.6M340 1036h2.6M394 1036h2.6M397 1037h2.6M302 1039h2.6M304 1040h2.6M404 1040h2.6M426 1038h2.6M450 1039h2.6M309 1041h2.6M321 1041h2.6M348 1042h2.6M351 1042h2.6M352 1041h2.6M354 1042h2.6M372 1042h2.6M385 1042h2.6M440 1041h2.6M302 1044h2.6M321 1044h2.6M334 1043h2.6M344 1043h2.6M345 1044h2.6M357 1043h2.6M408 1044h2.6M414 1044h2.6M432 1044h2.6M451 1044h2.6M463 1044h2.6M469 1043h2.6M302 1046h2.6M305 1046h2.6M415 1047h2.6M438 1046h2.6M316 1049h2.6M345 1049h2.6M369 1048h2.6M391 1049h2.6M403 1049h2.6M436 1048h2.6M448 1048h2.6M480 1049h2.6M306 1051h2.6M321 1051h2.6M329 1051h2.6M341 1051h2.6M358 1051h2.6M362 1050h2.6M405 1051h2.6M338 1053h2.6M431 1054h2.6M436 1053h2.6M308 1055h2.6M392 1055h2.6M396 1055h2.6M400 1056h2.6M405 1056h2.6M407 1055h2.6M413 1055h2.6M420 1055h2.6M435 1056h2.6M478 1055h2.6M327 1058h2.6M329 1058h2.6M297 1061h2.6M412 1061h2.6M434 1061h2.6M450 1061h2.6M304 1063h2.6M338 1063h2.6M372 1062h2.6M401 1064h2.6M415 1063h2.6M406 1066h2.6M431 1066h2.6M468 1066h2.6M306 1068h2.6M394 1067h2.6M398 1068h2.6M432 1070h2.6M297 1072h2.6M408 1073h2.6M416 1073h2.6M303 1074h2.6M304 1075h2.6M322 1075h2.6M414 1076h2.6M437 1075h2.6M420 1079h2.6M441 1079h2.6M408 1082h2.6M410 1081h2.6M422 1081h2.6M405 1083h2.6M414 1085h2.6M424 1089h2.6M297 1091h2.6M419 1092h2.6M422 1095h2.6M427 1095h2.6M434 1094h2.6M440 1094h2.6M474 1095h2.6M424 1095h2.6M429 1100h2.6M452 1106h2.6M427 1111h2.6M434 1112h2.6M480 1114h2.6M425 1116h2.6M445 1119h2.6M437 1121h2.6M436 1125h2.6M465 1126h2.6M439 1128h2.6M452 1127h2.6M431 1132h2.6M450 1134h2.6M443 1137h2.6M439 1140h2.6M479 1140h2.6M449 1141h2.6M458 1141h2.6M476 1141h2.6M446 1147h2.6M432 1149h2.6M446 1149h2.6M443 1151h2.6M428 1154h2.6M434 1156h2.6M441 1155h2.6M427 1159h2.6M424 1160h2.6M427 1160h2.6M448 1160h2.6M452 1161h2.6M445 1164h2.6M473 1163h2.6M425 1167h2.6M474 1169h2.6M419 1170h2.6M422 1171h2.6M439 1170h2.6M445 1170h2.6M424 1178h2.6M432 1178h2.6M313 1183h2.6M430 1182h2.6M305 1185h2.6M312 1185h2.6M437 1185h2.6M468 1186h2.6M314 1187h2.6M300 1190h2.6M310 1189h2.6M412 1189h2.6M427 1190h2.6M412 1191h2.6M308 1195h2.6M324 1195h2.6M398 1195h2.6M418 1195h2.6M427 1194h2.6M302 1197h2.6M305 1197h2.6M322 1197h2.6M394 1196h2.6M421 1196h2.6M441 1197h2.6M340 1199h2.6M343 1199h2.6M425 1200h2.6M410 1203h2.6M413 1204h2.6M419 1204h2.6M412 1206h2.6M417 1206h2.6M420 1206h2.6M425 1207h2.6M421 1209h2.6M442 1211h2.6M410 1216h2.6M427 1215h2.6M413 1218h2.6M434 1218h2.6M424 1225h2.6" stroke="#8a4600" stroke-opacity="1" stroke-width="2.6" fill="none"/><path d="M422 931h2.6M355 933h2.6M400 947h2.6M416 948h2.6M410 950h2.6M450 950h2.6M379 953h2.6M461 953h2.6M389 956h2.6M400 956h2.6M453 954h2.6M371 958h2.6M415 958h2.6M428 957h2.6M408 960h2.6M420 967h2.6M406 970h2.6M395 973h2.6M324 974h2.6M367 975h2.6M388 974h2.6M441 975h2.6M390 976h2.6M448 976h2.6M360 979h2.6M432 979h2.6M456 979h2.6M302 981h2.6M402 982h2.6M469 981h2.6M331 984h2.6M351 983h2.6M416 986h2.6M308 988h2.6M418 988h2.6M305 992h2.6M311 991h2.6M329 990h2.6M298 994h2.6M314 994h2.6M366 993h2.6M441 994h2.6M317 996h2.6M321 996h2.6M416 995h2.6M427 996h2.6M462 996h2.6M479 996h2.6M365 999h2.6M377 998h2.6M444 998h2.6M336 1001h2.6M336 1002h2.6M353 1004h2.6M417 1002h2.6M436 1004h2.6M306 1006h2.6M353 1005h2.6M376 1006h2.6M412 1005h2.6M448 1006h2.6M453 1005h2.6M467 1005h2.6M303 1008h2.6M323 1008h2.6M326 1007h2.6M343 1007h2.6M473 1008h2.6M298 1011h2.6M310 1010h2.6M417 1010h2.6M429 1009h2.6M457 1010h2.6M303 1012h2.6M330 1013h2.6M333 1012h2.6M343 1013h2.6M360 1015h2.6M438 1016h2.6M341 1018h2.6M367 1017h2.6M391 1018h2.6M399 1018h2.6M319 1019h2.6M331 1020h2.6M338 1021h2.6M391 1019h2.6M453 1021h2.6M470 1021h2.6M372 1022h2.6M374 1022h2.6M388 1023h2.6M419 1022h2.6M316 1025h2.6M338 1025h2.6M354 1025h2.6M362 1024h2.6M419 1025h2.6M304 1028h2.6M343 1027h2.6M377 1026h2.6M344 1030h2.6M345 1030h2.6M353 1029h2.6M388 1030h2.6M439 1030h2.6M303 1032h2.6M305 1032h2.6M316 1031h2.6M330 1031h2.6M339 1034h2.6M383 1033h2.6M397 1035h2.6M331 1037h2.6M351 1036h2.6M358 1036h2.6M370 1036h2.6M413 1036h2.6M327 1039h2.6M342 1039h2.6M350 1040h2.6M356 1038h2.6M364 1040h2.6M378 1038h2.6M383 1039h2.6M303 1041h2.6M307 1041h2.6M311 1041h2.6M327 1041h2.6M374 1041h2.6M404 1042h2.6M443 1042h2.6M446 1042h2.6M467 1042h2.6M310 1044h2.6M314 1044h2.6M340 1044h2.6M371 1043h2.6M435 1043h2.6M310 1046h2.6M337 1046h2.6M349 1047h2.6M355 1047h2.6M382 1047h2.6M368 1048h2.6M392 1049h2.6M453 1048h2.6M317 1050h2.6M346 1051h2.6M355 1050h2.6M443 1051h2.6M447 1050h2.6M447 1051h2.6M321 1054h2.6M324 1053h2.6M374 1053h2.6M382 1053h2.6M397 1053h2.6M410 1053h2.6M310 1055h2.6M324 1055h2.6M391 1056h2.6M403 1056h2.6M377 1058h2.6M389 1059h2.6M391 1059h2.6M406 1058h2.6M299 1061h2.6M306 1061h2.6M319 1061h2.6M322 1061h2.6M345 1061h2.6M350 1061h2.6M357 1061h2.6M364 1061h2.6M367 1061h2.6M374 1061h2.6M385 1061h2.6M381 1062h2.6M412 1062h2.6M350 1065h2.6M352 1065h2.6M359 1065h2.6M383 1064h2.6M402 1066h2.6M410 1065h2.6M318 1068h2.6M328 1067h2.6M336 1067h2.6M341 1068h2.6M358 1067h2.6M377 1067h2.6M446 1067h2.6M301 1069h2.6M358 1069h2.6M361 1071h2.6M376 1070h2.6M383 1070h2.6M310 1073h2.6M316 1073h2.6M345 1073h2.6M348 1073h2.6M370 1072h2.6M378 1073h2.6M342 1075h2.6M378 1075h2.6M392 1074h2.6M424 1075h2.6M329 1077h2.6M338 1078h2.6M340 1078h2.6M369 1078h2.6M375 1076h2.6M376 1077h2.6M380 1076h2.6M398 1078h2.6M317 1080h2.6M328 1079h2.6M372 1080h2.6M376 1080h2.6M384 1079h2.6M400 1080h2.6M297 1083h2.6M309 1081h2.6M324 1082h2.6M326 1081h2.6M374 1081h2.6M391 1082h2.6M405 1081h2.6M300 1085h2.6M340 1085h2.6M356 1085h2.6M372 1084h2.6M385 1084h2.6M389 1084h2.6M400 1084h2.6M417 1084h2.6M329 1087h2.6M371 1087h2.6M394 1087h2.6M400 1087h2.6M405 1086h2.6M407 1087h2.6M430 1087h2.6M319 1089h2.6M338 1089h2.6M360 1090h2.6M406 1089h2.6M413 1089h2.6M310 1091h2.6M317 1091h2.6M349 1091h2.6M383 1091h2.6M397 1092h2.6M412 1091h2.6M414 1091h2.6M425 1091h2.6M317 1093h2.6M340 1094h2.6M343 1094h2.6M367 1094h2.6M382 1093h2.6M386 1095h2.6M439 1095h2.6M444 1094h2.6M298 1096h2.6M322 1096h2.6M348 1097h2.6M395 1096h2.6M401 1096h2.6M415 1096h2.6M427 1097h2.6M297 1099h2.6M331 1098h2.6M336 1099h2.6M374 1099h2.6M399 1098h2.6M407 1099h2.6M409 1098h2.6M300 1100h2.6M327 1102h2.6M343 1101h2.6M374 1101h2.6M381 1102h2.6M394 1100h2.6M300 1103h2.6M306 1104h2.6M325 1103h2.6M370 1104h2.6M398 1103h2.6M425 1104h2.6M299 1106h2.6M302 1105h2.6M319 1105h2.6M343 1105h2.6M386 1106h2.6M396 1105h2.6M302 1107h2.6M307 1108h2.6M316 1109h2.6M410 1108h2.6M432 1109h2.6M298 1110h2.6M302 1111h2.6M318 1111h2.6M342 1111h2.6M363 1111h2.6M413 1111h2.6M430 1110h2.6M319 1114h2.6M331 1114h2.6M360 1113h2.6M375 1113h2.6M415 1112h2.6M424 1112h2.6M307 1115h2.6M345 1115h2.6M362 1116h2.6M395 1116h2.6M398 1115h2.6M437 1115h2.6M448 1116h2.6M391 1117h2.6M458 1118h2.6M300 1120h2.6M309 1119h2.6M336 1121h2.6M414 1120h2.6M319 1123h2.6M338 1123h2.6M372 1123h2.6M395 1122h2.6M411 1122h2.6M300 1125h2.6M302 1124h2.6M348 1126h2.6M352 1126h2.6M427 1124h2.6M299 1128h2.6M314 1127h2.6M334 1128h2.6M338 1128h2.6M340 1127h2.6M366 1127h2.6M376 1127h2.6M396 1127h2.6M397 1127h2.6M413 1128h2.6M416 1128h2.6M436 1128h2.6M441 1127h2.6M343 1130h2.6M374 1129h2.6M424 1129h2.6M298 1132h2.6M339 1132h2.6M390 1131h2.6M403 1131h2.6M309 1135h2.6M343 1134h2.6M369 1135h2.6M386 1135h2.6M389 1135h2.6M404 1134h2.6M428 1134h2.6M306 1136h2.6M317 1137h2.6M320 1136h2.6M322 1136h2.6M370 1137h2.6M408 1137h2.6M410 1137h2.6M412 1137h2.6M428 1137h2.6M458 1138h2.6M480 1136h2.6M305 1140h2.6M434 1140h2.6M311 1142h2.6M317 1142h2.6M355 1142h2.6M398 1143h2.6M407 1142h2.6M409 1141h2.6M419 1142h2.6M444 1141h2.6M453 1142h2.6M331 1144h2.6M392 1143h2.6M404 1144h2.6M410 1143h2.6M425 1145h2.6M300 1147h2.6M317 1147h2.6M349 1147h2.6M426 1147h2.6M431 1146h2.6M321 1149h2.6M327 1149h2.6M331 1148h2.6M334 1149h2.6M386 1149h2.6M407 1150h2.6M439 1150h2.6M326 1152h2.6M356 1151h2.6M359 1151h2.6M389 1151h2.6M396 1151h2.6M410 1152h2.6M414 1151h2.6M427 1152h2.6M435 1152h2.6M305 1153h2.6M306 1153h2.6M366 1153h2.6M418 1154h2.6M472 1154h2.6M317 1156h2.6M322 1157h2.6M343 1157h2.6M366 1157h2.6M414 1156h2.6M300 1158h2.6M303 1158h2.6M314 1159h2.6M340 1159h2.6M418 1159h2.6M434 1159h2.6M447 1159h2.6M375 1161h2.6M389 1160h2.6M412 1161h2.6M307 1163h2.6M310 1162h2.6M324 1163h2.6M333 1163h2.6M305 1166h2.6M307 1166h2.6M315 1166h2.6M320 1166h2.6M334 1166h2.6M341 1166h2.6M345 1166h2.6M407 1165h2.6M431 1166h2.6M338 1167h2.6M341 1168h2.6M347 1168h2.6M372 1167h2.6M384 1169h2.6M411 1168h2.6M418 1168h2.6M424 1168h2.6M434 1167h2.6M309 1170h2.6M360 1171h2.6M436 1171h2.6M354 1172h2.6M396 1172h2.6M408 1173h2.6M322 1175h2.6M344 1175h2.6M359 1175h2.6M365 1175h2.6M374 1175h2.6M412 1174h2.6M424 1175h2.6M303 1178h2.6M318 1177h2.6M328 1177h2.6M338 1177h2.6M376 1178h2.6M317 1180h2.6M329 1180h2.6M366 1181h2.6M395 1179h2.6M402 1180h2.6M429 1180h2.6M371 1182h2.6M384 1183h2.6M386 1182h2.6M388 1183h2.6M391 1183h2.6M407 1183h2.6M315 1185h2.6M340 1186h2.6M371 1185h2.6M383 1184h2.6M414 1185h2.6M422 1185h2.6M305 1187h2.6M309 1187h2.6M325 1187h2.6M334 1188h2.6M361 1188h2.6M370 1187h2.6M372 1186h2.6M306 1190h2.6M348 1189h2.6M353 1190h2.6M367 1189h2.6M397 1189h2.6M400 1189h2.6M425 1189h2.6M438 1190h2.6M363 1192h2.6M373 1193h2.6M385 1192h2.6M397 1193h2.6M404 1192h2.6M417 1192h2.6M310 1195h2.6M389 1194h2.6M394 1194h2.6M400 1194h2.6M405 1194h2.6M336 1196h2.6M345 1198h2.6M355 1197h2.6M363 1197h2.6M390 1196h2.6M314 1199h2.6M322 1198h2.6M345 1200h2.6M357 1199h2.6M383 1199h2.6M412 1200h2.6M334 1201h2.6M350 1201h2.6M357 1202h2.6M359 1202h2.6M391 1202h2.6M413 1201h2.6M307 1204h2.6M330 1204h2.6M341 1204h2.6M385 1204h2.6M388 1203h2.6M324 1207h2.6M332 1207h2.6M346 1206h2.6M367 1206h2.6M376 1207h2.6M379 1207h2.6M396 1206h2.6M398 1206h2.6M298 1209h2.6M345 1209h2.6M348 1209h2.6M351 1209h2.6M362 1209h2.6M383 1209h2.6M406 1208h2.6M298 1212h2.6M339 1212h2.6M359 1210h2.6M389 1211h2.6M392 1210h2.6M403 1210h2.6M410 1211h2.6M319 1214h2.6M331 1214h2.6M367 1213h2.6M399 1213h2.6M400 1213h2.6M415 1214h2.6M439 1213h2.6M305 1217h2.6M317 1216h2.6M325 1217h2.6M361 1216h2.6M374 1216h2.6M388 1216h2.6M403 1217h2.6M302 1219h2.6M317 1219h2.6M319 1218h2.6M327 1219h2.6M331 1219h2.6M338 1218h2.6M341 1219h2.6M343 1218h2.6M348 1218h2.6M384 1218h2.6M298 1221h2.6M309 1221h2.6M318 1221h2.6M324 1222h2.6M343 1220h2.6M345 1221h2.6M350 1220h2.6M352 1220h2.6M355 1220h2.6M360 1220h2.6M389 1221h2.6M391 1221h2.6M408 1221h2.6M410 1220h2.6M317 1223h2.6M319 1224h2.6M324 1222h2.6M350 1222h2.6M353 1224h2.6M355 1223h2.6M357 1223h2.6M366 1223h2.6M383 1224h2.6M388 1222h2.6M400 1223h2.6M420 1222h2.6M425 1223h2.6M300 1226h2.6M314 1226h2.6M316 1226h2.6M331 1226h2.6M343 1226h2.6M351 1225h2.6M352 1226h2.6M355 1225h2.6M395 1225h2.6M402 1225h2.6" stroke="#d07000" stroke-opacity="1" stroke-width="2.6" fill="none"/><path d="M403 948h2.6M419 951h2.6M350 952h2.6M354 952h2.6M385 955h2.6M409 955h2.6M353 958h2.6M362 958h2.6M370 957h2.6M412 960h2.6M416 960h2.6M420 960h2.6M393 963h2.6M417 962h2.6M396 964h2.6M372 968h2.6M371 974h2.6M437 975h2.6M355 978h2.6M388 977h2.6M385 980h2.6M384 981h2.6M436 981h2.6M453 983h2.6M462 985h2.6M307 987h2.6M379 987h2.6M422 985h2.6M317 988h2.6M324 989h2.6M479 991h2.6M308 993h2.6M432 993h2.6M457 993h2.6M305 996h2.6M323 997h2.6M379 995h2.6M446 996h2.6M453 996h2.6M297 998h2.6M302 999h2.6M314 998h2.6M331 997h2.6M341 1000h2.6M356 1001h2.6M360 1001h2.6M370 1000h2.6M364 1003h2.6M335 1005h2.6M341 1006h2.6M309 1009h2.6M352 1008h2.6M406 1008h2.6M428 1008h2.6M463 1008h2.6M327 1010h2.6M337 1010h2.6M348 1009h2.6M306 1013h2.6M309 1012h2.6M355 1012h2.6M373 1012h2.6M413 1013h2.6M312 1014h2.6M333 1015h2.6M335 1016h2.6M320 1017h2.6M333 1017h2.6M352 1017h2.6M360 1018h2.6M370 1017h2.6M377 1017h2.6M380 1017h2.6M424 1018h2.6M325 1020h2.6M378 1019h2.6M411 1021h2.6M307 1022h2.6M329 1022h2.6M331 1022h2.6M360 1023h2.6M300 1024h2.6M301 1025h2.6M380 1024h2.6M390 1024h2.6M298 1028h2.6M325 1027h2.6M374 1027h2.6M391 1026h2.6M297 1030h2.6M305 1029h2.6M341 1030h2.6M408 1029h2.6M298 1031h2.6M355 1031h2.6M412 1035h2.6M333 1037h2.6M366 1037h2.6M396 1037h2.6M417 1036h2.6M312 1038h2.6M333 1038h2.6M336 1038h2.6M395 1038h2.6M400 1038h2.6M402 1038h2.6M324 1041h2.6M361 1042h2.6M365 1041h2.6M384 1041h2.6M401 1042h2.6M404 1041h2.6M435 1041h2.6M364 1044h2.6M387 1043h2.6M318 1047h2.6M328 1045h2.6M375 1046h2.6M389 1046h2.6M395 1046h2.6M349 1048h2.6M353 1048h2.6M359 1048h2.6M300 1051h2.6M350 1050h2.6M376 1050h2.6M404 1050h2.6M412 1051h2.6M298 1054h2.6M301 1053h2.6M360 1054h2.6M402 1054h2.6M407 1053h2.6M302 1056h2.6M359 1055h2.6M381 1055h2.6M385 1055h2.6M411 1056h2.6M309 1059h2.6M331 1058h2.6M334 1057h2.6M348 1057h2.6M362 1057h2.6M367 1058h2.6M375 1059h2.6M402 1059h2.6M303 1060h2.6M309 1061h2.6M360 1061h2.6M369 1060h2.6M379 1061h2.6M384 1061h2.6M389 1061h2.6M400 1060h2.6M309 1062h2.6M336 1063h2.6M343 1064h2.6M345 1062h2.6M369 1063h2.6M309 1065h2.6M311 1066h2.6M323 1066h2.6M299 1068h2.6M312 1068h2.6M324 1068h2.6M363 1067h2.6M390 1068h2.6M312 1070h2.6M338 1069h2.6M341 1070h2.6M391 1070h2.6M300 1073h2.6M352 1072h2.6M375 1072h2.6M397 1072h2.6M297 1074h2.6M307 1075h2.6M311 1075h2.6M329 1074h2.6M346 1075h2.6M348 1074h2.6M353 1074h2.6M417 1075h2.6M301 1078h2.6M316 1077h2.6M334 1077h2.6M365 1076h2.6M389 1078h2.6M391 1078h2.6M405 1076h2.6M311 1080h2.6M346 1080h2.6M350 1079h2.6M365 1080h2.6M367 1080h2.6M387 1080h2.6M393 1080h2.6M395 1080h2.6M398 1079h2.6M407 1080h2.6M414 1079h2.6M428 1080h2.6M307 1085h2.6M317 1085h2.6M403 1085h2.6M313 1087h2.6M325 1087h2.6M335 1086h2.6M343 1086h2.6M350 1087h2.6M357 1086h2.6M375 1086h2.6M382 1087h2.6M395 1087h2.6M305 1088h2.6M329 1089h2.6M332 1089h2.6M333 1090h2.6M340 1089h2.6M345 1088h2.6M355 1088h2.6M374 1089h2.6M381 1090h2.6M383 1089h2.6M393 1089h2.6M403 1089h2.6M427 1089h2.6M305 1091h2.6M307 1091h2.6M346 1092h2.6M359 1091h2.6M364 1092h2.6M376 1092h2.6M381 1092h2.6M299 1093h2.6M310 1093h2.6M365 1094h2.6M377 1094h2.6M391 1093h2.6M411 1093h2.6M414 1093h2.6M307 1095h2.6M316 1096h2.6M323 1096h2.6M338 1096h2.6M345 1096h2.6M360 1096h2.6M372 1096h2.6M374 1096h2.6M383 1096h2.6M408 1096h2.6M432 1097h2.6M320 1099h2.6M333 1099h2.6M343 1098h2.6M358 1100h2.6M377 1099h2.6M389 1099h2.6M328 1101h2.6M347 1101h2.6M364 1101h2.6M379 1101h2.6M386 1100h2.6M405 1102h2.6M408 1102h2.6M416 1102h2.6M319 1104h2.6M345 1103h2.6M347 1104h2.6M352 1103h2.6M354 1103h2.6M393 1103h2.6M401 1103h2.6M413 1104h2.6M423 1104h2.6M431 1104h2.6M314 1106h2.6M334 1105h2.6M347 1105h2.6M362 1106h2.6M364 1106h2.6M367 1106h2.6M382 1106h2.6M400 1106h2.6M405 1105h2.6M407 1105h2.6M420 1107h2.6M426 1106h2.6M315 1108h2.6M324 1107h2.6M341 1108h2.6M364 1108h2.6M367 1108h2.6M384 1108h2.6M407 1109h2.6M416 1108h2.6M422 1107h2.6M426 1108h2.6M436 1109h2.6M321 1111h2.6M323 1110h2.6M348 1111h2.6M365 1110h2.6M378 1110h2.6M398 1111h2.6M417 1111h2.6M422 1111h2.6M308 1113h2.6M309 1113h2.6M312 1113h2.6M317 1113h2.6M329 1114h2.6M338 1114h2.6M351 1113h2.6M357 1113h2.6M362 1113h2.6M383 1114h2.6M388 1113h2.6M392 1114h2.6M409 1113h2.6M427 1114h2.6M304 1116h2.6M311 1115h2.6M332 1116h2.6M335 1116h2.6M355 1115h2.6M372 1116h2.6M377 1116h2.6M391 1116h2.6M403 1116h2.6M408 1116h2.6M412 1116h2.6M440 1116h2.6M359 1118h2.6M367 1119h2.6M369 1118h2.6M376 1117h2.6M378 1118h2.6M398 1117h2.6M402 1119h2.6M405 1117h2.6M407 1117h2.6M412 1119h2.6M298 1121h2.6M343 1121h2.6M348 1121h2.6M365 1121h2.6M368 1120h2.6M380 1121h2.6M389 1119h2.6M395 1121h2.6M405 1120h2.6M408 1121h2.6M412 1121h2.6M428 1120h2.6M321 1123h2.6M324 1123h2.6M349 1122h2.6M352 1123h2.6M366 1122h2.6M369 1123h2.6M379 1122h2.6M306 1126h2.6M311 1125h2.6M355 1124h2.6M404 1124h2.6M413 1126h2.6M431 1125h2.6M297 1127h2.6M330 1127h2.6M336 1127h2.6M355 1127h2.6M358 1128h2.6M372 1128h2.6M373 1128h2.6M402 1127h2.6M415 1127h2.6M312 1129h2.6M327 1130h2.6M331 1130h2.6M336 1129h2.6M339 1130h2.6M345 1129h2.6M354 1130h2.6M380 1129h2.6M384 1130h2.6M386 1130h2.6M388 1130h2.6M393 1130h2.6M415 1131h2.6M436 1130h2.6M309 1132h2.6M326 1133h2.6M358 1132h2.6M378 1132h2.6M385 1133h2.6M424 1132h2.6M304 1134h2.6M336 1135h2.6M338 1135h2.6M371 1134h2.6M382 1135h2.6M394 1135h2.6M418 1134h2.6M441 1134h2.6M328 1137h2.6M333 1137h2.6M336 1138h2.6M341 1137h2.6M343 1138h2.6M355 1136h2.6M379 1136h2.6M396 1137h2.6M400 1137h2.6M315 1139h2.6M335 1140h2.6M351 1139h2.6M362 1139h2.6M391 1140h2.6M396 1139h2.6M420 1138h2.6M328 1142h2.6M333 1143h2.6M337 1142h2.6M377 1141h2.6M390 1142h2.6M401 1142h2.6M403 1141h2.6M412 1141h2.6M422 1142h2.6M426 1141h2.6M307 1143h2.6M320 1144h2.6M348 1144h2.6M367 1144h2.6M384 1144h2.6M388 1145h2.6M456 1145h2.6M465 1143h2.6M305 1147h2.6M323 1147h2.6M336 1146h2.6M365 1146h2.6M375 1147h2.6M391 1147h2.6M424 1147h2.6M439 1147h2.6M450 1146h2.6M317 1149h2.6M343 1149h2.6M345 1148h2.6M352 1148h2.6M363 1149h2.6M364 1149h2.6M372 1149h2.6M376 1150h2.6M388 1149h2.6M418 1148h2.6M427 1149h2.6M308 1152h2.6M312 1152h2.6M320 1152h2.6M323 1152h2.6M332 1151h2.6M346 1151h2.6M350 1151h2.6M354 1151h2.6M364 1152h2.6M369 1151h2.6M381 1151h2.6M429 1152h2.6M431 1151h2.6M302 1154h2.6M314 1153h2.6M326 1153h2.6M333 1154h2.6M345 1153h2.6M359 1154h2.6M386 1153h2.6M394 1153h2.6M397 1154h2.6M415 1154h2.6M434 1154h2.6M331 1156h2.6M352 1156h2.6M357 1156h2.6M369 1155h2.6M377 1156h2.6M400 1156h2.6M431 1156h2.6M297 1158h2.6M309 1159h2.6M347 1158h2.6M359 1158h2.6M367 1158h2.6M369 1159h2.6M385 1159h2.6M403 1158h2.6M405 1159h2.6M412 1159h2.6M414 1158h2.6M336 1160h2.6M364 1161h2.6M371 1161h2.6M376 1161h2.6M385 1160h2.6M415 1162h2.6M417 1162h2.6M298 1164h2.6M303 1164h2.6M304 1164h2.6M319 1163h2.6M325 1164h2.6M331 1162h2.6M348 1163h2.6M354 1163h2.6M361 1164h2.6M371 1163h2.6M405 1164h2.6M323 1165h2.6M331 1166h2.6M371 1165h2.6M396 1166h2.6M405 1165h2.6M420 1166h2.6M304 1169h2.6M310 1168h2.6M314 1168h2.6M321 1168h2.6M333 1168h2.6M345 1168h2.6M359 1168h2.6M388 1169h2.6M395 1169h2.6M406 1168h2.6M408 1169h2.6M431 1168h2.6M304 1171h2.6M307 1171h2.6M324 1170h2.6M325 1171h2.6M352 1170h2.6M357 1170h2.6M371 1171h2.6M384 1171h2.6M428 1170h2.6M431 1170h2.6M307 1173h2.6M311 1173h2.6M326 1174h2.6M350 1173h2.6M386 1173h2.6M402 1173h2.6M410 1172h2.6M317 1176h2.6M338 1175h2.6M354 1175h2.6M357 1176h2.6M376 1174h2.6M383 1175h2.6M389 1174h2.6M394 1175h2.6M411 1175h2.6M415 1176h2.6M305 1178h2.6M319 1177h2.6M357 1177h2.6M379 1177h2.6M393 1177h2.6M312 1180h2.6M339 1180h2.6M346 1180h2.6M350 1181h2.6M361 1180h2.6M380 1181h2.6M386 1180h2.6M391 1180h2.6M319 1183h2.6M335 1182h2.6M340 1182h2.6M360 1182h2.6M444 1183h2.6M316 1185h2.6M322 1185h2.6M327 1185h2.6M330 1184h2.6M361 1185h2.6M374 1184h2.6M379 1184h2.6M389 1184h2.6M395 1186h2.6M406 1186h2.6M338 1187h2.6M344 1187h2.6M354 1188h2.6M357 1187h2.6M383 1188h2.6M387 1187h2.6M298 1189h2.6M305 1189h2.6M360 1190h2.6M379 1189h2.6M389 1190h2.6M406 1190h2.6M317 1192h2.6M325 1192h2.6M331 1191h2.6M345 1191h2.6M354 1193h2.6M365 1193h2.6M381 1192h2.6M396 1192h2.6M408 1192h2.6M410 1192h2.6M415 1192h2.6M300 1195h2.6M311 1194h2.6M340 1195h2.6M343 1194h2.6M350 1193h2.6M355 1195h2.6M377 1194h2.6M396 1194h2.6M422 1194h2.6M324 1197h2.6M338 1196h2.6M386 1196h2.6M398 1197h2.6M405 1197h2.6M431 1196h2.6M312 1198h2.6M335 1198h2.6M339 1199h2.6M348 1198h2.6M355 1199h2.6M379 1199h2.6M381 1198h2.6M305 1202h2.6M310 1201h2.6M355 1201h2.6M366 1201h2.6M386 1202h2.6M394 1202h2.6M402 1201h2.6M406 1202h2.6M300 1204h2.6M323 1205h2.6M328 1204h2.6M343 1204h2.6M351 1204h2.6M355 1204h2.6M361 1205h2.6M371 1204h2.6M376 1204h2.6M406 1204h2.6M434 1205h2.6M328 1207h2.6M342 1207h2.6M356 1206h2.6M387 1206h2.6M400 1206h2.6M324 1209h2.6M340 1209h2.6M343 1208h2.6M366 1209h2.6M378 1209h2.6M380 1209h2.6M386 1209h2.6M393 1208h2.6M400 1209h2.6M321 1211h2.6M323 1211h2.6M341 1210h2.6M342 1210h2.6M398 1211h2.6M400 1211h2.6M304 1214h2.6M310 1213h2.6M333 1214h2.6M361 1213h2.6M371 1214h2.6M377 1214h2.6M388 1214h2.6M409 1213h2.6M321 1215h2.6M323 1217h2.6M331 1216h2.6M341 1216h2.6M386 1216h2.6M398 1215h2.6M412 1216h2.6M415 1216h2.6M305 1219h2.6M322 1219h2.6M323 1218h2.6M382 1218h2.6M389 1218h2.6M395 1217h2.6M400 1219h2.6M404 1218h2.6M415 1219h2.6M302 1221h2.6M305 1221h2.6M316 1220h2.6M326 1221h2.6M357 1220h2.6M364 1220h2.6M379 1221h2.6M381 1221h2.6M393 1221h2.6M403 1222h2.6M412 1221h2.6M420 1221h2.6M325 1223h2.6M340 1223h2.6M375 1223h2.6M379 1224h2.6M387 1223h2.6M395 1223h2.6M402 1224h2.6M405 1223h2.6M414 1223h2.6M432 1223h2.6M347 1226h2.6M358 1225h2.6M385 1225h2.6M399 1225h2.6" stroke="#ff8c00" stroke-opacity="1" stroke-width="2.6" fill="none"/><path d="M309 1003h2.6M322 1003h2.6M298 1005h2.6M345 1009h2.6M300 1010h2.6M297 1013h2.6M321 1013h2.6M328 1013h2.6M348 1012h2.6M361 1012h2.6M348 1015h2.6M335 1018h2.6M351 1018h2.6M297 1020h2.6M305 1020h2.6M361 1020h2.6M350 1024h2.6M346 1028h2.6M347 1027h2.6M360 1026h2.6M369 1028h2.6M310 1030h2.6M315 1030h2.6M317 1030h2.6M322 1029h2.6M333 1028h2.6M335 1030h2.6M307 1032h2.6M340 1032h2.6M345 1032h2.6M312 1034h2.6M319 1034h2.6M326 1035h2.6M329 1034h2.6M343 1035h2.6M357 1033h2.6M372 1034h2.6M363 1036h2.6M319 1039h2.6M329 1040h2.6M362 1039h2.6M371 1038h2.6M300 1041h2.6M379 1042h2.6M316 1043h2.6M319 1044h2.6M375 1044h2.6M314 1047h2.6M326 1047h2.6M359 1046h2.6M362 1047h2.6M311 1049h2.6M362 1049h2.6M383 1049h2.6M317 1053h2.6M362 1054h2.6M367 1054h2.6M318 1055h2.6M344 1056h2.6M349 1055h2.6M340 1057h2.6M364 1059h2.6M353 1061h2.6M406 1061h2.6M307 1062h2.6M348 1063h2.6M356 1064h2.6M360 1062h2.6M364 1063h2.6M377 1063h2.6M304 1065h2.6M315 1065h2.6M319 1065h2.6M364 1065h2.6M297 1067h2.6M303 1068h2.6M326 1068h2.6M366 1068h2.6M374 1067h2.6M298 1070h2.6M310 1071h2.6M314 1071h2.6M319 1070h2.6M322 1071h2.6M327 1070h2.6M342 1071h2.6M344 1069h2.6M348 1070h2.6M353 1069h2.6M355 1070h2.6M364 1070h2.6M373 1070h2.6M302 1073h2.6M321 1073h2.6M326 1072h2.6M331 1072h2.6M336 1073h2.6M343 1073h2.6M357 1072h2.6M365 1072h2.6M367 1072h2.6M377 1072h2.6M382 1073h2.6M383 1072h2.6M403 1072h2.6M324 1075h2.6M327 1075h2.6M338 1075h2.6M351 1075h2.6M355 1075h2.6M357 1075h2.6M362 1074h2.6M364 1075h2.6M367 1075h2.6M373 1075h2.6M388 1075h2.6M391 1076h2.6M396 1074h2.6M412 1075h2.6M312 1077h2.6M319 1077h2.6M322 1078h2.6M326 1077h2.6M332 1077h2.6M343 1077h2.6M345 1076h2.6M348 1076h2.6M351 1077h2.6M352 1077h2.6M356 1077h2.6M360 1077h2.6M381 1077h2.6M395 1077h2.6M401 1078h2.6M300 1080h2.6M314 1080h2.6M319 1079h2.6M322 1080h2.6M327 1080h2.6M331 1080h2.6M334 1079h2.6M341 1080h2.6M343 1080h2.6M352 1079h2.6M357 1080h2.6M360 1079h2.6M361 1079h2.6M369 1079h2.6M388 1080h2.6M391 1080h2.6M405 1080h2.6M307 1083h2.6M316 1083h2.6M333 1083h2.6M343 1081h2.6M359 1082h2.6M363 1082h2.6M365 1082h2.6M369 1082h2.6M386 1082h2.6M395 1082h2.6M315 1083h2.6M321 1084h2.6M326 1085h2.6M328 1084h2.6M331 1084h2.6M339 1084h2.6M344 1084h2.6M344 1084h2.6M347 1085h2.6M350 1085h2.6M352 1084h2.6M357 1085h2.6M369 1084h2.6M374 1084h2.6M382 1084h2.6M384 1084h2.6M394 1084h2.6M398 1084h2.6M307 1087h2.6M309 1087h2.6M317 1086h2.6M321 1087h2.6M324 1087h2.6M331 1087h2.6M333 1086h2.6M338 1086h2.6M340 1087h2.6M346 1086h2.6M348 1088h2.6M353 1087h2.6M355 1086h2.6M359 1087h2.6M362 1087h2.6M370 1087h2.6M376 1087h2.6M380 1087h2.6M384 1087h2.6M391 1086h2.6M397 1086h2.6M402 1088h2.6M412 1087h2.6M414 1087h2.6M308 1089h2.6M309 1089h2.6M317 1089h2.6M321 1088h2.6M324 1089h2.6M326 1089h2.6M343 1089h2.6M350 1089h2.6M362 1088h2.6M365 1089h2.6M366 1088h2.6M369 1089h2.6M371 1089h2.6M377 1090h2.6M388 1090h2.6M390 1089h2.6M396 1090h2.6M400 1089h2.6M311 1092h2.6M314 1092h2.6M319 1092h2.6M324 1091h2.6M328 1092h2.6M361 1091h2.6M367 1091h2.6M371 1092h2.6M378 1091h2.6M393 1091h2.6M305 1094h2.6M307 1094h2.6M312 1094h2.6M320 1094h2.6M323 1094h2.6M326 1094h2.6M328 1094h2.6M331 1094h2.6M334 1095h2.6M337 1093h2.6M338 1094h2.6M345 1093h2.6M347 1095h2.6M349 1094h2.6M353 1094h2.6M354 1094h2.6M360 1094h2.6M369 1094h2.6M379 1093h2.6M384 1094h2.6M389 1093h2.6M412 1094h2.6M300 1096h2.6M312 1096h2.6M319 1096h2.6M329 1095h2.6M335 1097h2.6M350 1096h2.6M355 1096h2.6M357 1096h2.6M362 1096h2.6M364 1096h2.6M366 1097h2.6M370 1096h2.6M377 1096h2.6M378 1096h2.6M387 1097h2.6M391 1096h2.6M403 1096h2.6M406 1096h2.6M412 1097h2.6M420 1097h2.6M302 1099h2.6M304 1098h2.6M306 1098h2.6M313 1098h2.6M316 1099h2.6M321 1099h2.6M326 1099h2.6M329 1099h2.6M337 1099h2.6M345 1099h2.6M348 1099h2.6M350 1099h2.6M353 1099h2.6M356 1099h2.6M359 1099h2.6M368 1098h2.6M370 1099h2.6M371 1099h2.6M384 1099h2.6M393 1099h2.6M400 1098h2.6M402 1098h2.6M412 1099h2.6M429 1099h2.6M297 1101h2.6M303 1102h2.6M309 1101h2.6M311 1100h2.6M314 1102h2.6M333 1101h2.6M335 1102h2.6M337 1101h2.6M341 1102h2.6M350 1102h2.6M353 1102h2.6M355 1100h2.6M359 1102h2.6M362 1102h2.6M366 1101h2.6M370 1102h2.6M376 1101h2.6M383 1101h2.6M396 1102h2.6M399 1102h2.6M402 1101h2.6M413 1101h2.6M420 1102h2.6M424 1100h2.6M298 1104h2.6M304 1104h2.6M312 1103h2.6M314 1103h2.6M316 1103h2.6M327 1104h2.6M336 1103h2.6M351 1104h2.6M358 1103h2.6M365 1103h2.6M372 1103h2.6M374 1103h2.6M376 1103h2.6M390 1104h2.6M395 1103h2.6M404 1103h2.6M414 1103h2.6M297 1106h2.6M307 1106h2.6M310 1106h2.6M313 1105h2.6M317 1106h2.6M322 1105h2.6M340 1106h2.6M351 1107h2.6M352 1106h2.6M357 1106h2.6M359 1106h2.6M374 1106h2.6M379 1106h2.6M383 1107h2.6M391 1105h2.6M394 1105h2.6M398 1105h2.6M413 1105h2.6M416 1106h2.6M300 1109h2.6M310 1107h2.6M311 1108h2.6M322 1108h2.6M326 1109h2.6M328 1109h2.6M333 1109h2.6M338 1108h2.6M345 1108h2.6M347 1109h2.6M354 1108h2.6M358 1109h2.6M362 1109h2.6M369 1109h2.6M376 1109h2.6M378 1108h2.6M385 1108h2.6M393 1109h2.6M396 1108h2.6M398 1109h2.6M400 1107h2.6M406 1109h2.6M412 1107h2.6M414 1108h2.6M420 1109h2.6M300 1110h2.6M305 1111h2.6M314 1110h2.6M317 1111h2.6M327 1112h2.6M329 1110h2.6M334 1110h2.6M338 1110h2.6M341 1110h2.6M358 1110h2.6M371 1110h2.6M377 1110h2.6M387 1110h2.6M388 1110h2.6M391 1110h2.6M393 1110h2.6M401 1110h2.6M404 1111h2.6M419 1110h2.6M299 1113h2.6M302 1114h2.6M314 1112h2.6M324 1113h2.6M333 1112h2.6M335 1114h2.6M341 1112h2.6M342 1114h2.6M346 1113h2.6M348 1114h2.6M353 1113h2.6M355 1113h2.6M369 1113h2.6M387 1113h2.6M396 1112h2.6M404 1113h2.6M405 1113h2.6M300 1116h2.6M319 1116h2.6M322 1115h2.6M324 1116h2.6M327 1116h2.6M334 1115h2.6M343 1115h2.6M348 1115h2.6M351 1116h2.6M357 1115h2.6M360 1116h2.6M367 1116h2.6M374 1115h2.6M383 1115h2.6M386 1115h2.6M416 1116h2.6M309 1117h2.6M319 1117h2.6M331 1118h2.6M333 1117h2.6M336 1117h2.6M350 1118h2.6M352 1117h2.6M362 1117h2.6M372 1118h2.6M381 1117h2.6M384 1118h2.6M393 1118h2.6M401 1118h2.6M411 1118h2.6M415 1118h2.6M303 1119h2.6M304 1120h2.6M306 1120h2.6M317 1121h2.6M319 1120h2.6M322 1120h2.6M329 1121h2.6M334 1120h2.6M350 1121h2.6M353 1120h2.6M355 1120h2.6M363 1120h2.6M370 1120h2.6M374 1120h2.6M376 1121h2.6M380 1119h2.6M384 1121h2.6M393 1121h2.6M398 1120h2.6M401 1120h2.6M421 1120h2.6M424 1120h2.6M297 1122h2.6M302 1122h2.6M309 1123h2.6M328 1123h2.6M331 1123h2.6M333 1123h2.6M335 1123h2.6M343 1123h2.6M357 1122h2.6M360 1123h2.6M387 1123h2.6M388 1123h2.6M391 1122h2.6M392 1123h2.6M398 1122h2.6M403 1122h2.6M412 1123h2.6M415 1123h2.6M416 1123h2.6M419 1122h2.6M297 1126h2.6M322 1125h2.6M323 1125h2.6M325 1125h2.6M332 1125h2.6M335 1126h2.6M337 1124h2.6M343 1126h2.6M360 1126h2.6M363 1124h2.6M372 1125h2.6M374 1124h2.6M377 1125h2.6M380 1126h2.6M391 1125h2.6M393 1125h2.6M396 1125h2.6M397 1124h2.6M400 1125h2.6M403 1125h2.6M408 1125h2.6M410 1126h2.6M420 1126h2.6M424 1125h2.6M430 1125h2.6M433 1126h2.6M317 1127h2.6M319 1127h2.6M327 1127h2.6M348 1128h2.6M351 1127h2.6M360 1127h2.6M362 1128h2.6M364 1127h2.6M369 1127h2.6M381 1127h2.6M386 1127h2.6M393 1128h2.6M408 1128h2.6M420 1128h2.6M421 1127h2.6M430 1128h2.6M434 1128h2.6M297 1129h2.6M307 1130h2.6M309 1130h2.6M315 1130h2.6M316 1130h2.6M319 1130h2.6M329 1129h2.6M348 1130h2.6M351 1131h2.6M360 1130h2.6M364 1129h2.6M367 1129h2.6M369 1129h2.6M377 1130h2.6M379 1129h2.6M396 1130h2.6M399 1130h2.6M401 1131h2.6M402 1130h2.6M405 1130h2.6M417 1129h2.6M428 1131h2.6M300 1133h2.6M303 1132h2.6M305 1133h2.6M314 1132h2.6M318 1132h2.6M324 1131h2.6M329 1132h2.6M331 1132h2.6M333 1132h2.6M340 1132h2.6M343 1131h2.6M346 1132h2.6M348 1132h2.6M351 1133h2.6M353 1132h2.6M355 1131h2.6M360 1133h2.6M369 1133h2.6M371 1132h2.6M375 1133h2.6M377 1132h2.6M383 1132h2.6M394 1133h2.6M415 1133h2.6M420 1133h2.6M422 1133h2.6M298 1135h2.6M301 1134h2.6M308 1135h2.6M319 1134h2.6M321 1135h2.6M328 1135h2.6M333 1135h2.6M340 1134h2.6M346 1134h2.6M351 1135h2.6M354 1135h2.6M358 1135h2.6M362 1134h2.6M367 1134h2.6M374 1134h2.6M379 1134h2.6M383 1135h2.6M391 1135h2.6M395 1135h2.6M397 1135h2.6M401 1135h2.6M403 1134h2.6M408 1135h2.6M410 1134h2.6M415 1134h2.6M419 1134h2.6M421 1134h2.6M425 1135h2.6M302 1137h2.6M304 1137h2.6M310 1138h2.6M324 1136h2.6M346 1138h2.6M348 1137h2.6M350 1137h2.6M358 1137h2.6M359 1137h2.6M362 1136h2.6M365 1136h2.6M368 1138h2.6M372 1137h2.6M374 1138h2.6M380 1137h2.6M385 1137h2.6M390 1137h2.6M392 1137h2.6M398 1138h2.6M420 1138h2.6M310 1140h2.6M316 1140h2.6M319 1140h2.6M323 1139h2.6M327 1140h2.6M331 1139h2.6M340 1139h2.6M343 1140h2.6M348 1139h2.6M360 1139h2.6M367 1138h2.6M371 1140h2.6M381 1140h2.6M386 1139h2.6M400 1140h2.6M405 1139h2.6M407 1139h2.6M424 1140h2.6M305 1141h2.6M321 1142h2.6M323 1141h2.6M327 1142h2.6M331 1142h2.6M336 1142h2.6M341 1141h2.6M343 1141h2.6M345 1141h2.6M348 1141h2.6M358 1142h2.6M360 1142h2.6M361 1141h2.6M364 1142h2.6M367 1142h2.6M369 1141h2.6M372 1142h2.6M375 1142h2.6M379 1141h2.6M382 1142h2.6M386 1142h2.6M389 1141h2.6M393 1141h2.6M406 1142h2.6M424 1142h2.6M303 1144h2.6M304 1144h2.6M309 1145h2.6M322 1144h2.6M326 1145h2.6M339 1143h2.6M340 1145h2.6M345 1144h2.6M350 1145h2.6M355 1144h2.6M360 1143h2.6M363 1145h2.6M364 1144h2.6M372 1145h2.6M377 1145h2.6M387 1144h2.6M396 1144h2.6M401 1144h2.6M302 1146h2.6M309 1147h2.6M312 1146h2.6M321 1147h2.6M327 1146h2.6M329 1146h2.6M331 1147h2.6M334 1147h2.6M341 1147h2.6M346 1147h2.6M349 1147h2.6M356 1147h2.6M358 1147h2.6M366 1147h2.6M369 1146h2.6M376 1146h2.6M378 1147h2.6M381 1146h2.6M400 1147h2.6M403 1147h2.6M410 1146h2.6M412 1146h2.6M415 1147h2.6M423 1147h2.6M304 1149h2.6M320 1149h2.6M324 1149h2.6M348 1149h2.6M350 1148h2.6M354 1149h2.6M357 1148h2.6M367 1149h2.6M369 1150h2.6M379 1149h2.6M381 1148h2.6M398 1150h2.6M401 1149h2.6M403 1149h2.6M410 1149h2.6M300 1152h2.6M303 1151h2.6M305 1150h2.6M314 1150h2.6M317 1151h2.6M321 1152h2.6M328 1152h2.6M336 1151h2.6M340 1152h2.6M343 1152h2.6M353 1151h2.6M362 1152h2.6M371 1151h2.6M374 1152h2.6M380 1152h2.6M384 1151h2.6M390 1151h2.6M400 1152h2.6M405 1152h2.6M423 1150h2.6M424 1152h2.6M433 1151h2.6M298 1153h2.6M300 1155h2.6M312 1154h2.6M317 1154h2.6M318 1154h2.6M321 1154h2.6M324 1154h2.6M328 1155h2.6M337 1154h2.6M338 1153h2.6M341 1153h2.6M353 1154h2.6M354 1154h2.6M364 1154h2.6M369 1154h2.6M371 1154h2.6M374 1154h2.6M376 1155h2.6M388 1153h2.6M391 1153h2.6M396 1154h2.6M405 1154h2.6M410 1153h2.6M412 1154h2.6M307 1157h2.6M310 1156h2.6M313 1156h2.6M319 1157h2.6M324 1157h2.6M328 1156h2.6M338 1157h2.6M340 1156h2.6M345 1156h2.6M348 1157h2.6M350 1156h2.6M365 1156h2.6M371 1156h2.6M374 1156h2.6M380 1157h2.6M383 1157h2.6M388 1156h2.6M391 1155h2.6M393 1157h2.6M396 1157h2.6M398 1157h2.6M402 1156h2.6M406 1157h2.6M410 1157h2.6M416 1156h2.6M422 1157h2.6M305 1158h2.6M307 1159h2.6M312 1158h2.6M316 1158h2.6M324 1159h2.6M327 1158h2.6M328 1158h2.6M331 1159h2.6M338 1158h2.6M342 1159h2.6M350 1158h2.6M353 1159h2.6M357 1159h2.6M375 1158h2.6M376 1158h2.6M384 1158h2.6M389 1158h2.6M396 1158h2.6M399 1159h2.6M408 1159h2.6M309 1161h2.6M312 1161h2.6M321 1161h2.6M327 1160h2.6M328 1162h2.6M331 1160h2.6M334 1161h2.6M346 1161h2.6M353 1161h2.6M354 1161h2.6M358 1161h2.6M360 1160h2.6M362 1161h2.6M370 1161h2.6M382 1162h2.6M394 1161h2.6M397 1161h2.6M403 1161h2.6M419 1160h2.6M314 1163h2.6M321 1163h2.6M335 1164h2.6M351 1163h2.6M353 1163h2.6M362 1163h2.6M367 1163h2.6M369 1164h2.6M375 1164h2.6M381 1163h2.6M383 1163h2.6M386 1163h2.6M388 1164h2.6M391 1164h2.6M393 1163h2.6M395 1163h2.6M399 1163h2.6M401 1164h2.6M403 1163h2.6M410 1163h2.6M414 1162h2.6M418 1163h2.6M426 1163h2.6M300 1166h2.6M312 1166h2.6M321 1165h2.6M329 1166h2.6M338 1166h2.6M344 1166h2.6M347 1166h2.6M351 1165h2.6M354 1166h2.6M360 1166h2.6M362 1166h2.6M374 1166h2.6M376 1166h2.6M391 1166h2.6M393 1166h2.6M397 1166h2.6M401 1165h2.6M403 1166h2.6M411 1166h2.6M416 1165h2.6M422 1165h2.6M319 1168h2.6M325 1167h2.6M328 1169h2.6M335 1168h2.6M354 1168h2.6M362 1168h2.6M364 1168h2.6M367 1168h2.6M374 1168h2.6M380 1168h2.6M387 1168h2.6M393 1168h2.6M398 1168h2.6M401 1168h2.6M412 1167h2.6M419 1168h2.6M303 1170h2.6M312 1171h2.6M317 1170h2.6M318 1171h2.6M328 1171h2.6M338 1171h2.6M343 1170h2.6M345 1170h2.6M362 1170h2.6M364 1170h2.6M367 1170h2.6M369 1170h2.6M377 1170h2.6M379 1170h2.6M381 1171h2.6M386 1170h2.6M390 1171h2.6M394 1170h2.6M396 1171h2.6M401 1171h2.6M418 1170h2.6M424 1170h2.6M297 1173h2.6M299 1173h2.6M302 1174h2.6M315 1173h2.6M320 1173h2.6M328 1173h2.6M333 1172h2.6M336 1174h2.6M343 1172h2.6M357 1173h2.6M361 1173h2.6M364 1172h2.6M370 1172h2.6M372 1173h2.6M376 1174h2.6M378 1173h2.6M381 1173h2.6M384 1172h2.6M388 1173h2.6M390 1172h2.6M394 1173h2.6M398 1172h2.6M299 1175h2.6M301 1175h2.6M309 1175h2.6M315 1175h2.6M319 1175h2.6M323 1174h2.6M326 1176h2.6M328 1175h2.6M336 1175h2.6M340 1175h2.6M346 1176h2.6M349 1175h2.6M362 1176h2.6M378 1175h2.6M382 1175h2.6M387 1175h2.6M390 1176h2.6M396 1175h2.6M398 1176h2.6M400 1176h2.6M308 1178h2.6M314 1178h2.6M322 1178h2.6M340 1177h2.6M343 1178h2.6M349 1178h2.6M352 1178h2.6M362 1178h2.6M365 1178h2.6M371 1177h2.6M374 1178h2.6M384 1177h2.6M389 1177h2.6M390 1178h2.6M395 1177h2.6M319 1179h2.6M322 1180h2.6M323 1180h2.6M330 1179h2.6M336 1180h2.6M354 1180h2.6M360 1179h2.6M364 1180h2.6M372 1179h2.6M381 1180h2.6M384 1180h2.6M389 1180h2.6M392 1180h2.6M412 1181h2.6M324 1182h2.6M328 1182h2.6M339 1182h2.6M343 1182h2.6M347 1182h2.6M354 1182h2.6M363 1182h2.6M368 1182h2.6M375 1182h2.6M377 1183h2.6M378 1183h2.6M395 1183h2.6M398 1182h2.6M410 1182h2.6M318 1185h2.6M328 1185h2.6M338 1184h2.6M343 1185h2.6M348 1184h2.6M350 1184h2.6M359 1185h2.6M367 1185h2.6M377 1186h2.6M387 1185h2.6M391 1185h2.6M394 1184h2.6M410 1185h2.6M317 1187h2.6M321 1187h2.6M329 1187h2.6M332 1188h2.6M348 1187h2.6M351 1188h2.6M359 1188h2.6M374 1187h2.6M378 1187h2.6M381 1187h2.6M389 1187h2.6M394 1187h2.6M312 1189h2.6M321 1189h2.6M327 1189h2.6M331 1190h2.6M338 1190h2.6M345 1189h2.6M358 1189h2.6M362 1190h2.6M364 1189h2.6M369 1189h2.6M372 1190h2.6M374 1190h2.6M381 1190h2.6M384 1189h2.6M394 1189h2.6M395 1190h2.6M297 1192h2.6M319 1193h2.6M322 1192h2.6M329 1192h2.6M333 1192h2.6M338 1191h2.6M343 1191h2.6M352 1191h2.6M358 1193h2.6M360 1192h2.6M366 1192h2.6M376 1191h2.6M392 1191h2.6M331 1195h2.6M345 1195h2.6M348 1194h2.6M357 1194h2.6M365 1194h2.6M367 1194h2.6M369 1195h2.6M375 1195h2.6M384 1193h2.6M403 1194h2.6M411 1195h2.6M348 1197h2.6M359 1196h2.6M371 1196h2.6M382 1196h2.6M309 1200h2.6M319 1199h2.6M326 1198h2.6M332 1198h2.6M333 1199h2.6M359 1200h2.6M367 1199h2.6M376 1199h2.6M391 1199h2.6M402 1199h2.6M406 1198h2.6M297 1201h2.6M317 1201h2.6M321 1201h2.6M323 1202h2.6M337 1201h2.6M344 1201h2.6M353 1201h2.6M363 1201h2.6M364 1202h2.6M372 1201h2.6M377 1201h2.6M396 1202h2.6M400 1201h2.6M420 1201h2.6M305 1205h2.6M310 1204h2.6M312 1203h2.6M315 1204h2.6M320 1204h2.6M326 1203h2.6M346 1204h2.6M364 1204h2.6M391 1204h2.6M396 1204h2.6M398 1203h2.6M400 1203h2.6M403 1204h2.6M421 1204h2.6M299 1206h2.6M302 1206h2.6M334 1207h2.6M340 1206h2.6M357 1206h2.6M359 1205h2.6M369 1206h2.6M372 1206h2.6M408 1206h2.6M303 1209h2.6M309 1209h2.6M319 1209h2.6M322 1210h2.6M333 1208h2.6M365 1209h2.6M391 1208h2.6M397 1210h2.6M299 1211h2.6M307 1211h2.6M310 1210h2.6M317 1212h2.6M328 1211h2.6M336 1211h2.6M347 1211h2.6M350 1211h2.6M354 1210h2.6M358 1211h2.6M362 1211h2.6M367 1211h2.6M379 1212h2.6M381 1211h2.6M383 1211h2.6M387 1211h2.6M390 1212h2.6M417 1210h2.6M297 1214h2.6M300 1214h2.6M307 1213h2.6M312 1213h2.6M315 1214h2.6M317 1214h2.6M327 1214h2.6M328 1214h2.6M339 1214h2.6M347 1214h2.6M358 1213h2.6M359 1213h2.6M368 1214h2.6M378 1214h2.6M381 1214h2.6M384 1213h2.6M402 1213h2.6M407 1213h2.6M419 1214h2.6M308 1216h2.6M314 1216h2.6M319 1216h2.6M333 1216h2.6M338 1216h2.6M344 1215h2.6M353 1216h2.6M360 1216h2.6M367 1216h2.6M369 1216h2.6M381 1216h2.6M394 1216h2.6M395 1217h2.6M399 1216h2.6M407 1216h2.6M309 1217h2.6M352 1218h2.6M354 1218h2.6M364 1219h2.6M368 1218h2.6M374 1219h2.6M378 1218h2.6M393 1219h2.6M398 1219h2.6M407 1219h2.6M315 1220h2.6M321 1220h2.6M329 1221h2.6M333 1220h2.6M338 1220h2.6M349 1221h2.6M370 1221h2.6M372 1220h2.6M375 1221h2.6M400 1220h2.6M418 1220h2.6M302 1223h2.6M313 1223h2.6M321 1224h2.6M331 1223h2.6M333 1224h2.6M345 1222h2.6M362 1224h2.6M369 1223h2.6M376 1223h2.6M381 1224h2.6M392 1223h2.6M410 1223h2.6M326 1225h2.6M328 1225h2.6M333 1226h2.6M339 1226h2.6M340 1225h2.6M346 1225h2.6M359 1226h2.6M361 1225h2.6M365 1226h2.6M367 1225h2.6M371 1225h2.6M377 1225h2.6M379 1226h2.6M381 1226h2.6M384 1226h2.6M394 1225h2.6M407 1226h2.6" stroke="#ffa020" stroke-opacity="1" stroke-width="2.6" fill="none"/></g><g filter="url(#fblur45)"><path d="M662 901h2.6M738 903h2.6M739 907h2.6M645 923h2.6M664 933h2.6M689 934h2.6M638 936h2.6M664 937h2.6M744 937h2.6M686 938h2.6M691 938h2.6M719 939h2.6M728 939h2.6M636 941h2.6M651 941h2.6M694 940h2.6M703 940h2.6M708 940h2.6M729 941h2.6M725 943h2.6M641 946h2.6M736 946h2.6M621 949h2.6M650 949h2.6M686 948h2.6M708 948h2.6M720 949h2.6M628 951h2.6M708 951h2.6M607 954h2.6M653 954h2.6M667 952h2.6M735 953h2.6M636 955h2.6M678 956h2.6M626 958h2.6M659 958h2.6M669 958h2.6M709 957h2.6M638 959h2.6M653 959h2.6M655 961h2.6M661 959h2.6M669 960h2.6M673 959h2.6M693 960h2.6M736 960h2.6M666 963h2.6M688 963h2.6M605 964h2.6M625 964h2.6M628 964h2.6M651 965h2.6M652 964h2.6M700 965h2.6M708 964h2.6M714 964h2.6M719 964h2.6M575 968h2.6M581 966h2.6M588 968h2.6M605 967h2.6M617 967h2.6M656 967h2.6M663 967h2.6M721 967h2.6M724 966h2.6M735 968h2.6M624 969h2.6M713 969h2.6M723 970h2.6M748 969h2.6M640 973h2.6M658 973h2.6M679 972h2.6M695 973h2.6M724 972h2.6M569 974h2.6M600 974h2.6M652 975h2.6M700 974h2.6M576 977h2.6M583 977h2.6M656 977h2.6M659 977h2.6M664 976h2.6M671 976h2.6M713 976h2.6M762 977h2.6M583 979h2.6M588 980h2.6M590 979h2.6M612 979h2.6M623 979h2.6M635 979h2.6M642 979h2.6M668 979h2.6M678 979h2.6M716 980h2.6M566 982h2.6M593 982h2.6M618 982h2.6M631 982h2.6M650 981h2.6M671 982h2.6M642 984h2.6M650 984h2.6M672 984h2.6M570 986h2.6M585 986h2.6M615 987h2.6M625 987h2.6M641 987h2.6M653 987h2.6M666 986h2.6M697 986h2.6M703 986h2.6M745 986h2.6M645 988h2.6M655 989h2.6M657 988h2.6M661 988h2.6M669 989h2.6M694 988h2.6M695 990h2.6M718 989h2.6M726 989h2.6M744 988h2.6M574 991h2.6M629 991h2.6M666 991h2.6M750 991h2.6M563 994h2.6M608 993h2.6M612 993h2.6M621 993h2.6M657 993h2.6M679 994h2.6M702 993h2.6M714 994h2.6M741 993h2.6M579 996h2.6M592 995h2.6M634 996h2.6M636 996h2.6M655 995h2.6M708 996h2.6M720 996h2.6M731 996h2.6M777 996h2.6M617 998h2.6M640 998h2.6M738 999h2.6M566 1001h2.6M602 1001h2.6M610 1000h2.6M614 1001h2.6M628 1000h2.6M633 1001h2.6M733 1001h2.6M571 1003h2.6M608 1003h2.6M635 1004h2.6M643 1003h2.6M648 1004h2.6M693 1004h2.6M570 1005h2.6M591 1005h2.6M631 1006h2.6M642 1005h2.6M652 1005h2.6M662 1005h2.6M681 1005h2.6M688 1005h2.6M564 1008h2.6M586 1009h2.6M635 1008h2.6M699 1007h2.6M748 1008h2.6M609 1010h2.6M627 1011h2.6M633 1010h2.6M635 1010h2.6M671 1010h2.6M677 1009h2.6M688 1010h2.6M690 1011h2.6M700 1009h2.6M720 1010h2.6M748 1011h2.6M638 1012h2.6M674 1012h2.6M691 1013h2.6M714 1012h2.6M743 1013h2.6M577 1014h2.6M595 1015h2.6M618 1014h2.6M631 1014h2.6M653 1016h2.6M689 1015h2.6M634 1018h2.6M672 1017h2.6M674 1017h2.6M710 1017h2.6M743 1017h2.6M585 1021h2.6M602 1020h2.6M617 1019h2.6M655 1020h2.6M661 1020h2.6M677 1020h2.6M681 1020h2.6M708 1019h2.6M590 1023h2.6M592 1022h2.6M603 1022h2.6M610 1022h2.6M640 1022h2.6M679 1022h2.6M703 1021h2.6M612 1025h2.6M618 1024h2.6M630 1024h2.6M640 1024h2.6M649 1025h2.6M660 1025h2.6M670 1024h2.6M680 1024h2.6M615 1027h2.6M660 1027h2.6M669 1027h2.6M683 1027h2.6M708 1027h2.6M566 1030h2.6M607 1030h2.6M628 1030h2.6M637 1030h2.6M686 1030h2.6M703 1029h2.6M705 1029h2.6M722 1029h2.6M723 1029h2.6M572 1031h2.6M576 1031h2.6M577 1032h2.6M584 1032h2.6M589 1032h2.6M580 1033h2.6M626 1035h2.6M638 1034h2.6M707 1035h2.6M710 1034h2.6M568 1037h2.6M652 1036h2.6M655 1036h2.6M685 1037h2.6M700 1036h2.6M702 1037h2.6M599 1039h2.6M642 1038h2.6M648 1039h2.6M664 1038h2.6M691 1039h2.6M695 1039h2.6M700 1038h2.6M573 1042h2.6M588 1040h2.6M604 1042h2.6M657 1042h2.6M702 1041h2.6M747 1042h2.6M567 1044h2.6M573 1043h2.6M597 1044h2.6M639 1043h2.6M643 1043h2.6M653 1044h2.6M657 1044h2.6M714 1044h2.6M569 1047h2.6M639 1047h2.6M665 1047h2.6M671 1046h2.6M674 1045h2.6M711 1046h2.6M591 1048h2.6M645 1049h2.6M667 1049h2.6M703 1048h2.6M707 1048h2.6M715 1048h2.6M682 1050h2.6M717 1051h2.6M593 1053h2.6M602 1054h2.6M609 1053h2.6M626 1054h2.6M652 1053h2.6M672 1053h2.6M686 1054h2.6M725 1054h2.6M566 1056h2.6M568 1056h2.6M580 1056h2.6M595 1056h2.6M668 1055h2.6M569 1058h2.6M576 1058h2.6M607 1058h2.6M621 1058h2.6M635 1059h2.6M662 1058h2.6M588 1061h2.6M593 1060h2.6M614 1060h2.6M635 1060h2.6M715 1060h2.6M590 1063h2.6M645 1063h2.6M651 1063h2.6M662 1062h2.6M684 1062h2.6M695 1063h2.6M718 1062h2.6M573 1065h2.6M589 1065h2.6M601 1065h2.6M626 1065h2.6M668 1065h2.6M568 1068h2.6M645 1068h2.6M564 1070h2.6M659 1070h2.6M664 1071h2.6M698 1072h2.6M567 1076h2.6M576 1075h2.6M682 1074h2.6M573 1077h2.6M686 1077h2.6M688 1077h2.6M566 1080h2.6M744 1079h2.6M673 1082h2.6M689 1081h2.6M708 1081h2.6M564 1084h2.6M570 1084h2.6M574 1085h2.6M666 1084h2.6M678 1085h2.6M697 1085h2.6M704 1086h2.6M781 1086h2.6M696 1089h2.6M747 1090h2.6M679 1091h2.6M693 1091h2.6M689 1101h2.6M700 1102h2.6M678 1103h2.6M705 1103h2.6M683 1106h2.6M719 1106h2.6M692 1113h2.6M713 1112h2.6M689 1115h2.6M690 1116h2.6M708 1116h2.6M720 1117h2.6M729 1118h2.6M707 1120h2.6M738 1120h2.6M694 1125h2.6M702 1126h2.6M698 1128h2.6M705 1127h2.6M712 1127h2.6M717 1128h2.6M719 1127h2.6M703 1130h2.6M705 1131h2.6M719 1130h2.6M730 1130h2.6M688 1132h2.6M745 1135h2.6M694 1137h2.6M701 1142h2.6M715 1141h2.6M695 1146h2.6M698 1149h2.6M704 1149h2.6M714 1149h2.6M720 1149h2.6M701 1151h2.6M681 1156h2.6M722 1156h2.6M714 1159h2.6M681 1163h2.6M683 1164h2.6M688 1163h2.6M715 1163h2.6M691 1166h2.6M705 1165h2.6M694 1170h2.6M696 1172h2.6M563 1175h2.6M696 1182h2.6M708 1183h2.6M564 1185h2.6M686 1184h2.6M561 1187h2.6M567 1187h2.6M675 1187h2.6M682 1190h2.6M683 1189h2.6M578 1192h2.6M659 1192h2.6M663 1191h2.6M688 1191h2.6M573 1193h2.6M583 1195h2.6M586 1195h2.6M691 1194h2.6M697 1194h2.6M595 1196h2.6M699 1197h2.6M703 1197h2.6M577 1199h2.6M597 1199h2.6M621 1199h2.6M678 1199h2.6M695 1202h2.6M630 1203h2.6M681 1204h2.6M702 1204h2.6M686 1206h2.6M687 1207h2.6M695 1207h2.6M697 1206h2.6M673 1209h2.6M691 1210h2.6M698 1208h2.6M703 1209h2.6M669 1212h2.6M691 1210h2.6M666 1218h2.6M680 1217h2.6M686 1221h2.6M696 1224h2.6M671 1226h2.6M701 1226h2.6" stroke="#2f7000" stroke-opacity="1" stroke-width="2.6" fill="none"/><path d="M648 912h2.6M633 921h2.6M643 921h2.6M650 927h2.6M697 931h2.6M707 936h2.6M661 939h2.6M617 941h2.6M671 943h2.6M695 945h2.6M719 946h2.6M683 949h2.6M645 951h2.6M657 950h2.6M640 953h2.6M655 953h2.6M681 955h2.6M633 958h2.6M681 958h2.6M645 960h2.6M628 962h2.6M638 963h2.6M645 963h2.6M705 962h2.6M664 965h2.6M677 964h2.6M634 967h2.6M739 968h2.6M599 969h2.6M660 969h2.6M684 969h2.6M697 969h2.6M590 972h2.6M629 971h2.6M615 977h2.6M630 977h2.6M667 978h2.6M593 978h2.6M615 980h2.6M702 979h2.6M667 981h2.6M678 981h2.6M760 982h2.6M569 985h2.6M619 984h2.6M640 984h2.6M738 983h2.6M575 986h2.6M624 986h2.6M712 985h2.6M638 989h2.6M712 989h2.6M738 989h2.6M583 991h2.6M649 991h2.6M677 991h2.6M678 990h2.6M686 992h2.6M701 991h2.6M734 990h2.6M605 993h2.6M697 993h2.6M585 996h2.6M675 996h2.6M684 996h2.6M645 999h2.6M655 998h2.6M718 999h2.6M732 999h2.6M573 1001h2.6M589 1001h2.6M605 1001h2.6M667 1000h2.6M704 1000h2.6M715 1001h2.6M755 1001h2.6M589 1003h2.6M601 1002h2.6M655 1002h2.6M660 1003h2.6M645 1005h2.6M650 1006h2.6M701 1005h2.6M572 1009h2.6M573 1008h2.6M619 1007h2.6M621 1008h2.6M629 1008h2.6M567 1010h2.6M614 1011h2.6M682 1009h2.6M704 1011h2.6M706 1010h2.6M589 1013h2.6M607 1012h2.6M662 1013h2.6M697 1012h2.6M562 1016h2.6M599 1016h2.6M611 1016h2.6M636 1015h2.6M666 1016h2.6M681 1015h2.6M727 1015h2.6M569 1018h2.6M576 1018h2.6M593 1017h2.6M648 1017h2.6M684 1018h2.6M591 1020h2.6M627 1020h2.6M638 1020h2.6M652 1019h2.6M723 1020h2.6M566 1023h2.6M581 1022h2.6M587 1021h2.6M626 1022h2.6M629 1022h2.6M658 1021h2.6M671 1023h2.6M723 1022h2.6M576 1025h2.6M600 1024h2.6M657 1025h2.6M696 1024h2.6M561 1026h2.6M587 1027h2.6M595 1028h2.6M612 1028h2.6M620 1028h2.6M631 1027h2.6M642 1027h2.6M688 1027h2.6M690 1027h2.6M741 1027h2.6M573 1029h2.6M591 1029h2.6M597 1029h2.6M620 1029h2.6M641 1030h2.6M667 1029h2.6M678 1030h2.6M754 1029h2.6M567 1033h2.6M569 1031h2.6M609 1032h2.6M645 1033h2.6M717 1031h2.6M561 1033h2.6M583 1034h2.6M595 1035h2.6M683 1034h2.6M717 1035h2.6M571 1036h2.6M576 1036h2.6M605 1037h2.6M621 1036h2.6M674 1036h2.6M678 1036h2.6M696 1037h2.6M571 1038h2.6M592 1039h2.6M602 1039h2.6M635 1040h2.6M719 1039h2.6M564 1041h2.6M576 1041h2.6M592 1042h2.6M622 1040h2.6M624 1042h2.6M630 1041h2.6M677 1041h2.6M561 1044h2.6M563 1044h2.6M599 1045h2.6M602 1043h2.6M614 1044h2.6M632 1043h2.6M674 1044h2.6M724 1043h2.6M589 1046h2.6M609 1046h2.6M612 1046h2.6M626 1046h2.6M633 1047h2.6M641 1047h2.6M683 1046h2.6M727 1046h2.6M600 1049h2.6M602 1048h2.6M604 1049h2.6M606 1048h2.6M613 1048h2.6M621 1048h2.6M630 1049h2.6M641 1048h2.6M653 1048h2.6M671 1048h2.6M697 1049h2.6M580 1050h2.6M599 1051h2.6M613 1051h2.6M628 1050h2.6M633 1051h2.6M698 1050h2.6M567 1053h2.6M572 1052h2.6M586 1053h2.6M589 1054h2.6M595 1054h2.6M605 1054h2.6M623 1053h2.6M651 1054h2.6M657 1053h2.6M705 1053h2.6M616 1055h2.6M632 1056h2.6M638 1056h2.6M643 1056h2.6M645 1055h2.6M667 1055h2.6M573 1059h2.6M579 1058h2.6M583 1058h2.6M604 1058h2.6M628 1058h2.6M643 1058h2.6M659 1058h2.6M568 1060h2.6M617 1061h2.6M623 1061h2.6M627 1061h2.6M659 1060h2.6M667 1061h2.6M681 1061h2.6M561 1063h2.6M564 1062h2.6M569 1063h2.6M583 1063h2.6M611 1062h2.6M613 1063h2.6M672 1063h2.6M688 1063h2.6M587 1065h2.6M597 1066h2.6M633 1066h2.6M636 1066h2.6M648 1064h2.6M582 1068h2.6M595 1067h2.6M600 1067h2.6M610 1068h2.6M617 1067h2.6M621 1068h2.6M628 1068h2.6M650 1068h2.6M660 1068h2.6M690 1068h2.6M595 1070h2.6M600 1069h2.6M580 1072h2.6M588 1072h2.6M596 1072h2.6M610 1072h2.6M619 1073h2.6M659 1073h2.6M663 1073h2.6M565 1075h2.6M583 1074h2.6M642 1075h2.6M653 1074h2.6M678 1075h2.6M569 1077h2.6M577 1077h2.6M590 1077h2.6M592 1077h2.6M617 1077h2.6M624 1077h2.6M631 1076h2.6M646 1076h2.6M669 1078h2.6M674 1077h2.6M609 1079h2.6M614 1079h2.6M620 1080h2.6M627 1080h2.6M629 1080h2.6M664 1080h2.6M676 1079h2.6M599 1083h2.6M604 1082h2.6M617 1081h2.6M623 1082h2.6M628 1082h2.6M638 1082h2.6M645 1081h2.6M665 1082h2.6M669 1081h2.6M671 1082h2.6M692 1082h2.6M568 1085h2.6M582 1084h2.6M590 1084h2.6M592 1084h2.6M600 1085h2.6M604 1084h2.6M627 1084h2.6M628 1084h2.6M650 1084h2.6M655 1084h2.6M665 1084h2.6M565 1087h2.6M593 1086h2.6M594 1087h2.6M601 1086h2.6M629 1087h2.6M630 1087h2.6M649 1087h2.6M588 1089h2.6M624 1088h2.6M663 1090h2.6M700 1088h2.6M573 1092h2.6M648 1091h2.6M570 1094h2.6M604 1094h2.6M636 1093h2.6M643 1094h2.6M646 1094h2.6M655 1095h2.6M659 1093h2.6M680 1093h2.6M688 1094h2.6M568 1097h2.6M607 1096h2.6M647 1096h2.6M649 1096h2.6M655 1096h2.6M585 1099h2.6M657 1099h2.6M686 1098h2.6M726 1099h2.6M579 1100h2.6M590 1100h2.6M622 1101h2.6M640 1100h2.6M654 1101h2.6M666 1100h2.6M673 1101h2.6M679 1101h2.6M681 1102h2.6M563 1103h2.6M573 1103h2.6M594 1103h2.6M609 1103h2.6M630 1103h2.6M652 1104h2.6M674 1103h2.6M676 1103h2.6M690 1103h2.6M567 1105h2.6M576 1106h2.6M588 1105h2.6M616 1105h2.6M638 1105h2.6M671 1106h2.6M705 1105h2.6M569 1109h2.6M573 1108h2.6M577 1108h2.6M602 1109h2.6M648 1108h2.6M666 1108h2.6M672 1109h2.6M688 1109h2.6M702 1109h2.6M563 1111h2.6M565 1110h2.6M583 1110h2.6M607 1110h2.6M612 1111h2.6M621 1110h2.6M630 1111h2.6M663 1110h2.6M600 1112h2.6M563 1115h2.6M605 1116h2.6M629 1116h2.6M610 1118h2.6M632 1118h2.6M667 1117h2.6M693 1118h2.6M700 1118h2.6M561 1121h2.6M568 1120h2.6M622 1120h2.6M631 1120h2.6M633 1121h2.6M636 1119h2.6M657 1120h2.6M659 1120h2.6M676 1121h2.6M682 1121h2.6M688 1121h2.6M706 1120h2.6M564 1122h2.6M579 1123h2.6M607 1123h2.6M611 1122h2.6M631 1123h2.6M660 1123h2.6M686 1122h2.6M561 1125h2.6M566 1125h2.6M616 1126h2.6M626 1126h2.6M638 1125h2.6M639 1124h2.6M679 1125h2.6M561 1127h2.6M585 1127h2.6M670 1127h2.6M672 1128h2.6M674 1128h2.6M566 1129h2.6M570 1130h2.6M636 1129h2.6M677 1130h2.6M576 1131h2.6M669 1132h2.6M598 1134h2.6M676 1135h2.6M688 1134h2.6M566 1136h2.6M586 1138h2.6M595 1136h2.6M667 1138h2.6M705 1137h2.6M720 1137h2.6M586 1140h2.6M600 1140h2.6M614 1140h2.6M619 1139h2.6M652 1140h2.6M662 1139h2.6M664 1139h2.6M675 1139h2.6M680 1140h2.6M687 1139h2.6M595 1142h2.6M605 1141h2.6M650 1142h2.6M679 1141h2.6M684 1141h2.6M563 1144h2.6M572 1145h2.6M621 1144h2.6M669 1144h2.6M674 1144h2.6M675 1145h2.6M698 1144h2.6M729 1145h2.6M591 1147h2.6M597 1146h2.6M602 1146h2.6M690 1146h2.6M700 1146h2.6M578 1149h2.6M602 1149h2.6M633 1149h2.6M657 1150h2.6M563 1151h2.6M569 1151h2.6M600 1151h2.6M612 1152h2.6M615 1151h2.6M675 1152h2.6M683 1151h2.6M692 1152h2.6M573 1153h2.6M611 1154h2.6M614 1154h2.6M619 1154h2.6M643 1154h2.6M667 1153h2.6M676 1153h2.6M715 1154h2.6M566 1157h2.6M574 1157h2.6M584 1156h2.6M626 1156h2.6M638 1157h2.6M646 1155h2.6M652 1156h2.6M659 1157h2.6M662 1156h2.6M673 1156h2.6M676 1156h2.6M692 1156h2.6M710 1156h2.6M609 1158h2.6M644 1158h2.6M648 1159h2.6M655 1159h2.6M675 1159h2.6M574 1162h2.6M647 1162h2.6M661 1161h2.6M581 1163h2.6M591 1162h2.6M597 1162h2.6M602 1163h2.6M617 1163h2.6M634 1164h2.6M578 1165h2.6M586 1165h2.6M625 1165h2.6M657 1165h2.6M662 1166h2.6M671 1166h2.6M685 1166h2.6M575 1168h2.6M593 1168h2.6M625 1169h2.6M630 1167h2.6M677 1169h2.6M565 1171h2.6M567 1170h2.6M571 1170h2.6M574 1170h2.6M575 1170h2.6M586 1171h2.6M606 1170h2.6M617 1171h2.6M629 1170h2.6M638 1171h2.6M674 1171h2.6M679 1170h2.6M695 1171h2.6M707 1171h2.6M569 1173h2.6M579 1173h2.6M629 1173h2.6M632 1173h2.6M651 1172h2.6M685 1172h2.6M567 1175h2.6M579 1176h2.6M585 1175h2.6M622 1176h2.6M701 1176h2.6M563 1177h2.6M566 1178h2.6M578 1178h2.6M601 1177h2.6M629 1177h2.6M671 1178h2.6M687 1178h2.6M729 1178h2.6M567 1181h2.6M590 1180h2.6M672 1179h2.6M674 1180h2.6M566 1183h2.6M574 1182h2.6M608 1183h2.6M638 1182h2.6M640 1183h2.6M681 1182h2.6M566 1184h2.6M576 1185h2.6M589 1185h2.6M612 1185h2.6M616 1185h2.6M626 1186h2.6M640 1185h2.6M645 1185h2.6M647 1185h2.6M564 1187h2.6M571 1188h2.6M593 1186h2.6M648 1188h2.6M651 1187h2.6M668 1187h2.6M575 1189h2.6M606 1189h2.6M614 1190h2.6M621 1190h2.6M640 1190h2.6M732 1189h2.6M580 1191h2.6M584 1192h2.6M593 1193h2.6M602 1192h2.6M616 1191h2.6M693 1192h2.6M561 1193h2.6M563 1194h2.6M621 1195h2.6M679 1194h2.6M567 1196h2.6M569 1196h2.6M609 1196h2.6M615 1198h2.6M620 1196h2.6M634 1197h2.6M648 1197h2.6M649 1197h2.6M680 1197h2.6M611 1199h2.6M620 1199h2.6M639 1199h2.6M571 1202h2.6M573 1202h2.6M576 1202h2.6M580 1201h2.6M599 1201h2.6M612 1202h2.6M636 1202h2.6M640 1202h2.6M656 1202h2.6M661 1202h2.6M573 1203h2.6M575 1204h2.6M591 1203h2.6M624 1205h2.6M626 1204h2.6M635 1203h2.6M640 1205h2.6M647 1204h2.6M650 1203h2.6M657 1205h2.6M660 1204h2.6M662 1203h2.6M708 1205h2.6M564 1206h2.6M587 1207h2.6M605 1207h2.6M612 1206h2.6M613 1205h2.6M621 1207h2.6M628 1206h2.6M640 1206h2.6M652 1207h2.6M567 1209h2.6M588 1208h2.6M590 1208h2.6M598 1208h2.6M600 1209h2.6M607 1210h2.6M624 1209h2.6M638 1208h2.6M641 1208h2.6M645 1208h2.6M681 1208h2.6M604 1212h2.6M611 1212h2.6M629 1210h2.6M664 1211h2.6M717 1210h2.6M566 1213h2.6M581 1214h2.6M588 1213h2.6M590 1213h2.6M624 1214h2.6M627 1213h2.6M636 1214h2.6M653 1213h2.6M670 1213h2.6M707 1213h2.6M561 1216h2.6M568 1216h2.6M577 1216h2.6M585 1217h2.6M608 1216h2.6M621 1217h2.6M623 1215h2.6M637 1215h2.6M641 1216h2.6M648 1216h2.6M569 1218h2.6M581 1218h2.6M582 1219h2.6M586 1219h2.6M592 1219h2.6M597 1219h2.6M633 1219h2.6M640 1218h2.6M672 1218h2.6M573 1220h2.6M588 1220h2.6M591 1221h2.6M600 1220h2.6M610 1221h2.6M638 1221h2.6M653 1221h2.6M667 1221h2.6M677 1221h2.6M695 1220h2.6M592 1223h2.6M613 1223h2.6M636 1223h2.6M660 1224h2.6M669 1223h2.6M577 1226h2.6M583 1225h2.6M590 1225h2.6M658 1226h2.6M662 1225h2.6M667 1226h2.6M683 1225h2.6" stroke="#4cb000" stroke-opacity="1" stroke-width="2.6" fill="none"/><path d="M647 935h2.6M641 944h2.6M695 944h2.6M688 946h2.6M680 949h2.6M654 951h2.6M727 951h2.6M648 954h2.6M634 960h2.6M679 960h2.6M685 962h2.6M624 965h2.6M644 964h2.6M660 967h2.6M698 968h2.6M714 968h2.6M717 968h2.6M633 970h2.6M689 969h2.6M613 972h2.6M663 973h2.6M671 972h2.6M676 971h2.6M697 971h2.6M629 975h2.6M668 974h2.6M675 974h2.6M714 975h2.6M706 977h2.6M708 979h2.6M636 981h2.6M652 982h2.6M660 982h2.6M700 981h2.6M708 982h2.6M671 986h2.6M688 986h2.6M710 987h2.6M621 989h2.6M633 992h2.6M578 994h2.6M599 994h2.6M630 993h2.6M652 994h2.6M665 993h2.6M566 996h2.6M587 995h2.6M596 996h2.6M602 995h2.6M619 995h2.6M729 995h2.6M564 998h2.6M591 997h2.6M593 998h2.6M709 1001h2.6M718 1001h2.6M721 1000h2.6M564 1003h2.6M583 1003h2.6M605 1003h2.6M641 1003h2.6M685 1003h2.6M703 1003h2.6M712 1003h2.6M561 1005h2.6M564 1006h2.6M602 1005h2.6M628 1005h2.6M669 1005h2.6M690 1006h2.6M738 1005h2.6M566 1007h2.6M575 1007h2.6M593 1008h2.6M612 1007h2.6M585 1010h2.6M592 1009h2.6M685 1011h2.6M710 1010h2.6M725 1011h2.6M603 1013h2.6M636 1013h2.6M576 1016h2.6M588 1016h2.6M593 1015h2.6M628 1015h2.6M707 1016h2.6M564 1018h2.6M574 1017h2.6M590 1018h2.6M614 1017h2.6M576 1020h2.6M579 1021h2.6M592 1021h2.6M613 1020h2.6M630 1019h2.6M703 1019h2.6M716 1019h2.6M598 1022h2.6M604 1021h2.6M618 1021h2.6M643 1022h2.6M676 1023h2.6M642 1025h2.6M644 1024h2.6M679 1025h2.6M697 1024h2.6M714 1025h2.6M572 1026h2.6M581 1027h2.6M636 1028h2.6M640 1027h2.6M648 1027h2.6M663 1028h2.6M697 1028h2.6M571 1030h2.6M582 1029h2.6M616 1029h2.6M621 1030h2.6M636 1030h2.6M652 1029h2.6M671 1029h2.6M597 1031h2.6M604 1032h2.6M608 1031h2.6M615 1031h2.6M630 1031h2.6M640 1031h2.6M690 1031h2.6M724 1032h2.6M728 1031h2.6M563 1033h2.6M569 1034h2.6M576 1035h2.6M593 1035h2.6M616 1034h2.6M631 1034h2.6M633 1034h2.6M679 1035h2.6M561 1036h2.6M565 1036h2.6M592 1036h2.6M608 1036h2.6M629 1036h2.6M563 1038h2.6M573 1038h2.6M624 1038h2.6M659 1039h2.6M568 1041h2.6M581 1040h2.6M589 1041h2.6M612 1042h2.6M636 1041h2.6M643 1042h2.6M582 1044h2.6M604 1044h2.6M607 1043h2.6M638 1044h2.6M662 1043h2.6M671 1044h2.6M695 1044h2.6M573 1046h2.6M588 1047h2.6M616 1046h2.6M622 1046h2.6M623 1045h2.6M631 1046h2.6M635 1046h2.6M569 1049h2.6M571 1048h2.6M573 1049h2.6M579 1049h2.6M609 1048h2.6M635 1049h2.6M650 1049h2.6M660 1049h2.6M623 1052h2.6M626 1051h2.6M643 1051h2.6M650 1051h2.6M662 1050h2.6M581 1053h2.6M583 1054h2.6M587 1053h2.6M597 1054h2.6M606 1054h2.6M612 1053h2.6M616 1054h2.6M618 1054h2.6M638 1053h2.6M643 1054h2.6M688 1054h2.6M563 1056h2.6M588 1056h2.6M652 1055h2.6M665 1055h2.6M671 1055h2.6M684 1055h2.6M703 1056h2.6M596 1058h2.6M600 1059h2.6M672 1058h2.6M574 1061h2.6M575 1060h2.6M585 1061h2.6M599 1061h2.6M604 1061h2.6M645 1061h2.6M647 1061h2.6M650 1061h2.6M676 1060h2.6M686 1060h2.6M609 1062h2.6M616 1063h2.6M619 1062h2.6M670 1063h2.6M676 1063h2.6M562 1064h2.6M596 1066h2.6M605 1065h2.6M617 1065h2.6M620 1065h2.6M628 1065h2.6M650 1066h2.6M661 1066h2.6M664 1064h2.6M673 1064h2.6M565 1067h2.6M592 1068h2.6M605 1067h2.6M624 1068h2.6M640 1068h2.6M666 1068h2.6M681 1068h2.6M578 1070h2.6M609 1070h2.6M629 1070h2.6M637 1070h2.6M641 1070h2.6M674 1069h2.6M689 1069h2.6M563 1073h2.6M605 1073h2.6M623 1072h2.6M625 1073h2.6M634 1072h2.6M667 1072h2.6M671 1072h2.6M684 1072h2.6M687 1073h2.6M585 1075h2.6M592 1075h2.6M597 1075h2.6M614 1075h2.6M654 1074h2.6M660 1075h2.6M667 1074h2.6M683 1074h2.6M562 1078h2.6M580 1076h2.6M583 1077h2.6M599 1077h2.6M605 1078h2.6M606 1076h2.6M679 1078h2.6M562 1080h2.6M590 1079h2.6M604 1079h2.6M624 1079h2.6M648 1080h2.6M652 1079h2.6M660 1080h2.6M683 1080h2.6M573 1082h2.6M579 1082h2.6M585 1081h2.6M592 1082h2.6M602 1082h2.6M619 1081h2.6M647 1082h2.6M657 1082h2.6M660 1082h2.6M666 1082h2.6M578 1084h2.6M587 1084h2.6M603 1084h2.6M641 1084h2.6M681 1083h2.6M598 1087h2.6M609 1087h2.6M619 1087h2.6M623 1086h2.6M636 1086h2.6M643 1087h2.6M645 1086h2.6M660 1087h2.6M674 1087h2.6M600 1090h2.6M604 1090h2.6M610 1089h2.6M628 1089h2.6M635 1090h2.6M645 1090h2.6M647 1089h2.6M667 1089h2.6M679 1088h2.6M571 1091h2.6M576 1091h2.6M578 1092h2.6M585 1091h2.6M593 1092h2.6M602 1091h2.6M605 1091h2.6M617 1091h2.6M629 1091h2.6M643 1092h2.6M644 1092h2.6M657 1091h2.6M672 1091h2.6M676 1092h2.6M688 1092h2.6M561 1093h2.6M579 1095h2.6M585 1094h2.6M595 1093h2.6M598 1094h2.6M607 1094h2.6M622 1093h2.6M626 1094h2.6M640 1094h2.6M649 1093h2.6M700 1094h2.6M573 1096h2.6M585 1096h2.6M594 1095h2.6M613 1096h2.6M617 1097h2.6M633 1096h2.6M652 1096h2.6M658 1096h2.6M703 1096h2.6M567 1098h2.6M571 1099h2.6M603 1099h2.6M645 1100h2.6M655 1099h2.6M663 1098h2.6M665 1099h2.6M676 1099h2.6M678 1098h2.6M572 1101h2.6M650 1101h2.6M662 1100h2.6M671 1101h2.6M582 1103h2.6M600 1103h2.6M607 1103h2.6M613 1104h2.6M621 1104h2.6M638 1103h2.6M650 1104h2.6M663 1104h2.6M578 1105h2.6M592 1106h2.6M619 1106h2.6M626 1106h2.6M629 1106h2.6M643 1106h2.6M652 1106h2.6M654 1106h2.6M657 1106h2.6M664 1106h2.6M674 1105h2.6M681 1105h2.6M693 1106h2.6M561 1107h2.6M564 1107h2.6M571 1108h2.6M581 1109h2.6M583 1108h2.6M586 1108h2.6M674 1108h2.6M676 1108h2.6M686 1108h2.6M570 1111h2.6M579 1111h2.6M590 1111h2.6M610 1111h2.6M614 1111h2.6M635 1111h2.6M640 1110h2.6M647 1111h2.6M669 1111h2.6M686 1110h2.6M569 1113h2.6M574 1113h2.6M592 1112h2.6M598 1113h2.6M611 1113h2.6M614 1114h2.6M621 1113h2.6M634 1112h2.6M642 1112h2.6M648 1114h2.6M652 1113h2.6M659 1113h2.6M684 1114h2.6M704 1112h2.6M562 1116h2.6M567 1115h2.6M581 1116h2.6M583 1115h2.6M607 1115h2.6M624 1116h2.6M625 1116h2.6M640 1115h2.6M647 1116h2.6M654 1115h2.6M664 1115h2.6M678 1116h2.6M693 1115h2.6M703 1116h2.6M568 1119h2.6M578 1118h2.6M587 1118h2.6M607 1117h2.6M612 1118h2.6M624 1117h2.6M628 1118h2.6M636 1117h2.6M646 1118h2.6M659 1118h2.6M664 1117h2.6M684 1117h2.6M686 1118h2.6M703 1118h2.6M571 1120h2.6M590 1120h2.6M598 1120h2.6M604 1120h2.6M645 1121h2.6M655 1120h2.6M665 1120h2.6M678 1120h2.6M733 1120h2.6M570 1122h2.6M581 1123h2.6M585 1123h2.6M613 1122h2.6M636 1122h2.6M640 1122h2.6M647 1122h2.6M649 1123h2.6M665 1122h2.6M678 1122h2.6M682 1123h2.6M691 1123h2.6M704 1122h2.6M578 1125h2.6M581 1125h2.6M595 1124h2.6M605 1124h2.6M606 1125h2.6M609 1125h2.6M614 1125h2.6M648 1125h2.6M675 1126h2.6M676 1126h2.6M685 1125h2.6M568 1127h2.6M573 1128h2.6M581 1127h2.6M613 1127h2.6M619 1128h2.6M622 1128h2.6M626 1127h2.6M628 1127h2.6M633 1127h2.6M640 1127h2.6M644 1127h2.6M650 1128h2.6M654 1127h2.6M664 1128h2.6M681 1127h2.6M688 1128h2.6M694 1127h2.6M561 1130h2.6M569 1130h2.6M577 1130h2.6M587 1129h2.6M597 1129h2.6M605 1129h2.6M621 1129h2.6M637 1130h2.6M652 1131h2.6M671 1130h2.6M602 1131h2.6M604 1132h2.6M609 1132h2.6M644 1131h2.6M648 1133h2.6M650 1133h2.6M653 1132h2.6M655 1131h2.6M665 1133h2.6M667 1132h2.6M693 1133h2.6M567 1134h2.6M572 1134h2.6M587 1135h2.6M593 1134h2.6M595 1135h2.6M609 1134h2.6M619 1135h2.6M623 1135h2.6M661 1135h2.6M671 1135h2.6M690 1135h2.6M700 1134h2.6M568 1137h2.6M571 1137h2.6M573 1137h2.6M587 1137h2.6M617 1136h2.6M624 1138h2.6M635 1138h2.6M638 1138h2.6M647 1136h2.6M652 1137h2.6M657 1137h2.6M660 1137h2.6M674 1137h2.6M698 1136h2.6M564 1139h2.6M590 1139h2.6M603 1140h2.6M604 1139h2.6M607 1139h2.6M616 1139h2.6M667 1140h2.6M590 1141h2.6M608 1143h2.6M636 1142h2.6M639 1141h2.6M640 1143h2.6M647 1142h2.6M652 1142h2.6M662 1142h2.6M669 1142h2.6M674 1141h2.6M676 1142h2.6M562 1144h2.6M576 1143h2.6M580 1145h2.6M583 1144h2.6M588 1144h2.6M598 1144h2.6M609 1145h2.6M624 1144h2.6M631 1144h2.6M635 1144h2.6M647 1145h2.6M650 1144h2.6M681 1145h2.6M688 1144h2.6M690 1144h2.6M693 1145h2.6M577 1146h2.6M595 1146h2.6M599 1146h2.6M619 1146h2.6M638 1146h2.6M642 1147h2.6M654 1147h2.6M669 1147h2.6M674 1147h2.6M676 1147h2.6M688 1147h2.6M562 1149h2.6M566 1148h2.6M574 1149h2.6M576 1149h2.6M600 1149h2.6M604 1149h2.6M610 1149h2.6M611 1149h2.6M621 1148h2.6M629 1149h2.6M642 1149h2.6M645 1148h2.6M647 1149h2.6M671 1149h2.6M686 1150h2.6M691 1150h2.6M695 1149h2.6M577 1151h2.6M593 1150h2.6M603 1151h2.6M604 1151h2.6M617 1151h2.6M623 1152h2.6M640 1152h2.6M643 1152h2.6M645 1151h2.6M648 1152h2.6M652 1152h2.6M657 1151h2.6M664 1152h2.6M687 1151h2.6M571 1154h2.6M575 1154h2.6M588 1154h2.6M593 1153h2.6M628 1154h2.6M640 1153h2.6M670 1153h2.6M678 1154h2.6M681 1153h2.6M591 1155h2.6M604 1156h2.6M616 1157h2.6M623 1156h2.6M628 1157h2.6M635 1157h2.6M640 1155h2.6M651 1157h2.6M654 1156h2.6M664 1156h2.6M672 1156h2.6M566 1158h2.6M585 1158h2.6M605 1158h2.6M617 1158h2.6M618 1158h2.6M630 1159h2.6M657 1158h2.6M662 1158h2.6M672 1158h2.6M681 1158h2.6M688 1158h2.6M694 1158h2.6M698 1159h2.6M561 1161h2.6M569 1161h2.6M571 1161h2.6M590 1161h2.6M592 1161h2.6M598 1160h2.6M606 1162h2.6M612 1161h2.6M625 1161h2.6M656 1162h2.6M705 1160h2.6M561 1162h2.6M595 1164h2.6M607 1163h2.6M612 1163h2.6M621 1163h2.6M631 1163h2.6M635 1164h2.6M641 1163h2.6M660 1162h2.6M666 1163h2.6M673 1164h2.6M690 1163h2.6M568 1166h2.6M576 1166h2.6M580 1166h2.6M602 1165h2.6M604 1165h2.6M607 1166h2.6M629 1166h2.6M630 1165h2.6M676 1166h2.6M564 1167h2.6M567 1168h2.6M579 1167h2.6M581 1168h2.6M587 1168h2.6M600 1168h2.6M602 1167h2.6M623 1168h2.6M628 1168h2.6M636 1169h2.6M638 1168h2.6M651 1168h2.6M654 1167h2.6M663 1167h2.6M671 1168h2.6M569 1171h2.6M623 1170h2.6M625 1171h2.6M652 1171h2.6M672 1170h2.6M680 1171h2.6M683 1170h2.6M690 1171h2.6M565 1173h2.6M565 1173h2.6M576 1172h2.6M621 1174h2.6M623 1173h2.6M637 1173h2.6M642 1173h2.6M662 1173h2.6M681 1172h2.6M561 1176h2.6M583 1175h2.6M590 1176h2.6M602 1176h2.6M607 1176h2.6M612 1175h2.6M634 1175h2.6M646 1175h2.6M679 1175h2.6M694 1176h2.6M581 1178h2.6M597 1177h2.6M600 1177h2.6M607 1177h2.6M612 1178h2.6M614 1177h2.6M619 1178h2.6M621 1178h2.6M624 1177h2.6M633 1177h2.6M641 1178h2.6M665 1178h2.6M666 1178h2.6M584 1179h2.6M594 1181h2.6M600 1179h2.6M605 1180h2.6M610 1180h2.6M618 1180h2.6M625 1179h2.6M629 1179h2.6M633 1180h2.6M645 1181h2.6M651 1180h2.6M683 1180h2.6M562 1182h2.6M602 1182h2.6M614 1183h2.6M632 1182h2.6M636 1182h2.6M645 1182h2.6M653 1182h2.6M671 1183h2.6M595 1186h2.6M605 1184h2.6M607 1184h2.6M614 1185h2.6M655 1185h2.6M665 1184h2.6M669 1184h2.6M569 1188h2.6M599 1188h2.6M607 1187h2.6M624 1187h2.6M638 1187h2.6M655 1188h2.6M659 1187h2.6M671 1187h2.6M566 1189h2.6M578 1189h2.6M581 1189h2.6M583 1190h2.6M592 1189h2.6M626 1190h2.6M630 1189h2.6M635 1190h2.6M647 1190h2.6M653 1189h2.6M669 1189h2.6M690 1189h2.6M567 1192h2.6M586 1192h2.6M628 1192h2.6M646 1192h2.6M654 1192h2.6M662 1192h2.6M567 1195h2.6M569 1194h2.6M578 1195h2.6M590 1194h2.6M595 1195h2.6M617 1194h2.6M627 1195h2.6M635 1194h2.6M648 1194h2.6M670 1194h2.6M562 1196h2.6M585 1196h2.6M620 1197h2.6M629 1197h2.6M662 1198h2.6M673 1197h2.6M693 1197h2.6M573 1199h2.6M584 1199h2.6M590 1199h2.6M631 1199h2.6M634 1199h2.6M642 1200h2.6M645 1200h2.6M660 1200h2.6M676 1199h2.6M610 1202h2.6M616 1201h2.6M624 1202h2.6M625 1201h2.6M643 1202h2.6M647 1201h2.6M669 1201h2.6M577 1204h2.6M587 1203h2.6M598 1204h2.6M601 1204h2.6M607 1205h2.6M614 1204h2.6M633 1204h2.6M566 1206h2.6M580 1207h2.6M585 1206h2.6M590 1206h2.6M595 1207h2.6M602 1207h2.6M607 1207h2.6M624 1206h2.6M625 1206h2.6M633 1206h2.6M647 1207h2.6M657 1206h2.6M676 1206h2.6M690 1206h2.6M573 1209h2.6M579 1209h2.6M580 1208h2.6M616 1209h2.6M631 1209h2.6M648 1208h2.6M661 1209h2.6M666 1209h2.6M574 1211h2.6M590 1211h2.6M599 1210h2.6M613 1211h2.6M621 1210h2.6M623 1212h2.6M634 1212h2.6M660 1211h2.6M661 1212h2.6M562 1213h2.6M593 1213h2.6M597 1214h2.6M599 1213h2.6M609 1214h2.6M616 1213h2.6M620 1213h2.6M645 1214h2.6M655 1214h2.6M658 1214h2.6M665 1213h2.6M667 1213h2.6M566 1217h2.6M573 1215h2.6M588 1215h2.6M593 1216h2.6M598 1215h2.6M607 1217h2.6M619 1215h2.6M625 1216h2.6M643 1217h2.6M655 1216h2.6M672 1216h2.6M602 1219h2.6M611 1219h2.6M643 1219h2.6M653 1218h2.6M658 1219h2.6M659 1217h2.6M564 1220h2.6M604 1221h2.6M636 1221h2.6M654 1220h2.6M688 1220h2.6M576 1223h2.6M601 1224h2.6M621 1223h2.6M628 1223h2.6M633 1223h2.6M662 1223h2.6M572 1226h2.6M576 1226h2.6M593 1225h2.6M594 1226h2.6M597 1225h2.6M603 1225h2.6M613 1225h2.6M615 1225h2.6M621 1225h2.6M624 1225h2.6M664 1225h2.6M674 1225h2.6" stroke="#62dc00" stroke-opacity="1" stroke-width="2.6" fill="none"/><path d="M572 1000h2.6M578 1001h2.6M590 1001h2.6M606 1001h2.6M584 1003h2.6M595 1003h2.6M597 1002h2.6M578 1008h2.6M599 1009h2.6M603 1008h2.6M605 1007h2.6M619 1011h2.6M629 1010h2.6M576 1012h2.6M586 1013h2.6M591 1013h2.6M593 1012h2.6M612 1013h2.6M569 1016h2.6M585 1015h2.6M598 1015h2.6M601 1014h2.6M587 1017h2.6M600 1018h2.6M622 1017h2.6M623 1018h2.6M595 1020h2.6M612 1019h2.6M622 1021h2.6M623 1020h2.6M644 1020h2.6M582 1021h2.6M616 1022h2.6M563 1024h2.6M570 1025h2.6M580 1024h2.6M617 1025h2.6M569 1028h2.6M574 1027h2.6M576 1027h2.6M579 1028h2.6M610 1027h2.6M624 1027h2.6M626 1027h2.6M633 1027h2.6M639 1027h2.6M586 1030h2.6M594 1029h2.6M604 1030h2.6M612 1029h2.6M623 1028h2.6M650 1029h2.6M563 1032h2.6M573 1031h2.6M585 1032h2.6M590 1033h2.6M595 1032h2.6M601 1032h2.6M616 1031h2.6M629 1031h2.6M634 1032h2.6M635 1032h2.6M586 1034h2.6M597 1034h2.6M600 1034h2.6M623 1034h2.6M629 1034h2.6M645 1034h2.6M564 1036h2.6M574 1037h2.6M597 1037h2.6M609 1036h2.6M625 1037h2.6M645 1037h2.6M562 1038h2.6M578 1038h2.6M588 1039h2.6M595 1038h2.6M611 1039h2.6M616 1039h2.6M618 1040h2.6M622 1039h2.6M626 1039h2.6M628 1040h2.6M640 1039h2.6M583 1041h2.6M599 1042h2.6M607 1042h2.6M618 1042h2.6M626 1041h2.6M571 1043h2.6M619 1044h2.6M645 1043h2.6M665 1043h2.6M583 1046h2.6M598 1046h2.6M606 1045h2.6M628 1045h2.6M564 1048h2.6M567 1048h2.6M586 1049h2.6M592 1048h2.6M597 1049h2.6M612 1048h2.6M619 1048h2.6M624 1049h2.6M627 1049h2.6M628 1049h2.6M643 1048h2.6M656 1049h2.6M589 1051h2.6M592 1051h2.6M606 1051h2.6M619 1051h2.6M621 1051h2.6M561 1053h2.6M569 1053h2.6M573 1053h2.6M629 1053h2.6M640 1054h2.6M572 1055h2.6M573 1055h2.6M575 1055h2.6M606 1056h2.6M626 1056h2.6M634 1055h2.6M654 1056h2.6M657 1055h2.6M570 1059h2.6M585 1058h2.6M588 1057h2.6M592 1059h2.6M598 1058h2.6M602 1058h2.6M626 1058h2.6M638 1058h2.6M641 1058h2.6M645 1058h2.6M667 1059h2.6M668 1058h2.6M572 1061h2.6M580 1060h2.6M596 1060h2.6M603 1060h2.6M610 1060h2.6M619 1060h2.6M621 1060h2.6M628 1060h2.6M630 1061h2.6M662 1060h2.6M574 1063h2.6M593 1063h2.6M600 1062h2.6M601 1063h2.6M624 1063h2.6M631 1063h2.6M635 1062h2.6M640 1063h2.6M660 1062h2.6M568 1065h2.6M571 1066h2.6M578 1065h2.6M583 1064h2.6M612 1066h2.6M638 1065h2.6M640 1064h2.6M642 1065h2.6M652 1066h2.6M654 1064h2.6M657 1064h2.6M566 1067h2.6M570 1067h2.6M576 1068h2.6M578 1068h2.6M591 1068h2.6M598 1067h2.6M611 1067h2.6M619 1067h2.6M636 1067h2.6M638 1068h2.6M643 1067h2.6M648 1068h2.6M572 1071h2.6M573 1071h2.6M576 1070h2.6M586 1070h2.6M597 1069h2.6M602 1070h2.6M607 1070h2.6M616 1070h2.6M622 1069h2.6M636 1070h2.6M642 1070h2.6M645 1070h2.6M648 1071h2.6M654 1070h2.6M676 1070h2.6M571 1072h2.6M578 1072h2.6M582 1072h2.6M592 1072h2.6M596 1072h2.6M603 1073h2.6M607 1072h2.6M614 1072h2.6M630 1073h2.6M635 1072h2.6M638 1072h2.6M642 1073h2.6M645 1072h2.6M648 1073h2.6M652 1071h2.6M654 1072h2.6M657 1072h2.6M569 1074h2.6M581 1075h2.6M587 1075h2.6M595 1074h2.6M599 1076h2.6M602 1075h2.6M608 1074h2.6M608 1075h2.6M617 1075h2.6M628 1074h2.6M636 1075h2.6M641 1075h2.6M646 1075h2.6M647 1075h2.6M658 1075h2.6M661 1074h2.6M579 1077h2.6M588 1077h2.6M598 1076h2.6M602 1077h2.6M610 1078h2.6M614 1077h2.6M618 1077h2.6M622 1077h2.6M634 1077h2.6M635 1077h2.6M643 1077h2.6M647 1078h2.6M650 1078h2.6M652 1077h2.6M654 1076h2.6M657 1077h2.6M662 1076h2.6M666 1077h2.6M681 1077h2.6M569 1079h2.6M578 1079h2.6M583 1079h2.6M587 1080h2.6M597 1079h2.6M606 1079h2.6M631 1080h2.6M636 1079h2.6M637 1080h2.6M641 1080h2.6M642 1079h2.6M649 1079h2.6M655 1080h2.6M658 1079h2.6M667 1079h2.6M575 1082h2.6M581 1082h2.6M595 1083h2.6M597 1082h2.6M607 1082h2.6M608 1081h2.6M612 1081h2.6M615 1081h2.6M627 1082h2.6M634 1081h2.6M650 1081h2.6M654 1081h2.6M662 1082h2.6M566 1085h2.6M585 1084h2.6M606 1085h2.6M610 1084h2.6M612 1084h2.6M615 1084h2.6M618 1085h2.6M622 1085h2.6M624 1084h2.6M631 1085h2.6M634 1084h2.6M636 1084h2.6M645 1084h2.6M648 1085h2.6M653 1084h2.6M658 1085h2.6M669 1085h2.6M683 1083h2.6M573 1087h2.6M579 1087h2.6M580 1086h2.6M587 1086h2.6M590 1086h2.6M602 1088h2.6M604 1087h2.6M616 1087h2.6M626 1087h2.6M638 1087h2.6M647 1086h2.6M652 1087h2.6M654 1086h2.6M658 1086h2.6M662 1087h2.6M664 1086h2.6M667 1087h2.6M669 1087h2.6M671 1088h2.6M562 1089h2.6M566 1089h2.6M577 1090h2.6M580 1090h2.6M582 1090h2.6M585 1089h2.6M591 1090h2.6M597 1089h2.6M601 1089h2.6M607 1089h2.6M611 1090h2.6M615 1089h2.6M617 1089h2.6M621 1090h2.6M626 1089h2.6M638 1090h2.6M651 1089h2.6M653 1089h2.6M655 1090h2.6M658 1088h2.6M659 1089h2.6M662 1089h2.6M676 1089h2.6M683 1089h2.6M583 1091h2.6M590 1092h2.6M596 1092h2.6M610 1091h2.6M612 1092h2.6M614 1092h2.6M624 1092h2.6M626 1092h2.6M630 1091h2.6M640 1092h2.6M650 1092h2.6M660 1091h2.6M665 1092h2.6M675 1091h2.6M685 1092h2.6M564 1093h2.6M568 1094h2.6M583 1093h2.6M589 1094h2.6M592 1094h2.6M600 1094h2.6M601 1094h2.6M612 1094h2.6M618 1095h2.6M629 1093h2.6M630 1094h2.6M633 1094h2.6M658 1095h2.6M662 1095h2.6M664 1095h2.6M669 1094h2.6M671 1093h2.6M674 1094h2.6M685 1094h2.6M561 1096h2.6M576 1097h2.6M578 1097h2.6M582 1097h2.6M591 1097h2.6M598 1097h2.6M600 1097h2.6M604 1096h2.6M609 1095h2.6M618 1097h2.6M620 1096h2.6M626 1096h2.6M629 1096h2.6M636 1096h2.6M638 1096h2.6M640 1096h2.6M661 1096h2.6M669 1097h2.6M674 1096h2.6M687 1095h2.6M561 1099h2.6M573 1098h2.6M575 1099h2.6M579 1099h2.6M581 1098h2.6M590 1099h2.6M593 1098h2.6M594 1099h2.6M605 1100h2.6M611 1099h2.6M613 1099h2.6M616 1099h2.6M624 1099h2.6M626 1098h2.6M628 1100h2.6M630 1098h2.6M632 1098h2.6M635 1099h2.6M637 1099h2.6M641 1098h2.6M643 1099h2.6M651 1098h2.6M669 1099h2.6M681 1098h2.6M561 1101h2.6M567 1101h2.6M568 1101h2.6M573 1102h2.6M580 1101h2.6M582 1101h2.6M588 1101h2.6M592 1100h2.6M599 1101h2.6M602 1100h2.6M607 1101h2.6M612 1101h2.6M628 1101h2.6M630 1101h2.6M632 1101h2.6M638 1102h2.6M646 1101h2.6M653 1101h2.6M669 1102h2.6M677 1100h2.6M684 1102h2.6M561 1104h2.6M569 1104h2.6M580 1104h2.6M586 1104h2.6M602 1104h2.6M611 1103h2.6M617 1104h2.6M619 1104h2.6M623 1103h2.6M628 1104h2.6M634 1104h2.6M635 1104h2.6M644 1104h2.6M646 1104h2.6M648 1103h2.6M654 1104h2.6M660 1103h2.6M571 1105h2.6M574 1105h2.6M581 1106h2.6M583 1106h2.6M585 1105h2.6M590 1106h2.6M597 1105h2.6M599 1106h2.6M605 1105h2.6M607 1105h2.6M609 1106h2.6M611 1106h2.6M621 1105h2.6M623 1106h2.6M633 1105h2.6M635 1106h2.6M645 1106h2.6M660 1105h2.6M662 1106h2.6M667 1105h2.6M668 1106h2.6M676 1105h2.6M686 1105h2.6M575 1108h2.6M591 1108h2.6M592 1108h2.6M597 1108h2.6M600 1109h2.6M604 1108h2.6M607 1109h2.6M610 1109h2.6M614 1109h2.6M616 1108h2.6M623 1108h2.6M626 1108h2.6M628 1107h2.6M631 1108h2.6M633 1109h2.6M635 1108h2.6M639 1109h2.6M643 1109h2.6M654 1108h2.6M658 1107h2.6M659 1108h2.6M665 1109h2.6M669 1107h2.6M680 1108h2.6M683 1108h2.6M574 1110h2.6M576 1110h2.6M581 1111h2.6M587 1110h2.6M593 1110h2.6M595 1111h2.6M597 1110h2.6M600 1110h2.6M602 1111h2.6M604 1111h2.6M619 1111h2.6M624 1110h2.6M626 1110h2.6M628 1111h2.6M638 1110h2.6M643 1110h2.6M644 1110h2.6M650 1111h2.6M653 1111h2.6M660 1111h2.6M662 1110h2.6M672 1110h2.6M674 1110h2.6M677 1110h2.6M682 1111h2.6M684 1110h2.6M561 1113h2.6M566 1113h2.6M576 1112h2.6M580 1113h2.6M582 1113h2.6M588 1112h2.6M590 1112h2.6M595 1112h2.6M601 1112h2.6M604 1113h2.6M607 1114h2.6M608 1114h2.6M617 1113h2.6M623 1112h2.6M626 1112h2.6M628 1112h2.6M636 1113h2.6M639 1113h2.6M646 1112h2.6M656 1113h2.6M657 1113h2.6M661 1113h2.6M664 1113h2.6M667 1114h2.6M669 1113h2.6M672 1113h2.6M680 1113h2.6M685 1113h2.6M574 1116h2.6M578 1115h2.6M591 1115h2.6M596 1116h2.6M598 1115h2.6M602 1116h2.6M609 1115h2.6M612 1116h2.6M615 1116h2.6M616 1115h2.6M621 1116h2.6M631 1115h2.6M635 1116h2.6M637 1115h2.6M649 1115h2.6M652 1115h2.6M657 1116h2.6M660 1115h2.6M666 1115h2.6M669 1115h2.6M672 1115h2.6M677 1116h2.6M681 1116h2.6M697 1116h2.6M562 1117h2.6M563 1118h2.6M566 1119h2.6M572 1117h2.6M573 1117h2.6M585 1118h2.6M590 1118h2.6M592 1118h2.6M598 1117h2.6M599 1117h2.6M602 1119h2.6M605 1118h2.6M615 1117h2.6M617 1117h2.6M618 1117h2.6M622 1118h2.6M626 1117h2.6M633 1118h2.6M637 1117h2.6M640 1117h2.6M643 1117h2.6M648 1118h2.6M649 1118h2.6M657 1118h2.6M662 1118h2.6M679 1117h2.6M688 1118h2.6M564 1121h2.6M573 1120h2.6M575 1120h2.6M578 1120h2.6M584 1120h2.6M586 1121h2.6M588 1120h2.6M609 1120h2.6M614 1120h2.6M623 1120h2.6M626 1119h2.6M637 1120h2.6M640 1120h2.6M653 1120h2.6M662 1120h2.6M668 1121h2.6M671 1119h2.6M686 1120h2.6M691 1120h2.6M562 1122h2.6M566 1122h2.6M568 1122h2.6M573 1123h2.6M583 1122h2.6M587 1122h2.6M590 1123h2.6M593 1123h2.6M595 1123h2.6M597 1122h2.6M600 1122h2.6M601 1123h2.6M605 1123h2.6M619 1122h2.6M620 1123h2.6M623 1122h2.6M625 1123h2.6M628 1123h2.6M632 1123h2.6M638 1123h2.6M643 1122h2.6M653 1123h2.6M655 1123h2.6M666 1122h2.6M668 1122h2.6M672 1123h2.6M682 1123h2.6M689 1122h2.6M563 1125h2.6M569 1126h2.6M570 1125h2.6M573 1125h2.6M587 1125h2.6M590 1125h2.6M596 1125h2.6M600 1125h2.6M611 1125h2.6M622 1125h2.6M623 1124h2.6M630 1124h2.6M633 1125h2.6M644 1124h2.6M652 1125h2.6M658 1125h2.6M659 1124h2.6M666 1124h2.6M668 1125h2.6M681 1124h2.6M688 1125h2.6M567 1128h2.6M577 1128h2.6M579 1128h2.6M587 1127h2.6M596 1128h2.6M597 1127h2.6M600 1128h2.6M602 1128h2.6M605 1127h2.6M607 1128h2.6M612 1128h2.6M624 1128h2.6M635 1127h2.6M639 1128h2.6M658 1128h2.6M660 1128h2.6M686 1128h2.6M574 1130h2.6M583 1130h2.6M585 1130h2.6M590 1130h2.6M594 1130h2.6M602 1130h2.6M606 1131h2.6M619 1131h2.6M623 1129h2.6M626 1130h2.6M628 1130h2.6M632 1130h2.6M634 1130h2.6M640 1129h2.6M643 1130h2.6M645 1130h2.6M647 1130h2.6M651 1130h2.6M657 1130h2.6M664 1129h2.6M666 1129h2.6M670 1130h2.6M561 1133h2.6M565 1133h2.6M566 1133h2.6M571 1133h2.6M574 1132h2.6M580 1132h2.6M582 1132h2.6M588 1132h2.6M591 1131h2.6M592 1132h2.6M595 1133h2.6M600 1132h2.6M606 1133h2.6M621 1133h2.6M624 1133h2.6M626 1133h2.6M628 1132h2.6M631 1132h2.6M634 1132h2.6M645 1133h2.6M657 1131h2.6M659 1132h2.6M662 1132h2.6M673 1131h2.6M676 1132h2.6M679 1132h2.6M682 1132h2.6M684 1132h2.6M686 1133h2.6M561 1135h2.6M574 1135h2.6M576 1135h2.6M579 1135h2.6M581 1135h2.6M582 1135h2.6M586 1135h2.6M589 1134h2.6M599 1135h2.6M603 1134h2.6M605 1135h2.6M612 1134h2.6M614 1135h2.6M617 1135h2.6M621 1135h2.6M628 1135h2.6M635 1135h2.6M640 1135h2.6M649 1134h2.6M653 1134h2.6M654 1135h2.6M657 1135h2.6M659 1134h2.6M664 1135h2.6M666 1134h2.6M679 1135h2.6M684 1134h2.6M578 1138h2.6M583 1138h2.6M593 1137h2.6M597 1136h2.6M601 1136h2.6M602 1137h2.6M615 1137h2.6M618 1136h2.6M628 1137h2.6M632 1136h2.6M642 1136h2.6M654 1137h2.6M661 1137h2.6M671 1136h2.6M678 1136h2.6M681 1137h2.6M683 1136h2.6M686 1137h2.6M575 1139h2.6M578 1139h2.6M580 1140h2.6M582 1139h2.6M593 1140h2.6M598 1139h2.6M611 1139h2.6M624 1139h2.6M625 1140h2.6M629 1140h2.6M633 1140h2.6M636 1140h2.6M639 1139h2.6M640 1139h2.6M643 1140h2.6M645 1140h2.6M647 1139h2.6M654 1139h2.6M657 1139h2.6M659 1139h2.6M671 1138h2.6M678 1139h2.6M567 1142h2.6M569 1141h2.6M577 1141h2.6M578 1142h2.6M580 1141h2.6M592 1142h2.6M597 1142h2.6M599 1141h2.6M606 1142h2.6M614 1141h2.6M616 1142h2.6M621 1142h2.6M624 1142h2.6M626 1142h2.6M631 1141h2.6M643 1141h2.6M655 1142h2.6M656 1141h2.6M660 1142h2.6M664 1142h2.6M671 1142h2.6M691 1142h2.6M698 1142h2.6M569 1145h2.6M573 1145h2.6M578 1143h2.6M592 1143h2.6M595 1144h2.6M608 1144h2.6M614 1144h2.6M616 1143h2.6M619 1144h2.6M626 1143h2.6M628 1144h2.6M638 1144h2.6M640 1145h2.6M643 1145h2.6M654 1144h2.6M658 1145h2.6M659 1145h2.6M662 1144h2.6M672 1143h2.6M679 1144h2.6M685 1144h2.6M561 1146h2.6M564 1146h2.6M566 1146h2.6M571 1147h2.6M577 1147h2.6M582 1147h2.6M587 1146h2.6M593 1147h2.6M614 1146h2.6M617 1146h2.6M623 1146h2.6M628 1147h2.6M630 1147h2.6M635 1147h2.6M640 1147h2.6M648 1147h2.6M650 1146h2.6M656 1147h2.6M660 1146h2.6M662 1146h2.6M664 1147h2.6M667 1147h2.6M672 1146h2.6M564 1149h2.6M568 1149h2.6M572 1149h2.6M580 1148h2.6M584 1148h2.6M585 1149h2.6M587 1148h2.6M593 1148h2.6M608 1148h2.6M613 1149h2.6M617 1150h2.6M619 1148h2.6M624 1149h2.6M636 1149h2.6M639 1148h2.6M640 1149h2.6M652 1149h2.6M654 1148h2.6M660 1148h2.6M666 1148h2.6M674 1149h2.6M677 1150h2.6M679 1149h2.6M561 1151h2.6M567 1152h2.6M574 1151h2.6M578 1151h2.6M581 1151h2.6M584 1152h2.6M587 1151h2.6M589 1152h2.6M594 1151h2.6M597 1151h2.6M607 1152h2.6M609 1152h2.6M620 1152h2.6M621 1152h2.6M626 1151h2.6M631 1151h2.6M633 1152h2.6M635 1152h2.6M649 1151h2.6M660 1151h2.6M663 1151h2.6M668 1152h2.6M668 1151h2.6M672 1151h2.6M674 1150h2.6M679 1152h2.6M689 1152h2.6M561 1154h2.6M566 1154h2.6M578 1153h2.6M584 1154h2.6M591 1154h2.6M597 1154h2.6M599 1153h2.6M602 1153h2.6M604 1154h2.6M606 1154h2.6M616 1155h2.6M622 1154h2.6M633 1153h2.6M635 1155h2.6M638 1154h2.6M644 1153h2.6M648 1153h2.6M652 1154h2.6M655 1153h2.6M663 1154h2.6M672 1154h2.6M684 1154h2.6M691 1154h2.6M699 1154h2.6M568 1156h2.6M571 1156h2.6M579 1156h2.6M587 1155h2.6M592 1156h2.6M598 1156h2.6M600 1156h2.6M602 1156h2.6M606 1156h2.6M609 1156h2.6M611 1157h2.6M615 1155h2.6M621 1157h2.6M633 1156h2.6M643 1155h2.6M657 1156h2.6M679 1157h2.6M683 1157h2.6M562 1159h2.6M569 1159h2.6M572 1158h2.6M576 1159h2.6M578 1159h2.6M583 1158h2.6M590 1158h2.6M592 1159h2.6M597 1159h2.6M599 1159h2.6M602 1159h2.6M606 1158h2.6M612 1158h2.6M615 1159h2.6M620 1158h2.6M624 1159h2.6M625 1159h2.6M634 1158h2.6M638 1159h2.6M641 1158h2.6M642 1158h2.6M650 1159h2.6M660 1159h2.6M676 1159h2.6M563 1161h2.6M584 1161h2.6M586 1161h2.6M588 1161h2.6M595 1161h2.6M599 1161h2.6M602 1161h2.6M614 1160h2.6M616 1162h2.6M619 1160h2.6M620 1161h2.6M629 1160h2.6M634 1160h2.6M638 1161h2.6M643 1161h2.6M649 1160h2.6M654 1161h2.6M675 1161h2.6M683 1160h2.6M694 1162h2.6M571 1163h2.6M574 1163h2.6M577 1163h2.6M578 1164h2.6M585 1164h2.6M588 1164h2.6M592 1163h2.6M600 1164h2.6M604 1163h2.6M608 1163h2.6M614 1163h2.6M618 1163h2.6M626 1163h2.6M638 1163h2.6M643 1164h2.6M646 1163h2.6M648 1162h2.6M651 1163h2.6M654 1163h2.6M661 1163h2.6M670 1164h2.6M676 1164h2.6M679 1163h2.6M584 1165h2.6M588 1166h2.6M590 1165h2.6M592 1166h2.6M595 1165h2.6M599 1165h2.6M612 1165h2.6M613 1166h2.6M621 1166h2.6M635 1166h2.6M638 1166h2.6M640 1165h2.6M642 1165h2.6M644 1165h2.6M648 1165h2.6M656 1166h2.6M660 1166h2.6M664 1166h2.6M667 1165h2.6M678 1167h2.6M571 1167h2.6M595 1168h2.6M597 1168h2.6M605 1168h2.6M609 1168h2.6M615 1169h2.6M618 1168h2.6M622 1168h2.6M634 1168h2.6M643 1169h2.6M651 1167h2.6M659 1169h2.6M673 1168h2.6M678 1167h2.6M561 1171h2.6M578 1170h2.6M583 1170h2.6M590 1170h2.6M593 1170h2.6M597 1171h2.6M599 1171h2.6M609 1170h2.6M614 1171h2.6M618 1171h2.6M620 1170h2.6M630 1170h2.6M633 1170h2.6M640 1170h2.6M651 1170h2.6M655 1170h2.6M657 1171h2.6M659 1171h2.6M662 1170h2.6M664 1170h2.6M561 1173h2.6M571 1173h2.6M581 1172h2.6M583 1174h2.6M585 1172h2.6M587 1173h2.6M595 1172h2.6M598 1173h2.6M599 1174h2.6M603 1173h2.6M605 1173h2.6M610 1173h2.6M614 1173h2.6M616 1173h2.6M626 1173h2.6M634 1172h2.6M635 1173h2.6M646 1174h2.6M647 1173h2.6M650 1173h2.6M654 1172h2.6M656 1172h2.6M672 1173h2.6M673 1173h2.6M678 1173h2.6M587 1174h2.6M593 1176h2.6M597 1175h2.6M599 1174h2.6M604 1176h2.6M614 1175h2.6M617 1175h2.6M624 1175h2.6M629 1174h2.6M636 1175h2.6M638 1175h2.6M640 1175h2.6M642 1174h2.6M647 1175h2.6M650 1175h2.6M652 1175h2.6M657 1176h2.6M659 1176h2.6M671 1175h2.6M676 1175h2.6M570 1178h2.6M586 1178h2.6M587 1177h2.6M589 1178h2.6M605 1178h2.6M617 1178h2.6M625 1178h2.6M632 1178h2.6M635 1178h2.6M639 1177h2.6M646 1178h2.6M655 1178h2.6M657 1178h2.6M662 1177h2.6M668 1178h2.6M674 1178h2.6M676 1177h2.6M681 1177h2.6M573 1179h2.6M588 1179h2.6M602 1180h2.6M613 1181h2.6M617 1180h2.6M621 1181h2.6M624 1180h2.6M631 1180h2.6M636 1180h2.6M638 1180h2.6M641 1180h2.6M647 1180h2.6M652 1179h2.6M657 1180h2.6M660 1180h2.6M667 1180h2.6M675 1179h2.6M686 1180h2.6M571 1182h2.6M576 1182h2.6M584 1183h2.6M586 1182h2.6M592 1182h2.6M595 1182h2.6M600 1183h2.6M605 1183h2.6M610 1182h2.6M611 1183h2.6M617 1182h2.6M619 1182h2.6M622 1182h2.6M647 1182h2.6M649 1183h2.6M654 1183h2.6M656 1183h2.6M669 1182h2.6M573 1185h2.6M587 1185h2.6M593 1184h2.6M602 1184h2.6M620 1185h2.6M622 1185h2.6M623 1185h2.6M629 1185h2.6M633 1185h2.6M638 1185h2.6M649 1185h2.6M652 1185h2.6M660 1185h2.6M662 1185h2.6M583 1188h2.6M610 1188h2.6M617 1188h2.6M627 1186h2.6M629 1187h2.6M631 1187h2.6M636 1187h2.6M641 1188h2.6M644 1188h2.6M645 1187h2.6M657 1186h2.6M661 1187h2.6M563 1190h2.6M574 1189h2.6M591 1190h2.6M609 1190h2.6M617 1189h2.6M629 1190h2.6M649 1189h2.6M655 1189h2.6M569 1193h2.6M597 1191h2.6M600 1193h2.6M605 1193h2.6M608 1192h2.6M612 1193h2.6M618 1193h2.6M625 1193h2.6M633 1192h2.6M643 1192h2.6M650 1192h2.6M652 1192h2.6M666 1192h2.6M686 1191h2.6M599 1194h2.6M603 1195h2.6M605 1194h2.6M607 1194h2.6M611 1195h2.6M629 1194h2.6M630 1195h2.6M641 1195h2.6M643 1194h2.6M650 1194h2.6M658 1195h2.6M659 1195h2.6M671 1195h2.6M570 1196h2.6M575 1196h2.6M592 1197h2.6M597 1196h2.6M612 1196h2.6M627 1197h2.6M631 1197h2.6M640 1198h2.6M660 1197h2.6M665 1197h2.6M668 1198h2.6M562 1200h2.6M563 1199h2.6M566 1199h2.6M595 1199h2.6M599 1199h2.6M604 1200h2.6M626 1199h2.6M629 1200h2.6M652 1200h2.6M655 1200h2.6M657 1198h2.6M662 1198h2.6M667 1199h2.6M684 1198h2.6M566 1201h2.6M578 1201h2.6M584 1201h2.6M588 1202h2.6M592 1201h2.6M597 1201h2.6M605 1202h2.6M620 1202h2.6M628 1202h2.6M631 1202h2.6M633 1202h2.6M650 1202h2.6M652 1202h2.6M654 1201h2.6M659 1201h2.6M563 1204h2.6M571 1204h2.6M585 1204h2.6M595 1204h2.6M612 1204h2.6M622 1203h2.6M638 1204h2.6M644 1204h2.6M652 1203h2.6M655 1203h2.6M667 1205h2.6M669 1205h2.6M671 1203h2.6M676 1204h2.6M684 1203h2.6M569 1206h2.6M572 1207h2.6M578 1207h2.6M597 1206h2.6M609 1207h2.6M617 1206h2.6M630 1206h2.6M635 1207h2.6M650 1207h2.6M659 1207h2.6M667 1207h2.6M562 1208h2.6M568 1208h2.6M571 1209h2.6M585 1209h2.6M595 1209h2.6M601 1209h2.6M612 1209h2.6M613 1209h2.6M618 1209h2.6M621 1209h2.6M626 1208h2.6M629 1209h2.6M655 1208h2.6M659 1209h2.6M665 1209h2.6M669 1209h2.6M672 1208h2.6M569 1210h2.6M577 1212h2.6M585 1211h2.6M592 1210h2.6M595 1211h2.6M598 1212h2.6M607 1210h2.6M610 1211h2.6M640 1211h2.6M645 1211h2.6M672 1212h2.6M681 1211h2.6M564 1214h2.6M571 1214h2.6M573 1213h2.6M577 1214h2.6M583 1213h2.6M603 1214h2.6M607 1213h2.6M612 1214h2.6M634 1214h2.6M648 1213h2.6M673 1213h2.6M677 1214h2.6M688 1213h2.6M690 1213h2.6M564 1217h2.6M580 1216h2.6M591 1215h2.6M595 1217h2.6M602 1216h2.6M605 1215h2.6M629 1216h2.6M646 1216h2.6M649 1216h2.6M669 1216h2.6M676 1216h2.6M563 1219h2.6M571 1219h2.6M573 1218h2.6M575 1219h2.6M577 1218h2.6M607 1218h2.6M614 1218h2.6M621 1218h2.6M648 1219h2.6M663 1218h2.6M663 1219h2.6M572 1220h2.6M576 1220h2.6M578 1220h2.6M581 1220h2.6M586 1221h2.6M597 1220h2.6M602 1221h2.6M607 1221h2.6M614 1220h2.6M624 1221h2.6M648 1220h2.6M650 1221h2.6M657 1221h2.6M669 1221h2.6M681 1221h2.6M563 1223h2.6M569 1224h2.6M570 1224h2.6M574 1223h2.6M585 1223h2.6M588 1223h2.6M598 1224h2.6M599 1223h2.6M605 1223h2.6M606 1222h2.6M616 1223h2.6M630 1222h2.6M641 1224h2.6M643 1222h2.6M648 1223h2.6M649 1223h2.6M667 1223h2.6M561 1225h2.6M569 1226h2.6M572 1225h2.6M586 1225h2.6M588 1225h2.6M600 1225h2.6M604 1225h2.6M606 1226h2.6M610 1226h2.6M617 1225h2.6M628 1225h2.6M631 1225h2.6M633 1226h2.6M636 1225h2.6M640 1225h2.6M643 1225h2.6M647 1226h2.6M652 1226h2.6M655 1225h2.6M659 1225h2.6M678 1226h2.6" stroke="#78ff18" stroke-opacity="1" stroke-width="2.6" fill="none"/></g><g filter="url(#fblur30)"><path d="M973 892h2.9M897 900h2.9M956 913h2.9M885 916h2.9M959 918h2.9M953 923h2.9M964 923h2.9M953 925h2.9M948 929h2.9M1013 930h2.9M916 931h2.9M925 931h2.9M937 932h2.9M934 934h2.9M925 937h2.9M917 940h2.9M920 939h2.9M938 940h2.9M873 945h2.9M953 944h2.9M956 945h2.9M975 945h2.9M897 947h2.9M913 951h2.9M943 951h2.9M924 952h2.9M956 954h2.9M978 953h2.9M916 956h2.9M919 955h2.9M929 956h2.9M938 955h2.9M948 956h2.9M951 955h2.9M964 956h2.9M966 956h2.9M1015 955h2.9M914 959h2.9M943 958h2.9M992 958h2.9M904 960h2.9M935 960h2.9M974 960h2.9M992 962h2.9M874 964h2.9M919 964h2.9M932 964h2.9M941 964h2.9M945 964h2.9M953 963h2.9M957 963h2.9M992 963h2.9M876 965h2.9M911 967h2.9M919 966h2.9M933 967h2.9M938 966h2.9M943 966h2.9M969 966h2.9M887 971h2.9M890 971h2.9M927 971h2.9M949 972h2.9M954 972h2.9M972 971h2.9M988 972h2.9M991 972h2.9M895 974h2.9M903 974h2.9M940 974h2.9M956 974h2.9M917 976h2.9M930 977h2.9M933 977h2.9M998 977h2.9M844 980h2.9M949 979h2.9M961 980h2.9M1004 980h2.9M837 982h2.9M908 982h2.9M938 982h2.9M949 982h2.9M953 982h2.9M890 985h2.9M935 985h2.9M940 985h2.9M952 985h2.9M1007 986h2.9M858 988h2.9M888 987h2.9M929 987h2.9M940 987h2.9M954 988h2.9M968 987h2.9M900 989h2.9M986 990h2.9M991 991h2.9M844 993h2.9M905 993h2.9M921 993h2.9M1044 993h2.9M826 996h2.9M851 996h2.9M881 996h2.9M889 996h2.9M927 996h2.9M943 996h2.9M948 996h2.9M994 996h2.9M826 999h2.9M868 999h2.9M871 999h2.9M941 999h2.9M942 998h2.9M828 1002h2.9M847 1002h2.9M884 1001h2.9M905 1000h2.9M932 1001h2.9M876 1003h2.9M881 1004h2.9M889 1003h2.9M892 1004h2.9M919 1004h2.9M957 1003h2.9M965 1004h2.9M975 1003h2.9M840 1006h2.9M871 1006h2.9M926 1007h2.9M945 1007h2.9M962 1006h2.9M983 1006h2.9M1007 1007h2.9M825 1010h2.9M828 1009h2.9M834 1008h2.9M879 1009h2.9M882 1010h2.9M892 1009h2.9M946 1009h2.9M972 1010h2.9M988 1009h2.9M990 1008h2.9M829 1012h2.9M834 1012h2.9M844 1012h2.9M860 1012h2.9M864 1011h2.9M903 1012h2.9M940 1012h2.9M964 1011h2.9M994 1011h2.9M1002 1012h2.9M831 1014h2.9M836 1014h2.9M852 1014h2.9M854 1014h2.9M858 1015h2.9M865 1014h2.9M874 1015h2.9M927 1015h2.9M845 1017h2.9M871 1017h2.9M935 1017h2.9M943 1017h2.9M972 1018h2.9M978 1016h2.9M1034 1017h2.9M833 1020h2.9M860 1019h2.9M863 1019h2.9M869 1019h2.9M876 1019h2.9M895 1020h2.9M919 1019h2.9M941 1019h2.9M943 1020h2.9M952 1020h2.9M989 1020h2.9M1012 1019h2.9M866 1022h2.9M945 1023h2.9M958 1023h2.9M970 1023h2.9M991 1022h2.9M1018 1023h2.9M1026 1023h2.9M850 1025h2.9M860 1026h2.9M862 1025h2.9M866 1024h2.9M887 1024h2.9M901 1026h2.9M917 1026h2.9M976 1024h2.9M977 1024h2.9M983 1024h2.9M986 1025h2.9M855 1028h2.9M863 1028h2.9M866 1028h2.9M877 1027h2.9M892 1028h2.9M905 1028h2.9M938 1028h2.9M956 1028h2.9M986 1028h2.9M826 1031h2.9M828 1031h2.9M849 1030h2.9M876 1031h2.9M889 1031h2.9M904 1030h2.9M937 1030h2.9M945 1031h2.9M972 1030h2.9M842 1033h2.9M861 1033h2.9M883 1033h2.9M896 1033h2.9M898 1032h2.9M906 1033h2.9M920 1033h2.9M932 1034h2.9M969 1033h2.9M973 1033h2.9M833 1035h2.9M847 1036h2.9M879 1036h2.9M933 1035h2.9M937 1035h2.9M981 1035h2.9M826 1039h2.9M839 1039h2.9M882 1039h2.9M922 1038h2.9M958 1038h2.9M865 1042h2.9M876 1041h2.9M884 1041h2.9M901 1040h2.9M932 1041h2.9M935 1040h2.9M964 1040h2.9M834 1044h2.9M851 1043h2.9M900 1043h2.9M903 1044h2.9M925 1043h2.9M926 1043h2.9M985 1044h2.9M999 1043h2.9M829 1046h2.9M842 1046h2.9M853 1046h2.9M872 1047h2.9M893 1046h2.9M909 1046h2.9M985 1046h2.9M862 1049h2.9M868 1050h2.9M898 1050h2.9M902 1050h2.9M924 1049h2.9M926 1049h2.9M929 1049h2.9M935 1050h2.9M951 1049h2.9M956 1048h2.9M983 1049h2.9M988 1049h2.9M825 1052h2.9M850 1052h2.9M863 1052h2.9M877 1051h2.9M880 1051h2.9M900 1051h2.9M903 1052h2.9M907 1051h2.9M919 1052h2.9M932 1052h2.9M937 1052h2.9M961 1051h2.9M991 1052h2.9M994 1051h2.9M828 1055h2.9M846 1054h2.9M858 1054h2.9M860 1054h2.9M863 1054h2.9M866 1055h2.9M879 1054h2.9M882 1054h2.9M896 1054h2.9M909 1054h2.9M916 1054h2.9M933 1054h2.9M940 1055h2.9M946 1055h2.9M964 1054h2.9M969 1055h2.9M973 1055h2.9M825 1057h2.9M842 1058h2.9M866 1057h2.9M876 1056h2.9M878 1056h2.9M884 1057h2.9M892 1057h2.9M900 1057h2.9M908 1058h2.9M942 1057h2.9M946 1057h2.9M949 1057h2.9M826 1060h2.9M836 1060h2.9M845 1059h2.9M848 1060h2.9M866 1059h2.9M895 1060h2.9M902 1060h2.9M916 1060h2.9M928 1060h2.9M980 1060h2.9M853 1063h2.9M859 1061h2.9M879 1062h2.9M886 1063h2.9M950 1062h2.9M954 1062h2.9M973 1062h2.9M985 1061h2.9M994 1062h2.9M833 1065h2.9M841 1065h2.9M846 1066h2.9M849 1066h2.9M858 1064h2.9M882 1065h2.9M884 1065h2.9M900 1064h2.9M905 1065h2.9M914 1064h2.9M949 1065h2.9M1004 1066h2.9M830 1067h2.9M839 1068h2.9M841 1068h2.9M860 1067h2.9M873 1067h2.9M877 1067h2.9M906 1067h2.9M829 1070h2.9M856 1069h2.9M892 1071h2.9M911 1071h2.9M914 1070h2.9M922 1069h2.9M940 1071h2.9M946 1071h2.9M952 1071h2.9M968 1071h2.9M834 1072h2.9M853 1073h2.9M860 1073h2.9M871 1072h2.9M874 1072h2.9M877 1073h2.9M882 1074h2.9M885 1073h2.9M893 1073h2.9M897 1074h2.9M908 1073h2.9M911 1073h2.9M914 1072h2.9M843 1075h2.9M853 1076h2.9M854 1075h2.9M857 1075h2.9M860 1075h2.9M865 1076h2.9M871 1076h2.9M906 1075h2.9M910 1075h2.9M933 1075h2.9M938 1076h2.9M852 1079h2.9M862 1078h2.9M902 1077h2.9M905 1078h2.9M919 1078h2.9M973 1078h2.9M837 1081h2.9M845 1081h2.9M855 1080h2.9M858 1082h2.9M863 1082h2.9M869 1081h2.9M884 1081h2.9M924 1081h2.9M937 1081h2.9M951 1081h2.9M962 1080h2.9M839 1084h2.9M852 1083h2.9M855 1083h2.9M858 1084h2.9M860 1084h2.9M870 1084h2.9M885 1084h2.9M897 1084h2.9M928 1084h2.9M938 1084h2.9M954 1084h2.9M847 1087h2.9M856 1087h2.9M857 1086h2.9M860 1086h2.9M876 1087h2.9M890 1086h2.9M918 1087h2.9M921 1087h2.9M936 1087h2.9M943 1087h2.9M828 1088h2.9M845 1088h2.9M847 1089h2.9M850 1090h2.9M870 1088h2.9M903 1090h2.9M923 1090h2.9M925 1089h2.9M928 1089h2.9M1032 1088h2.9M830 1091h2.9M833 1093h2.9M838 1092h2.9M857 1092h2.9M866 1092h2.9M868 1092h2.9M885 1091h2.9M903 1092h2.9M912 1092h2.9M985 1092h2.9M836 1095h2.9M878 1095h2.9M881 1094h2.9M884 1094h2.9M890 1095h2.9M909 1095h2.9M862 1096h2.9M866 1096h2.9M868 1097h2.9M881 1097h2.9M884 1097h2.9M922 1097h2.9M946 1097h2.9M948 1097h2.9M828 1100h2.9M831 1099h2.9M839 1100h2.9M852 1100h2.9M881 1099h2.9M885 1100h2.9M906 1100h2.9M914 1100h2.9M916 1100h2.9M924 1099h2.9M853 1102h2.9M887 1103h2.9M889 1103h2.9M895 1102h2.9M900 1101h2.9M922 1102h2.9M924 1102h2.9M937 1102h2.9M951 1102h2.9M986 1103h2.9M842 1105h2.9M850 1105h2.9M855 1106h2.9M881 1105h2.9M884 1105h2.9M942 1105h2.9M946 1106h2.9M955 1105h2.9M842 1108h2.9M844 1107h2.9M858 1107h2.9M863 1108h2.9M866 1107h2.9M881 1108h2.9M885 1107h2.9M890 1107h2.9M896 1107h2.9M906 1108h2.9M943 1108h2.9M949 1107h2.9M834 1111h2.9M842 1110h2.9M874 1111h2.9M881 1111h2.9M903 1110h2.9M908 1111h2.9M944 1110h2.9M946 1110h2.9M841 1113h2.9M848 1114h2.9M890 1113h2.9M893 1113h2.9M908 1114h2.9M953 1113h2.9M972 1112h2.9M829 1116h2.9M837 1116h2.9M838 1116h2.9M849 1115h2.9M855 1116h2.9M870 1115h2.9M879 1116h2.9M943 1116h2.9M953 1115h2.9M850 1118h2.9M858 1118h2.9M860 1119h2.9M864 1118h2.9M879 1119h2.9M895 1119h2.9M917 1119h2.9M920 1118h2.9M943 1118h2.9M948 1118h2.9M980 1119h2.9M829 1121h2.9M834 1121h2.9M838 1122h2.9M841 1120h2.9M853 1122h2.9M856 1121h2.9M871 1121h2.9M878 1122h2.9M898 1121h2.9M903 1121h2.9M909 1121h2.9M910 1121h2.9M913 1120h2.9M917 1121h2.9M926 1120h2.9M930 1121h2.9M935 1121h2.9M948 1122h2.9M972 1122h2.9M836 1124h2.9M838 1123h2.9M842 1124h2.9M845 1125h2.9M849 1123h2.9M865 1123h2.9M876 1123h2.9M894 1124h2.9M922 1124h2.9M929 1124h2.9M937 1124h2.9M977 1125h2.9M981 1124h2.9M844 1127h2.9M853 1127h2.9M863 1126h2.9M869 1127h2.9M872 1127h2.9M877 1127h2.9M879 1126h2.9M893 1126h2.9M935 1126h2.9M953 1127h2.9M829 1129h2.9M839 1128h2.9M862 1130h2.9M865 1128h2.9M867 1130h2.9M874 1129h2.9M877 1129h2.9M886 1129h2.9M894 1129h2.9M911 1129h2.9M913 1130h2.9M945 1129h2.9M959 1129h2.9M965 1129h2.9M833 1131h2.9M842 1131h2.9M876 1132h2.9M882 1132h2.9M890 1132h2.9M897 1132h2.9M917 1131h2.9M932 1131h2.9M936 1132h2.9M980 1132h2.9M833 1135h2.9M864 1134h2.9M895 1135h2.9M900 1135h2.9M911 1134h2.9M932 1134h2.9M935 1135h2.9M941 1134h2.9M970 1134h2.9M972 1135h2.9M836 1136h2.9M863 1137h2.9M868 1137h2.9M872 1137h2.9M905 1136h2.9M908 1136h2.9M917 1137h2.9M918 1137h2.9M922 1137h2.9M935 1138h2.9M953 1136h2.9M957 1138h2.9M973 1136h2.9M826 1140h2.9M834 1139h2.9M838 1140h2.9M848 1140h2.9M852 1139h2.9M856 1139h2.9M879 1140h2.9M890 1140h2.9M898 1140h2.9M908 1140h2.9M913 1139h2.9M926 1140h2.9M951 1140h2.9M845 1142h2.9M855 1142h2.9M861 1142h2.9M876 1142h2.9M895 1143h2.9M898 1143h2.9M901 1143h2.9M923 1142h2.9M928 1143h2.9M930 1143h2.9M935 1143h2.9M948 1142h2.9M960 1142h2.9M845 1146h2.9M850 1146h2.9M863 1146h2.9M866 1146h2.9M882 1146h2.9M892 1145h2.9M909 1146h2.9M922 1145h2.9M939 1144h2.9M945 1146h2.9M958 1146h2.9M991 1145h2.9M846 1148h2.9M857 1147h2.9M863 1147h2.9M865 1149h2.9M876 1148h2.9M879 1148h2.9M882 1147h2.9M884 1147h2.9M886 1147h2.9M892 1147h2.9M901 1147h2.9M905 1148h2.9M921 1147h2.9M928 1147h2.9M929 1148h2.9M935 1148h2.9M940 1147h2.9M967 1148h2.9M831 1150h2.9M846 1150h2.9M877 1151h2.9M896 1150h2.9M897 1150h2.9M901 1151h2.9M915 1150h2.9M938 1150h2.9M941 1150h2.9M978 1150h2.9M830 1153h2.9M834 1152h2.9M841 1152h2.9M852 1153h2.9M865 1153h2.9M868 1152h2.9M879 1152h2.9M895 1153h2.9M903 1153h2.9M916 1153h2.9M919 1153h2.9M928 1154h2.9M946 1154h2.9M948 1152h2.9M829 1156h2.9M831 1156h2.9M836 1155h2.9M839 1156h2.9M847 1155h2.9M868 1156h2.9M878 1155h2.9M887 1156h2.9M889 1155h2.9M901 1157h2.9M903 1155h2.9M905 1155h2.9M912 1155h2.9M914 1157h2.9M958 1156h2.9M852 1159h2.9M856 1158h2.9M864 1159h2.9M868 1158h2.9M871 1159h2.9M884 1158h2.9M889 1159h2.9M906 1159h2.9M908 1158h2.9M935 1159h2.9M987 1158h2.9M828 1160h2.9M842 1161h2.9M895 1161h2.9M897 1160h2.9M936 1161h2.9M940 1161h2.9M986 1161h2.9M833 1163h2.9M845 1163h2.9M871 1163h2.9M880 1164h2.9M911 1164h2.9M927 1164h2.9M930 1164h2.9M959 1164h2.9M831 1167h2.9M839 1166h2.9M842 1166h2.9M860 1167h2.9M868 1167h2.9M885 1167h2.9M892 1167h2.9M913 1166h2.9M919 1166h2.9M922 1167h2.9M927 1167h2.9M943 1166h2.9M986 1166h2.9M826 1168h2.9M840 1169h2.9M849 1169h2.9M881 1170h2.9M897 1169h2.9M909 1168h2.9M914 1169h2.9M916 1170h2.9M920 1170h2.9M964 1170h2.9M833 1172h2.9M845 1172h2.9M849 1171h2.9M855 1172h2.9M866 1172h2.9M875 1172h2.9M887 1171h2.9M894 1171h2.9M898 1171h2.9M902 1172h2.9M927 1172h2.9M935 1171h2.9M944 1172h2.9M965 1172h2.9M979 1172h2.9M999 1172h2.9M831 1175h2.9M838 1175h2.9M842 1175h2.9M847 1174h2.9M874 1174h2.9M877 1174h2.9M894 1175h2.9M897 1175h2.9M903 1174h2.9M905 1175h2.9M917 1175h2.9M927 1175h2.9M933 1175h2.9M934 1174h2.9M943 1175h2.9M863 1177h2.9M866 1177h2.9M870 1177h2.9M882 1178h2.9M885 1176h2.9M901 1177h2.9M909 1177h2.9M929 1177h2.9M975 1177h2.9M831 1181h2.9M844 1179h2.9M863 1180h2.9M865 1179h2.9M880 1180h2.9M888 1179h2.9M895 1180h2.9M936 1181h2.9M831 1183h2.9M841 1183h2.9M876 1183h2.9M887 1183h2.9M914 1183h2.9M916 1182h2.9M933 1183h2.9M941 1183h2.9M829 1185h2.9M866 1185h2.9M868 1185h2.9M882 1185h2.9M892 1184h2.9M916 1186h2.9M932 1185h2.9M935 1185h2.9M977 1186h2.9M828 1188h2.9M886 1188h2.9M920 1188h2.9M943 1187h2.9M948 1187h2.9M831 1190h2.9M833 1190h2.9M839 1191h2.9M850 1190h2.9M856 1190h2.9M865 1191h2.9M868 1191h2.9M885 1191h2.9M896 1190h2.9M903 1191h2.9M921 1190h2.9M932 1190h2.9M872 1193h2.9M876 1193h2.9M878 1192h2.9M900 1193h2.9M902 1192h2.9M908 1192h2.9M849 1196h2.9M877 1196h2.9M880 1196h2.9M884 1196h2.9M901 1196h2.9M919 1195h2.9M935 1195h2.9M825 1198h2.9M909 1199h2.9M950 1198h2.9M847 1202h2.9M858 1200h2.9M876 1201h2.9M889 1201h2.9M898 1201h2.9M900 1201h2.9M917 1201h2.9M919 1200h2.9M927 1201h2.9M832 1204h2.9M873 1205h2.9M892 1203h2.9M829 1206h2.9M858 1205h2.9M860 1207h2.9M863 1206h2.9M871 1206h2.9M898 1207h2.9M905 1206h2.9M910 1207h2.9M914 1207h2.9M929 1206h2.9M946 1206h2.9M948 1206h2.9M836 1208h2.9M842 1209h2.9M875 1210h2.9M896 1209h2.9M898 1209h2.9M911 1209h2.9M938 1209h2.9M948 1209h2.9M837 1211h2.9M842 1212h2.9M864 1212h2.9M876 1213h2.9M882 1212h2.9M897 1211h2.9M916 1211h2.9M940 1212h2.9M845 1215h2.9M858 1214h2.9M894 1214h2.9M903 1214h2.9M910 1215h2.9M914 1215h2.9M922 1214h2.9M935 1215h2.9M830 1218h2.9M866 1216h2.9M868 1218h2.9M892 1218h2.9M905 1217h2.9M935 1217h2.9M950 1217h2.9M847 1219h2.9M889 1220h2.9M898 1219h2.9M916 1221h2.9M919 1219h2.9M932 1219h2.9M941 1220h2.9M943 1220h2.9M946 1219h2.9M833 1222h2.9M863 1223h2.9M903 1223h2.9M827 1225h2.9M831 1225h2.9M844 1225h2.9M900 1225h2.9M912 1225h2.9M921 1225h2.9M935 1224h2.9M948 1224h2.9" stroke="#7896cc" stroke-opacity="1" stroke-width="2.9" fill="none"/></g><g filter="url(#fblur45)"><path d="M1207 924h2.6M1266 924h2.6M1240 929h2.6M1171 931h2.6M1221 931h2.6M1234 934h2.6M1262 934h2.6M1171 936h2.6M1212 936h2.6M1220 939h2.6M1180 941h2.6M1195 940h2.6M1235 942h2.6M1131 943h2.6M1157 944h2.6M1204 944h2.6M1255 943h2.6M1178 946h2.6M1138 949h2.6M1142 951h2.6M1174 951h2.6M1224 951h2.6M1229 950h2.6M1231 950h2.6M1239 951h2.6M1247 950h2.6M1270 950h2.6M1162 952h2.6M1196 952h2.6M1197 953h2.6M1238 954h2.6M1141 956h2.6M1161 955h2.6M1187 955h2.6M1190 955h2.6M1213 955h2.6M1238 956h2.6M1240 955h2.6M1148 960h2.6M1158 960h2.6M1186 960h2.6M1223 959h2.6M1243 960h2.6M1207 962h2.6M1217 962h2.6M1223 963h2.6M1228 963h2.6M1245 962h2.6M1142 965h2.6M1144 965h2.6M1162 964h2.6M1166 965h2.6M1181 965h2.6M1187 964h2.6M1190 964h2.6M1292 964h2.6M1147 967h2.6M1159 968h2.6M1162 967h2.6M1186 967h2.6M1204 968h2.6M1155 970h2.6M1156 970h2.6M1165 970h2.6M1170 970h2.6M1172 969h2.6M1188 970h2.6M1199 970h2.6M1202 970h2.6M1236 970h2.6M1246 969h2.6M1113 971h2.6M1135 972h2.6M1137 971h2.6M1164 972h2.6M1166 972h2.6M1171 972h2.6M1181 971h2.6M1184 971h2.6M1202 972h2.6M1136 974h2.6M1139 975h2.6M1164 974h2.6M1173 974h2.6M1187 974h2.6M1264 974h2.6M1307 975h2.6M1136 977h2.6M1154 976h2.6M1166 977h2.6M1188 977h2.6M1210 977h2.6M1217 976h2.6M1254 977h2.6M1125 978h2.6M1138 979h2.6M1160 979h2.6M1164 980h2.6M1174 979h2.6M1203 979h2.6M1209 979h2.6M1288 978h2.6M1092 981h2.6M1138 981h2.6M1164 981h2.6M1166 982h2.6M1168 981h2.6M1205 981h2.6M1244 982h2.6M1250 982h2.6M1277 981h2.6M1178 984h2.6M1181 984h2.6M1185 983h2.6M1187 984h2.6M1197 983h2.6M1284 984h2.6M1111 986h2.6M1130 985h2.6M1186 987h2.6M1200 986h2.6M1201 987h2.6M1205 986h2.6M1228 987h2.6M1235 986h2.6M1246 985h2.6M1296 987h2.6M1094 988h2.6M1107 988h2.6M1126 988h2.6M1136 989h2.6M1150 988h2.6M1162 989h2.6M1164 989h2.6M1171 990h2.6M1174 988h2.6M1189 988h2.6M1190 989h2.6M1224 988h2.6M1227 989h2.6M1249 988h2.6M1171 990h2.6M1190 991h2.6M1215 991h2.6M1220 991h2.6M1227 991h2.6M1232 991h2.6M1245 992h2.6M1094 993h2.6M1124 993h2.6M1143 993h2.6M1145 993h2.6M1187 994h2.6M1193 994h2.6M1254 994h2.6M1267 994h2.6M1103 997h2.6M1108 995h2.6M1119 995h2.6M1123 996h2.6M1142 996h2.6M1171 996h2.6M1216 995h2.6M1260 995h2.6M1103 998h2.6M1113 998h2.6M1121 999h2.6M1126 997h2.6M1138 998h2.6M1160 998h2.6M1171 999h2.6M1174 999h2.6M1198 999h2.6M1204 997h2.6M1092 1001h2.6M1107 1001h2.6M1163 1001h2.6M1180 1001h2.6M1198 1000h2.6M1243 1000h2.6M1260 1001h2.6M1287 1000h2.6M1105 1002h2.6M1107 1003h2.6M1129 1003h2.6M1136 1003h2.6M1142 1003h2.6M1152 1003h2.6M1158 1002h2.6M1170 1003h2.6M1187 1002h2.6M1193 1003h2.6M1226 1003h2.6M1230 1003h2.6M1249 1004h2.6M1272 1003h2.6M1277 1003h2.6M1330 1002h2.6M1111 1006h2.6M1123 1005h2.6M1135 1005h2.6M1172 1006h2.6M1191 1006h2.6M1220 1006h2.6M1243 1005h2.6M1100 1008h2.6M1101 1008h2.6M1105 1008h2.6M1113 1008h2.6M1157 1008h2.6M1164 1008h2.6M1175 1008h2.6M1185 1007h2.6M1199 1008h2.6M1234 1009h2.6M1257 1008h2.6M1269 1008h2.6M1137 1011h2.6M1172 1010h2.6M1173 1011h2.6M1192 1011h2.6M1250 1011h2.6M1093 1013h2.6M1099 1013h2.6M1117 1013h2.6M1128 1013h2.6M1135 1012h2.6M1152 1013h2.6M1154 1013h2.6M1161 1013h2.6M1180 1013h2.6M1195 1013h2.6M1205 1012h2.6M1210 1012h2.6M1215 1013h2.6M1222 1012h2.6M1245 1013h2.6M1257 1013h2.6M1259 1013h2.6M1099 1015h2.6M1133 1015h2.6M1157 1016h2.6M1174 1014h2.6M1183 1014h2.6M1220 1016h2.6M1222 1014h2.6M1224 1015h2.6M1233 1015h2.6M1238 1015h2.6M1241 1015h2.6M1248 1014h2.6M1254 1014h2.6M1119 1017h2.6M1157 1017h2.6M1169 1018h2.6M1207 1017h2.6M1262 1017h2.6M1265 1016h2.6M1293 1017h2.6M1096 1019h2.6M1104 1019h2.6M1112 1020h2.6M1141 1021h2.6M1160 1019h2.6M1183 1020h2.6M1186 1020h2.6M1198 1020h2.6M1260 1020h2.6M1264 1020h2.6M1142 1022h2.6M1176 1023h2.6M1181 1022h2.6M1216 1022h2.6M1224 1023h2.6M1096 1024h2.6M1166 1024h2.6M1183 1025h2.6M1212 1025h2.6M1238 1025h2.6M1254 1025h2.6M1103 1027h2.6M1124 1026h2.6M1173 1027h2.6M1228 1028h2.6M1238 1026h2.6M1279 1027h2.6M1133 1029h2.6M1141 1030h2.6M1166 1029h2.6M1169 1029h2.6M1185 1030h2.6M1217 1029h2.6M1221 1029h2.6M1229 1029h2.6M1252 1029h2.6M1276 1029h2.6M1089 1032h2.6M1191 1032h2.6M1208 1032h2.6M1222 1031h2.6M1233 1033h2.6M1236 1031h2.6M1262 1032h2.6M1094 1035h2.6M1112 1033h2.6M1154 1035h2.6M1178 1034h2.6M1218 1035h2.6M1238 1033h2.6M1252 1034h2.6M1262 1034h2.6M1105 1037h2.6M1115 1036h2.6M1145 1037h2.6M1149 1036h2.6M1157 1036h2.6M1158 1037h2.6M1191 1037h2.6M1202 1037h2.6M1208 1037h2.6M1214 1036h2.6M1228 1036h2.6M1235 1037h2.6M1245 1037h2.6M1101 1039h2.6M1150 1039h2.6M1162 1039h2.6M1181 1039h2.6M1204 1038h2.6M1220 1039h2.6M1275 1039h2.6M1090 1042h2.6M1114 1041h2.6M1143 1042h2.6M1169 1041h2.6M1188 1040h2.6M1217 1041h2.6M1219 1042h2.6M1243 1042h2.6M1254 1041h2.6M1090 1043h2.6M1161 1044h2.6M1179 1044h2.6M1192 1043h2.6M1234 1044h2.6M1235 1044h2.6M1099 1045h2.6M1104 1046h2.6M1114 1046h2.6M1119 1046h2.6M1133 1046h2.6M1169 1046h2.6M1177 1046h2.6M1185 1046h2.6M1189 1045h2.6M1193 1046h2.6M1101 1049h2.6M1112 1049h2.6M1158 1048h2.6M1189 1048h2.6M1193 1049h2.6M1197 1049h2.6M1205 1048h2.6M1216 1048h2.6M1235 1049h2.6M1281 1049h2.6M1100 1052h2.6M1121 1050h2.6M1161 1051h2.6M1223 1051h2.6M1229 1051h2.6M1258 1050h2.6M1138 1053h2.6M1171 1054h2.6M1174 1054h2.6M1178 1052h2.6M1205 1054h2.6M1226 1054h2.6M1229 1053h2.6M1234 1053h2.6M1096 1056h2.6M1118 1055h2.6M1164 1056h2.6M1217 1055h2.6M1226 1055h2.6M1106 1058h2.6M1117 1058h2.6M1144 1058h2.6M1181 1058h2.6M1192 1057h2.6M1207 1058h2.6M1220 1058h2.6M1241 1058h2.6M1249 1059h2.6M1267 1058h2.6M1097 1061h2.6M1100 1061h2.6M1174 1060h2.6M1227 1060h2.6M1254 1061h2.6M1099 1063h2.6M1130 1062h2.6M1164 1062h2.6M1173 1063h2.6M1176 1063h2.6M1197 1063h2.6M1214 1063h2.6M1238 1062h2.6M1263 1062h2.6M1116 1066h2.6M1125 1065h2.6M1176 1065h2.6M1192 1065h2.6M1102 1067h2.6M1119 1068h2.6M1181 1068h2.6M1198 1068h2.6M1219 1068h2.6M1224 1068h2.6M1238 1067h2.6M1195 1070h2.6M1202 1071h2.6M1215 1070h2.6M1099 1073h2.6M1224 1075h2.6M1210 1077h2.6M1190 1079h2.6M1209 1085h2.6M1222 1085h2.6M1095 1086h2.6M1216 1086h2.6M1214 1089h2.6M1227 1089h2.6M1229 1092h2.6M1090 1094h2.6M1214 1093h2.6M1221 1095h2.6M1237 1094h2.6M1251 1099h2.6M1215 1100h2.6M1217 1101h2.6M1223 1102h2.6M1245 1101h2.6M1228 1104h2.6M1235 1109h2.6M1226 1111h2.6M1251 1110h2.6M1233 1114h2.6M1246 1113h2.6M1221 1117h2.6M1234 1119h2.6M1237 1118h2.6M1255 1119h2.6M1223 1120h2.6M1237 1120h2.6M1279 1120h2.6M1245 1123h2.6M1233 1125h2.6M1238 1125h2.6M1247 1125h2.6M1252 1125h2.6M1223 1128h2.6M1226 1130h2.6M1231 1130h2.6M1243 1129h2.6M1270 1130h2.6M1228 1133h2.6M1231 1133h2.6M1222 1135h2.6M1245 1134h2.6M1214 1138h2.6M1226 1136h2.6M1232 1137h2.6M1227 1139h2.6M1226 1142h2.6M1228 1141h2.6M1263 1142h2.6M1240 1144h2.6M1250 1144h2.6M1241 1146h2.6M1217 1148h2.6M1212 1152h2.6M1246 1152h2.6M1253 1152h2.6M1258 1151h2.6M1221 1153h2.6M1229 1154h2.6M1238 1153h2.6M1221 1155h2.6M1225 1156h2.6M1247 1157h2.6M1261 1155h2.6M1089 1158h2.6M1217 1159h2.6M1219 1159h2.6M1221 1161h2.6M1234 1161h2.6M1239 1160h2.6M1244 1161h2.6M1214 1162h2.6M1221 1163h2.6M1245 1162h2.6M1228 1166h2.6M1244 1165h2.6M1245 1166h2.6M1230 1168h2.6M1206 1170h2.6M1217 1170h2.6M1256 1170h2.6M1092 1173h2.6M1243 1173h2.6M1248 1173h2.6M1221 1174h2.6M1245 1174h2.6M1096 1177h2.6M1202 1178h2.6M1239 1178h2.6M1106 1180h2.6M1203 1182h2.6M1211 1183h2.6M1215 1182h2.6M1238 1182h2.6M1089 1185h2.6M1208 1184h2.6M1095 1188h2.6M1099 1187h2.6M1104 1187h2.6M1193 1187h2.6M1197 1187h2.6M1210 1187h2.6M1214 1188h2.6M1105 1190h2.6M1114 1190h2.6M1214 1189h2.6M1099 1193h2.6M1209 1195h2.6M1212 1195h2.6M1217 1194h2.6M1237 1193h2.6M1123 1197h2.6M1179 1199h2.6M1216 1199h2.6M1219 1198h2.6M1211 1202h2.6M1228 1201h2.6M1203 1204h2.6M1232 1204h2.6M1246 1203h2.6M1204 1207h2.6M1211 1206h2.6M1289 1206h2.6M1217 1221h2.6M1205 1222h2.6M1223 1223h2.6M1197 1225h2.6M1212 1225h2.6" stroke="#780000" stroke-opacity="1" stroke-width="2.6" fill="none"/><path d="M1180 921h2.6M1193 921h2.6M1198 928h2.6M1250 928h2.6M1166 931h2.6M1228 938h2.6M1212 941h2.6M1192 943h2.6M1142 945h2.6M1167 945h2.6M1199 948h2.6M1164 950h2.6M1210 952h2.6M1222 955h2.6M1246 956h2.6M1152 957h2.6M1182 958h2.6M1188 957h2.6M1198 957h2.6M1214 958h2.6M1176 960h2.6M1178 959h2.6M1189 959h2.6M1198 959h2.6M1228 961h2.6M1185 962h2.6M1201 962h2.6M1248 962h2.6M1092 965h2.6M1163 966h2.6M1231 965h2.6M1167 967h2.6M1150 969h2.6M1208 969h2.6M1160 972h2.6M1224 972h2.6M1240 973h2.6M1259 972h2.6M1254 974h2.6M1174 977h2.6M1181 977h2.6M1222 977h2.6M1267 976h2.6M1142 979h2.6M1151 979h2.6M1171 980h2.6M1116 981h2.6M1155 981h2.6M1176 982h2.6M1212 982h2.6M1232 981h2.6M1112 984h2.6M1160 983h2.6M1165 983h2.6M1207 984h2.6M1263 985h2.6M1104 986h2.6M1143 987h2.6M1150 987h2.6M1162 987h2.6M1171 987h2.6M1209 987h2.6M1217 987h2.6M1243 988h2.6M1267 988h2.6M1101 991h2.6M1188 992h2.6M1092 993h2.6M1110 993h2.6M1210 994h2.6M1286 994h2.6M1093 995h2.6M1125 996h2.6M1164 996h2.6M1214 996h2.6M1218 996h2.6M1238 997h2.6M1243 995h2.6M1141 999h2.6M1153 999h2.6M1169 998h2.6M1178 998h2.6M1191 998h2.6M1215 999h2.6M1109 1001h2.6M1113 1001h2.6M1123 1001h2.6M1140 1001h2.6M1143 1001h2.6M1187 1000h2.6M1217 1001h2.6M1226 1001h2.6M1234 1000h2.6M1099 1003h2.6M1118 1003h2.6M1164 1003h2.6M1207 1003h2.6M1259 1003h2.6M1094 1006h2.6M1104 1006h2.6M1107 1005h2.6M1137 1005h2.6M1147 1006h2.6M1153 1006h2.6M1214 1005h2.6M1264 1006h2.6M1266 1005h2.6M1094 1007h2.6M1116 1009h2.6M1133 1007h2.6M1138 1008h2.6M1140 1007h2.6M1147 1008h2.6M1149 1009h2.6M1312 1007h2.6M1130 1011h2.6M1211 1011h2.6M1112 1013h2.6M1151 1013h2.6M1184 1012h2.6M1250 1012h2.6M1092 1015h2.6M1123 1015h2.6M1131 1016h2.6M1145 1014h2.6M1154 1016h2.6M1158 1015h2.6M1163 1014h2.6M1175 1016h2.6M1193 1015h2.6M1201 1016h2.6M1249 1015h2.6M1111 1017h2.6M1123 1017h2.6M1128 1017h2.6M1155 1018h2.6M1167 1017h2.6M1178 1017h2.6M1232 1017h2.6M1243 1017h2.6M1250 1017h2.6M1127 1020h2.6M1135 1020h2.6M1148 1020h2.6M1104 1022h2.6M1107 1022h2.6M1113 1022h2.6M1119 1022h2.6M1128 1023h2.6M1136 1023h2.6M1220 1022h2.6M1232 1022h2.6M1239 1022h2.6M1135 1024h2.6M1148 1025h2.6M1159 1025h2.6M1164 1024h2.6M1090 1027h2.6M1097 1027h2.6M1106 1028h2.6M1130 1026h2.6M1132 1027h2.6M1194 1028h2.6M1202 1027h2.6M1089 1030h2.6M1100 1029h2.6M1107 1029h2.6M1111 1029h2.6M1131 1028h2.6M1135 1030h2.6M1148 1030h2.6M1165 1029h2.6M1260 1029h2.6M1267 1030h2.6M1128 1032h2.6M1140 1032h2.6M1159 1032h2.6M1162 1032h2.6M1099 1034h2.6M1124 1034h2.6M1138 1034h2.6M1143 1034h2.6M1176 1034h2.6M1190 1035h2.6M1268 1034h2.6M1097 1036h2.6M1107 1037h2.6M1109 1037h2.6M1130 1037h2.6M1136 1037h2.6M1138 1037h2.6M1166 1037h2.6M1175 1037h2.6M1189 1037h2.6M1197 1036h2.6M1213 1037h2.6M1222 1036h2.6M1238 1037h2.6M1248 1037h2.6M1279 1036h2.6M1097 1039h2.6M1117 1039h2.6M1142 1038h2.6M1176 1039h2.6M1185 1038h2.6M1195 1038h2.6M1104 1042h2.6M1133 1041h2.6M1172 1041h2.6M1226 1042h2.6M1259 1042h2.6M1100 1044h2.6M1118 1044h2.6M1125 1043h2.6M1140 1044h2.6M1150 1044h2.6M1200 1043h2.6M1213 1043h2.6M1221 1044h2.6M1255 1044h2.6M1111 1046h2.6M1121 1046h2.6M1126 1046h2.6M1130 1046h2.6M1135 1046h2.6M1155 1046h2.6M1160 1046h2.6M1167 1047h2.6M1171 1046h2.6M1211 1046h2.6M1093 1049h2.6M1094 1049h2.6M1113 1048h2.6M1155 1049h2.6M1250 1048h2.6M1097 1051h2.6M1135 1050h2.6M1145 1051h2.6M1164 1051h2.6M1173 1051h2.6M1182 1050h2.6M1095 1053h2.6M1107 1053h2.6M1118 1053h2.6M1122 1054h2.6M1145 1053h2.6M1151 1053h2.6M1154 1052h2.6M1166 1053h2.6M1183 1054h2.6M1245 1053h2.6M1101 1055h2.6M1107 1055h2.6M1113 1055h2.6M1141 1056h2.6M1160 1056h2.6M1100 1059h2.6M1105 1058h2.6M1120 1058h2.6M1150 1059h2.6M1155 1058h2.6M1174 1057h2.6M1183 1058h2.6M1186 1057h2.6M1140 1060h2.6M1155 1060h2.6M1161 1060h2.6M1166 1061h2.6M1186 1061h2.6M1089 1063h2.6M1102 1063h2.6M1109 1063h2.6M1124 1063h2.6M1125 1064h2.6M1171 1062h2.6M1185 1063h2.6M1190 1063h2.6M1200 1063h2.6M1202 1062h2.6M1236 1063h2.6M1090 1065h2.6M1140 1065h2.6M1151 1066h2.6M1162 1066h2.6M1169 1066h2.6M1093 1067h2.6M1130 1068h2.6M1142 1068h2.6M1149 1067h2.6M1165 1068h2.6M1175 1068h2.6M1194 1068h2.6M1195 1067h2.6M1121 1071h2.6M1132 1069h2.6M1137 1070h2.6M1144 1069h2.6M1169 1070h2.6M1174 1070h2.6M1176 1069h2.6M1209 1071h2.6M1125 1072h2.6M1130 1072h2.6M1140 1072h2.6M1147 1072h2.6M1165 1072h2.6M1167 1072h2.6M1170 1072h2.6M1172 1072h2.6M1173 1072h2.6M1182 1073h2.6M1188 1072h2.6M1192 1072h2.6M1090 1074h2.6M1092 1074h2.6M1097 1075h2.6M1118 1076h2.6M1153 1075h2.6M1161 1074h2.6M1173 1075h2.6M1200 1075h2.6M1099 1077h2.6M1104 1078h2.6M1156 1077h2.6M1172 1077h2.6M1190 1076h2.6M1123 1079h2.6M1132 1079h2.6M1135 1080h2.6M1165 1080h2.6M1181 1079h2.6M1184 1080h2.6M1208 1080h2.6M1099 1082h2.6M1107 1083h2.6M1114 1082h2.6M1128 1081h2.6M1159 1081h2.6M1198 1082h2.6M1094 1084h2.6M1104 1085h2.6M1107 1083h2.6M1117 1084h2.6M1174 1085h2.6M1178 1084h2.6M1186 1084h2.6M1189 1084h2.6M1102 1087h2.6M1107 1087h2.6M1121 1087h2.6M1128 1086h2.6M1135 1086h2.6M1200 1086h2.6M1211 1087h2.6M1222 1086h2.6M1104 1089h2.6M1122 1088h2.6M1136 1089h2.6M1162 1089h2.6M1175 1089h2.6M1180 1090h2.6M1186 1090h2.6M1193 1089h2.6M1200 1090h2.6M1238 1089h2.6M1089 1091h2.6M1096 1092h2.6M1109 1091h2.6M1112 1091h2.6M1143 1092h2.6M1174 1092h2.6M1211 1092h2.6M1219 1092h2.6M1245 1092h2.6M1114 1094h2.6M1124 1094h2.6M1128 1094h2.6M1166 1094h2.6M1202 1095h2.6M1212 1094h2.6M1096 1096h2.6M1117 1096h2.6M1131 1096h2.6M1135 1096h2.6M1147 1096h2.6M1167 1097h2.6M1207 1096h2.6M1227 1097h2.6M1112 1099h2.6M1150 1098h2.6M1187 1098h2.6M1194 1099h2.6M1223 1099h2.6M1094 1101h2.6M1132 1100h2.6M1136 1101h2.6M1155 1100h2.6M1090 1104h2.6M1093 1104h2.6M1115 1103h2.6M1142 1104h2.6M1190 1103h2.6M1205 1104h2.6M1253 1103h2.6M1176 1105h2.6M1194 1106h2.6M1205 1106h2.6M1213 1106h2.6M1219 1106h2.6M1222 1105h2.6M1109 1109h2.6M1191 1108h2.6M1208 1108h2.6M1218 1108h2.6M1222 1108h2.6M1224 1108h2.6M1250 1108h2.6M1154 1110h2.6M1190 1111h2.6M1209 1111h2.6M1214 1111h2.6M1221 1111h2.6M1223 1110h2.6M1252 1111h2.6M1123 1114h2.6M1149 1113h2.6M1151 1114h2.6M1204 1114h2.6M1235 1113h2.6M1090 1116h2.6M1109 1116h2.6M1119 1116h2.6M1134 1116h2.6M1145 1116h2.6M1160 1115h2.6M1164 1116h2.6M1184 1116h2.6M1195 1116h2.6M1093 1118h2.6M1128 1117h2.6M1134 1118h2.6M1203 1117h2.6M1243 1118h2.6M1123 1120h2.6M1134 1120h2.6M1150 1121h2.6M1155 1121h2.6M1203 1120h2.6M1120 1123h2.6M1143 1123h2.6M1162 1123h2.6M1169 1122h2.6M1226 1122h2.6M1136 1126h2.6M1150 1125h2.6M1157 1125h2.6M1159 1125h2.6M1193 1124h2.6M1205 1124h2.6M1211 1125h2.6M1092 1127h2.6M1095 1127h2.6M1112 1127h2.6M1117 1127h2.6M1119 1127h2.6M1129 1128h2.6M1131 1127h2.6M1171 1127h2.6M1206 1127h2.6M1090 1130h2.6M1101 1129h2.6M1107 1130h2.6M1147 1129h2.6M1174 1130h2.6M1183 1130h2.6M1222 1129h2.6M1097 1133h2.6M1106 1133h2.6M1109 1133h2.6M1136 1132h2.6M1144 1132h2.6M1152 1133h2.6M1161 1131h2.6M1163 1133h2.6M1174 1132h2.6M1209 1132h2.6M1220 1132h2.6M1099 1135h2.6M1154 1134h2.6M1187 1135h2.6M1207 1134h2.6M1210 1134h2.6M1220 1135h2.6M1231 1134h2.6M1097 1136h2.6M1102 1136h2.6M1112 1138h2.6M1131 1137h2.6M1167 1137h2.6M1191 1137h2.6M1216 1138h2.6M1224 1137h2.6M1236 1137h2.6M1094 1139h2.6M1113 1139h2.6M1116 1140h2.6M1141 1139h2.6M1148 1140h2.6M1157 1139h2.6M1187 1140h2.6M1190 1139h2.6M1195 1140h2.6M1215 1139h2.6M1096 1143h2.6M1120 1141h2.6M1176 1142h2.6M1188 1142h2.6M1192 1142h2.6M1197 1141h2.6M1218 1142h2.6M1099 1145h2.6M1143 1145h2.6M1145 1145h2.6M1159 1144h2.6M1165 1145h2.6M1203 1145h2.6M1246 1144h2.6M1092 1146h2.6M1108 1147h2.6M1190 1147h2.6M1203 1146h2.6M1214 1146h2.6M1220 1147h2.6M1222 1146h2.6M1228 1146h2.6M1245 1147h2.6M1262 1147h2.6M1098 1148h2.6M1109 1149h2.6M1118 1150h2.6M1182 1149h2.6M1192 1149h2.6M1209 1149h2.6M1222 1149h2.6M1233 1150h2.6M1095 1150h2.6M1121 1151h2.6M1137 1152h2.6M1146 1152h2.6M1157 1152h2.6M1193 1150h2.6M1228 1152h2.6M1098 1153h2.6M1118 1153h2.6M1138 1154h2.6M1162 1153h2.6M1184 1154h2.6M1193 1154h2.6M1202 1153h2.6M1224 1154h2.6M1090 1157h2.6M1109 1156h2.6M1122 1156h2.6M1132 1156h2.6M1140 1157h2.6M1145 1156h2.6M1155 1156h2.6M1191 1157h2.6M1195 1157h2.6M1198 1156h2.6M1203 1157h2.6M1205 1157h2.6M1217 1155h2.6M1219 1156h2.6M1225 1155h2.6M1108 1159h2.6M1116 1159h2.6M1121 1159h2.6M1134 1158h2.6M1170 1159h2.6M1190 1159h2.6M1102 1162h2.6M1106 1161h2.6M1130 1161h2.6M1170 1161h2.6M1176 1161h2.6M1205 1160h2.6M1214 1161h2.6M1095 1163h2.6M1121 1163h2.6M1123 1164h2.6M1135 1164h2.6M1162 1163h2.6M1179 1163h2.6M1190 1163h2.6M1203 1164h2.6M1205 1163h2.6M1111 1165h2.6M1115 1166h2.6M1136 1166h2.6M1140 1166h2.6M1167 1166h2.6M1177 1166h2.6M1181 1166h2.6M1186 1165h2.6M1192 1166h2.6M1090 1169h2.6M1102 1167h2.6M1105 1168h2.6M1119 1169h2.6M1124 1168h2.6M1145 1168h2.6M1200 1168h2.6M1216 1169h2.6M1099 1170h2.6M1106 1170h2.6M1121 1171h2.6M1128 1170h2.6M1150 1171h2.6M1156 1170h2.6M1167 1171h2.6M1178 1170h2.6M1190 1170h2.6M1225 1170h2.6M1095 1172h2.6M1111 1173h2.6M1188 1172h2.6M1219 1172h2.6M1097 1175h2.6M1121 1176h2.6M1142 1175h2.6M1192 1175h2.6M1201 1176h2.6M1214 1175h2.6M1224 1175h2.6M1091 1178h2.6M1121 1178h2.6M1125 1177h2.6M1146 1178h2.6M1147 1177h2.6M1157 1178h2.6M1163 1177h2.6M1169 1177h2.6M1195 1178h2.6M1102 1180h2.6M1130 1181h2.6M1202 1180h2.6M1213 1181h2.6M1220 1179h2.6M1240 1179h2.6M1257 1181h2.6M1094 1182h2.6M1096 1182h2.6M1114 1182h2.6M1130 1183h2.6M1173 1183h2.6M1198 1183h2.6M1105 1186h2.6M1116 1186h2.6M1157 1184h2.6M1169 1185h2.6M1193 1184h2.6M1196 1185h2.6M1200 1184h2.6M1092 1187h2.6M1116 1188h2.6M1118 1187h2.6M1125 1187h2.6M1135 1187h2.6M1147 1188h2.6M1203 1187h2.6M1207 1188h2.6M1097 1189h2.6M1103 1189h2.6M1116 1190h2.6M1142 1189h2.6M1161 1190h2.6M1176 1190h2.6M1185 1189h2.6M1189 1189h2.6M1209 1190h2.6M1092 1193h2.6M1128 1192h2.6M1137 1192h2.6M1201 1192h2.6M1106 1195h2.6M1108 1195h2.6M1116 1194h2.6M1118 1195h2.6M1121 1195h2.6M1124 1194h2.6M1150 1195h2.6M1169 1195h2.6M1173 1194h2.6M1204 1194h2.6M1155 1197h2.6M1179 1197h2.6M1196 1198h2.6M1227 1197h2.6M1128 1199h2.6M1141 1198h2.6M1155 1200h2.6M1169 1200h2.6M1190 1199h2.6M1104 1202h2.6M1108 1201h2.6M1119 1201h2.6M1127 1202h2.6M1143 1201h2.6M1154 1201h2.6M1195 1201h2.6M1201 1202h2.6M1209 1201h2.6M1215 1202h2.6M1107 1203h2.6M1108 1203h2.6M1134 1204h2.6M1150 1205h2.6M1201 1203h2.6M1226 1204h2.6M1099 1206h2.6M1105 1206h2.6M1118 1206h2.6M1123 1205h2.6M1134 1207h2.6M1136 1207h2.6M1149 1207h2.6M1162 1206h2.6M1209 1206h2.6M1112 1209h2.6M1143 1209h2.6M1150 1209h2.6M1157 1208h2.6M1170 1209h2.6M1171 1209h2.6M1183 1209h2.6M1195 1209h2.6M1213 1208h2.6M1103 1211h2.6M1123 1211h2.6M1133 1211h2.6M1136 1211h2.6M1162 1211h2.6M1181 1210h2.6M1190 1210h2.6M1227 1210h2.6M1092 1214h2.6M1095 1213h2.6M1099 1213h2.6M1107 1213h2.6M1135 1213h2.6M1142 1213h2.6M1159 1214h2.6M1178 1214h2.6M1186 1213h2.6M1197 1214h2.6M1199 1214h2.6M1210 1213h2.6M1212 1213h2.6M1213 1214h2.6M1090 1216h2.6M1106 1217h2.6M1117 1215h2.6M1148 1216h2.6M1165 1216h2.6M1174 1216h2.6M1176 1216h2.6M1179 1216h2.6M1183 1215h2.6M1205 1217h2.6M1097 1217h2.6M1111 1218h2.6M1124 1219h2.6M1138 1218h2.6M1162 1219h2.6M1173 1219h2.6M1179 1218h2.6M1186 1219h2.6M1202 1219h2.6M1125 1220h2.6M1156 1220h2.6M1165 1221h2.6M1173 1220h2.6M1176 1220h2.6M1193 1220h2.6M1220 1220h2.6M1226 1221h2.6M1252 1221h2.6M1117 1222h2.6M1119 1224h2.6M1125 1223h2.6M1135 1223h2.6M1200 1223h2.6M1207 1224h2.6M1100 1225h2.6M1112 1226h2.6M1114 1225h2.6M1120 1226h2.6M1123 1226h2.6M1143 1226h2.6M1151 1226h2.6M1167 1225h2.6M1191 1226h2.6M1206 1226h2.6" stroke="#c00000" stroke-opacity="1" stroke-width="2.6" fill="none"/><path d="M1217 934h2.6M1190 938h2.6M1193 946h2.6M1215 949h2.6M1216 951h2.6M1200 953h2.6M1205 953h2.6M1198 956h2.6M1165 960h2.6M1221 961h2.6M1164 963h2.6M1226 962h2.6M1193 967h2.6M1215 968h2.6M1222 967h2.6M1241 967h2.6M1193 969h2.6M1149 971h2.6M1201 972h2.6M1245 972h2.6M1218 974h2.6M1159 976h2.6M1231 977h2.6M1109 979h2.6M1155 980h2.6M1180 981h2.6M1194 985h2.6M1231 984h2.6M1233 984h2.6M1243 985h2.6M1173 986h2.6M1211 987h2.6M1223 987h2.6M1241 985h2.6M1099 988h2.6M1159 989h2.6M1177 989h2.6M1260 988h2.6M1169 992h2.6M1260 991h2.6M1277 992h2.6M1120 993h2.6M1147 993h2.6M1174 993h2.6M1206 993h2.6M1224 993h2.6M1098 996h2.6M1114 996h2.6M1116 997h2.6M1124 998h2.6M1131 999h2.6M1136 998h2.6M1116 1001h2.6M1239 1001h2.6M1150 1003h2.6M1161 1003h2.6M1173 1002h2.6M1175 1002h2.6M1233 1003h2.6M1109 1006h2.6M1125 1006h2.6M1149 1005h2.6M1258 1005h2.6M1096 1008h2.6M1108 1008h2.6M1122 1009h2.6M1123 1007h2.6M1247 1007h2.6M1102 1011h2.6M1124 1010h2.6M1156 1010h2.6M1219 1010h2.6M1244 1010h2.6M1267 1010h2.6M1113 1013h2.6M1121 1012h2.6M1133 1012h2.6M1167 1013h2.6M1125 1015h2.6M1138 1016h2.6M1162 1014h2.6M1190 1014h2.6M1195 1015h2.6M1226 1014h2.6M1107 1017h2.6M1114 1016h2.6M1116 1018h2.6M1131 1017h2.6M1137 1017h2.6M1164 1017h2.6M1195 1017h2.6M1224 1017h2.6M1096 1020h2.6M1099 1021h2.6M1109 1020h2.6M1117 1020h2.6M1128 1020h2.6M1174 1021h2.6M1250 1019h2.6M1089 1021h2.6M1124 1023h2.6M1133 1022h2.6M1173 1022h2.6M1103 1025h2.6M1107 1025h2.6M1132 1024h2.6M1142 1025h2.6M1156 1024h2.6M1168 1025h2.6M1251 1025h2.6M1109 1027h2.6M1127 1026h2.6M1136 1026h2.6M1152 1028h2.6M1200 1027h2.6M1205 1026h2.6M1247 1027h2.6M1257 1027h2.6M1126 1030h2.6M1145 1030h2.6M1157 1029h2.6M1159 1028h2.6M1191 1030h2.6M1196 1030h2.6M1271 1030h2.6M1101 1031h2.6M1107 1031h2.6M1116 1031h2.6M1145 1032h2.6M1151 1032h2.6M1173 1032h2.6M1193 1032h2.6M1248 1033h2.6M1109 1035h2.6M1117 1033h2.6M1127 1034h2.6M1158 1034h2.6M1186 1033h2.6M1202 1034h2.6M1221 1034h2.6M1090 1036h2.6M1123 1036h2.6M1143 1036h2.6M1151 1036h2.6M1174 1037h2.6M1182 1036h2.6M1232 1036h2.6M1233 1036h2.6M1100 1039h2.6M1104 1039h2.6M1126 1039h2.6M1132 1039h2.6M1156 1040h2.6M1159 1039h2.6M1166 1039h2.6M1169 1039h2.6M1182 1039h2.6M1210 1039h2.6M1100 1041h2.6M1110 1041h2.6M1121 1042h2.6M1123 1040h2.6M1125 1042h2.6M1149 1041h2.6M1205 1040h2.6M1212 1041h2.6M1248 1041h2.6M1106 1043h2.6M1112 1043h2.6M1113 1044h2.6M1117 1043h2.6M1130 1044h2.6M1133 1044h2.6M1136 1043h2.6M1142 1043h2.6M1152 1044h2.6M1159 1043h2.6M1181 1043h2.6M1183 1044h2.6M1186 1043h2.6M1206 1044h2.6M1089 1046h2.6M1110 1045h2.6M1162 1047h2.6M1173 1046h2.6M1190 1046h2.6M1198 1045h2.6M1204 1047h2.6M1224 1046h2.6M1105 1049h2.6M1116 1049h2.6M1133 1049h2.6M1140 1049h2.6M1147 1049h2.6M1150 1048h2.6M1152 1048h2.6M1157 1048h2.6M1186 1048h2.6M1102 1051h2.6M1133 1051h2.6M1146 1051h2.6M1157 1051h2.6M1179 1051h2.6M1186 1051h2.6M1090 1054h2.6M1109 1053h2.6M1156 1054h2.6M1200 1054h2.6M1105 1056h2.6M1199 1056h2.6M1204 1056h2.6M1214 1055h2.6M1094 1058h2.6M1135 1058h2.6M1157 1058h2.6M1167 1058h2.6M1191 1058h2.6M1112 1061h2.6M1124 1060h2.6M1125 1060h2.6M1092 1063h2.6M1104 1063h2.6M1115 1064h2.6M1137 1063h2.6M1139 1064h2.6M1150 1062h2.6M1155 1063h2.6M1167 1062h2.6M1211 1062h2.6M1103 1066h2.6M1118 1066h2.6M1171 1065h2.6M1179 1065h2.6M1197 1065h2.6M1200 1065h2.6M1096 1067h2.6M1122 1067h2.6M1155 1067h2.6M1159 1067h2.6M1179 1067h2.6M1205 1068h2.6M1210 1067h2.6M1100 1069h2.6M1102 1069h2.6M1109 1069h2.6M1112 1069h2.6M1124 1070h2.6M1128 1069h2.6M1131 1069h2.6M1157 1070h2.6M1160 1071h2.6M1161 1069h2.6M1164 1071h2.6M1171 1069h2.6M1179 1069h2.6M1186 1069h2.6M1102 1073h2.6M1107 1073h2.6M1110 1072h2.6M1111 1072h2.6M1119 1073h2.6M1145 1072h2.6M1157 1072h2.6M1176 1072h2.6M1190 1071h2.6M1203 1072h2.6M1212 1072h2.6M1095 1075h2.6M1123 1075h2.6M1126 1075h2.6M1127 1076h2.6M1130 1075h2.6M1155 1074h2.6M1167 1075h2.6M1169 1076h2.6M1171 1076h2.6M1178 1075h2.6M1203 1075h2.6M1212 1075h2.6M1095 1078h2.6M1096 1077h2.6M1125 1078h2.6M1135 1077h2.6M1142 1077h2.6M1149 1078h2.6M1162 1076h2.6M1195 1076h2.6M1206 1077h2.6M1109 1080h2.6M1143 1080h2.6M1152 1079h2.6M1157 1080h2.6M1169 1080h2.6M1092 1082h2.6M1111 1082h2.6M1119 1083h2.6M1123 1082h2.6M1146 1082h2.6M1166 1082h2.6M1169 1083h2.6M1174 1082h2.6M1185 1081h2.6M1193 1082h2.6M1100 1084h2.6M1102 1084h2.6M1111 1084h2.6M1114 1084h2.6M1121 1084h2.6M1127 1084h2.6M1160 1084h2.6M1164 1085h2.6M1181 1084h2.6M1190 1084h2.6M1207 1085h2.6M1111 1088h2.6M1114 1086h2.6M1119 1087h2.6M1131 1086h2.6M1134 1086h2.6M1137 1087h2.6M1143 1086h2.6M1157 1086h2.6M1169 1086h2.6M1171 1087h2.6M1205 1086h2.6M1100 1089h2.6M1102 1089h2.6M1119 1089h2.6M1125 1090h2.6M1145 1089h2.6M1157 1090h2.6M1160 1090h2.6M1170 1089h2.6M1183 1089h2.6M1195 1090h2.6M1204 1088h2.6M1208 1088h2.6M1095 1091h2.6M1107 1091h2.6M1114 1091h2.6M1121 1091h2.6M1131 1091h2.6M1135 1092h2.6M1145 1091h2.6M1157 1092h2.6M1171 1091h2.6M1176 1091h2.6M1190 1091h2.6M1193 1091h2.6M1202 1092h2.6M1226 1092h2.6M1104 1093h2.6M1168 1093h2.6M1186 1095h2.6M1193 1095h2.6M1200 1094h2.6M1208 1094h2.6M1123 1097h2.6M1128 1096h2.6M1133 1096h2.6M1143 1096h2.6M1150 1096h2.6M1154 1097h2.6M1168 1096h2.6M1174 1096h2.6M1176 1096h2.6M1196 1097h2.6M1199 1096h2.6M1203 1096h2.6M1205 1096h2.6M1090 1099h2.6M1097 1098h2.6M1105 1099h2.6M1114 1098h2.6M1121 1098h2.6M1125 1098h2.6M1129 1098h2.6M1138 1098h2.6M1142 1098h2.6M1154 1098h2.6M1159 1099h2.6M1176 1099h2.6M1199 1099h2.6M1214 1099h2.6M1100 1102h2.6M1108 1102h2.6M1114 1101h2.6M1116 1100h2.6M1129 1100h2.6M1143 1101h2.6M1150 1101h2.6M1153 1100h2.6M1162 1102h2.6M1172 1101h2.6M1173 1102h2.6M1179 1102h2.6M1200 1101h2.6M1207 1100h2.6M1210 1102h2.6M1107 1103h2.6M1109 1103h2.6M1117 1104h2.6M1125 1103h2.6M1140 1104h2.6M1145 1104h2.6M1148 1104h2.6M1164 1103h2.6M1169 1103h2.6M1171 1103h2.6M1181 1103h2.6M1183 1104h2.6M1193 1103h2.6M1195 1103h2.6M1200 1104h2.6M1210 1104h2.6M1092 1105h2.6M1099 1106h2.6M1106 1105h2.6M1111 1105h2.6M1118 1105h2.6M1123 1106h2.6M1148 1106h2.6M1157 1105h2.6M1163 1106h2.6M1186 1106h2.6M1191 1106h2.6M1197 1107h2.6M1202 1107h2.6M1214 1105h2.6M1090 1108h2.6M1102 1108h2.6M1104 1107h2.6M1121 1108h2.6M1140 1108h2.6M1146 1109h2.6M1150 1108h2.6M1154 1108h2.6M1168 1107h2.6M1188 1108h2.6M1192 1108h2.6M1214 1108h2.6M1108 1111h2.6M1111 1111h2.6M1121 1111h2.6M1131 1111h2.6M1134 1110h2.6M1149 1112h2.6M1152 1111h2.6M1173 1112h2.6M1177 1110h2.6M1188 1110h2.6M1200 1111h2.6M1207 1110h2.6M1212 1111h2.6M1093 1112h2.6M1107 1113h2.6M1109 1113h2.6M1111 1113h2.6M1116 1113h2.6M1126 1112h2.6M1138 1113h2.6M1160 1112h2.6M1162 1113h2.6M1165 1112h2.6M1170 1113h2.6M1173 1113h2.6M1182 1113h2.6M1188 1112h2.6M1192 1113h2.6M1195 1113h2.6M1215 1113h2.6M1223 1114h2.6M1094 1115h2.6M1114 1116h2.6M1141 1115h2.6M1179 1115h2.6M1181 1115h2.6M1188 1115h2.6M1199 1115h2.6M1204 1116h2.6M1216 1115h2.6M1097 1119h2.6M1108 1117h2.6M1121 1118h2.6M1125 1119h2.6M1131 1119h2.6M1140 1117h2.6M1148 1118h2.6M1154 1118h2.6M1159 1118h2.6M1164 1117h2.6M1168 1118h2.6M1172 1117h2.6M1189 1117h2.6M1195 1118h2.6M1215 1117h2.6M1140 1120h2.6M1142 1120h2.6M1147 1119h2.6M1161 1119h2.6M1164 1121h2.6M1192 1120h2.6M1206 1121h2.6M1207 1120h2.6M1217 1120h2.6M1221 1120h2.6M1230 1120h2.6M1091 1123h2.6M1092 1123h2.6M1096 1122h2.6M1100 1123h2.6M1111 1123h2.6M1123 1122h2.6M1135 1122h2.6M1137 1123h2.6M1141 1123h2.6M1157 1122h2.6M1183 1122h2.6M1213 1123h2.6M1090 1125h2.6M1093 1126h2.6M1119 1125h2.6M1120 1124h2.6M1133 1125h2.6M1142 1125h2.6M1166 1125h2.6M1176 1124h2.6M1186 1126h2.6M1190 1125h2.6M1096 1128h2.6M1102 1127h2.6M1109 1127h2.6M1122 1128h2.6M1136 1128h2.6M1137 1128h2.6M1147 1127h2.6M1164 1128h2.6M1170 1127h2.6M1183 1127h2.6M1201 1127h2.6M1209 1127h2.6M1217 1128h2.6M1146 1129h2.6M1152 1130h2.6M1158 1130h2.6M1168 1129h2.6M1176 1130h2.6M1219 1129h2.6M1091 1132h2.6M1093 1133h2.6M1101 1132h2.6M1118 1132h2.6M1130 1133h2.6M1134 1133h2.6M1142 1133h2.6M1147 1132h2.6M1150 1132h2.6M1172 1131h2.6M1186 1133h2.6M1201 1133h2.6M1207 1133h2.6M1226 1133h2.6M1091 1134h2.6M1097 1134h2.6M1103 1134h2.6M1116 1135h2.6M1122 1135h2.6M1133 1135h2.6M1150 1135h2.6M1169 1134h2.6M1171 1135h2.6M1174 1135h2.6M1179 1134h2.6M1183 1135h2.6M1190 1134h2.6M1214 1135h2.6M1117 1137h2.6M1120 1137h2.6M1126 1136h2.6M1136 1137h2.6M1144 1136h2.6M1150 1138h2.6M1157 1137h2.6M1181 1137h2.6M1186 1137h2.6M1189 1137h2.6M1195 1136h2.6M1198 1137h2.6M1205 1136h2.6M1100 1140h2.6M1109 1140h2.6M1111 1140h2.6M1166 1140h2.6M1175 1140h2.6M1223 1140h2.6M1229 1139h2.6M1231 1139h2.6M1093 1141h2.6M1100 1142h2.6M1104 1142h2.6M1118 1141h2.6M1126 1143h2.6M1129 1142h2.6M1131 1143h2.6M1133 1142h2.6M1136 1141h2.6M1138 1142h2.6M1143 1141h2.6M1151 1142h2.6M1158 1141h2.6M1200 1142h2.6M1102 1145h2.6M1114 1144h2.6M1118 1144h2.6M1166 1144h2.6M1181 1144h2.6M1188 1144h2.6M1190 1144h2.6M1198 1145h2.6M1216 1143h2.6M1222 1143h2.6M1227 1144h2.6M1090 1146h2.6M1104 1146h2.6M1116 1147h2.6M1119 1146h2.6M1123 1146h2.6M1129 1147h2.6M1130 1147h2.6M1148 1147h2.6M1152 1147h2.6M1167 1147h2.6M1173 1146h2.6M1179 1146h2.6M1182 1147h2.6M1186 1146h2.6M1199 1146h2.6M1205 1146h2.6M1242 1146h2.6M1095 1149h2.6M1102 1149h2.6M1107 1149h2.6M1124 1150h2.6M1128 1148h2.6M1130 1149h2.6M1135 1149h2.6M1144 1148h2.6M1159 1150h2.6M1161 1148h2.6M1163 1149h2.6M1169 1149h2.6M1197 1149h2.6M1205 1149h2.6M1212 1149h2.6M1103 1151h2.6M1106 1151h2.6M1113 1152h2.6M1123 1152h2.6M1133 1151h2.6M1139 1152h2.6M1145 1151h2.6M1150 1152h2.6M1154 1151h2.6M1161 1152h2.6M1184 1152h2.6M1217 1150h2.6M1222 1152h2.6M1141 1153h2.6M1146 1153h2.6M1153 1153h2.6M1166 1154h2.6M1186 1154h2.6M1195 1153h2.6M1205 1153h2.6M1214 1154h2.6M1097 1155h2.6M1136 1156h2.6M1147 1156h2.6M1151 1155h2.6M1158 1156h2.6M1167 1156h2.6M1174 1156h2.6M1209 1156h2.6M1212 1155h2.6M1213 1156h2.6M1230 1156h2.6M1095 1158h2.6M1111 1159h2.6M1123 1158h2.6M1139 1159h2.6M1144 1158h2.6M1177 1159h2.6M1188 1159h2.6M1196 1159h2.6M1089 1160h2.6M1092 1161h2.6M1105 1162h2.6M1122 1161h2.6M1128 1161h2.6M1147 1161h2.6M1149 1162h2.6M1159 1161h2.6M1161 1162h2.6M1195 1160h2.6M1089 1164h2.6M1098 1164h2.6M1114 1164h2.6M1138 1163h2.6M1141 1164h2.6M1146 1163h2.6M1201 1164h2.6M1093 1165h2.6M1101 1165h2.6M1104 1166h2.6M1118 1166h2.6M1126 1166h2.6M1138 1165h2.6M1149 1166h2.6M1172 1165h2.6M1173 1166h2.6M1188 1166h2.6M1190 1165h2.6M1100 1168h2.6M1128 1167h2.6M1164 1168h2.6M1170 1169h2.6M1174 1168h2.6M1181 1167h2.6M1183 1168h2.6M1203 1167h2.6M1220 1167h2.6M1105 1171h2.6M1118 1170h2.6M1123 1171h2.6M1134 1170h2.6M1145 1170h2.6M1152 1170h2.6M1185 1170h2.6M1193 1170h2.6M1150 1172h2.6M1154 1173h2.6M1176 1172h2.6M1178 1172h2.6M1186 1173h2.6M1202 1173h2.6M1209 1173h2.6M1092 1176h2.6M1108 1176h2.6M1111 1175h2.6M1113 1175h2.6M1116 1175h2.6M1139 1176h2.6M1147 1175h2.6M1153 1175h2.6M1169 1175h2.6M1174 1174h2.6M1181 1175h2.6M1203 1174h2.6M1212 1176h2.6M1102 1177h2.6M1119 1177h2.6M1128 1177h2.6M1151 1177h2.6M1166 1177h2.6M1181 1178h2.6M1185 1178h2.6M1192 1178h2.6M1197 1177h2.6M1199 1178h2.6M1209 1178h2.6M1095 1179h2.6M1099 1179h2.6M1114 1181h2.6M1116 1180h2.6M1121 1179h2.6M1124 1180h2.6M1132 1181h2.6M1168 1181h2.6M1174 1180h2.6M1184 1180h2.6M1188 1181h2.6M1195 1179h2.6M1197 1180h2.6M1200 1180h2.6M1208 1180h2.6M1210 1181h2.6M1217 1181h2.6M1093 1182h2.6M1123 1182h2.6M1128 1183h2.6M1133 1183h2.6M1135 1182h2.6M1147 1182h2.6M1157 1183h2.6M1162 1183h2.6M1163 1182h2.6M1169 1183h2.6M1180 1182h2.6M1185 1182h2.6M1098 1185h2.6M1102 1185h2.6M1146 1186h2.6M1152 1185h2.6M1178 1186h2.6M1097 1187h2.6M1121 1186h2.6M1130 1187h2.6M1137 1186h2.6M1144 1186h2.6M1164 1186h2.6M1170 1187h2.6M1174 1188h2.6M1181 1187h2.6M1205 1187h2.6M1092 1190h2.6M1120 1190h2.6M1133 1189h2.6M1134 1189h2.6M1139 1190h2.6M1150 1189h2.6M1160 1189h2.6M1180 1190h2.6M1184 1189h2.6M1212 1189h2.6M1097 1192h2.6M1119 1193h2.6M1140 1193h2.6M1142 1193h2.6M1146 1193h2.6M1157 1192h2.6M1162 1192h2.6M1164 1192h2.6M1167 1192h2.6M1168 1192h2.6M1187 1192h2.6M1205 1192h2.6M1208 1193h2.6M1215 1193h2.6M1216 1193h2.6M1104 1195h2.6M1133 1195h2.6M1135 1195h2.6M1139 1195h2.6M1165 1194h2.6M1172 1195h2.6M1178 1194h2.6M1191 1195h2.6M1106 1197h2.6M1111 1196h2.6M1114 1197h2.6M1129 1198h2.6M1160 1197h2.6M1174 1196h2.6M1181 1196h2.6M1187 1197h2.6M1199 1196h2.6M1202 1198h2.6M1101 1199h2.6M1105 1200h2.6M1182 1200h2.6M1214 1200h2.6M1114 1202h2.6M1116 1202h2.6M1125 1201h2.6M1131 1202h2.6M1132 1202h2.6M1135 1202h2.6M1150 1201h2.6M1153 1201h2.6M1159 1202h2.6M1176 1201h2.6M1185 1202h2.6M1190 1201h2.6M1193 1201h2.6M1093 1204h2.6M1101 1204h2.6M1112 1204h2.6M1131 1205h2.6M1139 1204h2.6M1147 1204h2.6M1151 1205h2.6M1154 1204h2.6M1162 1204h2.6M1169 1203h2.6M1191 1203h2.6M1212 1204h2.6M1215 1204h2.6M1101 1206h2.6M1106 1207h2.6M1109 1206h2.6M1111 1206h2.6M1152 1206h2.6M1165 1206h2.6M1166 1206h2.6M1169 1207h2.6M1172 1207h2.6M1179 1207h2.6M1181 1206h2.6M1184 1206h2.6M1220 1206h2.6M1097 1208h2.6M1120 1210h2.6M1126 1209h2.6M1129 1209h2.6M1132 1209h2.6M1140 1209h2.6M1148 1208h2.6M1176 1209h2.6M1180 1208h2.6M1200 1208h2.6M1203 1209h2.6M1206 1209h2.6M1089 1212h2.6M1139 1212h2.6M1142 1211h2.6M1154 1211h2.6M1179 1211h2.6M1195 1210h2.6M1124 1214h2.6M1131 1213h2.6M1145 1214h2.6M1168 1213h2.6M1173 1213h2.6M1188 1213h2.6M1194 1214h2.6M1217 1214h2.6M1222 1213h2.6M1094 1216h2.6M1115 1216h2.6M1124 1216h2.6M1131 1216h2.6M1133 1216h2.6M1144 1216h2.6M1149 1215h2.6M1151 1215h2.6M1166 1216h2.6M1180 1216h2.6M1187 1215h2.6M1192 1215h2.6M1198 1216h2.6M1209 1216h2.6M1214 1215h2.6M1094 1219h2.6M1115 1217h2.6M1118 1218h2.6M1122 1218h2.6M1133 1218h2.6M1143 1218h2.6M1149 1218h2.6M1152 1218h2.6M1155 1219h2.6M1180 1219h2.6M1190 1219h2.6M1196 1219h2.6M1197 1218h2.6M1205 1218h2.6M1090 1220h2.6M1099 1221h2.6M1106 1221h2.6M1119 1220h2.6M1121 1220h2.6M1124 1220h2.6M1136 1221h2.6M1143 1220h2.6M1162 1221h2.6M1166 1220h2.6M1181 1221h2.6M1185 1221h2.6M1196 1220h2.6M1207 1220h2.6M1214 1220h2.6M1090 1223h2.6M1095 1224h2.6M1106 1224h2.6M1112 1223h2.6M1131 1223h2.6M1132 1223h2.6M1137 1223h2.6M1150 1223h2.6M1163 1224h2.6M1191 1222h2.6M1197 1222h2.6M1202 1222h2.6M1213 1223h2.6M1103 1226h2.6M1109 1225h2.6M1127 1226h2.6M1137 1226h2.6M1140 1225h2.6M1158 1226h2.6M1174 1225h2.6M1208 1225h2.6M1210 1225h2.6M1222 1226h2.6" stroke="#f00000" stroke-opacity="1" stroke-width="2.6" fill="none"/><path d="M1101 999h2.6M1119 998h2.6M1117 1002h2.6M1100 1006h2.6M1113 1005h2.6M1122 1006h2.6M1126 1008h2.6M1116 1010h2.6M1129 1010h2.6M1135 1011h2.6M1145 1011h2.6M1097 1012h2.6M1102 1013h2.6M1104 1012h2.6M1107 1016h2.6M1121 1015h2.6M1150 1016h2.6M1094 1018h2.6M1099 1017h2.6M1140 1017h2.6M1142 1017h2.6M1113 1020h2.6M1133 1020h2.6M1142 1020h2.6M1149 1019h2.6M1146 1022h2.6M1147 1022h2.6M1156 1022h2.6M1164 1023h2.6M1111 1024h2.6M1118 1025h2.6M1092 1027h2.6M1099 1028h2.6M1119 1026h2.6M1125 1028h2.6M1161 1027h2.6M1096 1029h2.6M1103 1029h2.6M1162 1030h2.6M1100 1033h2.6M1105 1032h2.6M1111 1032h2.6M1124 1031h2.6M1143 1031h2.6M1178 1031h2.6M1103 1034h2.6M1118 1035h2.6M1152 1034h2.6M1162 1034h2.6M1163 1034h2.6M1167 1034h2.6M1171 1034h2.6M1184 1034h2.6M1121 1036h2.6M1134 1037h2.6M1148 1036h2.6M1106 1039h2.6M1114 1038h2.6M1137 1039h2.6M1171 1039h2.6M1173 1039h2.6M1193 1039h2.6M1111 1041h2.6M1145 1040h2.6M1148 1041h2.6M1159 1042h2.6M1177 1041h2.6M1183 1041h2.6M1098 1043h2.6M1104 1043h2.6M1121 1043h2.6M1129 1043h2.6M1138 1044h2.6M1147 1043h2.6M1172 1044h2.6M1093 1046h2.6M1102 1046h2.6M1143 1047h2.6M1145 1046h2.6M1179 1045h2.6M1097 1049h2.6M1109 1048h2.6M1119 1049h2.6M1121 1049h2.6M1123 1048h2.6M1130 1048h2.6M1137 1049h2.6M1145 1048h2.6M1169 1048h2.6M1174 1048h2.6M1181 1049h2.6M1089 1051h2.6M1108 1051h2.6M1123 1050h2.6M1126 1051h2.6M1138 1051h2.6M1140 1052h2.6M1150 1051h2.6M1154 1052h2.6M1159 1050h2.6M1167 1051h2.6M1171 1052h2.6M1183 1051h2.6M1190 1051h2.6M1202 1050h2.6M1092 1054h2.6M1099 1054h2.6M1116 1053h2.6M1123 1053h2.6M1131 1053h2.6M1134 1054h2.6M1135 1054h2.6M1159 1053h2.6M1162 1054h2.6M1192 1053h2.6M1142 1056h2.6M1150 1055h2.6M1157 1056h2.6M1167 1055h2.6M1169 1055h2.6M1172 1055h2.6M1179 1056h2.6M1183 1056h2.6M1090 1057h2.6M1097 1059h2.6M1119 1057h2.6M1124 1059h2.6M1130 1057h2.6M1147 1058h2.6M1188 1057h2.6M1202 1058h2.6M1133 1060h2.6M1145 1061h2.6M1148 1060h2.6M1150 1061h2.6M1152 1060h2.6M1160 1061h2.6M1172 1060h2.6M1096 1063h2.6M1106 1064h2.6M1118 1062h2.6M1142 1062h2.6M1161 1063h2.6M1168 1062h2.6M1178 1063h2.6M1192 1063h2.6M1124 1065h2.6M1128 1066h2.6M1132 1066h2.6M1135 1065h2.6M1138 1066h2.6M1142 1065h2.6M1145 1065h2.6M1154 1066h2.6M1157 1065h2.6M1160 1065h2.6M1089 1067h2.6M1094 1067h2.6M1100 1067h2.6M1106 1067h2.6M1108 1068h2.6M1124 1067h2.6M1134 1067h2.6M1140 1068h2.6M1144 1068h2.6M1148 1068h2.6M1092 1070h2.6M1095 1071h2.6M1104 1071h2.6M1118 1071h2.6M1126 1070h2.6M1135 1070h2.6M1143 1070h2.6M1147 1070h2.6M1151 1069h2.6M1181 1070h2.6M1183 1070h2.6M1207 1070h2.6M1091 1073h2.6M1103 1072h2.6M1116 1072h2.6M1121 1072h2.6M1129 1073h2.6M1152 1072h2.6M1154 1073h2.6M1179 1071h2.6M1121 1075h2.6M1135 1076h2.6M1138 1076h2.6M1140 1075h2.6M1149 1075h2.6M1158 1074h2.6M1177 1074h2.6M1180 1074h2.6M1184 1074h2.6M1185 1075h2.6M1188 1074h2.6M1101 1077h2.6M1112 1076h2.6M1123 1078h2.6M1128 1077h2.6M1131 1078h2.6M1138 1078h2.6M1152 1078h2.6M1154 1076h2.6M1166 1077h2.6M1168 1077h2.6M1175 1076h2.6M1179 1077h2.6M1181 1077h2.6M1197 1077h2.6M1203 1076h2.6M1215 1077h2.6M1097 1080h2.6M1101 1079h2.6M1114 1080h2.6M1121 1080h2.6M1125 1079h2.6M1130 1080h2.6M1137 1079h2.6M1140 1080h2.6M1144 1080h2.6M1166 1080h2.6M1173 1079h2.6M1178 1079h2.6M1188 1079h2.6M1193 1079h2.6M1203 1080h2.6M1097 1083h2.6M1120 1082h2.6M1131 1081h2.6M1132 1081h2.6M1140 1081h2.6M1143 1082h2.6M1144 1081h2.6M1149 1081h2.6M1152 1082h2.6M1155 1081h2.6M1158 1083h2.6M1162 1083h2.6M1164 1081h2.6M1172 1081h2.6M1175 1082h2.6M1178 1082h2.6M1188 1083h2.6M1208 1082h2.6M1214 1081h2.6M1097 1084h2.6M1123 1085h2.6M1126 1085h2.6M1130 1084h2.6M1134 1085h2.6M1140 1084h2.6M1142 1085h2.6M1146 1084h2.6M1149 1085h2.6M1153 1085h2.6M1154 1084h2.6M1157 1084h2.6M1161 1084h2.6M1169 1083h2.6M1171 1084h2.6M1177 1085h2.6M1183 1085h2.6M1192 1085h2.6M1198 1084h2.6M1092 1087h2.6M1098 1086h2.6M1124 1086h2.6M1140 1086h2.6M1145 1086h2.6M1147 1087h2.6M1155 1087h2.6M1158 1087h2.6M1162 1086h2.6M1164 1087h2.6M1178 1087h2.6M1194 1086h2.6M1198 1087h2.6M1203 1086h2.6M1093 1090h2.6M1095 1089h2.6M1097 1089h2.6M1112 1089h2.6M1123 1089h2.6M1129 1090h2.6M1130 1089h2.6M1133 1089h2.6M1137 1090h2.6M1143 1090h2.6M1147 1088h2.6M1150 1089h2.6M1152 1089h2.6M1154 1089h2.6M1166 1090h2.6M1171 1089h2.6M1178 1089h2.6M1188 1089h2.6M1191 1089h2.6M1210 1090h2.6M1100 1091h2.6M1102 1092h2.6M1104 1091h2.6M1116 1092h2.6M1118 1091h2.6M1124 1091h2.6M1126 1092h2.6M1128 1091h2.6M1141 1092h2.6M1146 1092h2.6M1149 1091h2.6M1152 1092h2.6M1154 1092h2.6M1162 1092h2.6M1165 1092h2.6M1166 1091h2.6M1168 1092h2.6M1178 1092h2.6M1188 1091h2.6M1195 1091h2.6M1210 1091h2.6M1101 1094h2.6M1115 1094h2.6M1118 1094h2.6M1121 1094h2.6M1130 1093h2.6M1133 1094h2.6M1136 1094h2.6M1137 1094h2.6M1140 1094h2.6M1159 1095h2.6M1161 1093h2.6M1172 1093h2.6M1174 1093h2.6M1178 1094h2.6M1180 1094h2.6M1183 1093h2.6M1188 1094h2.6M1196 1094h2.6M1197 1094h2.6M1217 1094h2.6M1099 1096h2.6M1107 1096h2.6M1112 1096h2.6M1118 1096h2.6M1121 1096h2.6M1125 1096h2.6M1146 1096h2.6M1152 1096h2.6M1161 1096h2.6M1163 1096h2.6M1180 1096h2.6M1183 1096h2.6M1188 1096h2.6M1194 1097h2.6M1212 1096h2.6M1099 1099h2.6M1103 1099h2.6M1116 1098h2.6M1118 1098h2.6M1123 1099h2.6M1131 1099h2.6M1136 1099h2.6M1141 1099h2.6M1147 1100h2.6M1169 1098h2.6M1170 1099h2.6M1174 1098h2.6M1179 1098h2.6M1181 1099h2.6M1186 1098h2.6M1197 1098h2.6M1205 1099h2.6M1207 1098h2.6M1209 1098h2.6M1211 1099h2.6M1102 1101h2.6M1105 1102h2.6M1106 1101h2.6M1111 1101h2.6M1119 1102h2.6M1121 1101h2.6M1123 1100h2.6M1130 1101h2.6M1137 1102h2.6M1139 1101h2.6M1145 1101h2.6M1156 1101h2.6M1159 1102h2.6M1163 1102h2.6M1167 1102h2.6M1168 1102h2.6M1175 1101h2.6M1188 1101h2.6M1194 1102h2.6M1202 1101h2.6M1204 1101h2.6M1118 1104h2.6M1121 1103h2.6M1123 1104h2.6M1128 1104h2.6M1131 1103h2.6M1135 1103h2.6M1157 1103h2.6M1159 1103h2.6M1161 1103h2.6M1167 1104h2.6M1173 1104h2.6M1175 1103h2.6M1178 1103h2.6M1186 1103h2.6M1187 1104h2.6M1198 1103h2.6M1090 1106h2.6M1095 1105h2.6M1098 1106h2.6M1102 1105h2.6M1104 1105h2.6M1109 1106h2.6M1115 1105h2.6M1117 1106h2.6M1126 1105h2.6M1127 1107h2.6M1130 1106h2.6M1132 1105h2.6M1141 1106h2.6M1142 1105h2.6M1146 1106h2.6M1150 1106h2.6M1152 1106h2.6M1155 1106h2.6M1159 1106h2.6M1169 1105h2.6M1170 1107h2.6M1174 1105h2.6M1178 1106h2.6M1181 1106h2.6M1184 1106h2.6M1206 1105h2.6M1096 1107h2.6M1100 1109h2.6M1106 1107h2.6M1111 1109h2.6M1114 1108h2.6M1116 1109h2.6M1124 1109h2.6M1126 1108h2.6M1129 1107h2.6M1131 1109h2.6M1134 1108h2.6M1138 1109h2.6M1142 1109h2.6M1153 1109h2.6M1157 1108h2.6M1159 1108h2.6M1161 1108h2.6M1170 1108h2.6M1173 1108h2.6M1182 1108h2.6M1186 1109h2.6M1205 1108h2.6M1212 1109h2.6M1090 1111h2.6M1098 1111h2.6M1099 1111h2.6M1102 1110h2.6M1107 1110h2.6M1113 1111h2.6M1116 1110h2.6M1126 1110h2.6M1128 1111h2.6M1137 1111h2.6M1140 1111h2.6M1146 1111h2.6M1157 1110h2.6M1159 1111h2.6M1162 1111h2.6M1164 1110h2.6M1168 1111h2.6M1171 1110h2.6M1181 1110h2.6M1186 1110h2.6M1192 1111h2.6M1196 1111h2.6M1198 1111h2.6M1204 1111h2.6M1090 1113h2.6M1094 1113h2.6M1096 1114h2.6M1118 1112h2.6M1122 1113h2.6M1133 1114h2.6M1140 1113h2.6M1143 1113h2.6M1145 1113h2.6M1148 1112h2.6M1166 1113h2.6M1176 1112h2.6M1178 1113h2.6M1181 1114h2.6M1186 1113h2.6M1191 1113h2.6M1202 1114h2.6M1207 1113h2.6M1219 1114h2.6M1092 1115h2.6M1098 1116h2.6M1100 1116h2.6M1102 1116h2.6M1104 1115h2.6M1117 1116h2.6M1121 1116h2.6M1123 1116h2.6M1126 1115h2.6M1130 1115h2.6M1132 1115h2.6M1138 1115h2.6M1142 1116h2.6M1147 1116h2.6M1149 1116h2.6M1153 1116h2.6M1157 1116h2.6M1162 1116h2.6M1169 1115h2.6M1171 1115h2.6M1173 1116h2.6M1176 1115h2.6M1186 1116h2.6M1193 1116h2.6M1197 1116h2.6M1207 1116h2.6M1209 1116h2.6M1214 1116h2.6M1094 1118h2.6M1106 1117h2.6M1111 1118h2.6M1114 1117h2.6M1119 1117h2.6M1124 1117h2.6M1135 1118h2.6M1138 1119h2.6M1143 1117h2.6M1146 1117h2.6M1153 1118h2.6M1162 1118h2.6M1166 1118h2.6M1176 1117h2.6M1179 1118h2.6M1183 1119h2.6M1185 1118h2.6M1190 1118h2.6M1200 1117h2.6M1204 1117h2.6M1208 1117h2.6M1219 1119h2.6M1098 1121h2.6M1099 1120h2.6M1104 1120h2.6M1107 1119h2.6M1108 1119h2.6M1114 1120h2.6M1117 1120h2.6M1118 1121h2.6M1126 1121h2.6M1130 1120h2.6M1135 1120h2.6M1138 1119h2.6M1144 1121h2.6M1152 1120h2.6M1158 1119h2.6M1160 1121h2.6M1166 1119h2.6M1169 1121h2.6M1171 1120h2.6M1176 1120h2.6M1178 1120h2.6M1182 1119h2.6M1183 1120h2.6M1186 1121h2.6M1190 1120h2.6M1197 1120h2.6M1201 1120h2.6M1219 1120h2.6M1103 1123h2.6M1104 1123h2.6M1109 1122h2.6M1114 1122h2.6M1118 1123h2.6M1126 1122h2.6M1133 1123h2.6M1145 1123h2.6M1153 1123h2.6M1155 1122h2.6M1163 1122h2.6M1166 1123h2.6M1171 1122h2.6M1174 1122h2.6M1180 1122h2.6M1185 1123h2.6M1188 1123h2.6M1193 1123h2.6M1196 1122h2.6M1197 1123h2.6M1210 1123h2.6M1218 1123h2.6M1224 1122h2.6M1095 1124h2.6M1097 1125h2.6M1102 1125h2.6M1104 1125h2.6M1107 1125h2.6M1110 1125h2.6M1112 1126h2.6M1115 1126h2.6M1124 1125h2.6M1126 1125h2.6M1128 1126h2.6M1131 1125h2.6M1138 1125h2.6M1139 1124h2.6M1145 1124h2.6M1147 1126h2.6M1151 1125h2.6M1154 1126h2.6M1161 1125h2.6M1164 1124h2.6M1170 1125h2.6M1172 1124h2.6M1173 1125h2.6M1178 1124h2.6M1188 1126h2.6M1195 1125h2.6M1197 1124h2.6M1207 1126h2.6M1210 1124h2.6M1219 1125h2.6M1099 1127h2.6M1105 1127h2.6M1106 1128h2.6M1113 1127h2.6M1123 1127h2.6M1143 1127h2.6M1150 1128h2.6M1152 1127h2.6M1160 1127h2.6M1161 1127h2.6M1166 1128h2.6M1174 1128h2.6M1179 1128h2.6M1188 1128h2.6M1193 1128h2.6M1198 1128h2.6M1215 1127h2.6M1221 1128h2.6M1092 1130h2.6M1095 1130h2.6M1104 1130h2.6M1109 1131h2.6M1111 1130h2.6M1117 1129h2.6M1121 1130h2.6M1134 1130h2.6M1138 1130h2.6M1140 1129h2.6M1142 1130h2.6M1149 1130h2.6M1155 1130h2.6M1162 1129h2.6M1164 1129h2.6M1166 1130h2.6M1186 1129h2.6M1190 1129h2.6M1193 1129h2.6M1195 1129h2.6M1197 1130h2.6M1200 1130h2.6M1207 1129h2.6M1216 1130h2.6M1099 1133h2.6M1112 1133h2.6M1114 1132h2.6M1122 1132h2.6M1125 1133h2.6M1138 1132h2.6M1155 1133h2.6M1159 1133h2.6M1168 1133h2.6M1176 1132h2.6M1178 1133h2.6M1181 1132h2.6M1183 1132h2.6M1187 1133h2.6M1191 1133h2.6M1193 1132h2.6M1196 1132h2.6M1205 1132h2.6M1213 1131h2.6M1102 1134h2.6M1106 1135h2.6M1109 1134h2.6M1112 1134h2.6M1124 1134h2.6M1127 1134h2.6M1131 1135h2.6M1136 1134h2.6M1138 1135h2.6M1141 1135h2.6M1142 1134h2.6M1147 1134h2.6M1151 1134h2.6M1157 1134h2.6M1160 1135h2.6M1165 1134h2.6M1167 1135h2.6M1181 1135h2.6M1196 1135h2.6M1198 1135h2.6M1201 1134h2.6M1202 1134h2.6M1212 1135h2.6M1092 1136h2.6M1094 1137h2.6M1104 1137h2.6M1119 1138h2.6M1123 1137h2.6M1128 1137h2.6M1133 1136h2.6M1140 1137h2.6M1142 1137h2.6M1153 1137h2.6M1155 1137h2.6M1164 1136h2.6M1173 1137h2.6M1177 1137h2.6M1178 1138h2.6M1182 1138h2.6M1192 1137h2.6M1199 1138h2.6M1202 1137h2.6M1206 1138h2.6M1209 1137h2.6M1211 1136h2.6M1090 1140h2.6M1093 1139h2.6M1103 1140h2.6M1118 1138h2.6M1126 1139h2.6M1131 1138h2.6M1133 1140h2.6M1138 1139h2.6M1145 1139h2.6M1150 1140h2.6M1152 1139h2.6M1162 1139h2.6M1164 1139h2.6M1173 1139h2.6M1180 1139h2.6M1185 1139h2.6M1193 1139h2.6M1198 1139h2.6M1200 1140h2.6M1202 1140h2.6M1095 1142h2.6M1101 1142h2.6M1110 1142h2.6M1111 1142h2.6M1113 1142h2.6M1117 1142h2.6M1124 1142h2.6M1145 1142h2.6M1147 1141h2.6M1152 1141h2.6M1155 1142h2.6M1160 1141h2.6M1162 1141h2.6M1164 1142h2.6M1166 1142h2.6M1171 1142h2.6M1178 1142h2.6M1181 1141h2.6M1207 1142h2.6M1211 1142h2.6M1214 1142h2.6M1221 1142h2.6M1090 1143h2.6M1095 1144h2.6M1097 1145h2.6M1112 1144h2.6M1122 1145h2.6M1124 1144h2.6M1125 1145h2.6M1129 1144h2.6M1133 1144h2.6M1136 1144h2.6M1138 1144h2.6M1150 1145h2.6M1153 1145h2.6M1162 1144h2.6M1168 1145h2.6M1171 1144h2.6M1174 1144h2.6M1184 1145h2.6M1194 1144h2.6M1196 1144h2.6M1208 1144h2.6M1209 1144h2.6M1214 1145h2.6M1224 1143h2.6M1095 1146h2.6M1099 1146h2.6M1102 1147h2.6M1112 1147h2.6M1114 1147h2.6M1120 1147h2.6M1126 1147h2.6M1133 1146h2.6M1135 1146h2.6M1141 1146h2.6M1143 1146h2.6M1144 1146h2.6M1149 1147h2.6M1155 1146h2.6M1157 1146h2.6M1159 1147h2.6M1162 1147h2.6M1163 1146h2.6M1169 1147h2.6M1187 1146h2.6M1193 1146h2.6M1210 1147h2.6M1213 1147h2.6M1216 1146h2.6M1089 1149h2.6M1100 1148h2.6M1117 1148h2.6M1133 1150h2.6M1138 1148h2.6M1140 1148h2.6M1150 1150h2.6M1155 1149h2.6M1158 1150h2.6M1167 1149h2.6M1174 1148h2.6M1176 1149h2.6M1179 1149h2.6M1183 1150h2.6M1188 1148h2.6M1196 1149h2.6M1200 1150h2.6M1203 1149h2.6M1207 1149h2.6M1089 1151h2.6M1098 1150h2.6M1101 1151h2.6M1108 1152h2.6M1112 1151h2.6M1115 1151h2.6M1118 1150h2.6M1126 1151h2.6M1129 1151h2.6M1136 1151h2.6M1153 1151h2.6M1160 1152h2.6M1164 1151h2.6M1167 1150h2.6M1168 1151h2.6M1174 1151h2.6M1179 1152h2.6M1181 1151h2.6M1186 1152h2.6M1190 1151h2.6M1198 1152h2.6M1200 1152h2.6M1204 1152h2.6M1209 1151h2.6M1213 1151h2.6M1092 1155h2.6M1100 1154h2.6M1101 1154h2.6M1104 1153h2.6M1107 1153h2.6M1109 1154h2.6M1112 1153h2.6M1114 1154h2.6M1116 1154h2.6M1125 1154h2.6M1131 1154h2.6M1133 1154h2.6M1143 1153h2.6M1147 1154h2.6M1156 1154h2.6M1164 1154h2.6M1169 1154h2.6M1172 1153h2.6M1173 1153h2.6M1176 1154h2.6M1179 1153h2.6M1181 1154h2.6M1189 1153h2.6M1191 1154h2.6M1210 1154h2.6M1213 1154h2.6M1095 1157h2.6M1102 1157h2.6M1105 1156h2.6M1107 1157h2.6M1111 1157h2.6M1113 1156h2.6M1115 1156h2.6M1118 1156h2.6M1123 1156h2.6M1131 1155h2.6M1137 1156h2.6M1143 1155h2.6M1157 1156h2.6M1164 1155h2.6M1168 1156h2.6M1171 1157h2.6M1176 1156h2.6M1179 1155h2.6M1181 1157h2.6M1184 1156h2.6M1186 1156h2.6M1200 1156h2.6M1092 1158h2.6M1099 1158h2.6M1105 1159h2.6M1107 1159h2.6M1119 1158h2.6M1126 1158h2.6M1128 1158h2.6M1130 1158h2.6M1135 1158h2.6M1138 1159h2.6M1147 1159h2.6M1156 1159h2.6M1159 1159h2.6M1162 1159h2.6M1164 1158h2.6M1166 1158h2.6M1174 1158h2.6M1178 1159h2.6M1184 1159h2.6M1185 1159h2.6M1193 1158h2.6M1202 1159h2.6M1210 1159h2.6M1212 1158h2.6M1214 1159h2.6M1100 1162h2.6M1112 1162h2.6M1114 1161h2.6M1115 1160h2.6M1118 1161h2.6M1123 1161h2.6M1126 1160h2.6M1132 1161h2.6M1143 1160h2.6M1145 1160h2.6M1154 1161h2.6M1157 1162h2.6M1166 1161h2.6M1171 1160h2.6M1174 1160h2.6M1178 1161h2.6M1180 1160h2.6M1185 1160h2.6M1189 1161h2.6M1194 1161h2.6M1197 1162h2.6M1200 1161h2.6M1208 1160h2.6M1101 1163h2.6M1104 1164h2.6M1106 1163h2.6M1108 1162h2.6M1111 1164h2.6M1116 1163h2.6M1119 1163h2.6M1128 1163h2.6M1131 1163h2.6M1134 1163h2.6M1142 1163h2.6M1148 1162h2.6M1149 1164h2.6M1152 1162h2.6M1160 1164h2.6M1164 1164h2.6M1166 1163h2.6M1168 1163h2.6M1171 1163h2.6M1174 1163h2.6M1182 1164h2.6M1183 1164h2.6M1185 1164h2.6M1193 1163h2.6M1196 1163h2.6M1210 1163h2.6M1212 1164h2.6M1216 1164h2.6M1095 1166h2.6M1098 1166h2.6M1099 1166h2.6M1107 1166h2.6M1110 1166h2.6M1116 1166h2.6M1124 1165h2.6M1128 1165h2.6M1131 1166h2.6M1133 1165h2.6M1143 1165h2.6M1151 1166h2.6M1154 1165h2.6M1157 1165h2.6M1159 1165h2.6M1164 1165h2.6M1168 1166h2.6M1179 1165h2.6M1183 1165h2.6M1199 1166h2.6M1210 1165h2.6M1095 1169h2.6M1097 1169h2.6M1106 1168h2.6M1109 1168h2.6M1115 1168h2.6M1120 1167h2.6M1125 1168h2.6M1131 1169h2.6M1133 1169h2.6M1136 1168h2.6M1140 1168h2.6M1147 1168h2.6M1151 1168h2.6M1154 1168h2.6M1157 1168h2.6M1161 1168h2.6M1166 1168h2.6M1179 1169h2.6M1187 1169h2.6M1190 1169h2.6M1193 1167h2.6M1196 1169h2.6M1197 1168h2.6M1205 1168h2.6M1092 1171h2.6M1094 1171h2.6M1109 1171h2.6M1111 1170h2.6M1114 1171h2.6M1125 1170h2.6M1130 1171h2.6M1138 1170h2.6M1140 1171h2.6M1143 1170h2.6M1155 1171h2.6M1159 1171h2.6M1163 1171h2.6M1172 1171h2.6M1176 1171h2.6M1181 1170h2.6M1188 1170h2.6M1090 1174h2.6M1102 1173h2.6M1107 1173h2.6M1114 1172h2.6M1121 1173h2.6M1123 1172h2.6M1125 1172h2.6M1131 1173h2.6M1133 1173h2.6M1140 1173h2.6M1143 1173h2.6M1145 1173h2.6M1147 1173h2.6M1157 1172h2.6M1162 1174h2.6M1166 1172h2.6M1169 1173h2.6M1172 1172h2.6M1174 1173h2.6M1182 1173h2.6M1183 1173h2.6M1191 1173h2.6M1192 1172h2.6M1198 1173h2.6M1205 1172h2.6M1216 1173h2.6M1103 1175h2.6M1119 1174h2.6M1122 1176h2.6M1126 1175h2.6M1128 1175h2.6M1134 1175h2.6M1135 1175h2.6M1145 1175h2.6M1150 1176h2.6M1155 1176h2.6M1162 1176h2.6M1164 1174h2.6M1167 1176h2.6M1172 1176h2.6M1176 1176h2.6M1185 1176h2.6M1188 1175h2.6M1191 1175h2.6M1205 1175h2.6M1093 1178h2.6M1099 1178h2.6M1104 1178h2.6M1106 1177h2.6M1109 1178h2.6M1123 1177h2.6M1134 1177h2.6M1136 1177h2.6M1138 1178h2.6M1140 1177h2.6M1142 1178h2.6M1151 1177h2.6M1154 1178h2.6M1159 1178h2.6M1173 1178h2.6M1184 1177h2.6M1190 1177h2.6M1205 1177h2.6M1097 1179h2.6M1111 1181h2.6M1118 1180h2.6M1129 1181h2.6M1136 1179h2.6M1141 1180h2.6M1142 1181h2.6M1151 1181h2.6M1158 1180h2.6M1159 1180h2.6M1164 1180h2.6M1166 1180h2.6M1171 1180h2.6M1176 1180h2.6M1179 1179h2.6M1091 1183h2.6M1099 1182h2.6M1102 1182h2.6M1105 1183h2.6M1111 1182h2.6M1118 1183h2.6M1126 1182h2.6M1139 1183h2.6M1150 1183h2.6M1153 1183h2.6M1154 1183h2.6M1159 1183h2.6M1166 1183h2.6M1178 1182h2.6M1191 1182h2.6M1193 1183h2.6M1200 1182h2.6M1095 1186h2.6M1112 1185h2.6M1114 1185h2.6M1124 1186h2.6M1128 1185h2.6M1131 1185h2.6M1134 1186h2.6M1138 1185h2.6M1140 1185h2.6M1159 1184h2.6M1161 1184h2.6M1166 1184h2.6M1180 1185h2.6M1184 1184h2.6M1185 1185h2.6M1197 1185h2.6M1109 1187h2.6M1124 1188h2.6M1128 1187h2.6M1133 1188h2.6M1149 1187h2.6M1152 1187h2.6M1154 1188h2.6M1158 1187h2.6M1158 1187h2.6M1167 1188h2.6M1176 1187h2.6M1183 1187h2.6M1188 1188h2.6M1123 1190h2.6M1128 1190h2.6M1130 1189h2.6M1139 1190h2.6M1145 1189h2.6M1155 1190h2.6M1157 1190h2.6M1164 1190h2.6M1168 1190h2.6M1171 1190h2.6M1179 1190h2.6M1200 1189h2.6M1091 1191h2.6M1133 1193h2.6M1147 1192h2.6M1155 1192h2.6M1159 1192h2.6M1175 1191h2.6M1178 1191h2.6M1191 1193h2.6M1192 1193h2.6M1195 1192h2.6M1202 1192h2.6M1094 1194h2.6M1126 1194h2.6M1131 1195h2.6M1143 1194h2.6M1145 1194h2.6M1151 1195h2.6M1154 1194h2.6M1162 1194h2.6M1197 1195h2.6M1102 1197h2.6M1104 1197h2.6M1119 1197h2.6M1133 1196h2.6M1135 1197h2.6M1147 1197h2.6M1164 1196h2.6M1186 1197h2.6M1190 1196h2.6M1207 1197h2.6M1095 1200h2.6M1099 1199h2.6M1107 1199h2.6M1119 1200h2.6M1143 1199h2.6M1145 1199h2.6M1158 1200h2.6M1159 1199h2.6M1172 1199h2.6M1173 1200h2.6M1192 1200h2.6M1094 1202h2.6M1102 1201h2.6M1107 1201h2.6M1137 1201h2.6M1148 1202h2.6M1157 1202h2.6M1161 1201h2.6M1166 1201h2.6M1171 1201h2.6M1178 1201h2.6M1181 1201h2.6M1188 1202h2.6M1197 1202h2.6M1205 1202h2.6M1208 1201h2.6M1089 1204h2.6M1097 1204h2.6M1100 1204h2.6M1116 1205h2.6M1123 1204h2.6M1125 1204h2.6M1128 1205h2.6M1135 1204h2.6M1138 1205h2.6M1160 1204h2.6M1172 1204h2.6M1176 1203h2.6M1182 1205h2.6M1183 1204h2.6M1193 1204h2.6M1195 1203h2.6M1204 1204h2.6M1210 1204h2.6M1117 1207h2.6M1129 1206h2.6M1130 1206h2.6M1141 1206h2.6M1142 1207h2.6M1144 1207h2.6M1155 1205h2.6M1158 1207h2.6M1159 1206h2.6M1207 1207h2.6M1092 1209h2.6M1101 1208h2.6M1113 1209h2.6M1123 1209h2.6M1130 1209h2.6M1135 1210h2.6M1154 1209h2.6M1160 1209h2.6M1162 1208h2.6M1164 1209h2.6M1167 1209h2.6M1210 1209h2.6M1094 1210h2.6M1097 1211h2.6M1100 1211h2.6M1108 1211h2.6M1111 1211h2.6M1113 1211h2.6M1125 1212h2.6M1147 1211h2.6M1150 1211h2.6M1160 1211h2.6M1168 1211h2.6M1171 1211h2.6M1174 1212h2.6M1185 1212h2.6M1193 1210h2.6M1201 1212h2.6M1205 1211h2.6M1090 1213h2.6M1097 1213h2.6M1105 1214h2.6M1111 1213h2.6M1113 1213h2.6M1116 1214h2.6M1119 1214h2.6M1121 1213h2.6M1128 1213h2.6M1138 1214h2.6M1140 1213h2.6M1147 1214h2.6M1149 1214h2.6M1152 1213h2.6M1162 1213h2.6M1167 1214h2.6M1176 1213h2.6M1184 1213h2.6M1202 1213h2.6M1204 1214h2.6M1206 1214h2.6M1092 1216h2.6M1097 1216h2.6M1101 1215h2.6M1105 1216h2.6M1109 1216h2.6M1119 1216h2.6M1125 1216h2.6M1128 1215h2.6M1138 1216h2.6M1140 1216h2.6M1155 1216h2.6M1157 1215h2.6M1159 1217h2.6M1168 1216h2.6M1171 1216h2.6M1185 1216h2.6M1089 1218h2.6M1100 1218h2.6M1104 1218h2.6M1108 1217h2.6M1115 1217h2.6M1129 1218h2.6M1135 1217h2.6M1145 1217h2.6M1148 1218h2.6M1157 1219h2.6M1160 1218h2.6M1167 1218h2.6M1169 1219h2.6M1183 1218h2.6M1192 1219h2.6M1210 1219h2.6M1093 1221h2.6M1095 1221h2.6M1096 1221h2.6M1117 1221h2.6M1131 1220h2.6M1137 1221h2.6M1141 1220h2.6M1144 1221h2.6M1153 1221h2.6M1158 1222h2.6M1169 1221h2.6M1171 1221h2.6M1178 1221h2.6M1188 1220h2.6M1190 1220h2.6M1198 1221h2.6M1099 1223h2.6M1103 1222h2.6M1108 1223h2.6M1114 1223h2.6M1124 1224h2.6M1129 1223h2.6M1144 1223h2.6M1148 1223h2.6M1152 1223h2.6M1155 1223h2.6M1164 1222h2.6M1167 1223h2.6M1172 1222h2.6M1173 1224h2.6M1176 1224h2.6M1178 1223h2.6M1180 1223h2.6M1183 1223h2.6M1185 1223h2.6M1192 1223h2.6M1194 1222h2.6M1090 1225h2.6M1092 1226h2.6M1097 1225h2.6M1116 1226h2.6M1119 1226h2.6M1145 1226h2.6M1147 1225h2.6M1150 1225h2.6M1154 1225h2.6M1159 1225h2.6M1164 1226h2.6M1169 1226h2.6M1172 1225h2.6M1176 1226h2.6M1181 1226h2.6M1188 1225h2.6" stroke="#ff2020" stroke-opacity="1" stroke-width="2.6" fill="none"/></g><rect x="296.9" y="882.2" width="43" height="43.5" fill="#ed7d31"/><rect x="560.3" y="882.2" width="43.8" height="43.5" fill="#548235"/><rect x="824.5" y="882.7" width="44.6" height="43.9" fill="#0070c0"/><rect x="1091.9" y="882.5" width="43.5" height="43.9" fill="#c00000"/><g fill="#fff" font-size="29.2"><text x="301.6" y="914.1">Sr</text><text x="566.8" y="914.1">Ti</text><text x="825.8" y="914.1">Ru</text><text x="1098.6" y="914.1">O</text></g><rect x="194.5" y="1210.3" width="73.3" height="5.4" fill="#fff"/><rect x="458" y="1210.3" width="73.8" height="5.4" fill="#fff"/><rect x="722" y="1210.3" width="73.3" height="5.4" fill="#fff"/><rect x="985.5" y="1210.3" width="73.5" height="5.4" fill="#fff"/><rect x="1250.2" y="1210.3" width="73.3" height="5.4" fill="#fff"/><text x="7" y="909.7" font-size="42" font-weight="bold" text-anchor="middle">f</text></svg></body></html>
